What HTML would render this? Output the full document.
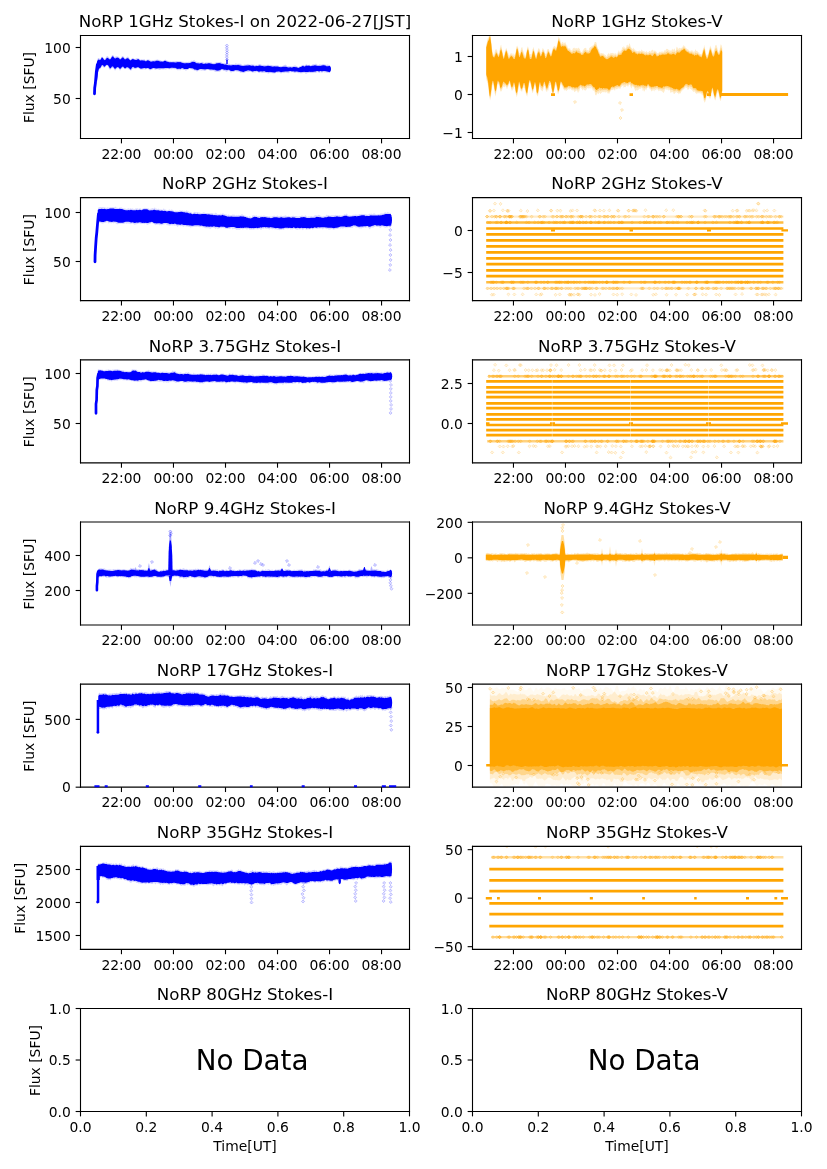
<!DOCTYPE html>
<html><head><meta charset="utf-8"><title>NoRP</title>
<style>html,body{margin:0;padding:0;background:#fff;width:827px;height:1169px;overflow:hidden}
text{font-family:"DejaVu Sans","Liberation Sans",sans-serif}
svg{will-change:transform}
.u0{stroke:#000000;stroke-width:0.8}.u1{fill:#0000ff;fill-opacity:0.1;stroke:#0000ff;stroke-opacity:0.3;stroke-width:0.5;stroke-linejoin:miter}.u2{fill:#ffa500;fill-opacity:0.12;stroke:#ffa500;stroke-opacity:0.36;stroke-width:0.5;stroke-linejoin:miter}.u3{fill:#ffa500;fill-opacity:0.1;stroke:#ffa500;stroke-opacity:0.3;stroke-width:0.5;stroke-linejoin:miter}.u4{fill:#ffa500;fill-opacity:0.14;stroke:#ffa500;stroke-opacity:0.42;stroke-width:0.5;stroke-linejoin:miter}.u5{fill:#0000ff;fill-opacity:0.14;stroke:#0000ff;stroke-opacity:0.42;stroke-width:0.5;stroke-linejoin:miter}.u6{fill:#0000ff;fill-opacity:0.12;stroke:#0000ff;stroke-opacity:0.36;stroke-width:0.5;stroke-linejoin:miter}</style></head>
<body>
<svg width="827" height="1169" viewBox="0 0 595.44 841.68" style="display:block">
<defs>
<style type="text/css">*{stroke-linejoin: round; stroke-linecap: butt}</style>
</defs>
<g id="figure_1">
<g id="patch_1">
<path d="M 0 841.68 595.44 841.68 595.44 0 0 0 z" style="fill: #ffffff"/>
</g>
<g id="axes_1">
<g id="patch_2">
<path d="M 57.96 99.72 294.84 99.72 294.84 25.56 57.96 25.56 z" style="fill: #ffffff"/>
</g>
<g id="matplotlib.axis_1">
<g id="xtick_1">
<g id="line2d_1">
<defs>
<path id="m1504cfccaf" d="M 0 0 0 3.5" style="stroke: #000000; stroke-width: 0.8"/>
</defs>
<g>
<use href="#m1504cfccaf" x="87.45" y="99.72" class="u0"/>
</g>
</g>
<g id="text_1">
<text style="font-size: 10px; font-family: 'DejaVu Sans', 'Liberation Sans', sans-serif; text-anchor: middle" x="87.45" y="114.32">22:00</text>
</g>
</g>
<g id="xtick_2">
<g id="line2d_2">
<g>
<use href="#m1504cfccaf" x="124.9" y="99.72" class="u0"/>
</g>
</g>
<g id="text_2">
<text style="font-size: 10px; font-family: 'DejaVu Sans', 'Liberation Sans', sans-serif; text-anchor: middle" x="124.9" y="114.32">00:00</text>
</g>
</g>
<g id="xtick_3">
<g id="line2d_3">
<g>
<use href="#m1504cfccaf" x="162.36" y="99.72" class="u0"/>
</g>
</g>
<g id="text_3">
<text style="font-size: 10px; font-family: 'DejaVu Sans', 'Liberation Sans', sans-serif; text-anchor: middle" x="162.36" y="114.32">02:00</text>
</g>
</g>
<g id="xtick_4">
<g id="line2d_4">
<g>
<use href="#m1504cfccaf" x="199.81" y="99.72" class="u0"/>
</g>
</g>
<g id="text_4">
<text style="font-size: 10px; font-family: 'DejaVu Sans', 'Liberation Sans', sans-serif; text-anchor: middle" x="199.81" y="114.32">04:00</text>
</g>
</g>
<g id="xtick_5">
<g id="line2d_5">
<g>
<use href="#m1504cfccaf" x="237.26" y="99.72" class="u0"/>
</g>
</g>
<g id="text_5">
<text style="font-size: 10px; font-family: 'DejaVu Sans', 'Liberation Sans', sans-serif; text-anchor: middle" x="237.26" y="114.32">06:00</text>
</g>
</g>
<g id="xtick_6">
<g id="line2d_6">
<g>
<use href="#m1504cfccaf" x="274.71" y="99.72" class="u0"/>
</g>
</g>
<g id="text_6">
<text style="font-size: 10px; font-family: 'DejaVu Sans', 'Liberation Sans', sans-serif; text-anchor: middle" x="274.71" y="114.32">08:00</text>
</g>
</g>
</g>
<g id="matplotlib.axis_2">
<g id="ytick_1">
<g id="line2d_7">
<defs>
<path id="m5d545ce8f8" d="M 0 0 -3.5 0" style="stroke: #000000; stroke-width: 0.8"/>
</defs>
<g>
<use href="#m5d545ce8f8" x="57.96" y="70.92" class="u0"/>
</g>
</g>
<g id="text_7">
<text style="font-size: 10px; font-family: 'DejaVu Sans', 'Liberation Sans', sans-serif; text-anchor: end" x="50.96" y="74.72">50</text>
</g>
</g>
<g id="ytick_2">
<g id="line2d_8">
<g>
<use href="#m5d545ce8f8" x="57.96" y="34.2" class="u0"/>
</g>
</g>
<g id="text_8">
<text style="font-size: 10px; font-family: 'DejaVu Sans', 'Liberation Sans', sans-serif; text-anchor: end" x="50.96" y="38">100</text>
</g>
</g>
<g id="text_9">
<text style="font-size: 10px; font-family: 'DejaVu Sans', 'Liberation Sans', sans-serif; text-anchor: middle" x="24.35" y="63" transform="rotate(-90 24.353 63.000)">Flux [SFU]</text>
</g>
</g>
<g id="patch_3">
<path d="M69.8 43.4l.8-1.6 .7-.1 .7 1 .7-.9 .7-1.1 .8 .5 .7 1.3 .7-.3 .7-.7 .7-1.1 .8 .3 .7 .7 .7 .7 .7-.9 .7-1.2 .8-.6 .7 1.5 .7 .2 .7-.6 .7 .1 .8 .1 .7 .4 .7 .8 .7-.1 .7-1.3 .8-.2 .7 .9 .7 .7 .7-.1 .7-.7 .8-.5 .7 1.2 .7 1 .7 0 .7-.8 .8-.5 .7 .8 .7 .2 .7-.3 .7-.4 .8 .1 .7 .2 .7 .9 .7-.2 .7-.2 .8 .4 .7-.5 .7 .6 .7 .4 .7-.6 .8-.1 .7 .1 .7 .3 .7 .5 .7-.2 .8-.1 .7 .1 .7-.4 .7 .1 .7-.4 .8 .1 .7 .5 .7-.4 .7 .7 .7 0 .8 .2 .7-.6 .7-.2 .7 0 .7 .6 .8 0 .7 .5 .7-.3 .7 .3 .7 .1 .8-.2 .7 0 .7 .1 .7-.3 .7 .1 .8 0 .7 .1 .7-.1 .7 .1 .7 .3 .8 .1 .7 .2 .7 .2 .7-.5 .7 .3 .8-.1 .7-.3 .7 .5 .7-1 .7-.1 .8 .2 .7-.8 .7 .8 .7 .3 .7 .3 .8 .2 .7 0 .7 .4 .7-.3 .7-.4 .8 .3 .7 .6 .7-.2 .7-.3 .7 .2 .8-.1 .7 0 .7 .1 .7-.1 .7 .2 .8 .5 .7-.4 .7 .2 .7-.6 .7 0 .8 .1 .7-.2 .7 0 .7-.2 .7 .8 .8 0 .7 .5 .7-.6 .7 .5 .7 .1 .8 .4 .7-.6 .7 .6 .7 .1 .7-.2 .8 0 .7 .1 .7-.2 .7-.7 .7 1 .8-.5 .7 .3 .7-.3 .7 .5 .7 .4 .8 .2 .7-.5 .7 .1 .7 0 .7-.3 .8-.3 .7 .5 .7 0 .7 .2 .7-.4 .8 .4 .7-.2 .7 .6 .7-.3 .7 .1 .8-.1 .7-.4 .7-.3 .7 .5 .7 .3 .8-.1 .7 .1 .7-.1 .7 .2 .7-.2 .8 0 .7-.1 .7 .3 .7-.2 .7 .3 .8 .2 .7-.1 .7 0 .7-.1 .7 .2 .8-.2 .7 .7 .7-.1 .7-.1 .7 0 .8-.2 .7-.3 .7-.3 .7 0 .7 .9 .8 .3 .7-.5 .7 .5 .7-.3 .7 .4 .8-.4 .7-.2 .7-.3 .7 .3 .7 .3 .8 .5 .7-.2 .7-.4 .7-.1 .7-.5 .8-.3 .7 .2 .7 .2 .7-.8 .7 .2 .8 .4 .7-.5 .7 .4 .7 .3 .7-.5 .8-.4 .7 .1 .7-.1 .7-.5 .7 .8 .8 .3 .7-.2 .7-.3 .7 .3 .7-.2 .8-.4 .7 .3 .7 .1 .7 .2 .7 0 .8-.2 .7 .6 .7-.1 0 5.4-.7 .1-.7 0-.8-.1-.7-.3-.7 .2-.7-.2-.7-.1-.8 .6-.7-.7-.7 .4-.7 .4-.7-.7-.8 .2-.7 .2-.7 .3-.7-.4-.7 .5-.8-.3-.7 .3-.7-.4-.7 0-.7 .3-.8 .2-.7 .4-.7-.6-.7-.2-.7 .1-.8 .2-.7 .1-.7-.1-.7-.2-.7 .2-.8-.7-.7 .4-.7 .2-.7 0-.7-.7-.8 .2-.7-.1-.7-.2-.7 .8-.7 .2-.8-.4-.7-.1-.7-.1-.7 .5-.7-.3-.8 .1-.7 .4-.7-.4-.7-.5-.7 .5-.8-.3-.7 .1-.7 .7-.7-.2-.7 .1-.8-.3-.7 .2-.7-.5-.7 .7-.7 0-.8-.4-.7-.1-.7-.1-.7 0-.7-.1-.8 .2-.7-.4-.7 .1-.7 .5-.7-.6-.8-.5-.7 .3-.7 .5-.7-.5-.7 .5-.8-.3-.7-.5-.7 0-.7 0-.7 .5-.8-.5-.7 .3-.7 .3-.7 .1-.7 .4-.8-.6-.7 .5-.7-.6-.7-.2-.7-.4-.8 0-.7-.1-.7-.1-.7 .6-.7 .1-.8 0-.7 .5-.7-1-.7-.5-.7 .1-.8 .6-.7 0-.7-.6-.7 .2-.7-.5-.8-.5-.7 .5-.7 .9-.7-.1-.7 .2-.8-.1-.7 0-.7 .1-.7-.6-.7-.3-.8 .1-.7 0-.7 0-.7-.5-.7 0-.8 0-.7 .2-.7 .5-.7-.2-.7-.4-.8 .3-.7-.1-.7-.3-.7 .3-.7 .3-.8 .7-.7-.9-.7 .1-.7-.3-.7-.2-.8-.6-.7 .2-.7-.5-.7 .2-.7 .5-.8 .2-.7 .5-.7-.5-.7 0-.7-.2-.8-.3-.7 .4-.7 .4-.7-.7-.7 .7-.8-.5-.7-.3-.7-.3-.7 .4-.7-.6-.8 .7-.7-.5-.7 .3-.7 0-.7-.3-.8 .1-.7 .4-.7-.2-.7 0-.7 .1-.8-.1-.7 0-.7 .5-.7-.2-.7-.3-.8 0-.7 .2-.7 .3-.7-.9-.7 .1-.8 .6-.7 .1-.7 .5-.7-.7-.7-.4-.8-.1-.7 .3-.7 .4-.7-.6-.7 .3-.8 0-.7 .2-.7-.3-.7-.5-.7-.5-.8 .3-.7 .5-.7 .1-.7-.4-.7-.3-.8 .7-.7 1.4-.7-.9-.7-.1-.7-.8-.8-.3-.7 .4-.7 .4-.7-.6-.7-.7-.8 .8-.7 .4-.7 1.1-.7-1.4-.7-.5-.8 .4-.7 .7-.7 .8-.7-1.4-.7-.5-.8-.3-.7 .9-.7 .7-.7-.7-.7-2-.8-.2-.7 .2-.7 1-.7 .1-.7-.5-.8-.7-.7 1.5-.7 1-.7-.1-.7 3-.8 7.2z" clip-path="url(#pdfc930a6b6)" style="fill: #0000ff; opacity: 0.2"/>
</g>
<g id="line2d_9">
<defs>
<path id="mce796437ce" d="M -0 1.1 1.1 0 0 -1.1 -1.1 -0 z" style="stroke: #0000ff; stroke-opacity: 0.3; stroke-width: 0.5; stroke-linejoin: miter"/>
</defs>
<g clip-path="url(#pdfc930a6b6)">
<use href="#mce796437ce" x="163.43" y="42.84" class="u1"/>
<use href="#mce796437ce" x="163.32" y="41.16" class="u1"/>
<use href="#mce796437ce" x="163.33" y="39.48" class="u1"/>
<use href="#mce796437ce" x="163.45" y="37.8" class="u1"/>
<use href="#mce796437ce" x="163.45" y="36.12" class="u1"/>
<use href="#mce796437ce" x="163.32" y="34.44" class="u1"/>
<use href="#mce796437ce" x="163.35" y="32.76" class="u1"/>
</g>
</g>
<g id="patch_4">
<path d="M 57.96 99.72 57.96 25.56" style="fill: none; stroke: #000000; stroke-width: 0.8; stroke-linejoin: miter; stroke-linecap: square"/>
</g>
<g id="patch_5">
<path d="M 294.84 99.72 294.84 25.56" style="fill: none; stroke: #000000; stroke-width: 0.8; stroke-linejoin: miter; stroke-linecap: square"/>
</g>
<g id="patch_6">
<path d="M 57.96 99.72 294.84 99.72" style="fill: none; stroke: #000000; stroke-width: 0.8; stroke-linejoin: miter; stroke-linecap: square"/>
</g>
<g id="patch_7">
<path d="M 57.96 25.56 294.84 25.56" style="fill: none; stroke: #000000; stroke-width: 0.8; stroke-linejoin: miter; stroke-linecap: square"/>
</g>
<g id="patch_8">
<path d="M69.8 44.4l.8-1.4 .7-.1 .7 .5 .7-1 .7-1.1 .8 .6 .7 1.2 .7 .3 .7-.9 .7-1 .8 .2 .7 .7 .7 .5 .7-.8 .7-1.2 .8-.4 .7 1.1 .7 .5 .7-.1 .7-.6 .8 .2 .7 .4 .7 .8 .7-.4 .7-.8 .8-.4 .7 1 .7 .6 .7-.3 .7-.5 .8-.1 .7 .6 .7 .9 .7 0 .7-.8 .8-.1 .7 .4 .7 .2 .7 .1 .7-.2 .8-.5 .7 .4 .7 .7 .7 0 .7-.2 .8 .2 .7-.1 .7 .3 .7 .4 .7-.6 .8-.2 .7 .4 .7 .3 .7 .3 .7-.2 .8-.1 .7 0 .7 .1 .7-.4 .7 0 .8-.1 .7 .3 .7 .3 .7 0 .7 0 .8 .2 .7-.5 .7-.2 .7 .2 .7 .4 .8 .1 .7 .3 .7 0 .7 .1 .7 0 .8-.1 .7 0 .7 .2 .7 0 .7-.2 .8-.1 .7 .1 .7-.1 .7 .2 .7 .2 .8 .2 .7 .2 .7 0 .7 0 .7-.1 .8 .2 .7-.3 .7 .1 .7-.4 .7-.4 .8-.1 .7 .1 .7 0 .7 .7 .7 .3 .8-.1 .7 .3 .7 0 .7-.4 .7 .2 .8 .3 .7 .1 .7-.3 .7 .1 .7 .1 .8-.3 .7 0 .7 0 .7 .3 .7 0 .8 .3 .7-.2 .7 .2 .7-.5 .7-.2 .8 .1 .7-.2 .7 .2 .7 .1 .7 .3 .8-.1 .7 .5 .7 0 .7 0 .7 .2 .8 .4 .7-.1 .7 0 .7 .3 .7-.3 .8-.1 .7 0 .7 .1 .7-.1 .7 .1 .8-.3 .7 .3 .7 0 .7 .4 .7 .1 .8 .2 .7-.3 .7 0 .7-.2 .7 0 .8 .1 .7-.2 .7 0 .7 .3 .7 0 .8-.1 .7 .3 .7 .4 .7-.5 .7 .1 .8 .1 .7-.4 .7-.1 .7 .3 .7 .1 .8 0 .7 .4 .7-.2 .7 0 .7-.2 .8-.1 .7 .2 .7 0 .7 .1 .7 .2 .8 .1 .7-.3 .7 .2 .7-.1 .7 0 .8 .1 .7 .4 .7 0 .7 .1 .7-.1 .8-.2 .7-.1 .7 .1 .7-.1 .7 .2 .8 .4 .7 0 .7-.1 .7 0 .7 .2 .8-.4 .7 0 .7-.1 .7 .3 .7 0 .8 .5 .7-.3 .7-.4 .7-.1 .7-.5 .8-.3 .7 .4 .7 0 .7-.6 .7 .2 .8 0 .7-.2 .7 .3 .7 .2 .7-.3 .8-.1 .7-.1 .7-.3 .7 .2 .7 .3 .8 .1 .7-.1 .7 .2 .7-.3 .7-.2 .8-.1 .7 0 .7 .2 .7 .2 .7 .5 .8-.3 .7 .2 .7-.1 0 3.9-.7 0-.7 0-.8-.1-.7-.2-.7-.1-.7-.1-.7 .1-.8 .2-.7-.2-.7 0-.7 .4-.7-.5-.8 0-.7 .2-.7 .4-.7-.2-.7 .3-.8-.2-.7 .2-.7-.1-.7 0-.7 .1-.8 .1-.7-.1-.7 0-.7-.1-.7 .2-.8 0-.7 .2-.7-.2-.7 0-.7-.3-.8-.2-.7 0-.7 .2-.7-.1-.7-.2-.8 .2-.7-.3-.7-.1-.7 .2-.7 .2-.8-.1-.7 0-.7 .1-.7 .2-.7-.1-.8 .3-.7 .1-.7-.4-.7-.2-.7 .1-.8 .1-.7 0-.7 .8-.7-.3-.7 .1-.8-.4-.7 .2-.7-.3-.7 .4-.7-.3-.8 .1-.7-.1-.7-.3-.7-.4-.7 .3-.8 .1-.7-.2-.7 .2-.7 .2-.7-.2-.8-.5-.7 .2-.7 0-.7-.1-.7 .3-.8 0-.7-.4-.7-.1-.7-.1-.7-.2-.8 .4-.7 .1-.7 .2-.7 .3-.7 .2-.8-.4-.7 .1-.7-.4-.7-.2-.7-.3-.8 0-.7-.2-.7 .2-.7 .4-.7 .1-.8 0-.7 .1-.7-.4-.7-.5-.7 0-.8 .2-.7-.2-.7-.1-.7 .1-.7-.5-.8-.2-.7 .4-.7 .6-.7 0-.7 .3-.8-.1-.7-.1-.7-.4-.7-.1-.7 0-.8-.1-.7 0-.7 0-.7-.3-.7-.2-.8 .1-.7 .2-.7 .1-.7-.1-.7 0-.8-.3-.7 .1-.7 0-.7 .3-.7 .4-.8 .2-.7-.5-.7 .1-.7-.3-.7-.5-.8-.2-.7 0-.7-.3-.7 .1-.7 .6-.8 0-.7 0-.7 0-.7 .1-.7-.5-.8-.2-.7 .5-.7 .1-.7-.2-.7 .2-.8-.1-.7-.3-.7-.4-.7 .1-.7-.2-.8 .1-.7-.1-.7 .5-.7-.1-.7-.2-.8 0-.7 .1-.7-.1-.7 .3-.7 0-.8 0-.7-.1-.7 0-.7 0-.7 .1-.8 .1-.7 0-.7-.1-.7-.3-.7 0-.8 .4-.7 .3-.7 .2-.7-.5-.7-.3-.8-.1-.7 .4-.7-.4-.7 .1-.7 .1-.8 .3-.7 .1-.7-.3-.7-.4-.7-.5-.8 .3-.7 .1-.7 .3-.7-.4-.7-.5-.8 .5-.7 1.4-.7-.2-.7-.8-.7-.4-.8-.3-.7 .6-.7 .4-.7-.6-.7-.8-.8 .4-.7 .8-.7 .6-.7-.8-.7-.6-.8 .1-.7 .8-.7 .5-.7-.8-.7-1.1-.8 0-.7 1.2-.7 .3-.7-1.1-.7-1.3-.8-.3-.7 .4-.7 .8-.7 .2-.7-1-.8-.2-.7 1.4-.7 1-.7 .1-.7 2.8-.8 6.7z" clip-path="url(#pdfc930a6b6)" style="fill: #0000ff"/>
</g>
<g id="line2d_10">
<path d="M 68.04 67.54 68.18 63.36 68.69 59.76 69.34 51.84 70.06 46.8 70.78 45.36" clip-path="url(#pdfc930a6b6)" style="fill: none; stroke: #0000ff; stroke-width: 2.016; stroke-linecap: round"/>
</g>
<g id="patch_9">
<path d="M 162.94 42.84 163.94 42.84 163.94 46.08 162.94 46.08 z" clip-path="url(#pdfc930a6b6)" style="fill: #0000ff"/>
</g>
<g id="patch_10">
<path d="M 238.32 49.68 238.17 50.83 237.74 51.68 237.17 51.98 236.59 51.68 236.17 50.83 236.02 49.68 236.17 48.53 236.59 47.68 237.17 47.38 237.74 47.68 238.17 48.53 z" clip-path="url(#pdfc930a6b6)" style="fill: #0000ff"/>
</g>
<g id="text_10">
<text style="font-size: 12px; font-family: 'DejaVu Sans', 'Liberation Sans', sans-serif; text-anchor: middle" x="176.4" y="19.56">NoRP 1GHz Stokes-I on 2022-06-27[JST]</text>
</g>
</g>
<g id="axes_2">
<g id="patch_11">
<path d="M 340.2 99.72 577.08 99.72 577.08 25.56 340.2 25.56 z" style="fill: #ffffff"/>
</g>
<g id="matplotlib.axis_3">
<g id="xtick_7">
<g id="line2d_11">
<g>
<use href="#m1504cfccaf" x="369.69" y="99.72" class="u0"/>
</g>
</g>
<g id="text_11">
<text style="font-size: 10px; font-family: 'DejaVu Sans', 'Liberation Sans', sans-serif; text-anchor: middle" x="369.69" y="114.32">22:00</text>
</g>
</g>
<g id="xtick_8">
<g id="line2d_12">
<g>
<use href="#m1504cfccaf" x="407.14" y="99.72" class="u0"/>
</g>
</g>
<g id="text_12">
<text style="font-size: 10px; font-family: 'DejaVu Sans', 'Liberation Sans', sans-serif; text-anchor: middle" x="407.14" y="114.32">00:00</text>
</g>
</g>
<g id="xtick_9">
<g id="line2d_13">
<g>
<use href="#m1504cfccaf" x="444.6" y="99.72" class="u0"/>
</g>
</g>
<g id="text_13">
<text style="font-size: 10px; font-family: 'DejaVu Sans', 'Liberation Sans', sans-serif; text-anchor: middle" x="444.6" y="114.32">02:00</text>
</g>
</g>
<g id="xtick_10">
<g id="line2d_14">
<g>
<use href="#m1504cfccaf" x="482.05" y="99.72" class="u0"/>
</g>
</g>
<g id="text_14">
<text style="font-size: 10px; font-family: 'DejaVu Sans', 'Liberation Sans', sans-serif; text-anchor: middle" x="482.05" y="114.32">04:00</text>
</g>
</g>
<g id="xtick_11">
<g id="line2d_15">
<g>
<use href="#m1504cfccaf" x="519.5" y="99.72" class="u0"/>
</g>
</g>
<g id="text_15">
<text style="font-size: 10px; font-family: 'DejaVu Sans', 'Liberation Sans', sans-serif; text-anchor: middle" x="519.5" y="114.32">06:00</text>
</g>
</g>
<g id="xtick_12">
<g id="line2d_16">
<g>
<use href="#m1504cfccaf" x="556.95" y="99.72" class="u0"/>
</g>
</g>
<g id="text_16">
<text style="font-size: 10px; font-family: 'DejaVu Sans', 'Liberation Sans', sans-serif; text-anchor: middle" x="556.95" y="114.32">08:00</text>
</g>
</g>
</g>
<g id="matplotlib.axis_4">
<g id="ytick_3">
<g id="line2d_17">
<g>
<use href="#m5d545ce8f8" x="340.2" y="95.4" class="u0"/>
</g>
</g>
<g id="text_17">
<text style="font-size: 10px; font-family: 'DejaVu Sans', 'Liberation Sans', sans-serif; text-anchor: end" x="333.2" y="99.2">−1</text>
</g>
</g>
<g id="ytick_4">
<g id="line2d_18">
<g>
<use href="#m5d545ce8f8" x="340.2" y="68.04" class="u0"/>
</g>
</g>
<g id="text_18">
<text style="font-size: 10px; font-family: 'DejaVu Sans', 'Liberation Sans', sans-serif; text-anchor: end" x="333.2" y="71.84">0</text>
</g>
</g>
<g id="ytick_5">
<g id="line2d_19">
<g>
<use href="#m5d545ce8f8" x="340.2" y="40.68" class="u0"/>
</g>
</g>
<g id="text_19">
<text style="font-size: 10px; font-family: 'DejaVu Sans', 'Liberation Sans', sans-serif; text-anchor: end" x="333.2" y="44.48">1</text>
</g>
</g>
</g>
<g id="patch_12">
<path d="M350.1 31.7l.3-.5 .4-1.4 .3-2 .4-.6 .4-.8 .3-2.3 .4-1.1 .3 .2 .4 3.4 .4 3.2 .3 2.9 .4 3.3 .3 1.7 .4 1.1 .4 .6 .3 .3 .4-2.6 .3-1.1 .4-.5 .4 .3 .3-.5 .4 1.1 .3 1.6 .4 .9 .4-.3 .3-1.5 .4-1.3 .3-1.8 .4-1.5 .4-.2 .3 2.2 .4 1.6 .3 1.5 .4 1.8 .4 1.2 .3-1.2 .4-1.7 .3-.8 .4-1.4 .4-1.1 .3 1 .4 1.1 .3 .4 .4 1 .4 1.6 .3 .7 .4-.7 .3-1 .4 .2 .4-.6 .3 .6 .4-.5 .3 1.1 .4 .3 .4-1.5 .3 .9 .4 .8 .3-1.6 .4-.6 .4-3.6 .3-.6 .4-.7 .3 1 .4 .6 .4 2.6 .3 1.2 .4 .2 .3 .2 .4-2.4 .4-1.5 .3-.4 .4-.3 .3 1.2 .4 1.6 .4 .9 .3 1 .4 .9 .3 .6 .4-.3 .4-2.4 .3-.8 .4-2.1 .3-1 .4 .1 .4 2 .3 .7 .4 3 .3-.5 .4 .3 .4 .2 .3-.6 .4-2.5 .3-.9 .4-.5 .4-1.2 .3 2.3 .4 1.3 .3 .7 .4 2.1 .4-.1 .3-1.1 .4-1 .3-1.3 .4-1.7 .4 .2 .3-.1 .4 .8 .3 .7 .4 1.9 .4-1.2 .3 .7 .4-2 .3-1.2 .4 .3 .4 .7 .3 .4 .4 1.5 .3 1.3 .4-.5 .4 .5 .3-1.2 .4-1.9 .3-.3 .4-.2 .4 0 .3 .9 .4 1.5 .3 0 .4 1.3 .4-.7 .3-1 .4-.9 .3-1.7 .4-.8 .4-.3 .3-.4 .4-.2 .3 .4 .4 .6 .4 .3 .3-1.1 .4-1.6 .3-1.4 .4-2.1 .4-2.1 .3 1.4 .4 .5 .3 .5 .4 1.9 .4 1.6 .3-1 .4-.3 .3-.4 .4 .4 .4 1 .3-1.1 .4 .7 .3-1.1 .4 1.1 .4 .9 .3 .8 .4-.3 .3 1.9 .4 .3 .4 .2 .3-.4 .4 .6 .3-.1 .4 1.2 .4 .1 .3-.1 .4 .2 .3-1.3 .4-.3 .4-.4 .3 .5 .4-.8 .3 1.2 .4-.7 .4 .2 .3 0 .4-.2 .3 .7 .4-1 .4 .1 .3 .8 .4-.5 .3 1.4 .4 .9 .4 .6 .3-.3 .4 .3 .3-1.1 .4-.5 .4-.7 .3-.3 .4-.4 .3 .1 .4-.3 .4 .2 .3 1.9 .4-.7 .3 .2 .4 .4 .4 0 .3-2.1 .4 .2 .3-.6 .4-.1 .4-.5 .3 .2 .4-.2 .3-.6 .4-.1 .4-.3 .3-.6 .4-1.4 .3 0 .4-.1 .4 .2 .3 .9 .4 2.1 .3 .8 .4 1 .4 .2 .3 .9 .4 1.6 .3 .9 .4-.8 .4 .4 .3-.2 .4 .2 .3 .1 .4 .1 .4 0 .3 .5 .4 .2 .3 .4 .4-.3 .4 1.2 .3-.1 .4-.9 .3-.6 .4-.2 .4-.9 .3 .5 .4 1.1 .3-.8 .4-.8 .4 .4 .3-.2 .4-.2 .3 .5 .4-.1 .4 .2 .3-.6 .4 1.3 .3-.5 .4-.5 .4 .4 .3 1 .4-.6 .3-1 .4-.8 .4-1 .3 .3 .4 1.2 .3-.3 .4-1 .4-.1 .3-.7 .4-1.5 .3-.3 .4 .6 .4-1.2 .3 .4 .4 .7 .3-.1 .4 .7 .4-1 .3-1.3 .4-.5 .3 .5 .4 .5 .4-.6 .3-1 .4-.4 .3 1.2 .4 1.4 .4 .8 .3-.3 .4 1.1 .3 0 .4-1.1 .4 .8 .3 .4 .4 .3 .3 .2 .4 .6 .4 .2 .3-.3 .4 .7 .3-.4 .4-.1 .4 .3 .3-.3 .4-.2 .3 .3 .4 .2 .4-.6 .3-.8 .4 .9 .3 .2 .4 .3 .4-.2 .3 .9 .4-1.1 .3 1.2 .4-.4 .4-.2 .3-.4 .4 1 .3 .1 .4-.2 .4-.2 .3-.7 .4 .1 .3 .3 .4 .2 .4-1.1 .3 .4 .4-.7 .3 0 .4 .1 .4 1.4 .3-.8 .4-.2 .3 0 .4 .6 .4 0 .3 .6 .4 .5 .3 .3 .4-.2 .4-.3 .3-.8 .4 .3 .3-.3 .4 .5 .4-.7 .3 .3 .4 .2 .3-.5 .4 .2 .4 .3 .3-.5 .4-1.1 .3 .7 .4-.4 .4-1.1 .3 .4 .4-.1 .3-.2 .4 .7 .4 .1 .3 0 .4 .6 .3-.3 .4 .4 .4-.1 .3-.4 .4-1.1 .3 .4 .4 .9 .4-.8 .3-.4 .4-.1 .3 1.3 .4 .5 .4-2.1 .3-1.1 .4 .3 .3 .6 .4 1 .4-.7 .3 0 .4-.5 .3 .3 .4 .3 .4-.4 .3-.2 .4-.1 .3-.7 .4-.2 .4-1 .3 .7 .4 .5 .3-.2 .4 1.4 .4 .1 .3 .1 .4 .4 .3 .1 .4 0 .4 1.1 .3 .3 .4-.3 .3-.1 .4 .6 .4-.6 .3 0 .4-.2 .3 .7 .4 .5 .4-.3 .3-.3 .4 .7 .3-1.3 .4-.9 .4 1.5 .3 0 .4-.2 .3 .6 .4 .3 .4 .4 .3-.3 .4 1.4 .3-.1 .4-.1 .4-.2 .3 .8 .4-1.6 .3-1.4 .4-1.5 .4-.5 .3-2.1 .4 1.8 .3 1.4 .4 1.2 .4 2.5 .3 .6 .4-.5 .3 .4 .4-1.7 .4-.4 .3-1.7 .4-1.6 .3-1.5 .4 .8 .4 .7 .3 1.1 .4 1.5 .3 1.2 .4-.1 .4-.9 .3-1.2 .4-1.3 .3-1.4 .4-.8 .4-.1 .3 .7 .4 1.2 .3 1.6 .4 1.2 .4 .6 .3-.9 .4-.8 .3-2.3 .4-1.7 .4 .3 .3 .6 .4 1.3 0 33.8-.4 1.2-.3 2-.4 1.6-.4-.3-.3-1.1-.4-1.2-.3-2.3-.4-1.1-.4-.2-.3 .4-.4 1.5-.3 1.8-.4 1.6-.4 .5-.3-.6-.4-.8-.3-2.1-.4-1.7-.4-1.5-.3 .1-.4 1.5-.3 1.4-.4 1.6-.4 1.1-.3-.5-.4-.2-.3-1.2-.4 .5-.4-2.3-.3 1.9-.4-.5-.3 1.3-.4 2.1-.4 1-.3 .6-.4-1-.3-.5-.4-2.5-.4-2.2-.3 1-.4-.7-.3-.7-.4-.1-.4 0-.3-.2-.4 .1-.3 .1-.4-.3-.4 .2-.3 .1-.4 .6-.3-.8-.4 .1-.4-.6-.3-.6-.4-.3-.3 .1-.4 .7-.4-1.2-.3-.2-.4-.9-.3 .6-.4-1-.4 .6-.3-1.6-.4 1.2-.3 .5-.4-.2-.4 .5-.3-1.2-.4-.5-.3 0-.4-.1-.4 0-.3 .7-.4 .2-.3 .3-.4 .5-.4-.1-.3 .7-.4 .3-.3 .5-.4 1.1-.4 .2-.3-.5-.4 .8-.3 .4-.4-1.1-.4 0-.3-.1-.4-.4-.3-.2-.4 .4-.4 0-.3 1.2-.4-.5-.3 .2-.4-1.1-.4-.4-.3 .5-.4-.1-.3 0-.4 .7-.4-1.4-.3-1-.4 0-.3 .5-.4-.7-.4-.1-.3 .2-.4-.3-.3 .2-.4-.6-.4 .6-.3 .6-.4 1.1-.3 .4-.4 0-.4-.5-.3-.3-.4-.6-.3 .5-.4-.9-.4 .6-.3-.6-.4 .7-.3 .1-.4-.7-.4-.5-.3 0-.4-.6-.3 1-.4-.3-.4 .3-.3 1.2-.4-1.9-.3 .2-.4 1.3-.4-.9-.3 .8-.4-.2-.3 .6-.4-1.7-.4 .2-.3-.2-.4-.9-.3-.5-.4 .1-.4 .2-.3-.1-.4 .8-.3 1.2-.4-.9-.4 .2-.3 1.1-.4 .5-.3-1.8-.4 1.7-.4-.7-.3-1.8-.4-.3-.3 .7-.4-.1-.4 .4-.3-.2-.4 0-.3 .6-.4 .3-.4 0-.3 .7-.4-1.1-.3 1-.4 0-.4-.1-.3-.9-.4-.8-.3-1.1-.4 .4-.4-.6-.3-.4-.4 1.6-.3 0-.4-.8-.4-.9-.3-.9-.4 .3-.3 .1-.4 1.2-.4-.2-.3-.3-.4-.3-.3-.2-.4 1.1-.4 .3-.3-.2-.4 0-.3 .6-.4-1.9-.4 .4-.3 .1-.4 .7-.3-.5-.4 1.4-.4 .4-.3-.1-.4-.1-.3 0-.4-.1-.4 .9-.3-.9-.4 .8-.3-.2-.4-.6-.4 1.5-.3-.6-.4 1.1-.3-1.4-.4 .3-.4 .4-.3-.2-.4 .2-.3-.1-.4 .5-.4 1-.3 .3-.4 1-.3-.4-.4 .2-.4-.1-.3-.8-.4 .1-.3-.8-.4 .9-.4-.3-.3 .2-.4-.7-.3 .5-.4 .1-.4-.3-.3 .2-.4 .4-.3 .1-.4 .7-.4-.1-.3-1.1-.4 .7-.3 .3-.4 .5-.4-.9-.3 .3-.4 .8-.3 .7-.4-.3-.4-.3-.3-1.7-.4-1.6-.3 .3-.4 .2-.4-.4-.3-1.3-.4 .2-.3-1.3-.4 .7-.4 .6-.3-.2-.4-.7-.3 .7-.4 .1-.4-.4-.3 .1-.4 .7-.3 .5-.4 .9-.4-.9-.3 .3-.4-.1-.3-.7-.4 .1-.4 1.1-.3-1-.4-.8-.3 .4-.4-.8-.4-.1-.3 1.6-.4 1.2-.3-.2-.4 1.3-.4-.6-.3-1-.4-.2-.3-.1-.4 .9-.4-.6-.3 1-.4-.4-.3-.6-.4-.8-.4 .7-.3-.5-.4 .1-.3-.4-.4-.3-.4-.5-.3 .6-.4 .3-.3-.4-.4-.1-.4 .9-.3-.4-.4 .7-.3 .4-.4-.8-.4-.1-.3 .3-.4-.1-.3-.9-.4 .4-.4-1.6-.3-1.1-.4-.2-.3-.8-.4 .2-.4 1.5-.3 1.8-.4 1.6-.3 1-.4 .8-.4-.4-.3-3-.4-.8-.3-1-.4-1.5-.4 1.4-.3 1.6-.4 1.4-.3 2.2-.4 1.4-.4-.5-.3-1.7-.4-1.3-.3-2.1-.4-2.2-.4-.1-.3 .5-.4 .4-.3 1.5-.4 2-.4-1-.3 1.4-.4 .5-.3-1.1-.4-.2-.4-2.9-.3-.7-.4 .8-.3 .4-.4 2.1-.4 .8-.3 .3-.4-.9-.3 .1-.4-.6-.4-1.4-.3-1.1-.4 1.1-.3 2.2-.4 3.2-.4 1-.3-.8-.4-.5-.3-2.8-.4-2.2-.4-1.4-.3-.6-.4 2.3-.3 .7-.4 2.1-.4 .9-.3-.6-.4-1.7-.3-2-.4-1.8-.4-.9-.3-.6-.4 .6-.3 1.9-.4 2.2-.4 2.8-.3 2.6-.4-.8-.3-.6-.4-1.4-.4-1.5-.3-1.8-.4-.2-.3-.1-.4-.7-.4 2.1-.3 1.1-.4 .2-.3-.5-.4 .1-.4-2.2-.3-1.2-.4-1.2-.3 2.4-.4 1.6-.4 2.6-.3 1.1-.4 1.4-.3-1.1-.4-1.8-.4-1.8-.3-2.8-.4-.3-.3 1.3-.4 .7-.4 .4-.3 .6-.4-.1-.3-1-.4-1.5-.4-1.4-.3-1-.4-.4-.3 1.5-.4 .8-.4 .8-.3 1-.4-.1-.3-1-.4-.7-.4-.3-.3 .5-.4 .6-.3-.9-.4 .5-.4 .7-.3 1.3-.4 .9-.3 .4-.4-.1-.4-.2-.3-2.3-.4-1.9-.3-.5-.4-.2-.4-.6-.3 2-.4 2.3-.3 2.1-.4 3-.4-1.1-.3-1.1-.4-2.8-.3-2-.4-1.6-.4 0-.3 1.3-.4 3.2-.3 2.9-.4 2.3-.4 1.8-.3-1.3-.4-2.5-.3-2.9-.4-3.5-.4-2.1-.3-.7-.4-1.2-.3-1.3z" clip-path="url(#p4c60e85356)" style="fill: #ffa500; opacity: 0.22"/>
</g>
<g id="patch_13">
<path d="M350.1 33.1l.3-.8 .4-1.4 .3-1.6 .4-.9 .4-.5 .3-1.7 .4-1.2 .3 0 .4 2.9 .4 3 .3 3.1 .4 3.5 .3 1.7 .4 .9 .4 .3 .3 .3 .4-1.6 .3-.9 .4-.9 .4 0 .3-.4 .4 1 .3 1.2 .4 .9 .4 0 .3-1.2 .4-1.3 .3-1.9 .4-1.2 .4-.3 .3 1.7 .4 1.5 .3 1.6 .4 1.7 .4 1.2 .3-1.1 .4-1.5 .3-1.3 .4-1.3 .4-1.1 .3 .9 .4 1.2 .3 1.1 .4 1.1 .4 1.4 .3 .1 .4-.6 .3-.7 .4-.2 .4-.4 .3 .3 .4 0 .3 .6 .4 .6 .4-.5 .3 .4 .4 .4 .3-1.3 .4-1.3 .4-2.9 .3-1 .4-.7 .3 .9 .4 1 .4 2.5 .3 1.2 .4 .3 .3-.4 .4-1.9 .4-1.4 .3-.1 .4 0 .3 1.1 .4 1.4 .4 1.2 .3 .6 .4 .6 .3 .2 .4-.1 .4-2.1 .3-1.4 .4-2 .3-.8 .4 0 .4 1.9 .3 1.4 .4 2.7 .3 0 .4 .2 .4 0 .3-.7 .4-2.3 .3-1 .4-.9 .4-.8 .3 1.7 .4 1.5 .3 1 .4 1.7 .4 .2 .3-1.1 .4-1.4 .3-1.3 .4-1.1 .4 0 .3 0 .4 .9 .3 .9 .4 1.3 .4-.7 .3-.1 .4-1.6 .3-1 .4 0 .4 .7 .3 .3 .4 1.6 .3 1.5 .4 0 .4-.1 .3-.8 .4-1.7 .3-.6 .4-.6 .4 0 .3 .7 .4 1.4 .3 .2 .4 1.1 .4-.4 .3-.8 .4-1.4 .3-1.4 .4-1.1 .4-.3 .3-.3 .4 .3 .3 .3 .4 .6 .4 0 .3-1.3 .4-1.4 .3-1.4 .4-2.2 .4-1.5 .3 1 .4 .6 .3 .7 .4 2 .4 1.1 .3-.8 .4-.3 .3 0 .4 .2 .4 .5 .3-.6 .4 .4 .3-.6 .4 .7 .4 .8 .3 .8 .4 .1 .3 1.3 .4 .3 .4 .1 .3 0 .4 .5 .3-.1 .4 .9 .4 .3 .3 .1 .4 0 .3-.5 .4-.4 .4-.3 .3 .5 .4-.4 .3 .3 .4-.5 .4-.1 .3-.2 .4 .1 .3 .7 .4-.5 .4 .2 .3 .5 .4-.3 .3 .5 .4 .8 .4 .7 .3-.2 .4 .1 .3-.4 .4-.3 .4-.8 .3-.5 .4-.1 .3-.2 .4-.2 .4 .2 .3 1.3 .4-.4 .3 .2 .4 .1 .4 .1 .3-1.1 .4 .1 .3-.5 .4-.5 .4-.7 .3-.2 .4-.3 .3-.6 .4-.2 .4-.3 .3-.5 .4-1 .3 .1 .4 .2 .4 .4 .3 1 .4 1.1 .3 .8 .4 1.2 .4 .6 .3 .5 .4 1.4 .3 .8 .4-.4 .4 0 .3 0 .4 0 .3 0 .4 .1 .4 .4 .3 .4 .4 .2 .3 .4 .4 0 .4 .6 .3 0 .4-.3 .3-.4 .4-.1 .4-.7 .3 0 .4 .5 .3-.4 .4-.8 .4 .2 .3-.1 .4 .1 .3 .3 .4 .2 .4 .1 .3-.4 .4 .5 .3-.5 .4-.1 .4 .4 .3 .5 .4-.6 .3-.5 .4-.7 .4-.9 .3 .3 .4 .7 .3-.4 .4-.4 .4 0 .3-.8 .4-1.1 .3-.2 .4-.1 .4-.9 .3 .1 .4 .3 .3 0 .4 .5 .4-.5 .3-.9 .4-.4 .3 .1 .4 0 .4-.3 .3-.3 .4-.3 .3 .8 .4 1 .4 .5 .3 .2 .4 1 .3 0 .4-.7 .4 .4 .3 .2 .4 0 .3 .2 .4 .8 .4 .1 .3-.2 .4 .7 .3-.2 .4-.4 .4 .2 .3 .1 .4-.5 .3 .3 .4 .2 .4-.4 .3-.4 .4 .6 .3-.1 .4 .3 .4 0 .3 .8 .4-.7 .3 .8 .4-.2 .4-.1 .3-.5 .4 .7 .3 .1 .4-.1 .4-.1 .3-.5 .4 0 .3 0 .4 .3 .4-.3 .3 .4 .4-.2 .3 0 .4-.4 .4 .5 .3-.8 .4 0 .3-.2 .4 .7 .4 .3 .3 .7 .4 .2 .3 .2 .4-.3 .4-.1 .3-.6 .4-.1 .3-.1 .4 .5 .4-.6 .3 .1 .4 0 .3-.2 .4 0 .4 .3 .3-.2 .4-.6 .3 .5 .4-.4 .4-.5 .3 .1 .4-.2 .3-.4 .4 .4 .4 .2 .3 0 .4 .6 .3-.2 .4 .3 .4 0 .3-.3 .4-.6 .3 .1 .4 .3 .4-.3 .3-.1 .4 .1 .3 .9 .4-.1 .4-1.2 .3-.8 .4-.1 .3 .2 .4 .7 .4-.5 .3 .1 .4-.3 .3-.1 .4 0 .4-.4 .3-.3 .4-.2 .3-.2 .4-.4 .4-.6 .3 .2 .4 .4 .3 0 .4 1.2 .4 0 .3 .4 .4 .4 .3 .1 .4-.3 .4 1.1 .3 .4 .4-.4 .3 0 .4 .5 .4-.4 .3 0 .4 0 .3 .7 .4 .2 .4-.2 .3 .2 .4 .5 .3-.8 .4-.6 .4 .9 .3-.2 .4-.4 .3 .5 .4 .3 .4 .4 .3-.4 .4 1.4 .3-.2 .4 0 .4-.1 .3 .7 .4-1.5 .3-1.3 .4-1.4 .4-.9 .3-1.5 .4 1.6 .3 1.6 .4 1.5 .4 1.7 .3 1 .4-.4 .3 .1 .4-1.5 .4-.9 .3-1.6 .4-1.6 .3-1.1 .4 .6 .4 1 .3 1 .4 1.4 .3 1.1 .4 .1 .4-.5 .3-.8 .4-1.3 .3-1.5 .4-.7 .4-.1 .3 .4 .4 1 .3 1.3 .4 .9 .4 .4 .3-.4 .4-.5 .3-1.7 .4-1.7 .4 .1 .3 .5 .4 1 0 30.5-.4 1.5-.3 2-.4 1.4-.4-.1-.3-1-.4-1.6-.3-1.9-.4-1.2-.4-.3-.3 .5-.4 1.2-.3 1.5-.4 1.7-.4 1-.3-.8-.4-.7-.3-1.8-.4-2.1-.4-1.6-.3 .4-.4 1.3-.3 1.6-.4 1.7-.4 .9-.3-.4-.4-.3-.3-1.3-.4-.2-.4-1.5-.3 1.2-.4 .2-.3 1.4-.4 1.9-.4 1-.3 .2-.4-.6-.3-1.2-.4-2.1-.4-1.7-.3 .5-.4-.5-.3-.2-.4-.3-.4 .2-.3-.2-.4 0-.3 .1-.4-.3-.4 .1-.3-.1-.4 .2-.3-.8-.4-.1-.4-.3-.3-.3-.4-.2-.3 .1-.4 .1-.4-.8-.3-.5-.4-.8-.3 .1-.4-.4-.4 .3-.3-.8-.4 .8-.3 .3-.4-.2-.4 0-.3-.7-.4-.2-.3-.1-.4 .1-.4 .2-.3 .6-.4 .1-.3 .6-.4 .5-.4-.1-.3 .7-.4 .2-.3 .2-.4 .8-.4 .4-.3-.2-.4 .7-.3 .1-.4-1-.4 .1-.3-.2-.4-.3-.3-.2-.4 .5-.4-.1-.3 .6-.4-.5-.3 .4-.4-.9-.4-.3-.3 .3-.4-.1-.3-.4-.4 .6-.4-1-.3-.5-.4 .1-.3 .2-.4-.7-.4 .1-.3 0-.4-.3-.3 .5-.4-.5-.4 .3-.3 .5-.4 .4-.3-.1-.4 .5-.4 0-.3-.2-.4-.1-.3 .1-.4-.5-.4 .4-.3-.4-.4 .2-.3 .2-.4-.5-.4-.6-.3 0-.4-.2-.3 .4-.4-.2-.4 .5-.3 .5-.4-1.2-.3 .3-.4 .9-.4-.5-.3 .2-.4 0-.3 .6-.4-1.2-.4 0-.3-.2-.4-.6-.3-.6-.4-.1-.4 .2-.3 .2-.4 .7-.3 .8-.4-.6-.4-.2-.3 .6-.4 .3-.3-1.2-.4 1-.4-.3-.3-1.1-.4 0-.3 .4-.4-.1-.4 .4-.3 0-.4-.2-.3 .1-.4 .4-.4-.2-.3 .5-.4-.9-.3 .7-.4-.2-.4 .2-.3-.6-.4-.5-.3-.6-.4 .1-.4-.4-.3-.5-.4 1-.3-.2-.4-.7-.4-.7-.3-.3-.4 .2-.3 .1-.4 .8-.4 0-.3-.1-.4-.3-.3-.1-.4 .5-.4-.1-.3-.1-.4 0-.3 .6-.4-1.1-.4 .4-.3 .2-.4 .4-.3-.3-.4 1.2-.4 .4-.3 .2-.4 0-.3 0-.4-.3-.4 .4-.3-.5-.4 .4-.3 .2-.4-.3-.4 .8-.3-.2-.4 .7-.3-.7-.4 .3-.4 0-.3-.2-.4 .3-.3 0-.4 .6-.4 1-.3 .3-.4 .5-.3-.1-.4-.2-.4-.4-.3-.2-.4-.1-.3-.3-.4 .3-.4-.2-.3 .2-.4-.4-.3 .2-.4 .1-.4 0-.3 .1-.4-.1-.3 .1-.4 .3-.4 .1-.3-.9-.4 .7-.3 .2-.4 .4-.4-.4-.3 .6-.4 .2-.3 .4-.4-.4-.4-.3-.3-1.3-.4-1-.3 .2-.4-.1-.4-.4-.3-.8-.4 .1-.3-1.2-.4 .4-.4 .2-.3-.1-.4-.1-.3 .5-.4-.3-.4 0-.3 .1-.4 .3-.3 .5-.4 .6-.4-.5-.3 .4-.4 0-.3-.6-.4 .1-.4 .5-.3-.6-.4-.5-.3 .3-.4-.5-.4-.2-.3 1-.4 .8-.3 .1-.4 .6-.4 .3-.3-.7-.4-.2-.3 .3-.4 .4-.4-.6-.3 .6-.4-.2-.3-.4-.4-.3-.4 .5-.3-.6-.4 .1-.3-.3-.4-.2-.4-.5-.3 .5-.4 .1-.3-.3-.4 0-.4 .7-.3-.2-.4 .3-.3 .6-.4-.4-.4-.2-.3 .3-.4-.2-.3-1-.4 .1-.4-1.2-.3-1.1-.4-.3-.3-.5-.4-.1-.4 1.4-.3 2.2-.4 1.6-.3 1-.4 .4-.4-.5-.3-2.5-.4-1.4-.3-1.1-.4-1-.4 .7-.3 1.9-.4 1.8-.3 2-.4 1.4-.4-.2-.3-1.6-.4-1.6-.3-2.2-.4-2-.4-.3-.3 .1-.4 0-.3 1.6-.4 1.7-.4 .2-.3 1.4-.4 .2-.3-.9-.4-.8-.4-2.1-.3-1.2-.4 .6-.3 .5-.4 1.7-.4 .9-.3 .4-.4-.6-.3-.2-.4-.8-.4-1.4-.3-.6-.4 1.3-.3 2.5-.4 2.9-.4 1-.3-.4-.4-.5-.3-3-.4-2.5-.4-1.3-.3-.2-.4 2-.3 1-.4 1.9-.4 .7-.3-.5-.4-1.8-.3-1.7-.4-1.9-.4-.9-.3-.5-.4 .7-.3 1.7-.4 2.4-.4 2.6-.3 2.3-.4-.5-.3-.4-.4-1.7-.4-2.2-.3-1.8-.4-.2-.3 0-.4 .2-.4 2-.3 .9-.4 .5-.3-.5-.4-.4-.4-2-.3-1.3-.4-1.1-.3 1.6-.4 1.9-.4 2.6-.3 1.5-.4 1.1-.3-.6-.4-1.8-.4-2.3-.3-2.3-.4-.7-.3 .6-.4 .9-.4 1-.3 .6-.4 .1-.3-.8-.4-1.6-.4-1.5-.3-.8-.4-.3-.3 1.4-.4 .9-.4 .6-.3 .7-.4-.1-.3-.7-.4-.6-.4-.3-.3-.1-.4 .4-.3-.8-.4 .3-.4 1-.3 1.4-.4 1-.3 .3-.4 .2-.4-.4-.3-2.3-.4-1.7-.3-.3-.4-.5-.4-.3-.3 2-.4 2.3-.3 2-.4 2.3-.4-.9-.3-1.1-.4-2.6-.3-2-.4-1.5-.4-.1-.3 1.1-.4 2.8-.3 3-.4 2.5-.4 2.1-.3-1-.4-2.4-.3-3.3-.4-3.4-.4-2.4-.3-1-.4-1.1-.3-1.3z" clip-path="url(#p4c60e85356)" style="fill: #ffa500; opacity: 0.3"/>
</g>
<g id="line2d_20">
<defs>
<path id="m5033db8bdf" d="M -0 1.1 1.1 0 0 -1.1 -1.1 -0 z" style="stroke: #ffa500; stroke-opacity: 0.36; stroke-width: 0.5; stroke-linejoin: miter"/>
</defs>
<g clip-path="url(#p4c60e85356)">
<use href="#m5033db8bdf" x="414" y="73.44" class="u2"/>
<use href="#m5033db8bdf" x="446.4" y="74.16" class="u2"/>
<use href="#m5033db8bdf" x="447.84" y="79.2" class="u2"/>
<use href="#m5033db8bdf" x="446.76" y="84.96" class="u2"/>
</g>
</g>
<g id="patch_14">
<path d="M 340.2 99.72 340.2 25.56" style="fill: none; stroke: #000000; stroke-width: 0.8; stroke-linejoin: miter; stroke-linecap: square"/>
</g>
<g id="patch_15">
<path d="M 577.08 99.72 577.08 25.56" style="fill: none; stroke: #000000; stroke-width: 0.8; stroke-linejoin: miter; stroke-linecap: square"/>
</g>
<g id="patch_16">
<path d="M 340.2 99.72 577.08 99.72" style="fill: none; stroke: #000000; stroke-width: 0.8; stroke-linejoin: miter; stroke-linecap: square"/>
</g>
<g id="patch_17">
<path d="M 340.2 25.56 577.08 25.56" style="fill: none; stroke: #000000; stroke-width: 0.8; stroke-linejoin: miter; stroke-linecap: square"/>
</g>
<g id="patch_18">
<path d="M350.1 34.2l.3-.9 .4-1.5 .3-1.2 .4-1.2 .4-.3 .3-1.1 .4-1.3 .3-.2 .4 2.5 .4 2.8 .3 3.4 .4 3.4 .3 1.8 .4 .7 .4 .2 .3 .2 .4-.8 .3-.6 .4-1.3 .4-.2 .3-.4 .4 .9 .3 .8 .4 1 .4 .2 .3-1 .4-1.3 .3-1.8 .4-1 .4-.4 .3 1.2 .4 1.4 .3 1.8 .4 1.5 .4 1.2 .3-.9 .4-1.4 .3-1.6 .4-1.4 .4-1 .3 .8 .4 1.2 .3 1.8 .4 1.2 .4 1.1 .3-.2 .4-.6 .3-.5 .4-.6 .4-.2 .3 .1 .4 .4 .3 .2 .4 1 .4 .2 .3 .1 .4 0 .3-1.2 .4-1.7 .4-2.4 .3-1.4 .4-.7 .3 .8 .4 1.4 .4 2.5 .3 1.1 .4 .4 .3-.8 .4-1.5 .4-1.4 .3 .1 .4 .2 .3 1.1 .4 1.2 .4 1.4 .3 .3 .4 .5 .3-.1 .4 0 .4-1.8 .3-2 .4-1.9 .3-.7 .4 0 .4 1.7 .3 2 .4 2.6 .3 .4 .4 0 .4-.1 .3-.9 .4-2 .3-1 .4-1.4 .4-.5 .3 1.3 .4 1.7 .3 1.2 .4 1.4 .4 .3 .3-1 .4-1.7 .3-1.3 .4-.7 .4-.1 .3 0 .4 1 .3 1.2 .4 .8 .4-.4 .3-.7 .4-1.3 .3-.9 .4-.2 .4 .8 .3 .2 .4 1.7 .3 1.6 .4 .4 .4-.5 .3-.5 .4-1.6 .3-.8 .4-.9 .4 0 .3 .6 .4 1.3 .3 .4 .4 .8 .4-.2 .3-.6 .4-1.7 .3-1.3 .4-1.2 .4-.3 .3-.3 .4 .7 .3 .2 .4 .5 .4-.2 .3-1.4 .4-1.2 .3-1.4 .4-2.4 .4-1 .3 .8 .4 .6 .3 .9 .4 2 .4 .7 .3-.5 .4-.3 .3 .2 .4 0 .4 .1 .3-.2 .4 .2 .3-.2 .4 .4 .4 .8 .3 .7 .4 .5 .3 .7 .4 .4 .4 .1 .3 .2 .4 .4 .3 0 .4 .7 .4 .4 .3 .2 .4-.1 .3 .1 .4-.4 .4-.2 .3 .4 .4-.1 .3-.4 .4-.3 .4-.4 .3-.4 .4 .5 .3 .7 .4-.2 .4 .3 .3 .4 .4-.2 .3-.2 .4 .6 .4 .8 .3-.1 .4-.1 .3 .1 .4-.1 .4-.8 .3-.6 .4 0 .3-.3 .4-.2 .4 .2 .3 .8 .4-.2 .3 .2 .4 0 .4 .1 .3-.3 .4 0 .3-.3 .4-.9 .4-.9 .3-.6 .4-.4 .3-.5 .4-.2 .4-.3 .3-.5 .4-.7 .3 .3 .4 .4 .4 .5 .3 1 .4 .4 .3 .8 .4 1.3 .4 1 .3 .2 .4 1.3 .3 .6 .4-.1 .4-.3 .3 .2 .4-.2 .3-.1 .4 .1 .4 .7 .3 .3 .4 .2 .3 .4 .4 .3 .4 .1 .3 .2 .4 .1 .3-.2 .4-.1 .4-.6 .3-.3 .4 0 .3-.1 .4-.7 .4 0 .3-.1 .4 .3 .3 .3 .4 .3 .4 .1 .3-.2 .4-.2 .3-.4 .4 .1 .4 .4 .3 .1 .4-.5 .3-.3 .4-.6 .4-.8 .3 .3 .4 .3 .3-.4 .4 .1 .4 .1 .3-.9 .4-.8 .3-.2 .4-.6 .4-.6 .3-.1 .4 0 .3 0 .4 .3 .4 0 .3-.7 .4-.3 .3-.2 .4-.5 .4 .1 .3 .3 .4-.2 .3 .4 .4 .6 .4 .2 .3 .7 .4 .9 .3 .1 .4-.5 .4 .1 .3 0 .4-.1 .3 .1 .4 1 .4 0 .3-.1 .4 .7 .3-.1 .4-.7 .4 .2 .3 .4 .4-.7 .3 .4 .4 .1 .4-.3 .3 0 .4 .4 .3-.4 .4 .2 .4 .2 .3 .7 .4-.4 .3 .6 .4-.1 .4 0 .3-.5 .4 .4 .3 0 .4 .1 .4-.1 .3-.3 .4 0 .3-.2 .4 .3 .4 .3 .3 .4 .4 .3 .3-.1 .4-.7 .4-.4 .3-.6 .4 0 .3-.2 .4 .7 .4 .5 .3 .9 .4-.2 .3 .2 .4-.3 .4-.1 .3-.4 .4-.4 .3 .1 .4 .4 .4-.5 .3 0 .4-.2 .3 .1 .4-.3 .4 .4 .3 .1 .4-.2 .3 .2 .4-.4 .4 .1 .3-.2 .4-.2 .3-.6 .4 .2 .4 .2 .3 0 .4 .7 .3-.2 .4 .2 .4 0 .3-.1 .4-.2 .3-.1 .4-.3 .4 .2 .3 .1 .4 .3 .3 .5 .4-.5 .4-.5 .3-.5 .4-.5 .3-.1 .4 .4 .4-.3 .3 .3 .4-.2 .3-.5 .4-.3 .4-.3 .3-.5 .4-.2 .3 .2 .4-.6 .4-.2 .3-.2 .4 .3 .3 .2 .4 1 .4 0 .3 .5 .4 .4 .3 .1 .4-.4 .4 1.1 .3 .3 .4-.3 .3 0 .4 .4 .4-.1 .3-.1 .4 .2 .3 .6 .4 .1 .4-.2 .3 .5 .4 .5 .3-.6 .4-.2 .4 .4 .3-.3 .4-.7 .3 .5 .4 .3 .4 .3 .3-.3 .4 1.2 .3-.1 .4 .1 .4-.1 .3 .7 .4-1.5 .3-1.2 .4-1.3 .4-1.3 .3-1 .4 1.5 .3 1.7 .4 1.7 .4 1 .3 1.4 .4-.3 .3-.1 .4-1.4 .4-1.2 .3-1.6 .4-1.6 .3-.9 .4 .7 .4 1 .3 1 .4 1.3 .3 1 .4 .3 .4-.1 .3-.5 .4-1.3 .3-1.5 .4-.6 .4-.3 .3 .2 .4 .8 .3 1 .4 .8 .4 .2 .3 .1 .4-.4 .3-1.1 .4-1.7 .4-.1 .3 .4 .4 .7 0 27.9-.4 1.8-.3 1.9-.4 1.3-.4 .1-.3-1.1-.4-1.9-.3-1.5-.4-1.2-.4-.4-.3 .4-.4 1-.3 1.4-.4 1.7-.4 1.4-.3-.9-.4-.6-.3-1.6-.4-2.4-.4-1.6-.3 .6-.4 .9-.3 2-.4 1.7-.4 .7-.3-.4-.4-.2-.3-1.5-.4-.7-.4-.8-.3 .5-.4 .8-.3 1.6-.4 1.6-.4 1-.3 0-.4-.4-.3-1.7-.4-1.8-.4-1.3-.3 .1-.4-.3-.3 .1-.4-.3-.4 .3-.3-.2-.4 0-.3 0-.4-.2-.4 0-.3-.3-.4-.2-.3-.8-.4-.3-.4 0-.3 0-.4-.2-.3 .2-.4-.4-.4-.5-.3-.8-.4-.8-.3-.2-.4 .1-.4 0-.3 0-.4 .4-.3 0-.4-.1-.4-.4-.3-.2-.4 0-.3-.3-.4 .2-.4 .5-.3 .6-.4-.1-.3 .9-.4 .5-.4-.1-.3 .6-.4 .2-.3 0-.4 .5-.4 .6-.3 0-.4 .7-.3-.2-.4-.9-.4 .2-.3-.3-.4-.3-.3 0-.4 .5-.4-.3-.3 .3-.4-.6-.3 .6-.4-.8-.4-.2-.3 .1-.4-.1-.3-.8-.4 .6-.4-.7-.3-.1-.4 .1-.3 0-.4-.6-.4 .2-.3-.2-.4-.1-.3 .5-.4-.2-.4 0-.3 .3-.4-.1-.3-.4-.4 .8-.4 .4-.3-.1-.4 .4-.3-.3-.4-.2-.4 .2-.3-.3-.4 0-.3 .1-.4-.3-.4-.7-.3 0-.4 .1-.3 0-.4-.1-.4 .6-.3 0-.4-.6-.3 .3-.4 .6-.4-.2-.3-.4-.4 .3-.3 .5-.4-.7-.4 0-.3-.3-.4-.5-.3-.7-.4-.1-.4 0-.3 .6-.4 .6-.3 .4-.4-.3-.4-.6-.3 .3-.4 0-.3-.6-.4 .5-.4 0-.3-.7-.4 .4-.3 .1-.4-.1-.4 .4-.3 .2-.4-.4-.3-.3-.4 .6-.4-.4-.3 .3-.4-.8-.3 .5-.4-.4-.4 .4-.3-.3-.4-.3-.3-.2-.4 0-.4-.3-.3-.6-.4 .5-.3-.4-.4-.7-.4-.4-.3 .2-.4 .2-.3-.1-.4 .6-.4 .2-.3-.1-.4-.1-.3 0-.4-.1-.4-.3-.3-.1-.4-.1-.3 .6-.4-.5-.4 .4-.3 .3-.4 .3-.3-.2-.4 1-.4 .4-.3 .5-.4 .1-.3 0-.4-.4-.4-.2-.3-.1-.4 0-.3 .7-.4-.2-.4 .3-.3 .1-.4 .4-.3-.1-.4 .3-.4-.4-.3-.1-.4 .4-.3 .1-.4 .7-.4 1-.3 .1-.4 .1-.3 .2-.4-.5-.4-.6-.3 .2-.4-.3-.3 .1-.4 0-.4-.2-.3 .2-.4-.1-.3-.2-.4 .2-.4 .2-.3 .2-.4-.6-.3 0-.4 .1-.4 .1-.3-.7-.4 .7-.3 .1-.4 .3-.4 .1-.3 .9-.4-.2-.3 0-.4-.5-.4-.3-.3-.9-.4-.5-.3 .2-.4-.4-.4-.4-.3-.4-.4-.2-.3-1-.4 .2-.4-.1-.3 0-.4 .3-.3 .3-.4-.5-.4 .2-.3 .1-.4 0-.3 .5-.4 .4-.4-.1-.3 .4-.4 .1-.3-.6-.4 .1-.4 .1-.3-.3-.4-.2-.3 .1-.4-.2-.4-.3-.3 .6-.4 .4-.3 .3-.4 .1-.4 1-.3-.4-.4-.2-.3 .5-.4 .1-.4-.6-.3 .4-.4-.1-.3-.3-.4 .1-.4 .3-.3-.6-.4 .1-.3-.2-.4-.1-.4-.6-.3 .3-.4 .1-.3-.3-.4 .1-.4 .6-.3-.1-.4 0-.3 .8-.4-.2-.4-.2-.3 .3-.4-.4-.3-1-.4-.1-.4-.8-.3-1.1-.4-.4-.3-.4-.4-.3-.4 1.5-.3 2.3-.4 1.7-.3 1-.4 .2-.4-.7-.3-2.1-.4-1.9-.3-1.2-.4-.6-.4 .1-.3 2.1-.4 2.3-.3 1.8-.4 1.3-.4 .2-.3-1.7-.4-1.7-.3-2.2-.4-2-.4-.4-.3-.2-.4-.3-.3 1.6-.4 1.4-.4 1.3-.3 1.3-.4 0-.3-.9-.4-1.2-.4-1.4-.3-1.6-.4 .4-.3 .6-.4 1.4-.4 .9-.3 .7-.4-.6-.3-.3-.4-1.1-.4-1.4-.3 0-.4 1.3-.3 2.8-.4 2.6-.4 1-.3 0-.4-.6-.3-3.1-.4-2.7-.4-1.2-.3 0-.4 1.8-.3 1.3-.4 1.7-.4 .6-.3-.5-.4-1.8-.3-1.5-.4-1.9-.4-1-.3-.4-.4 .7-.3 1.7-.4 2.4-.4 2.6-.3 2-.4-.3-.3-.3-.4-1.8-.4-2.8-.3-1.7-.4-.3-.3 0-.4 .9-.4 2-.3 .7-.4 .7-.3-.4-.4-.7-.4-2-.3-1.3-.4-1.1-.3 1-.4 2.1-.4 2.6-.3 1.9-.4 .8-.3-.2-.4-1.7-.4-2.7-.3-2-.4-1-.3 0-.4 1.2-.4 1.5-.3 .5-.4 .2-.3-.7-.4-1.7-.4-1.5-.3-.7-.4-.1-.3 1.3-.4 1-.4 .4-.3 .5-.4-.1-.3-.4-.4-.7-.4-.1-.3-.7-.4 .2-.3-.8-.4 .3-.4 1.1-.3 1.5-.4 1.1-.3 .3-.4 .4-.4-.5-.3-2.3-.4-1.6-.3 0-.4-.9-.4 0-.3 2.1-.4 2.2-.3 1.9-.4 1.6-.4-.7-.3-1.1-.4-2.3-.3-2.1-.4-1.3-.4-.3-.3 1-.4 2.5-.3 3.1-.4 2.7-.4 2.2-.3-.7-.4-2.4-.3-3.6-.4-3.3-.4-2.5-.3-1.4-.4-.9-.3-1.3z" clip-path="url(#p4c60e85356)" style="fill: #ffa500"/>
</g>
<g id="patch_19">
<path d="M 518.62 67.03 567.43 67.03 567.43 69.19 518.62 69.19 z" clip-path="url(#p4c60e85356)" style="fill: #ffa500"/>
</g>
<g id="patch_20">
<path d="M 396.72 67.18 399.6 67.18 399.6 69.05 396.72 69.05 z" clip-path="url(#p4c60e85356)" style="fill: #ffa500"/>
</g>
<g id="patch_21">
<path d="M 453.24 67.18 455.76 67.18 455.76 69.05 453.24 69.05 z" clip-path="url(#p4c60e85356)" style="fill: #ffa500"/>
</g>
<g id="patch_22">
<path d="M 509.04 67.18 511.92 67.18 511.92 69.05 509.04 69.05 z" clip-path="url(#p4c60e85356)" style="fill: #ffa500"/>
</g>
<g id="text_20">
<text style="font-size: 12px; font-family: 'DejaVu Sans', 'Liberation Sans', sans-serif; text-anchor: middle" x="458.64" y="19.56">NoRP 1GHz Stokes-V</text>
</g>
</g>
<g id="axes_3">
<g id="patch_23">
<path d="M 57.96 216.48 294.84 216.48 294.84 142.32 57.96 142.32 z" style="fill: #ffffff"/>
</g>
<g id="matplotlib.axis_5">
<g id="xtick_13">
<g id="line2d_21">
<g>
<use href="#m1504cfccaf" x="87.45" y="216.48" class="u0"/>
</g>
</g>
<g id="text_21">
<text style="font-size: 10px; font-family: 'DejaVu Sans', 'Liberation Sans', sans-serif; text-anchor: middle" x="87.45" y="231.08">22:00</text>
</g>
</g>
<g id="xtick_14">
<g id="line2d_22">
<g>
<use href="#m1504cfccaf" x="124.9" y="216.48" class="u0"/>
</g>
</g>
<g id="text_22">
<text style="font-size: 10px; font-family: 'DejaVu Sans', 'Liberation Sans', sans-serif; text-anchor: middle" x="124.9" y="231.08">00:00</text>
</g>
</g>
<g id="xtick_15">
<g id="line2d_23">
<g>
<use href="#m1504cfccaf" x="162.36" y="216.48" class="u0"/>
</g>
</g>
<g id="text_23">
<text style="font-size: 10px; font-family: 'DejaVu Sans', 'Liberation Sans', sans-serif; text-anchor: middle" x="162.36" y="231.08">02:00</text>
</g>
</g>
<g id="xtick_16">
<g id="line2d_24">
<g>
<use href="#m1504cfccaf" x="199.81" y="216.48" class="u0"/>
</g>
</g>
<g id="text_24">
<text style="font-size: 10px; font-family: 'DejaVu Sans', 'Liberation Sans', sans-serif; text-anchor: middle" x="199.81" y="231.08">04:00</text>
</g>
</g>
<g id="xtick_17">
<g id="line2d_25">
<g>
<use href="#m1504cfccaf" x="237.26" y="216.48" class="u0"/>
</g>
</g>
<g id="text_25">
<text style="font-size: 10px; font-family: 'DejaVu Sans', 'Liberation Sans', sans-serif; text-anchor: middle" x="237.26" y="231.08">06:00</text>
</g>
</g>
<g id="xtick_18">
<g id="line2d_26">
<g>
<use href="#m1504cfccaf" x="274.71" y="216.48" class="u0"/>
</g>
</g>
<g id="text_26">
<text style="font-size: 10px; font-family: 'DejaVu Sans', 'Liberation Sans', sans-serif; text-anchor: middle" x="274.71" y="231.08">08:00</text>
</g>
</g>
</g>
<g id="matplotlib.axis_6">
<g id="ytick_6">
<g id="line2d_27">
<g>
<use href="#m5d545ce8f8" x="57.96" y="188.28" class="u0"/>
</g>
</g>
<g id="text_27">
<text style="font-size: 10px; font-family: 'DejaVu Sans', 'Liberation Sans', sans-serif; text-anchor: end" x="50.96" y="192.08">50</text>
</g>
</g>
<g id="ytick_7">
<g id="line2d_28">
<g>
<use href="#m5d545ce8f8" x="57.96" y="153" class="u0"/>
</g>
</g>
<g id="text_28">
<text style="font-size: 10px; font-family: 'DejaVu Sans', 'Liberation Sans', sans-serif; text-anchor: end" x="50.96" y="156.8">100</text>
</g>
</g>
<g id="text_29">
<text style="font-size: 10px; font-family: 'DejaVu Sans', 'Liberation Sans', sans-serif; text-anchor: middle" x="24.35" y="179.76" transform="rotate(-90 24.353 179.762)">Flux [SFU]</text>
</g>
</g>
<g id="patch_24">
<path d="M70.4 150.5l.7-1.3 .8 .1 .7-.3 .7 .2 .7-.1 .7 .1 .8 .1 .7 .3 .7-.1 .7-.3 .7 .4 .8-.2 .7-.3 .7 .2 .7-.2 .7 .2 .8 0 .7-.6 .7 1 .7-.1 .7 .1 .8-.3 .7 0 .7 0 .7 .5 .7 .3 .8-.1 .7 .2 .7 .2 .7-.4 .7-.2 .8 .5 .7-.6 .7 .6 .7-.4 .7 .6 .8-.2 .7-.4 .7 .1 .7-.2 .7 .5 .8-.4 .7 .2 .7 .4 .7-.5 .7-.2 .8-.3 .7 .1 .7 .1 .7 .4 .7 0 .8 .6 .7-.6 .7 0 .7-.5 .7 .6 .8-1 .7 1.2 .7-.3 .7 .4 .7-.4 .8 .8 .7-.3 .7 .1 .7 .2 .7-1.1 .8 1.2 .7-.2 .7 .4 .7 0 .7-.2 .8-.3 .7 .5 .7-.6 .7 .7 .7 .3 .8 .2 .7-.4 .7 .5 .7-.3 .7 .2 .8-.6 .7 .5 .7-.1 .7-.2 .7 .4 .8-.2 .7 .4 .7-.9 .7 1.1 .7-.2 .8 .7 .7-.3 .7 .6 .7 .4 .7-.7 .8-.4 .7 .5 .7-.1 .7-.2 .7 .4 .8 0 .7 .4 .7-.1 .7-.1 .7-.4 .8 .3 .7 .2 .7 .1 .7 0 .7 0 .8 .1 .7 0 .7-.1 .7 .1 .7 .4 .8-.1 .7-.8 .7 .8 .7 .5 .7-.2 .8 0 .7-.3 .7 .3 .7-.5 .7 .3 .8 .3 .7 .2 .7 0 .7 .5 .7-.7 .8 1 .7-.4 .7 0 .7-.3 .7 .2 .8 0 .7 .6 .7-.6 .7 .4 .7-.5 .8 .3 .7-.3 .7-.4 .7 .2 .7 .5 .8 .5 .7-.1 .7 .6 .7-.2 .7 .6 .8-.9 .7 1.1 .7-.3 .7-1.4 .7 .4 .8 0 .7 .1 .7-.3 .7 .8 .7-.5 .8 .2 .7-.2 .7 0 .7 .2 .7-.3 .8 .1 .7 .3 .7-.1 .7 .2 .7 .2 .8-.2 .7 .3 .7-.2 .7-.3 .7-.1 .8 0 .7 .3 .7-.3 .7-.2 .7 .6 .8-.2 .7-.2 .7 0 .7 .3 .7-.3 .8 0 .7-.5 .7 .8 .7-.1 .7-.3 .8 .5 .7 .1 .7-.3 .7-.2 .7 0 .8 .3 .7-.1 .7 .1 .7 .1 .7 .1 .8-.4 .7 0 .7-.4 .7 .2 .7 .3 .8-.2 .7-.5 .7 1.1 .7 0 .7-.3 .8 .2 .7-.2 .7-.1 .7 .4 .7-.3 .8-.7 .7 0 .7 .1 .7 0 .7-.5 .8 .3 .7 .7 .7 .2 .7 .1 .7-.3 .8 0 .7-.3 .7-.8 .7 .7 .7-.4 .8 .5 .7-.1 .7-.3 .7 0 .7 .1 .8-.1 .7-.2 .7 .2 .7-.1 .7 .3 .8-.3 .7 .5 .7-.1 .7-.2 .7-.3 .8-.6 .7 .5 .7-1.1 .7 1.3 .7 .3 .8-.2 .7 .2 .7 0 .7-.4 .7 0 .8-.1 .7-.1 .7 .2 .7 0 .7-.2 .8-.5 .7 .2 .7-.3 .7 .1 .7 .1 .8-.1 .7 .5 .7-.1 .7 .3 .7-.5 .8-.4 .7 .3 .7-.4 .7 .6 .7-.8 .8 .2 .7 .7 .7 0 .7-.1 .7-.3 .8 .2 .7-.6 .7 .1 .7 0 .7 0 .8-.9 .7 .2 .7 .3 .7-.9 .7 .8 .8 0 .7 .2 0 10.1-.7 .4-.8-.6-.7 .5-.7-.1-.7 .2-.7-.1-.8-.2-.7-.5-.7 .2-.7 .6-.7 .1-.8-.8-.7 .2-.7 .1-.7-.6-.7 .3-.8 .4-.7 .4-.7-.3-.7 .4-.7 .9-.8-.7-.7-.6-.7 0-.7 .5-.7-.6-.8 .3-.7 .1-.7 .6-.7-.3-.7 .2-.8-.1-.7-.6-.7 0-.7 0-.7-.4-.8-.4-.7 1.1-.7-.1-.7 .1-.7 .1-.8 0-.7 .2-.7-.2-.7 .4-.7-.6-.8 .4-.7 .3-.7-.5-.7 .5-.7-.4-.8 .1-.7 .5-.7-.1-.7 .1-.7 .1-.8 .5-.7-.5-.7-.1-.7 .1-.7 .2-.8 .3-.7-.8-.7 .3-.7-.3-.7-.3-.8 .2-.7 .7-.7-.7-.7-.1-.7 .2-.8-.1-.7 .2-.7 .1-.7-.2-.7-.3-.8 .4-.7 .5-.7-.5-.7 .1-.7 .4-.8 0-.7-.2-.7 .5-.7-.3-.7-.4-.8 .2-.7 .6-.7-.7-.7 0-.7 .3-.8-.2-.7 .3-.7 .1-.7-.4-.7-.2-.8-.3-.7 .6-.7-.3-.7 .5-.7-.8-.8 .3-.7 .1-.7-.2-.7-.1-.7 .1-.8 .8-.7-.5-.7 .5-.7-.2-.7 .4-.8-.3-.7-.1-.7-.2-.7-.1-.7 .2-.8-.5-.7 .2-.7 0-.7-.7-.7 .9-.8-.2-.7-.3-.7 0-.7 .2-.7-.8-.8 .7-.7-.4-.7 .8-.7 .3-.7-.6-.8 .1-.7 .2-.7-.2-.7 0-.7 0-.8 .4-.7-.1-.7 .1-.7-.2-.7 .4-.8-.9-.7 .4-.7 .1-.7-.4-.7-.2-.8 .2-.7 .5-.7-.4-.7 0-.7 .5-.8 0-.7-.1-.7 .3-.7-.5-.7-.3-.8-.3-.7 .7-.7-1-.7 .3-.7 .4-.8-.4-.7 .3-.7-.1-.7 0-.7-.4-.8 .1-.7-.4-.7 .3-.7-.2-.7 .2-.8 .2-.7 .6-.7-1.1-.7 1.1-.7-.8-.8-.4-.7 .1-.7 0-.7 .7-.7 0-.8-.3-.7-.1-.7 .1-.7 0-.7-.3-.8-.4-.7 .1-.7-.6-.7 .3-.7 .1-.8-.1-.7-.4-.7 .2-.7-.1-.7 .1-.8 0-.7 .4-.7-.3-.7 .5-.7-.4-.8-.1-.7-.3-.7 0-.7-.1-.7-.2-.8 .4-.7-.1-.7-.6-.7 .5-.7-.4-.8-.1-.7 .9-.7-.5-.7-.7-.7 .3-.8-.4-.7 .2-.7-.1-.7-.1-.7 .5-.8-.2-.7-.3-.7 0-.7-.8-.7 .2-.8 .1-.7 .2-.7 .5-.7-.5-.7 .5-.8-.6-.7 .1-.7-.1-.7 .5-.7-.5-.8-.4-.7-.4-.7-.3-.7 .3-.7 .4-.8 .1-.7 .4-.7 0-.7-.8-.7 .4-.8-.1-.7-.1-.7 .1-.7 .2-.7-.6-.8 0-.7 .3-.7 .3-.7-.1-.7 .4-.8-.3-.7-.6-.7 .1-.7 .4-.7-.3-.8 0-.7-.4-.7 .5-.7-.5-.7 .3-.8 .3-.7-.1-.7-.1-.7 .2-.7-.2-.8 .2-.7 .2-.7-.1-.7-.4-.7-.6-.8 .5-.7-.6-.7 .4-.7 .1-.7-.4-.8 .7-.7-1.1-.7 0-.7 .3-.7 0-.8 .5-.7 .2-.7-.1-.7-.5-.7 .2-.8 0-.7 .1z" clip-path="url(#p3b2bc74e3e)" style="fill: #0000ff; opacity: 0.15"/>
</g>
<g id="line2d_29">
<g clip-path="url(#p3b2bc74e3e)">
<use href="#mce796437ce" x="280.84" y="162" class="u1"/>
<use href="#mce796437ce" x="281.04" y="165.6" class="u1"/>
<use href="#mce796437ce" x="280.84" y="169.2" class="u1"/>
<use href="#mce796437ce" x="281.14" y="172.8" class="u1"/>
<use href="#mce796437ce" x="280.83" y="176.4" class="u1"/>
<use href="#mce796437ce" x="281.22" y="180" class="u1"/>
<use href="#mce796437ce" x="281.1" y="183.6" class="u1"/>
<use href="#mce796437ce" x="281.23" y="187.2" class="u1"/>
<use href="#mce796437ce" x="280.98" y="190.8" class="u1"/>
<use href="#mce796437ce" x="280.7" y="194.4" class="u1"/>
</g>
</g>
<g id="patch_25">
<path d="M 57.96 216.48 57.96 142.32" style="fill: none; stroke: #000000; stroke-width: 0.8; stroke-linejoin: miter; stroke-linecap: square"/>
</g>
<g id="patch_26">
<path d="M 294.84 216.48 294.84 142.32" style="fill: none; stroke: #000000; stroke-width: 0.8; stroke-linejoin: miter; stroke-linecap: square"/>
</g>
<g id="patch_27">
<path d="M 57.96 216.48 294.84 216.48" style="fill: none; stroke: #000000; stroke-width: 0.8; stroke-linejoin: miter; stroke-linecap: square"/>
</g>
<g id="patch_28">
<path d="M 57.96 142.32 294.84 142.32" style="fill: none; stroke: #000000; stroke-width: 0.8; stroke-linejoin: miter; stroke-linecap: square"/>
</g>
<g id="patch_29">
<path d="M70.4 151.4l.7-1 .8 .1 .7 0 .7-.2 .7 .2 .7-.1 .8-.1 .7 .3 .7 0 .7-.1 .7-.1 .8-.2 .7 0 .7-.1 .7 0 .7 0 .8 .4 .7-.1 .7 .1 .7-.1 .7 .1 .8-.2 .7 .1 .7 0 .7 .3 .7 .3 .8 .2 .7 .1 .7 0 .7 0 .7-.1 .8 .1 .7-.2 .7 .1 .7 .1 .7 .1 .8-.1 .7 0 .7-.2 .7 .2 .7-.1 .8-.2 .7 .2 .7 .2 .7-.5 .7-.3 .8 0 .7 .1 .7 0 .7 .2 .7 .4 .8 .3 .7-.3 .7 0 .7 0 .7-.2 .8-.1 .7 .3 .7 .1 .7-.1 .7 .1 .8 .4 .7-.1 .7-.1 .7 .2 .7 .2 .8-.2 .7 .1 .7 .3 .7-.1 .7-.1 .8-.1 .7 .2 .7 0 .7 .2 .7 .2 .8 .3 .7 .1 .7 0 .7-.1 .7-.2 .8 .1 .7-.2 .7 0 .7 .2 .7 .2 .8-.1 .7 .4 .7-.2 .7 .2 .7 .4 .8 .1 .7-.1 .7 .5 .7 .1 .7-.3 .8 0 .7 .1 .7 0 .7-.1 .7 .3 .8 0 .7 0 .7-.1 .7 0 .7-.1 .8 .1 .7-.1 .7 .3 .7 .1 .7-.1 .8 .2 .7 .1 .7 0 .7 0 .7 .3 .8-.1 .7 .1 .7 0 .7 .3 .7-.3 .8 0 .7 .2 .7-.1 .7-.4 .7 .6 .8 0 .7 .3 .7 .2 .7 .3 .7-.2 .8 .2 .7-.1 .7 0 .7 .1 .7 0 .8 .1 .7 0 .7-.1 .7 0 .7 0 .8-.2 .7-.1 .7 .1 .7 .1 .7 0 .8 .3 .7 .1 .7 .4 .7 .1 .7 .4 .8 0 .7 .1 .7-.3 .7-.4 .7-.4 .8-.1 .7 .2 .7-.1 .7 .6 .7 0 .8 .1 .7-.6 .7 .2 .7-.3 .7 .2 .8-.1 .7 .2 .7 .1 .7 .1 .7 0 .8 .1 .7 .3 .7-.1 .7-.3 .7-.2 .8 0 .7 0 .7 0 .7 .1 .7 .2 .8-.1 .7-.2 .7-.1 .7 .3 .7 .1 .8-.1 .7-.1 .7 0 .7-.2 .7 .1 .8 0 .7 .2 .7 0 .7-.2 .7 .1 .8 0 .7 .3 .7 0 .7 .1 .7 0 .8-.1 .7-.5 .7 0 .7 0 .7-.1 .8 .1 .7 .2 .7 .3 .7 0 .7 0 .8 0 .7-.1 .7-.1 .7 0 .7 0 .8 0 .7-.3 .7-.3 .7 .1 .7 0 .8 .2 .7 .1 .7 .2 .7 .1 .7 0 .8-.3 .7 0 .7-.1 .7-.4 .7-.1 .8 .2 .7 0 .7 .2 .7 0 .7-.1 .8-.2 .7 0 .7-.3 .7 .1 .7 .2 .8 0 .7 .2 .7-.1 .7-.2 .7-.3 .8-.2 .7 0 .7 0 .7 .4 .7 .1 .8 .1 .7-.1 .7 0 .7-.2 .7 0 .8-.2 .7 0 .7 .3 .7-.2 .7-.1 .8-.1 .7-.3 .7-.2 .7 0 .7 .1 .8 .2 .7 .5 .7-.3 .7 .1 .7 0 .8-.2 .7-.3 .7 .1 .7 0 .7 0 .8 0 .7 0 .7 .1 .7-.1 .7-.1 .8 .1 .7-.1 .7-.1 .7-.2 .7-.1 .8-.4 .7-.1 .7 0 .7-.1 .7 0 .8 .1 .7 0 0 8.2-.7 .2-.8 0-.7 .2-.7 .2-.7-.2-.7 0-.8-.1-.7-.3-.7-.1-.7 .3-.7 0-.8-.2-.7 0-.7 .2-.7-.4-.7-.1-.8 .3-.7 .3-.7 .2-.7 .3-.7 .1-.8 0-.7-.4-.7 0-.7 .1-.7 0-.8 0-.7 .1-.7 0-.7 .1-.7 .1-.8 0-.7-.2-.7-.1-.7-.5-.7-.1-.8-.1-.7 .3-.7 .2-.7 .3-.7 .2-.8 0-.7 .1-.7 .1-.7 .1-.7-.4-.8 0-.7-.1-.7 0-.7 .1-.7 .2-.8 .3-.7 .2-.7 .2-.7 0-.7 .2-.8 .1-.7-.1-.7-.2-.7 0-.7 0-.8 0-.7-.1-.7-.1-.7 0-.7-.2-.8 0-.7 0-.7 .1-.7 0-.7 .1-.8-.2-.7 .1-.7 .3-.7-.1-.7-.3-.8 .4-.7 .3-.7-.3-.7 .1-.7 .4-.8-.1-.7-.2-.7 .3-.7-.3-.7-.1-.8 .1-.7 .2-.7-.5-.7 .2-.7 .3-.8-.2-.7-.2-.7 .1-.7 .2-.7-.2-.8-.4-.7 .4-.7 .1-.7-.1-.7-.2-.8 .2-.7-.1-.7-.1-.7 0-.7 .1-.8 .3-.7 0-.7 .2-.7 0-.7 0-.8-.1-.7-.2-.7-.1-.7 .2-.7-.1-.8-.2-.7-.2-.7 0-.7-.3-.7 .3-.8 0-.7 0-.7-.3-.7 .3-.7-.4-.8 .2-.7-.1-.7 .4-.7-.2-.7 .3-.8-.1-.7 .4-.7-.3-.7 .1-.7 0-.8 .2-.7-.1-.7 .2-.7-.2-.7 .1-.8-.4-.7 0-.7-.1-.7 .1-.7-.1-.8 .3-.7-.1-.7 .1-.7-.1-.7 .2-.8 0-.7-.1-.7 0-.7-.1-.7-.3-.8-.3-.7 0-.7 0-.7 .1-.7 .1-.8 .1-.7 .2-.7 0-.7 0-.7-.4-.8-.2-.7 0-.7 0-.7-.2-.7 .5-.8 0-.7-.2-.7-.1-.7 .2-.7-.4-.8-.2-.7 .3-.7 0-.7-.1-.7 .1-.8 .1-.7-.3-.7 .3-.7-.3-.7-.1-.8 0-.7-.2-.7-.3-.7 .2-.7-.2-.8-.3-.7 0-.7 .1-.7-.1-.7 .1-.8 .2-.7 .1-.7 0-.7-.1-.7 0-.8-.3-.7 .1-.7-.1-.7-.1-.7 0-.8 0-.7-.2-.7-.3-.7 .3-.7 0-.8-.1-.7-.1-.7 .1-.7-.4-.7-.3-.8 .3-.7 0-.7-.2-.7 .1-.7 .2-.8-.5-.7-.1-.7-.2-.7-.1-.7 0-.8 .1-.7 .3-.7 .2-.7 0-.7-.3-.8-.1-.7 0-.7 .2-.7-.2-.7 0-.8-.2-.7-.5-.7-.3-.7 .3-.7 0-.8 .4-.7 .1-.7 .1-.7-.3-.7 .2-.8-.2-.7 .2-.7-.2-.7-.1-.7-.2-.8 .2-.7 .1-.7-.1-.7 .2-.7 .2-.8-.3-.7-.2-.7 .1-.7 0-.7-.4-.8-.1-.7-.1-.7 .1-.7-.1-.7 .2-.8 .4-.7 .1-.7 0-.7 0-.7 .1-.8-.1-.7-.1-.7-.4-.7-.1-.7-.1-.8-.2-.7 .2-.7 .2-.7-.1-.7-.1-.8-.2-.7-.2-.7-.2-.7 .3-.7 .2-.8 .3-.7 0-.7 0-.7-.2-.7-.2-.8 .1-.7-.1z" clip-path="url(#p3b2bc74e3e)" style="fill: #0000ff"/>
</g>
<g id="line2d_30">
<path d="M 68.4 188.5 68.47 183.6 68.83 177.7 69.26 171.36 69.7 167.26 70.27 160.56 70.85 154.08" clip-path="url(#p3b2bc74e3e)" style="fill: none; stroke: #0000ff; stroke-width: 2.016; stroke-linecap: round"/>
</g>
<g id="patch_30">
<path d="M 282.24 158.4 282.09 160.38 281.66 161.83 281.09 162.36 280.51 161.83 280.09 160.38 279.94 158.4 280.09 156.42 280.51 154.97 281.09 154.44 281.66 154.97 282.09 156.42 z" clip-path="url(#p3b2bc74e3e)" style="fill: #0000ff"/>
</g>
<g id="text_30">
<text style="font-size: 12px; font-family: 'DejaVu Sans', 'Liberation Sans', sans-serif; text-anchor: middle" x="176.4" y="136.32">NoRP 2GHz Stokes-I</text>
</g>
</g>
<g id="axes_4">
<g id="patch_31">
<path d="M 340.2 216.48 577.08 216.48 577.08 142.32 340.2 142.32 z" style="fill: #ffffff"/>
</g>
<g id="matplotlib.axis_7">
<g id="xtick_19">
<g id="line2d_31">
<g>
<use href="#m1504cfccaf" x="369.69" y="216.48" class="u0"/>
</g>
</g>
<g id="text_31">
<text style="font-size: 10px; font-family: 'DejaVu Sans', 'Liberation Sans', sans-serif; text-anchor: middle" x="369.69" y="231.08">22:00</text>
</g>
</g>
<g id="xtick_20">
<g id="line2d_32">
<g>
<use href="#m1504cfccaf" x="407.14" y="216.48" class="u0"/>
</g>
</g>
<g id="text_32">
<text style="font-size: 10px; font-family: 'DejaVu Sans', 'Liberation Sans', sans-serif; text-anchor: middle" x="407.14" y="231.08">00:00</text>
</g>
</g>
<g id="xtick_21">
<g id="line2d_33">
<g>
<use href="#m1504cfccaf" x="444.6" y="216.48" class="u0"/>
</g>
</g>
<g id="text_33">
<text style="font-size: 10px; font-family: 'DejaVu Sans', 'Liberation Sans', sans-serif; text-anchor: middle" x="444.6" y="231.08">02:00</text>
</g>
</g>
<g id="xtick_22">
<g id="line2d_34">
<g>
<use href="#m1504cfccaf" x="482.05" y="216.48" class="u0"/>
</g>
</g>
<g id="text_34">
<text style="font-size: 10px; font-family: 'DejaVu Sans', 'Liberation Sans', sans-serif; text-anchor: middle" x="482.05" y="231.08">04:00</text>
</g>
</g>
<g id="xtick_23">
<g id="line2d_35">
<g>
<use href="#m1504cfccaf" x="519.5" y="216.48" class="u0"/>
</g>
</g>
<g id="text_35">
<text style="font-size: 10px; font-family: 'DejaVu Sans', 'Liberation Sans', sans-serif; text-anchor: middle" x="519.5" y="231.08">06:00</text>
</g>
</g>
<g id="xtick_24">
<g id="line2d_36">
<g>
<use href="#m1504cfccaf" x="556.95" y="216.48" class="u0"/>
</g>
</g>
<g id="text_36">
<text style="font-size: 10px; font-family: 'DejaVu Sans', 'Liberation Sans', sans-serif; text-anchor: middle" x="556.95" y="231.08">08:00</text>
</g>
</g>
</g>
<g id="matplotlib.axis_8">
<g id="ytick_8">
<g id="line2d_37">
<g>
<use href="#m5d545ce8f8" x="340.2" y="196.2" class="u0"/>
</g>
</g>
<g id="text_37">
<text style="font-size: 10px; font-family: 'DejaVu Sans', 'Liberation Sans', sans-serif; text-anchor: end" x="333.2" y="200">−5</text>
</g>
</g>
<g id="ytick_9">
<g id="line2d_38">
<g>
<use href="#m5d545ce8f8" x="340.2" y="165.96" class="u0"/>
</g>
</g>
<g id="text_38">
<text style="font-size: 10px; font-family: 'DejaVu Sans', 'Liberation Sans', sans-serif; text-anchor: end" x="333.2" y="169.76">0</text>
</g>
</g>
</g>
<g id="line2d_39">
<defs>
<path id="mcfa5bfee2b" d="M -0 1.1 1.1 0 0 -1.1 -1.1 -0 z" style="stroke: #ffa500; stroke-opacity: 0.3; stroke-width: 0.5; stroke-linejoin: miter"/>
</defs>
<g clip-path="url(#pdf2b5f52ae)">
<use href="#mcfa5bfee2b" x="356.39" y="146.62" class="u3"/>
<use href="#mcfa5bfee2b" x="360.39" y="146.78" class="u3"/>
<use href="#mcfa5bfee2b" x="545.7" y="146.57" class="u3"/>
<use href="#mcfa5bfee2b" x="546.23" y="146.72" class="u3"/>
</g>
</g>
<g id="line2d_40">
<g clip-path="url(#pdf2b5f52ae)">
<use href="#mcfa5bfee2b" x="352.6" y="151.79" class="u3"/>
<use href="#mcfa5bfee2b" x="353.05" y="151.83" class="u3"/>
<use href="#mcfa5bfee2b" x="355.58" y="151.58" class="u3"/>
<use href="#mcfa5bfee2b" x="362.07" y="151.42" class="u3"/>
<use href="#mcfa5bfee2b" x="365.1" y="151.69" class="u3"/>
<use href="#mcfa5bfee2b" x="365.45" y="151.89" class="u3"/>
<use href="#mcfa5bfee2b" x="366.27" y="151.73" class="u3"/>
<use href="#mcfa5bfee2b" x="374.98" y="151.67" class="u3"/>
<use href="#mcfa5bfee2b" x="379.75" y="151.98" class="u3"/>
<use href="#mcfa5bfee2b" x="387.24" y="151.48" class="u3"/>
<use href="#mcfa5bfee2b" x="396.81" y="151.76" class="u3"/>
<use href="#mcfa5bfee2b" x="396.83" y="151.55" class="u3"/>
<use href="#mcfa5bfee2b" x="401.32" y="151.64" class="u3"/>
<use href="#mcfa5bfee2b" x="403.5" y="151.64" class="u3"/>
<use href="#mcfa5bfee2b" x="410.75" y="151.85" class="u3"/>
<use href="#mcfa5bfee2b" x="412.22" y="151.5" class="u3"/>
<use href="#mcfa5bfee2b" x="415.52" y="151.55" class="u3"/>
<use href="#mcfa5bfee2b" x="428.01" y="151.4" class="u3"/>
<use href="#mcfa5bfee2b" x="428.6" y="151.7" class="u3"/>
<use href="#mcfa5bfee2b" x="431.97" y="151.57" class="u3"/>
<use href="#mcfa5bfee2b" x="434.78" y="151.69" class="u3"/>
<use href="#mcfa5bfee2b" x="438.76" y="151.48" class="u3"/>
<use href="#mcfa5bfee2b" x="444.77" y="151.58" class="u3"/>
<use href="#mcfa5bfee2b" x="445.3" y="151.78" class="u3"/>
<use href="#mcfa5bfee2b" x="452.53" y="151.61" class="u3"/>
<use href="#mcfa5bfee2b" x="452.74" y="151.72" class="u3"/>
<use href="#mcfa5bfee2b" x="455.73" y="151.71" class="u3"/>
<use href="#mcfa5bfee2b" x="455.87" y="151.58" class="u3"/>
<use href="#mcfa5bfee2b" x="456.71" y="151.41" class="u3"/>
<use href="#mcfa5bfee2b" x="457.02" y="151.77" class="u3"/>
<use href="#mcfa5bfee2b" x="457.74" y="151.66" class="u3"/>
<use href="#mcfa5bfee2b" x="458.19" y="151.77" class="u3"/>
<use href="#mcfa5bfee2b" x="464.75" y="151.34" class="u3"/>
<use href="#mcfa5bfee2b" x="479.66" y="151.39" class="u3"/>
<use href="#mcfa5bfee2b" x="484.79" y="151.32" class="u3"/>
<use href="#mcfa5bfee2b" x="507.35" y="151.51" class="u3"/>
<use href="#mcfa5bfee2b" x="507.92" y="151.78" class="u3"/>
<use href="#mcfa5bfee2b" x="527.57" y="151.71" class="u3"/>
<use href="#mcfa5bfee2b" x="530.4" y="151.63" class="u3"/>
<use href="#mcfa5bfee2b" x="531.02" y="151.65" class="u3"/>
<use href="#mcfa5bfee2b" x="537.57" y="151.74" class="u3"/>
<use href="#mcfa5bfee2b" x="538.91" y="151.59" class="u3"/>
<use href="#mcfa5bfee2b" x="539.79" y="151.69" class="u3"/>
<use href="#mcfa5bfee2b" x="541.73" y="151.65" class="u3"/>
<use href="#mcfa5bfee2b" x="542.69" y="151.32" class="u3"/>
<use href="#mcfa5bfee2b" x="544.62" y="151.58" class="u3"/>
<use href="#mcfa5bfee2b" x="550.17" y="151.83" class="u3"/>
<use href="#mcfa5bfee2b" x="552.35" y="151.57" class="u3"/>
<use href="#mcfa5bfee2b" x="557.5" y="151.61" class="u3"/>
</g>
</g>
<g id="patch_32">
<path d="M 350.06 155.09 564.05 155.09 564.05 156.82 350.06 156.82 z" clip-path="url(#pdf2b5f52ae)" style="fill: #ffa500; opacity: 0.22"/>
</g>
<g id="line2d_41">
<g clip-path="url(#pdf2b5f52ae)">
<use href="#m5033db8bdf" x="350.59" y="155.95" class="u2"/>
<use href="#m5033db8bdf" x="350.69" y="155.95" class="u2"/>
<use href="#m5033db8bdf" x="354.21" y="155.95" class="u2"/>
<use href="#m5033db8bdf" x="356.16" y="155.95" class="u2"/>
<use href="#m5033db8bdf" x="357.24" y="155.95" class="u2"/>
<use href="#m5033db8bdf" x="357.51" y="155.95" class="u2"/>
<use href="#m5033db8bdf" x="359.72" y="155.95" class="u2"/>
<use href="#m5033db8bdf" x="360.08" y="155.95" class="u2"/>
<use href="#m5033db8bdf" x="360.19" y="155.95" class="u2"/>
<use href="#m5033db8bdf" x="363.01" y="155.95" class="u2"/>
<use href="#m5033db8bdf" x="363.68" y="155.95" class="u2"/>
<use href="#m5033db8bdf" x="364.73" y="155.95" class="u2"/>
<use href="#m5033db8bdf" x="366.4" y="155.95" class="u2"/>
<use href="#m5033db8bdf" x="366.83" y="155.95" class="u2"/>
<use href="#m5033db8bdf" x="366.98" y="155.95" class="u2"/>
<use href="#m5033db8bdf" x="367.2" y="155.95" class="u2"/>
<use href="#m5033db8bdf" x="367.41" y="155.95" class="u2"/>
<use href="#m5033db8bdf" x="368.18" y="155.95" class="u2"/>
<use href="#m5033db8bdf" x="368.48" y="155.95" class="u2"/>
<use href="#m5033db8bdf" x="368.57" y="155.95" class="u2"/>
<use href="#m5033db8bdf" x="374.19" y="155.95" class="u2"/>
<use href="#m5033db8bdf" x="374.88" y="155.95" class="u2"/>
<use href="#m5033db8bdf" x="374.94" y="155.95" class="u2"/>
<use href="#m5033db8bdf" x="375.6" y="155.95" class="u2"/>
<use href="#m5033db8bdf" x="376.27" y="155.95" class="u2"/>
<use href="#m5033db8bdf" x="376.31" y="155.95" class="u2"/>
<use href="#m5033db8bdf" x="376.95" y="155.95" class="u2"/>
<use href="#m5033db8bdf" x="377.38" y="155.95" class="u2"/>
<use href="#m5033db8bdf" x="378.08" y="155.95" class="u2"/>
<use href="#m5033db8bdf" x="379.07" y="155.95" class="u2"/>
<use href="#m5033db8bdf" x="382.79" y="155.95" class="u2"/>
<use href="#m5033db8bdf" x="388.37" y="155.95" class="u2"/>
<use href="#m5033db8bdf" x="388.87" y="155.95" class="u2"/>
<use href="#m5033db8bdf" x="391.09" y="155.95" class="u2"/>
<use href="#m5033db8bdf" x="392.37" y="155.95" class="u2"/>
<use href="#m5033db8bdf" x="397.65" y="155.95" class="u2"/>
<use href="#m5033db8bdf" x="398.55" y="155.95" class="u2"/>
<use href="#m5033db8bdf" x="400.94" y="155.95" class="u2"/>
<use href="#m5033db8bdf" x="401.07" y="155.95" class="u2"/>
<use href="#m5033db8bdf" x="403.32" y="155.95" class="u2"/>
<use href="#m5033db8bdf" x="404.21" y="155.95" class="u2"/>
<use href="#m5033db8bdf" x="404.7" y="155.95" class="u2"/>
<use href="#m5033db8bdf" x="405.39" y="155.95" class="u2"/>
<use href="#m5033db8bdf" x="407.56" y="155.95" class="u2"/>
<use href="#m5033db8bdf" x="407.68" y="155.95" class="u2"/>
<use href="#m5033db8bdf" x="409.1" y="155.95" class="u2"/>
<use href="#m5033db8bdf" x="410.7" y="155.95" class="u2"/>
<use href="#m5033db8bdf" x="411.32" y="155.95" class="u2"/>
<use href="#m5033db8bdf" x="411.68" y="155.95" class="u2"/>
<use href="#m5033db8bdf" x="412.68" y="155.95" class="u2"/>
<use href="#m5033db8bdf" x="416.47" y="155.95" class="u2"/>
<use href="#m5033db8bdf" x="417.72" y="155.95" class="u2"/>
<use href="#m5033db8bdf" x="418.26" y="155.95" class="u2"/>
<use href="#m5033db8bdf" x="418.28" y="155.95" class="u2"/>
<use href="#m5033db8bdf" x="419.18" y="155.95" class="u2"/>
<use href="#m5033db8bdf" x="419.32" y="155.95" class="u2"/>
<use href="#m5033db8bdf" x="421.98" y="155.95" class="u2"/>
<use href="#m5033db8bdf" x="424.59" y="155.95" class="u2"/>
<use href="#m5033db8bdf" x="424.83" y="155.95" class="u2"/>
<use href="#m5033db8bdf" x="425.94" y="155.95" class="u2"/>
<use href="#m5033db8bdf" x="428.42" y="155.95" class="u2"/>
<use href="#m5033db8bdf" x="431.2" y="155.95" class="u2"/>
<use href="#m5033db8bdf" x="432.15" y="155.95" class="u2"/>
<use href="#m5033db8bdf" x="434.88" y="155.95" class="u2"/>
<use href="#m5033db8bdf" x="435.16" y="155.95" class="u2"/>
<use href="#m5033db8bdf" x="436.17" y="155.95" class="u2"/>
<use href="#m5033db8bdf" x="437.57" y="155.95" class="u2"/>
<use href="#m5033db8bdf" x="437.73" y="155.95" class="u2"/>
<use href="#m5033db8bdf" x="440.39" y="155.95" class="u2"/>
<use href="#m5033db8bdf" x="440.52" y="155.95" class="u2"/>
<use href="#m5033db8bdf" x="442.02" y="155.95" class="u2"/>
<use href="#m5033db8bdf" x="442.29" y="155.95" class="u2"/>
<use href="#m5033db8bdf" x="445.58" y="155.95" class="u2"/>
<use href="#m5033db8bdf" x="449.69" y="155.95" class="u2"/>
<use href="#m5033db8bdf" x="450.55" y="155.95" class="u2"/>
<use href="#m5033db8bdf" x="452.79" y="155.95" class="u2"/>
<use href="#m5033db8bdf" x="463.95" y="155.95" class="u2"/>
<use href="#m5033db8bdf" x="466.43" y="155.95" class="u2"/>
<use href="#m5033db8bdf" x="467.28" y="155.95" class="u2"/>
<use href="#m5033db8bdf" x="469.91" y="155.95" class="u2"/>
<use href="#m5033db8bdf" x="470.32" y="155.95" class="u2"/>
<use href="#m5033db8bdf" x="470.57" y="155.95" class="u2"/>
<use href="#m5033db8bdf" x="472.15" y="155.95" class="u2"/>
<use href="#m5033db8bdf" x="473.35" y="155.95" class="u2"/>
<use href="#m5033db8bdf" x="474.94" y="155.95" class="u2"/>
<use href="#m5033db8bdf" x="477.84" y="155.95" class="u2"/>
<use href="#m5033db8bdf" x="478.05" y="155.95" class="u2"/>
<use href="#m5033db8bdf" x="487.27" y="155.95" class="u2"/>
<use href="#m5033db8bdf" x="488.41" y="155.95" class="u2"/>
<use href="#m5033db8bdf" x="488.53" y="155.95" class="u2"/>
<use href="#m5033db8bdf" x="489" y="155.95" class="u2"/>
<use href="#m5033db8bdf" x="490.35" y="155.95" class="u2"/>
<use href="#m5033db8bdf" x="490.35" y="155.95" class="u2"/>
<use href="#m5033db8bdf" x="496.45" y="155.95" class="u2"/>
<use href="#m5033db8bdf" x="498.04" y="155.95" class="u2"/>
<use href="#m5033db8bdf" x="498.09" y="155.95" class="u2"/>
<use href="#m5033db8bdf" x="507.27" y="155.95" class="u2"/>
<use href="#m5033db8bdf" x="508.33" y="155.95" class="u2"/>
<use href="#m5033db8bdf" x="514.2" y="155.95" class="u2"/>
<use href="#m5033db8bdf" x="514.51" y="155.95" class="u2"/>
<use href="#m5033db8bdf" x="515.51" y="155.95" class="u2"/>
<use href="#m5033db8bdf" x="517.21" y="155.95" class="u2"/>
<use href="#m5033db8bdf" x="517.83" y="155.95" class="u2"/>
<use href="#m5033db8bdf" x="518.18" y="155.95" class="u2"/>
<use href="#m5033db8bdf" x="519.15" y="155.95" class="u2"/>
<use href="#m5033db8bdf" x="520.25" y="155.95" class="u2"/>
<use href="#m5033db8bdf" x="521.81" y="155.95" class="u2"/>
<use href="#m5033db8bdf" x="523" y="155.95" class="u2"/>
<use href="#m5033db8bdf" x="524.48" y="155.95" class="u2"/>
<use href="#m5033db8bdf" x="525.35" y="155.95" class="u2"/>
<use href="#m5033db8bdf" x="526.01" y="155.95" class="u2"/>
<use href="#m5033db8bdf" x="526.52" y="155.95" class="u2"/>
<use href="#m5033db8bdf" x="528.13" y="155.95" class="u2"/>
<use href="#m5033db8bdf" x="530.4" y="155.95" class="u2"/>
<use href="#m5033db8bdf" x="530.99" y="155.95" class="u2"/>
<use href="#m5033db8bdf" x="532.3" y="155.95" class="u2"/>
<use href="#m5033db8bdf" x="532.45" y="155.95" class="u2"/>
<use href="#m5033db8bdf" x="536.11" y="155.95" class="u2"/>
<use href="#m5033db8bdf" x="536.67" y="155.95" class="u2"/>
<use href="#m5033db8bdf" x="537.87" y="155.95" class="u2"/>
<use href="#m5033db8bdf" x="539.65" y="155.95" class="u2"/>
<use href="#m5033db8bdf" x="541.02" y="155.95" class="u2"/>
<use href="#m5033db8bdf" x="542.03" y="155.95" class="u2"/>
<use href="#m5033db8bdf" x="544.84" y="155.95" class="u2"/>
<use href="#m5033db8bdf" x="546.28" y="155.95" class="u2"/>
<use href="#m5033db8bdf" x="548.44" y="155.95" class="u2"/>
<use href="#m5033db8bdf" x="548.66" y="155.95" class="u2"/>
<use href="#m5033db8bdf" x="549.6" y="155.95" class="u2"/>
<use href="#m5033db8bdf" x="551.84" y="155.95" class="u2"/>
<use href="#m5033db8bdf" x="553.77" y="155.95" class="u2"/>
<use href="#m5033db8bdf" x="555.11" y="155.95" class="u2"/>
<use href="#m5033db8bdf" x="558.38" y="155.95" class="u2"/>
<use href="#m5033db8bdf" x="561.08" y="155.95" class="u2"/>
<use href="#m5033db8bdf" x="561.33" y="155.95" class="u2"/>
<use href="#m5033db8bdf" x="562.51" y="155.95" class="u2"/>
</g>
</g>
<g id="patch_33">
<path d="M 350.06 159.34 564.05 159.34 564.05 161.06 350.06 161.06 z" clip-path="url(#pdf2b5f52ae)" style="fill: #ffa500; opacity: 0.75"/>
</g>
<g id="line2d_42">
<defs>
<path id="m1590b065b2" d="M -0 1.1 1.1 0 0 -1.1 -1.1 -0 z" style="stroke: #ffa500; stroke-opacity: 0.42; stroke-width: 0.5; stroke-linejoin: miter"/>
</defs>
<g clip-path="url(#pdf2b5f52ae)">
<use href="#m1590b065b2" x="351.33" y="160.2" class="u4"/>
<use href="#m1590b065b2" x="352.79" y="160.2" class="u4"/>
<use href="#m1590b065b2" x="357.21" y="160.2" class="u4"/>
<use href="#m1590b065b2" x="358.27" y="160.2" class="u4"/>
<use href="#m1590b065b2" x="360.71" y="160.2" class="u4"/>
<use href="#m1590b065b2" x="360.83" y="160.2" class="u4"/>
<use href="#m1590b065b2" x="364.22" y="160.2" class="u4"/>
<use href="#m1590b065b2" x="364.41" y="160.2" class="u4"/>
<use href="#m1590b065b2" x="364.67" y="160.2" class="u4"/>
<use href="#m1590b065b2" x="364.71" y="160.2" class="u4"/>
<use href="#m1590b065b2" x="364.93" y="160.2" class="u4"/>
<use href="#m1590b065b2" x="367.13" y="160.2" class="u4"/>
<use href="#m1590b065b2" x="367.28" y="160.2" class="u4"/>
<use href="#m1590b065b2" x="372.03" y="160.2" class="u4"/>
<use href="#m1590b065b2" x="379.09" y="160.2" class="u4"/>
<use href="#m1590b065b2" x="380.96" y="160.2" class="u4"/>
<use href="#m1590b065b2" x="384.97" y="160.2" class="u4"/>
<use href="#m1590b065b2" x="387.49" y="160.2" class="u4"/>
<use href="#m1590b065b2" x="389.43" y="160.2" class="u4"/>
<use href="#m1590b065b2" x="390.31" y="160.2" class="u4"/>
<use href="#m1590b065b2" x="390.39" y="160.2" class="u4"/>
<use href="#m1590b065b2" x="391.62" y="160.2" class="u4"/>
<use href="#m1590b065b2" x="395.37" y="160.2" class="u4"/>
<use href="#m1590b065b2" x="398.73" y="160.2" class="u4"/>
<use href="#m1590b065b2" x="399.95" y="160.2" class="u4"/>
<use href="#m1590b065b2" x="401.04" y="160.2" class="u4"/>
<use href="#m1590b065b2" x="403.36" y="160.2" class="u4"/>
<use href="#m1590b065b2" x="405.27" y="160.2" class="u4"/>
<use href="#m1590b065b2" x="406.32" y="160.2" class="u4"/>
<use href="#m1590b065b2" x="406.68" y="160.2" class="u4"/>
<use href="#m1590b065b2" x="410.29" y="160.2" class="u4"/>
<use href="#m1590b065b2" x="410.85" y="160.2" class="u4"/>
<use href="#m1590b065b2" x="411.71" y="160.2" class="u4"/>
<use href="#m1590b065b2" x="412.08" y="160.2" class="u4"/>
<use href="#m1590b065b2" x="412.57" y="160.2" class="u4"/>
<use href="#m1590b065b2" x="412.98" y="160.2" class="u4"/>
<use href="#m1590b065b2" x="415.48" y="160.2" class="u4"/>
<use href="#m1590b065b2" x="415.64" y="160.2" class="u4"/>
<use href="#m1590b065b2" x="417.25" y="160.2" class="u4"/>
<use href="#m1590b065b2" x="417.26" y="160.2" class="u4"/>
<use href="#m1590b065b2" x="417.51" y="160.2" class="u4"/>
<use href="#m1590b065b2" x="419.63" y="160.2" class="u4"/>
<use href="#m1590b065b2" x="420.31" y="160.2" class="u4"/>
<use href="#m1590b065b2" x="421.99" y="160.2" class="u4"/>
<use href="#m1590b065b2" x="422.12" y="160.2" class="u4"/>
<use href="#m1590b065b2" x="425.03" y="160.2" class="u4"/>
<use href="#m1590b065b2" x="425.51" y="160.2" class="u4"/>
<use href="#m1590b065b2" x="425.63" y="160.2" class="u4"/>
<use href="#m1590b065b2" x="428.82" y="160.2" class="u4"/>
<use href="#m1590b065b2" x="430.69" y="160.2" class="u4"/>
<use href="#m1590b065b2" x="431.11" y="160.2" class="u4"/>
<use href="#m1590b065b2" x="431.66" y="160.2" class="u4"/>
<use href="#m1590b065b2" x="434.94" y="160.2" class="u4"/>
<use href="#m1590b065b2" x="435.31" y="160.2" class="u4"/>
<use href="#m1590b065b2" x="437.99" y="160.2" class="u4"/>
<use href="#m1590b065b2" x="439.55" y="160.2" class="u4"/>
<use href="#m1590b065b2" x="442.15" y="160.2" class="u4"/>
<use href="#m1590b065b2" x="445.56" y="160.2" class="u4"/>
<use href="#m1590b065b2" x="445.77" y="160.2" class="u4"/>
<use href="#m1590b065b2" x="447.38" y="160.2" class="u4"/>
<use href="#m1590b065b2" x="447.66" y="160.2" class="u4"/>
<use href="#m1590b065b2" x="448.21" y="160.2" class="u4"/>
<use href="#m1590b065b2" x="455.08" y="160.2" class="u4"/>
<use href="#m1590b065b2" x="460.9" y="160.2" class="u4"/>
<use href="#m1590b065b2" x="463.68" y="160.2" class="u4"/>
<use href="#m1590b065b2" x="464.11" y="160.2" class="u4"/>
<use href="#m1590b065b2" x="465.42" y="160.2" class="u4"/>
<use href="#m1590b065b2" x="465.62" y="160.2" class="u4"/>
<use href="#m1590b065b2" x="467.28" y="160.2" class="u4"/>
<use href="#m1590b065b2" x="468.19" y="160.2" class="u4"/>
<use href="#m1590b065b2" x="470.98" y="160.2" class="u4"/>
<use href="#m1590b065b2" x="471.79" y="160.2" class="u4"/>
<use href="#m1590b065b2" x="474.21" y="160.2" class="u4"/>
<use href="#m1590b065b2" x="475.73" y="160.2" class="u4"/>
<use href="#m1590b065b2" x="480.32" y="160.2" class="u4"/>
<use href="#m1590b065b2" x="480.4" y="160.2" class="u4"/>
<use href="#m1590b065b2" x="481.94" y="160.2" class="u4"/>
<use href="#m1590b065b2" x="484.07" y="160.2" class="u4"/>
<use href="#m1590b065b2" x="485.12" y="160.2" class="u4"/>
<use href="#m1590b065b2" x="487.06" y="160.2" class="u4"/>
<use href="#m1590b065b2" x="488.3" y="160.2" class="u4"/>
<use href="#m1590b065b2" x="494.73" y="160.2" class="u4"/>
<use href="#m1590b065b2" x="496.78" y="160.2" class="u4"/>
<use href="#m1590b065b2" x="498.21" y="160.2" class="u4"/>
<use href="#m1590b065b2" x="498.21" y="160.2" class="u4"/>
<use href="#m1590b065b2" x="499.44" y="160.2" class="u4"/>
<use href="#m1590b065b2" x="502.6" y="160.2" class="u4"/>
<use href="#m1590b065b2" x="502.7" y="160.2" class="u4"/>
<use href="#m1590b065b2" x="502.72" y="160.2" class="u4"/>
<use href="#m1590b065b2" x="507.66" y="160.2" class="u4"/>
<use href="#m1590b065b2" x="513.29" y="160.2" class="u4"/>
<use href="#m1590b065b2" x="515.85" y="160.2" class="u4"/>
<use href="#m1590b065b2" x="525.49" y="160.2" class="u4"/>
<use href="#m1590b065b2" x="528.43" y="160.2" class="u4"/>
<use href="#m1590b065b2" x="529.61" y="160.2" class="u4"/>
<use href="#m1590b065b2" x="530.27" y="160.2" class="u4"/>
<use href="#m1590b065b2" x="530.58" y="160.2" class="u4"/>
<use href="#m1590b065b2" x="531.03" y="160.2" class="u4"/>
<use href="#m1590b065b2" x="531.21" y="160.2" class="u4"/>
<use href="#m1590b065b2" x="532.01" y="160.2" class="u4"/>
<use href="#m1590b065b2" x="533.65" y="160.2" class="u4"/>
<use href="#m1590b065b2" x="534.09" y="160.2" class="u4"/>
<use href="#m1590b065b2" x="537.67" y="160.2" class="u4"/>
<use href="#m1590b065b2" x="539.19" y="160.2" class="u4"/>
<use href="#m1590b065b2" x="539.43" y="160.2" class="u4"/>
<use href="#m1590b065b2" x="539.6" y="160.2" class="u4"/>
<use href="#m1590b065b2" x="547.99" y="160.2" class="u4"/>
<use href="#m1590b065b2" x="548.9" y="160.2" class="u4"/>
<use href="#m1590b065b2" x="549.07" y="160.2" class="u4"/>
<use href="#m1590b065b2" x="549.22" y="160.2" class="u4"/>
<use href="#m1590b065b2" x="552.52" y="160.2" class="u4"/>
<use href="#m1590b065b2" x="552.79" y="160.2" class="u4"/>
<use href="#m1590b065b2" x="552.93" y="160.2" class="u4"/>
<use href="#m1590b065b2" x="553.93" y="160.2" class="u4"/>
<use href="#m1590b065b2" x="557.25" y="160.2" class="u4"/>
<use href="#m1590b065b2" x="557.48" y="160.2" class="u4"/>
<use href="#m1590b065b2" x="558.83" y="160.2" class="u4"/>
<use href="#m1590b065b2" x="559.85" y="160.2" class="u4"/>
</g>
</g>
<g id="patch_34">
<path d="M 350.06 202.39 564.05 202.39 564.05 204.12 350.06 204.12 z" clip-path="url(#pdf2b5f52ae)" style="fill: #ffa500; opacity: 0.75"/>
</g>
<g id="line2d_43">
<g clip-path="url(#pdf2b5f52ae)">
<use href="#m1590b065b2" x="353.37" y="203.26" class="u4"/>
<use href="#m1590b065b2" x="354.23" y="203.26" class="u4"/>
<use href="#m1590b065b2" x="355.01" y="203.26" class="u4"/>
<use href="#m1590b065b2" x="355.56" y="203.26" class="u4"/>
<use href="#m1590b065b2" x="357.36" y="203.26" class="u4"/>
<use href="#m1590b065b2" x="360.88" y="203.26" class="u4"/>
<use href="#m1590b065b2" x="361.94" y="203.26" class="u4"/>
<use href="#m1590b065b2" x="362.25" y="203.26" class="u4"/>
<use href="#m1590b065b2" x="368.12" y="203.26" class="u4"/>
<use href="#m1590b065b2" x="368.39" y="203.26" class="u4"/>
<use href="#m1590b065b2" x="369.34" y="203.26" class="u4"/>
<use href="#m1590b065b2" x="369.81" y="203.26" class="u4"/>
<use href="#m1590b065b2" x="374.87" y="203.26" class="u4"/>
<use href="#m1590b065b2" x="375.95" y="203.26" class="u4"/>
<use href="#m1590b065b2" x="377.01" y="203.26" class="u4"/>
<use href="#m1590b065b2" x="380.04" y="203.26" class="u4"/>
<use href="#m1590b065b2" x="385.62" y="203.26" class="u4"/>
<use href="#m1590b065b2" x="385.95" y="203.26" class="u4"/>
<use href="#m1590b065b2" x="386.52" y="203.26" class="u4"/>
<use href="#m1590b065b2" x="389.56" y="203.26" class="u4"/>
<use href="#m1590b065b2" x="391.69" y="203.26" class="u4"/>
<use href="#m1590b065b2" x="394.27" y="203.26" class="u4"/>
<use href="#m1590b065b2" x="394.44" y="203.26" class="u4"/>
<use href="#m1590b065b2" x="399.95" y="203.26" class="u4"/>
<use href="#m1590b065b2" x="400.75" y="203.26" class="u4"/>
<use href="#m1590b065b2" x="401.71" y="203.26" class="u4"/>
<use href="#m1590b065b2" x="402.71" y="203.26" class="u4"/>
<use href="#m1590b065b2" x="403.19" y="203.26" class="u4"/>
<use href="#m1590b065b2" x="404.41" y="203.26" class="u4"/>
<use href="#m1590b065b2" x="406.63" y="203.26" class="u4"/>
<use href="#m1590b065b2" x="407.67" y="203.26" class="u4"/>
<use href="#m1590b065b2" x="408.59" y="203.26" class="u4"/>
<use href="#m1590b065b2" x="409.15" y="203.26" class="u4"/>
<use href="#m1590b065b2" x="409.32" y="203.26" class="u4"/>
<use href="#m1590b065b2" x="411.11" y="203.26" class="u4"/>
<use href="#m1590b065b2" x="412.85" y="203.26" class="u4"/>
<use href="#m1590b065b2" x="413.6" y="203.26" class="u4"/>
<use href="#m1590b065b2" x="415.32" y="203.26" class="u4"/>
<use href="#m1590b065b2" x="417.37" y="203.26" class="u4"/>
<use href="#m1590b065b2" x="421.31" y="203.26" class="u4"/>
<use href="#m1590b065b2" x="423.79" y="203.26" class="u4"/>
<use href="#m1590b065b2" x="424.94" y="203.26" class="u4"/>
<use href="#m1590b065b2" x="426.13" y="203.26" class="u4"/>
<use href="#m1590b065b2" x="427.11" y="203.26" class="u4"/>
<use href="#m1590b065b2" x="427.55" y="203.26" class="u4"/>
<use href="#m1590b065b2" x="428.48" y="203.26" class="u4"/>
<use href="#m1590b065b2" x="429.77" y="203.26" class="u4"/>
<use href="#m1590b065b2" x="431.66" y="203.26" class="u4"/>
<use href="#m1590b065b2" x="433.9" y="203.26" class="u4"/>
<use href="#m1590b065b2" x="436.72" y="203.26" class="u4"/>
<use href="#m1590b065b2" x="436.74" y="203.26" class="u4"/>
<use href="#m1590b065b2" x="436.78" y="203.26" class="u4"/>
<use href="#m1590b065b2" x="437.23" y="203.26" class="u4"/>
<use href="#m1590b065b2" x="441.49" y="203.26" class="u4"/>
<use href="#m1590b065b2" x="441.92" y="203.26" class="u4"/>
<use href="#m1590b065b2" x="442.99" y="203.26" class="u4"/>
<use href="#m1590b065b2" x="443.8" y="203.26" class="u4"/>
<use href="#m1590b065b2" x="444.66" y="203.26" class="u4"/>
<use href="#m1590b065b2" x="449.32" y="203.26" class="u4"/>
<use href="#m1590b065b2" x="453.16" y="203.26" class="u4"/>
<use href="#m1590b065b2" x="453.62" y="203.26" class="u4"/>
<use href="#m1590b065b2" x="461.58" y="203.26" class="u4"/>
<use href="#m1590b065b2" x="463.74" y="203.26" class="u4"/>
<use href="#m1590b065b2" x="464.63" y="203.26" class="u4"/>
<use href="#m1590b065b2" x="471.38" y="203.26" class="u4"/>
<use href="#m1590b065b2" x="471.49" y="203.26" class="u4"/>
<use href="#m1590b065b2" x="472.1" y="203.26" class="u4"/>
<use href="#m1590b065b2" x="474.8" y="203.26" class="u4"/>
<use href="#m1590b065b2" x="478.95" y="203.26" class="u4"/>
<use href="#m1590b065b2" x="481.6" y="203.26" class="u4"/>
<use href="#m1590b065b2" x="484.54" y="203.26" class="u4"/>
<use href="#m1590b065b2" x="484.76" y="203.26" class="u4"/>
<use href="#m1590b065b2" x="485.53" y="203.26" class="u4"/>
<use href="#m1590b065b2" x="485.86" y="203.26" class="u4"/>
<use href="#m1590b065b2" x="491.04" y="203.26" class="u4"/>
<use href="#m1590b065b2" x="492.98" y="203.26" class="u4"/>
<use href="#m1590b065b2" x="494.46" y="203.26" class="u4"/>
<use href="#m1590b065b2" x="496.41" y="203.26" class="u4"/>
<use href="#m1590b065b2" x="497.11" y="203.26" class="u4"/>
<use href="#m1590b065b2" x="501.45" y="203.26" class="u4"/>
<use href="#m1590b065b2" x="501.68" y="203.26" class="u4"/>
<use href="#m1590b065b2" x="501.83" y="203.26" class="u4"/>
<use href="#m1590b065b2" x="507.73" y="203.26" class="u4"/>
<use href="#m1590b065b2" x="508.69" y="203.26" class="u4"/>
<use href="#m1590b065b2" x="508.92" y="203.26" class="u4"/>
<use href="#m1590b065b2" x="509.24" y="203.26" class="u4"/>
<use href="#m1590b065b2" x="509.61" y="203.26" class="u4"/>
<use href="#m1590b065b2" x="514.97" y="203.26" class="u4"/>
<use href="#m1590b065b2" x="515.93" y="203.26" class="u4"/>
<use href="#m1590b065b2" x="516.49" y="203.26" class="u4"/>
<use href="#m1590b065b2" x="517.21" y="203.26" class="u4"/>
<use href="#m1590b065b2" x="518.28" y="203.26" class="u4"/>
<use href="#m1590b065b2" x="520.69" y="203.26" class="u4"/>
<use href="#m1590b065b2" x="523.09" y="203.26" class="u4"/>
<use href="#m1590b065b2" x="524.88" y="203.26" class="u4"/>
<use href="#m1590b065b2" x="526.77" y="203.26" class="u4"/>
<use href="#m1590b065b2" x="529.34" y="203.26" class="u4"/>
<use href="#m1590b065b2" x="530.43" y="203.26" class="u4"/>
<use href="#m1590b065b2" x="531.54" y="203.26" class="u4"/>
<use href="#m1590b065b2" x="531.63" y="203.26" class="u4"/>
<use href="#m1590b065b2" x="533.42" y="203.26" class="u4"/>
<use href="#m1590b065b2" x="533.46" y="203.26" class="u4"/>
<use href="#m1590b065b2" x="533.97" y="203.26" class="u4"/>
<use href="#m1590b065b2" x="534.54" y="203.26" class="u4"/>
<use href="#m1590b065b2" x="536.56" y="203.26" class="u4"/>
<use href="#m1590b065b2" x="536.86" y="203.26" class="u4"/>
<use href="#m1590b065b2" x="537.98" y="203.26" class="u4"/>
<use href="#m1590b065b2" x="538.33" y="203.26" class="u4"/>
<use href="#m1590b065b2" x="538.38" y="203.26" class="u4"/>
<use href="#m1590b065b2" x="539.81" y="203.26" class="u4"/>
<use href="#m1590b065b2" x="542.78" y="203.26" class="u4"/>
<use href="#m1590b065b2" x="545.73" y="203.26" class="u4"/>
<use href="#m1590b065b2" x="547.56" y="203.26" class="u4"/>
<use href="#m1590b065b2" x="552.29" y="203.26" class="u4"/>
<use href="#m1590b065b2" x="553.02" y="203.26" class="u4"/>
<use href="#m1590b065b2" x="556.46" y="203.26" class="u4"/>
<use href="#m1590b065b2" x="559.99" y="203.26" class="u4"/>
<use href="#m1590b065b2" x="561.28" y="203.26" class="u4"/>
</g>
</g>
<g id="patch_35">
<path d="M 350.06 206.78 564.05 206.78 564.05 208.51 350.06 208.51 z" clip-path="url(#pdf2b5f52ae)" style="fill: #ffa500; opacity: 0.22"/>
</g>
<g id="line2d_44">
<g clip-path="url(#pdf2b5f52ae)">
<use href="#m5033db8bdf" x="350.99" y="207.65" class="u2"/>
<use href="#m5033db8bdf" x="353.58" y="207.65" class="u2"/>
<use href="#m5033db8bdf" x="355.86" y="207.65" class="u2"/>
<use href="#m5033db8bdf" x="357.93" y="207.65" class="u2"/>
<use href="#m5033db8bdf" x="360.35" y="207.65" class="u2"/>
<use href="#m5033db8bdf" x="362.78" y="207.65" class="u2"/>
<use href="#m5033db8bdf" x="364.53" y="207.65" class="u2"/>
<use href="#m5033db8bdf" x="364.61" y="207.65" class="u2"/>
<use href="#m5033db8bdf" x="365.22" y="207.65" class="u2"/>
<use href="#m5033db8bdf" x="365.49" y="207.65" class="u2"/>
<use href="#m5033db8bdf" x="366.24" y="207.65" class="u2"/>
<use href="#m5033db8bdf" x="369.29" y="207.65" class="u2"/>
<use href="#m5033db8bdf" x="369.81" y="207.65" class="u2"/>
<use href="#m5033db8bdf" x="370.3" y="207.65" class="u2"/>
<use href="#m5033db8bdf" x="377.29" y="207.65" class="u2"/>
<use href="#m5033db8bdf" x="378.98" y="207.65" class="u2"/>
<use href="#m5033db8bdf" x="379.93" y="207.65" class="u2"/>
<use href="#m5033db8bdf" x="380.29" y="207.65" class="u2"/>
<use href="#m5033db8bdf" x="382.6" y="207.65" class="u2"/>
<use href="#m5033db8bdf" x="385.17" y="207.65" class="u2"/>
<use href="#m5033db8bdf" x="387.48" y="207.65" class="u2"/>
<use href="#m5033db8bdf" x="387.98" y="207.65" class="u2"/>
<use href="#m5033db8bdf" x="391.65" y="207.65" class="u2"/>
<use href="#m5033db8bdf" x="391.87" y="207.65" class="u2"/>
<use href="#m5033db8bdf" x="392.63" y="207.65" class="u2"/>
<use href="#m5033db8bdf" x="394.39" y="207.65" class="u2"/>
<use href="#m5033db8bdf" x="396.71" y="207.65" class="u2"/>
<use href="#m5033db8bdf" x="397.49" y="207.65" class="u2"/>
<use href="#m5033db8bdf" x="397.87" y="207.65" class="u2"/>
<use href="#m5033db8bdf" x="399.67" y="207.65" class="u2"/>
<use href="#m5033db8bdf" x="400.37" y="207.65" class="u2"/>
<use href="#m5033db8bdf" x="400.47" y="207.65" class="u2"/>
<use href="#m5033db8bdf" x="401.36" y="207.65" class="u2"/>
<use href="#m5033db8bdf" x="402.22" y="207.65" class="u2"/>
<use href="#m5033db8bdf" x="404.21" y="207.65" class="u2"/>
<use href="#m5033db8bdf" x="404.42" y="207.65" class="u2"/>
<use href="#m5033db8bdf" x="407.34" y="207.65" class="u2"/>
<use href="#m5033db8bdf" x="409.16" y="207.65" class="u2"/>
<use href="#m5033db8bdf" x="410.84" y="207.65" class="u2"/>
<use href="#m5033db8bdf" x="414.12" y="207.65" class="u2"/>
<use href="#m5033db8bdf" x="415.71" y="207.65" class="u2"/>
<use href="#m5033db8bdf" x="416.61" y="207.65" class="u2"/>
<use href="#m5033db8bdf" x="418.82" y="207.65" class="u2"/>
<use href="#m5033db8bdf" x="419.38" y="207.65" class="u2"/>
<use href="#m5033db8bdf" x="420.33" y="207.65" class="u2"/>
<use href="#m5033db8bdf" x="420.93" y="207.65" class="u2"/>
<use href="#m5033db8bdf" x="421.08" y="207.65" class="u2"/>
<use href="#m5033db8bdf" x="421.94" y="207.65" class="u2"/>
<use href="#m5033db8bdf" x="421.99" y="207.65" class="u2"/>
<use href="#m5033db8bdf" x="422.65" y="207.65" class="u2"/>
<use href="#m5033db8bdf" x="424.28" y="207.65" class="u2"/>
<use href="#m5033db8bdf" x="424.85" y="207.65" class="u2"/>
<use href="#m5033db8bdf" x="426.41" y="207.65" class="u2"/>
<use href="#m5033db8bdf" x="429.16" y="207.65" class="u2"/>
<use href="#m5033db8bdf" x="429.76" y="207.65" class="u2"/>
<use href="#m5033db8bdf" x="433.64" y="207.65" class="u2"/>
<use href="#m5033db8bdf" x="434.54" y="207.65" class="u2"/>
<use href="#m5033db8bdf" x="436.24" y="207.65" class="u2"/>
<use href="#m5033db8bdf" x="438.4" y="207.65" class="u2"/>
<use href="#m5033db8bdf" x="439.43" y="207.65" class="u2"/>
<use href="#m5033db8bdf" x="441.08" y="207.65" class="u2"/>
<use href="#m5033db8bdf" x="441.61" y="207.65" class="u2"/>
<use href="#m5033db8bdf" x="442.74" y="207.65" class="u2"/>
<use href="#m5033db8bdf" x="444.27" y="207.65" class="u2"/>
<use href="#m5033db8bdf" x="444.37" y="207.65" class="u2"/>
<use href="#m5033db8bdf" x="444.51" y="207.65" class="u2"/>
<use href="#m5033db8bdf" x="446.09" y="207.65" class="u2"/>
<use href="#m5033db8bdf" x="447.99" y="207.65" class="u2"/>
<use href="#m5033db8bdf" x="461.77" y="207.65" class="u2"/>
<use href="#m5033db8bdf" x="462.59" y="207.65" class="u2"/>
<use href="#m5033db8bdf" x="463.09" y="207.65" class="u2"/>
<use href="#m5033db8bdf" x="467.52" y="207.65" class="u2"/>
<use href="#m5033db8bdf" x="471.11" y="207.65" class="u2"/>
<use href="#m5033db8bdf" x="473.38" y="207.65" class="u2"/>
<use href="#m5033db8bdf" x="476.81" y="207.65" class="u2"/>
<use href="#m5033db8bdf" x="479.21" y="207.65" class="u2"/>
<use href="#m5033db8bdf" x="479.75" y="207.65" class="u2"/>
<use href="#m5033db8bdf" x="480.68" y="207.65" class="u2"/>
<use href="#m5033db8bdf" x="481.84" y="207.65" class="u2"/>
<use href="#m5033db8bdf" x="483.26" y="207.65" class="u2"/>
<use href="#m5033db8bdf" x="484.01" y="207.65" class="u2"/>
<use href="#m5033db8bdf" x="486.34" y="207.65" class="u2"/>
<use href="#m5033db8bdf" x="487.95" y="207.65" class="u2"/>
<use href="#m5033db8bdf" x="488.22" y="207.65" class="u2"/>
<use href="#m5033db8bdf" x="488.7" y="207.65" class="u2"/>
<use href="#m5033db8bdf" x="488.7" y="207.65" class="u2"/>
<use href="#m5033db8bdf" x="489.04" y="207.65" class="u2"/>
<use href="#m5033db8bdf" x="489.7" y="207.65" class="u2"/>
<use href="#m5033db8bdf" x="495.67" y="207.65" class="u2"/>
<use href="#m5033db8bdf" x="501.08" y="207.65" class="u2"/>
<use href="#m5033db8bdf" x="501.2" y="207.65" class="u2"/>
<use href="#m5033db8bdf" x="505.08" y="207.65" class="u2"/>
<use href="#m5033db8bdf" x="505.52" y="207.65" class="u2"/>
<use href="#m5033db8bdf" x="506" y="207.65" class="u2"/>
<use href="#m5033db8bdf" x="508.37" y="207.65" class="u2"/>
<use href="#m5033db8bdf" x="509.76" y="207.65" class="u2"/>
<use href="#m5033db8bdf" x="510.27" y="207.65" class="u2"/>
<use href="#m5033db8bdf" x="513.44" y="207.65" class="u2"/>
<use href="#m5033db8bdf" x="514.29" y="207.65" class="u2"/>
<use href="#m5033db8bdf" x="515.77" y="207.65" class="u2"/>
<use href="#m5033db8bdf" x="515.82" y="207.65" class="u2"/>
<use href="#m5033db8bdf" x="519.27" y="207.65" class="u2"/>
<use href="#m5033db8bdf" x="523.46" y="207.65" class="u2"/>
<use href="#m5033db8bdf" x="523.89" y="207.65" class="u2"/>
<use href="#m5033db8bdf" x="524.93" y="207.65" class="u2"/>
<use href="#m5033db8bdf" x="525.57" y="207.65" class="u2"/>
<use href="#m5033db8bdf" x="526.47" y="207.65" class="u2"/>
<use href="#m5033db8bdf" x="527.27" y="207.65" class="u2"/>
<use href="#m5033db8bdf" x="528.02" y="207.65" class="u2"/>
<use href="#m5033db8bdf" x="529.17" y="207.65" class="u2"/>
<use href="#m5033db8bdf" x="531.75" y="207.65" class="u2"/>
<use href="#m5033db8bdf" x="533.81" y="207.65" class="u2"/>
<use href="#m5033db8bdf" x="534.63" y="207.65" class="u2"/>
<use href="#m5033db8bdf" x="535.17" y="207.65" class="u2"/>
<use href="#m5033db8bdf" x="540.59" y="207.65" class="u2"/>
<use href="#m5033db8bdf" x="541.02" y="207.65" class="u2"/>
<use href="#m5033db8bdf" x="544.31" y="207.65" class="u2"/>
<use href="#m5033db8bdf" x="544.4" y="207.65" class="u2"/>
<use href="#m5033db8bdf" x="545.4" y="207.65" class="u2"/>
<use href="#m5033db8bdf" x="545.86" y="207.65" class="u2"/>
<use href="#m5033db8bdf" x="546.23" y="207.65" class="u2"/>
<use href="#m5033db8bdf" x="548.73" y="207.65" class="u2"/>
<use href="#m5033db8bdf" x="549.56" y="207.65" class="u2"/>
<use href="#m5033db8bdf" x="549.77" y="207.65" class="u2"/>
<use href="#m5033db8bdf" x="551.36" y="207.65" class="u2"/>
<use href="#m5033db8bdf" x="551.89" y="207.65" class="u2"/>
<use href="#m5033db8bdf" x="554.69" y="207.65" class="u2"/>
<use href="#m5033db8bdf" x="556.93" y="207.65" class="u2"/>
<use href="#m5033db8bdf" x="557.82" y="207.65" class="u2"/>
<use href="#m5033db8bdf" x="558.46" y="207.65" class="u2"/>
<use href="#m5033db8bdf" x="558.62" y="207.65" class="u2"/>
<use href="#m5033db8bdf" x="560.05" y="207.65" class="u2"/>
<use href="#m5033db8bdf" x="560.6" y="207.65" class="u2"/>
<use href="#m5033db8bdf" x="560.7" y="207.65" class="u2"/>
<use href="#m5033db8bdf" x="562.21" y="207.65" class="u2"/>
</g>
</g>
<g id="line2d_45">
<g clip-path="url(#pdf2b5f52ae)">
<use href="#mcfa5bfee2b" x="354.14" y="212.18" class="u3"/>
<use href="#mcfa5bfee2b" x="355.51" y="212.1" class="u3"/>
<use href="#mcfa5bfee2b" x="366.08" y="211.93" class="u3"/>
<use href="#mcfa5bfee2b" x="370.33" y="212.01" class="u3"/>
<use href="#mcfa5bfee2b" x="376.27" y="211.96" class="u3"/>
<use href="#mcfa5bfee2b" x="386.11" y="212.04" class="u3"/>
<use href="#mcfa5bfee2b" x="388.99" y="212.18" class="u3"/>
<use href="#mcfa5bfee2b" x="389.94" y="211.81" class="u3"/>
<use href="#mcfa5bfee2b" x="400.02" y="212.22" class="u3"/>
<use href="#mcfa5bfee2b" x="402.99" y="211.98" class="u3"/>
<use href="#mcfa5bfee2b" x="410" y="212.25" class="u3"/>
<use href="#mcfa5bfee2b" x="410.01" y="212.09" class="u3"/>
<use href="#mcfa5bfee2b" x="411.11" y="212.21" class="u3"/>
<use href="#mcfa5bfee2b" x="411.5" y="212.12" class="u3"/>
<use href="#mcfa5bfee2b" x="413.3" y="212.19" class="u3"/>
<use href="#mcfa5bfee2b" x="415.99" y="212.04" class="u3"/>
<use href="#mcfa5bfee2b" x="416.15" y="211.91" class="u3"/>
<use href="#mcfa5bfee2b" x="417.35" y="212.13" class="u3"/>
<use href="#mcfa5bfee2b" x="425.53" y="212.14" class="u3"/>
<use href="#mcfa5bfee2b" x="428.38" y="212.34" class="u3"/>
<use href="#mcfa5bfee2b" x="431.69" y="211.75" class="u3"/>
<use href="#mcfa5bfee2b" x="441.7" y="212.01" class="u3"/>
<use href="#mcfa5bfee2b" x="444.38" y="212.19" class="u3"/>
<use href="#mcfa5bfee2b" x="447.95" y="211.85" class="u3"/>
<use href="#mcfa5bfee2b" x="454.56" y="212" class="u3"/>
<use href="#mcfa5bfee2b" x="457.95" y="212.34" class="u3"/>
<use href="#mcfa5bfee2b" x="470.32" y="212.24" class="u3"/>
<use href="#mcfa5bfee2b" x="472.19" y="211.91" class="u3"/>
<use href="#mcfa5bfee2b" x="479.95" y="212.24" class="u3"/>
<use href="#mcfa5bfee2b" x="486.75" y="212.21" class="u3"/>
<use href="#mcfa5bfee2b" x="494.8" y="212.15" class="u3"/>
<use href="#mcfa5bfee2b" x="499.78" y="212.09" class="u3"/>
<use href="#mcfa5bfee2b" x="500.09" y="212.07" class="u3"/>
<use href="#mcfa5bfee2b" x="500.72" y="211.91" class="u3"/>
<use href="#mcfa5bfee2b" x="505.87" y="211.96" class="u3"/>
<use href="#mcfa5bfee2b" x="508.37" y="212.14" class="u3"/>
<use href="#mcfa5bfee2b" x="515.69" y="212.06" class="u3"/>
<use href="#mcfa5bfee2b" x="517.97" y="212.3" class="u3"/>
<use href="#mcfa5bfee2b" x="529.61" y="211.99" class="u3"/>
<use href="#mcfa5bfee2b" x="534.29" y="211.69" class="u3"/>
<use href="#mcfa5bfee2b" x="544.77" y="211.99" class="u3"/>
<use href="#mcfa5bfee2b" x="545.54" y="212.08" class="u3"/>
<use href="#mcfa5bfee2b" x="548.29" y="212.09" class="u3"/>
<use href="#mcfa5bfee2b" x="548.99" y="212.05" class="u3"/>
<use href="#mcfa5bfee2b" x="550.44" y="211.92" class="u3"/>
<use href="#mcfa5bfee2b" x="551.74" y="212.25" class="u3"/>
<use href="#mcfa5bfee2b" x="553.58" y="211.94" class="u3"/>
<use href="#mcfa5bfee2b" x="558.46" y="212.14" class="u3"/>
</g>
</g>
<g id="patch_36">
<path d="M 340.2 216.48 340.2 142.32" style="fill: none; stroke: #000000; stroke-width: 0.8; stroke-linejoin: miter; stroke-linecap: square"/>
</g>
<g id="patch_37">
<path d="M 577.08 216.48 577.08 142.32" style="fill: none; stroke: #000000; stroke-width: 0.8; stroke-linejoin: miter; stroke-linecap: square"/>
</g>
<g id="patch_38">
<path d="M 340.2 216.48 577.08 216.48" style="fill: none; stroke: #000000; stroke-width: 0.8; stroke-linejoin: miter; stroke-linecap: square"/>
</g>
<g id="patch_39">
<path d="M 340.2 142.32 577.08 142.32" style="fill: none; stroke: #000000; stroke-width: 0.8; stroke-linejoin: miter; stroke-linecap: square"/>
</g>
<g id="patch_40">
<path d="M 350.06 163.55 564.05 163.55 564.05 165.49 350.06 165.49 z" clip-path="url(#pdf2b5f52ae)" style="fill: #ffa500"/>
</g>
<g id="patch_41">
<path d="M 350.06 167.8 564.05 167.8 564.05 169.74 350.06 169.74 z" clip-path="url(#pdf2b5f52ae)" style="fill: #ffa500"/>
</g>
<g id="patch_42">
<path d="M 350.06 172.04 564.05 172.04 564.05 173.99 350.06 173.99 z" clip-path="url(#pdf2b5f52ae)" style="fill: #ffa500"/>
</g>
<g id="patch_43">
<path d="M 350.06 176.44 564.05 176.44 564.05 178.38 350.06 178.38 z" clip-path="url(#pdf2b5f52ae)" style="fill: #ffa500"/>
</g>
<g id="patch_44">
<path d="M 350.06 180.68 564.05 180.68 564.05 182.63 350.06 182.63 z" clip-path="url(#pdf2b5f52ae)" style="fill: #ffa500"/>
</g>
<g id="patch_45">
<path d="M 350.06 185 564.05 185 564.05 186.95 350.06 186.95 z" clip-path="url(#pdf2b5f52ae)" style="fill: #ffa500"/>
</g>
<g id="patch_46">
<path d="M 350.06 189.25 564.05 189.25 564.05 191.2 350.06 191.2 z" clip-path="url(#pdf2b5f52ae)" style="fill: #ffa500"/>
</g>
<g id="patch_47">
<path d="M 350.06 193.64 564.05 193.64 564.05 195.59 350.06 195.59 z" clip-path="url(#pdf2b5f52ae)" style="fill: #ffa500"/>
</g>
<g id="patch_48">
<path d="M 350.06 197.89 564.05 197.89 564.05 199.84 350.06 199.84 z" clip-path="url(#pdf2b5f52ae)" style="fill: #ffa500"/>
</g>
<g id="patch_49">
<path d="M 396.72 165.02 399.6 165.02 399.6 166.75 396.72 166.75 z" clip-path="url(#pdf2b5f52ae)" style="fill: #ffa500"/>
</g>
<g id="patch_50">
<path d="M 453.24 165.02 455.76 165.02 455.76 166.75 453.24 166.75 z" clip-path="url(#pdf2b5f52ae)" style="fill: #ffa500"/>
</g>
<g id="patch_51">
<path d="M 509.04 165.02 511.92 165.02 511.92 166.75 509.04 166.75 z" clip-path="url(#pdf2b5f52ae)" style="fill: #ffa500"/>
</g>
<g id="patch_52">
<path d="M 562.61 165.02 567.36 165.02 567.36 166.75 562.61 166.75 z" clip-path="url(#pdf2b5f52ae)" style="fill: #ffa500"/>
</g>
<g id="text_39">
<text style="font-size: 12px; font-family: 'DejaVu Sans', 'Liberation Sans', sans-serif; text-anchor: middle" x="458.64" y="136.32">NoRP 2GHz Stokes-V</text>
</g>
</g>
<g id="axes_5">
<g id="patch_53">
<path d="M 57.96 333.24 294.84 333.24 294.84 259.08 57.96 259.08 z" style="fill: #ffffff"/>
</g>
<g id="matplotlib.axis_9">
<g id="xtick_25">
<g id="line2d_46">
<g>
<use href="#m1504cfccaf" x="87.45" y="333.24" class="u0"/>
</g>
</g>
<g id="text_40">
<text style="font-size: 10px; font-family: 'DejaVu Sans', 'Liberation Sans', sans-serif; text-anchor: middle" x="87.45" y="347.84">22:00</text>
</g>
</g>
<g id="xtick_26">
<g id="line2d_47">
<g>
<use href="#m1504cfccaf" x="124.9" y="333.24" class="u0"/>
</g>
</g>
<g id="text_41">
<text style="font-size: 10px; font-family: 'DejaVu Sans', 'Liberation Sans', sans-serif; text-anchor: middle" x="124.9" y="347.84">00:00</text>
</g>
</g>
<g id="xtick_27">
<g id="line2d_48">
<g>
<use href="#m1504cfccaf" x="162.36" y="333.24" class="u0"/>
</g>
</g>
<g id="text_42">
<text style="font-size: 10px; font-family: 'DejaVu Sans', 'Liberation Sans', sans-serif; text-anchor: middle" x="162.36" y="347.84">02:00</text>
</g>
</g>
<g id="xtick_28">
<g id="line2d_49">
<g>
<use href="#m1504cfccaf" x="199.81" y="333.24" class="u0"/>
</g>
</g>
<g id="text_43">
<text style="font-size: 10px; font-family: 'DejaVu Sans', 'Liberation Sans', sans-serif; text-anchor: middle" x="199.81" y="347.84">04:00</text>
</g>
</g>
<g id="xtick_29">
<g id="line2d_50">
<g>
<use href="#m1504cfccaf" x="237.26" y="333.24" class="u0"/>
</g>
</g>
<g id="text_44">
<text style="font-size: 10px; font-family: 'DejaVu Sans', 'Liberation Sans', sans-serif; text-anchor: middle" x="237.26" y="347.84">06:00</text>
</g>
</g>
<g id="xtick_30">
<g id="line2d_51">
<g>
<use href="#m1504cfccaf" x="274.71" y="333.24" class="u0"/>
</g>
</g>
<g id="text_45">
<text style="font-size: 10px; font-family: 'DejaVu Sans', 'Liberation Sans', sans-serif; text-anchor: middle" x="274.71" y="347.84">08:00</text>
</g>
</g>
</g>
<g id="matplotlib.axis_10">
<g id="ytick_10">
<g id="line2d_52">
<g>
<use href="#m5d545ce8f8" x="57.96" y="304.92" class="u0"/>
</g>
</g>
<g id="text_46">
<text style="font-size: 10px; font-family: 'DejaVu Sans', 'Liberation Sans', sans-serif; text-anchor: end" x="50.96" y="308.72">50</text>
</g>
</g>
<g id="ytick_11">
<g id="line2d_53">
<g>
<use href="#m5d545ce8f8" x="57.96" y="268.92" class="u0"/>
</g>
</g>
<g id="text_47">
<text style="font-size: 10px; font-family: 'DejaVu Sans', 'Liberation Sans', sans-serif; text-anchor: end" x="50.96" y="272.72">100</text>
</g>
</g>
<g id="text_48">
<text style="font-size: 10px; font-family: 'DejaVu Sans', 'Liberation Sans', sans-serif; text-anchor: middle" x="24.35" y="296.52" transform="rotate(-90 24.353 296.525)">Flux [SFU]</text>
</g>
</g>
<g id="patch_54">
<path d="M70.4 266.1l.7-.5 .8 .4 .7 0 .7 .2 .7 .1 .7 .2 .8 0 .7-.3 .7 .1 .7-.1 .7-.3 .8 .5 .7-.1 .7 .1 .7-.4 .7 .2 .8-.3 .7 0 .7-.1 .7-.2 .7 .7 .8-.1 .7 .4 .7-.2 .7 .3 .7-.1 .8 .6 .7-.2 .7 .2 .7 0 .7 .1 .8-.1 .7-.1 .7-1 .7-.3 .7 .3 .8 0 .7 .1 .7 0 .7 .8 .7 0 .8 .3 .7-.1 .7 .4 .7-.5 .7 .3 .8 0 .7-.5 .7 0 .7-.2 .7-.4 .8 .6 .7 .4 .7-.2 .7 .3 .7-.3 .8 .4 .7-.4 .7 .5 .7 .2 .7 0 .8 0 .7-.4 .7 .4 .7-.3 .7 .2 .8 0 .7-.1 .7-.2 .7 .5 .7 0 .8 0 .7-.1 .7-.1 .7-1.1 .7 .8 .8-.5 .7 .6 .7 .7 .7 .2 .7 0 .8-.1 .7-.2 .7 .6 .7-.1 .7 0 .8 0 .7-.5 .7 .1 .7 .1 .7-.6 .8 1.3 .7-.1 .7 .2 .7 .2 .7-1.1 .8 1 .7-.2 .7 .2 .7-.1 .7 0 .8-.1 .7-.4 .7 .4 .7-.2 .7 .3 .8 0 .7 .2 .7-.4 .7 .2 .7-.1 .8 .3 .7-.6 .7 .3 .7 .3 .7-.4 .8 .1 .7-.1 .7 .1 .7 .4 .7-.1 .8 .1 .7-.4 .7 0 .7-.1 .7 .1 .8 .4 .7-.1 .7 0 .7 .3 .7-.5 .8-.6 .7 .9 .7-.2 .7-.4 .7 .5 .8 .1 .7-.3 .7 .4 .7 .3 .7 .1 .8-.4 .7 .2 .7-.4 .7-.2 .7 .7 .8-.1 .7 0 .7 .2 .7 .1 .7-.7 .8 .4 .7 .3 .7-.2 .7-.3 .7 .5 .8 .5 .7-.2 .7-.3 .7 .2 .7-.3 .8-.1 .7 .2 .7-.3 .7-.2 .7 0 .8 .3 .7 .2 .7 0 .7-.1 .7 .2 .8 .3 .7-.3 .7 .3 .7-.2 .7-.2 .8 .2 .7-.2 .7 0 .7 .2 .7 .2 .8-.2 .7-.1 .7-.1 .7 .3 .7 .1 .8-.1 .7-.2 .7 .1 .7-.2 .7-.1 .8 .2 .7-.8 .7 .8 .7 .1 .7-.2 .8-.1 .7 .3 .7-.1 .7 .1 .7 .1 .8-.1 .7 .3 .7-.4 .7 .6 .7-.3 .8 .2 .7 .1 .7 .2 .7 0 .7-.2 .8 .2 .7-.1 .7 .2 .7-.4 .7 .1 .8 0 .7-.1 .7 .1 .7-.6 .7 .6 .8-.1 .7 .1 .7-.1 .7-.1 .7-.1 .8-.2 .7 .3 .7-.7 .7 .2 .7-.1 .8-.4 .7 0 .7 .3 .7 0 .7-.1 .8-.2 .7 .2 .7-.6 .7 .5 .7-.1 .8-.1 .7 .1 .7-.1 .7-.1 .7-.1 .8-.5 .7 .4 .7-.3 .7 .7 .7 .2 .8-.4 .7-.3 .7 .4 .7-.3 .7 .2 .8 0 .7-.1 .7 .1 .7-.1 .7-.4 .8-.3 .7-.1 .7 .1 .7-.1 .7 .1 .8-.1 .7-.5 .7 .3 .7-.2 .7 .1 .8-.3 .7-.3 .7 .4 .7-.3 .7 .4 .8 .1 .7-.6 .7 0 .7 .4 .7 .2 .8 .1 .7-.1 .7-.4 .7 .7 .7-.4 .8-.5 .7 .3 .7-.3 .7-.3 .7 .5 .8-.2 .7-.1 0 7.2-.7-.5-.8 .6-.7 0-.7 .4-.7-.3-.7 .3-.8-.1-.7 .2-.7-.6-.7 .2-.7 .1-.8-.4-.7 .1-.7 .7-.7-.5-.7-.1-.8 .2-.7 0-.7 0-.7 .3-.7-.2-.8 .3-.7-.3-.7-.6-.7 0-.7 .7-.8 1-.7-.6-.7 .1-.7 .2-.7-.3-.8-.3-.7-.1-.7-.1-.7 .3-.7 .1-.8 .1-.7 .3-.7-.1-.7 .2-.7-.4-.8-.2-.7 .2-.7-.1-.7 .4-.7-.3-.8 .2-.7-.1-.7 0-.7 .2-.7 .2-.8-.4-.7-.4-.7 .3-.7 .5-.7-.2-.8 .1-.7 .6-.7-.6-.7-.1-.7 .3-.8-.4-.7 .3-.7 .1-.7 0-.7 .1-.8 0-.7 .2-.7 .1-.7-.4-.7 .2-.8-.4-.7 .5-.7-.1-.7-.3-.7 .1-.8-.3-.7-.3-.7 .2-.7 .3-.7 .2-.8-.2-.7 0-.7-.1-.7 .4-.7-.2-.8 .1-.7 .6-.7-.6-.7-.5-.7 .2-.8 .6-.7-.7-.7-.2-.7 .3-.7 .2-.8-.2-.7 .6-.7-.4-.7 0-.7 .1-.8 .3-.7-.3-.7 .2-.7 .2-.7-.7-.8 .7-.7 .5-.7-.7-.7 0-.7 .2-.8-.1-.7 0-.7 .7-.7-.5-.7 0-.8 .2-.7-.8-.7 .4-.7-.4-.7-.1-.8 1.1-.7-.6-.7-.2-.7 .4-.7-.4-.8-.1-.7 0-.7-.2-.7 .7-.7-.3-.8-.2-.7-.1-.7 .4-.7-.2-.7 .1-.8-.2-.7 .5-.7-.9-.7 0-.7 0-.8 0-.7 .4-.7 .5-.7-.6-.7 .3-.8-.2-.7-.3-.7 .1-.7-.1-.7 .3-.8-.7-.7 0-.7-.2-.7 .8-.7-.2-.8-.3-.7-.2-.7-.1-.7 0-.7 .7-.8-.5-.7 .2-.7 .1-.7 .8-.7-1.2-.8 0-.7 .6-.7-.2-.7-.2-.7 .1-.8-.2-.7 0-.7 .2-.7-.2-.7-.1-.8-.3-.7 .4-.7-.1-.7 0-.7 .2-.8 .2-.7-.5-.7-.1-.7 .1-.7 .3-.8 .6-.7 0-.7-.3-.7 .1-.7 .3-.8-.5-.7 .1-.7-.2-.7 .2-.7-.5-.8 .6-.7-.6-.7 .3-.7-.4-.7 0-.8 .5-.7-.3-.7 .5-.7-.6-.7 .2-.8 .1-.7-.3-.7-.3-.7 0-.7 0-.8 .3-.7-.1-.7 .1-.7 .3-.7-.5-.8-.1-.7-.5-.7 .1-.7 .3-.7-.2-.8 .7-.7-.3-.7 .4-.7-.3-.7-.2-.8 .4-.7-.7-.7 .1-.7 0-.7 .1-.8-.1-.7 0-.7-.3-.7 .4-.7 .1-.8-.1-.7 0-.7 0-.7 .3-.7-.2-.8-.4-.7-.3-.7-.2-.7-.5-.7 .3-.8 .2-.7 0-.7 .5-.7 0-.7-.1-.8 .2-.7 .5-.7-.5-.7-.1-.7 .2-.8-.2-.7-.3-.7 .1-.7-.1-.7-.3-.8-.2-.7 .1-.7 .3-.7-.6-.7 .1-.8 0-.7 0-.7-.2-.7 0-.7 .2-.8-.2-.7 .6-.7 0-.7-.3-.7 .5-.8-.2-.7-.1-.7 .7-.7-.4-.7 .1-.8-.4-.7 .3-.7-.9-.7 .2-.7-.5-.8 .1-.7 .2-.7-.2-.7 .2-.7-.1-.8 .6-.7 0z" clip-path="url(#pb6f1a7a88f)" style="fill: #0000ff; opacity: 0.15"/>
</g>
<g id="line2d_54">
<g clip-path="url(#pb6f1a7a88f)">
<use href="#mce796437ce" x="281.07" y="274.32" class="u1"/>
<use href="#mce796437ce" x="281.51" y="277.19" class="u1"/>
<use href="#mce796437ce" x="281.39" y="280.06" class="u1"/>
<use href="#mce796437ce" x="281.36" y="282.93" class="u1"/>
<use href="#mce796437ce" x="281.31" y="285.8" class="u1"/>
<use href="#mce796437ce" x="281.32" y="288.68" class="u1"/>
<use href="#mce796437ce" x="281.61" y="291.55" class="u1"/>
<use href="#mce796437ce" x="281.52" y="294.42" class="u1"/>
<use href="#mce796437ce" x="281.18" y="297.29" class="u1"/>
</g>
</g>
<g id="patch_55">
<path d="M 57.96 333.24 57.96 259.08" style="fill: none; stroke: #000000; stroke-width: 0.8; stroke-linejoin: miter; stroke-linecap: square"/>
</g>
<g id="patch_56">
<path d="M 294.84 333.24 294.84 259.08" style="fill: none; stroke: #000000; stroke-width: 0.8; stroke-linejoin: miter; stroke-linecap: square"/>
</g>
<g id="patch_57">
<path d="M 57.96 333.24 294.84 333.24" style="fill: none; stroke: #000000; stroke-width: 0.8; stroke-linejoin: miter; stroke-linecap: square"/>
</g>
<g id="patch_58">
<path d="M 57.96 259.08 294.84 259.08" style="fill: none; stroke: #000000; stroke-width: 0.8; stroke-linejoin: miter; stroke-linecap: square"/>
</g>
<g id="patch_59">
<path d="M70.4 267.4l.7-.8 .8 .1 .7-.1 .7 .4 .7 0 .7 .3 .8 0 .7-.1 .7-.1 .7 0 .7-.2 .8 .1 .7 0 .7 .1 .7 .2 .7-.3 .8-.1 .7 0 .7 0 .7-.1 .7 .2 .8-.1 .7 .3 .7 .2 .7 .2 .7 .1 .8 .3 .7-.2 .7 .1 .7 .2 .7 0 .8-.1 .7-.1 .7-.6 .7-.5 .7 0 .8 .1 .7-.1 .7 .7 .7 .3 .7 0 .8 .1 .7 .4 .7-.1 .7-.3 .7 .3 .8-.2 .7-.3 .7 0 .7 0 .7 0 .8 .1 .7 .3 .7 .1 .7 0 .7-.1 .8 0 .7-.1 .7 .3 .7 .1 .7 0 .8 .1 .7 .2 .7-.4 .7 .1 .7 .2 .8 0 .7 0 .7 0 .7 .2 .7 .1 .8 0 .7-.5 .7 0 .7-.1 .7-.1 .8-.1 .7 .6 .7 .2 .7 .2 .7 .1 .8 .2 .7-.2 .7 .1 .7 .2 .7 .1 .8-.5 .7 .2 .7 0 .7-.2 .7 .1 .8 .4 .7 0 .7 .2 .7 .1 .7-.1 .8 0 .7 .1 .7-.1 .7-.1 .7 .1 .8-.2 .7-.1 .7 .2 .7 0 .7 .1 .8 .1 .7 .2 .7-.2 .7 .1 .7-.1 .8 .1 .7-.1 .7 .2 .7-.3 .7 0 .8 0 .7 .1 .7-.2 .7 .3 .7 .1 .8-.1 .7-.3 .7 0 .7-.1 .7 .2 .8 .2 .7 .2 .7 .2 .7 .1 .7-.4 .8-.4 .7 .3 .7-.2 .7 0 .7 .2 .8 .2 .7 0 .7 0 .7 .4 .7 .1 .8-.2 .7-.1 .7 0 .7-.2 .7 .2 .8 .3 .7 .1 .7 0 .7 0 .7-.2 .8 0 .7 0 .7 .2 .7 .1 .7 0 .8 .2 .7-.2 .7 0 .7 0 .7 0 .8-.2 .7 .1 .7-.1 .7-.1 .7-.1 .8 .1 .7 .1 .7-.2 .7 .2 .7 .3 .8 .1 .7-.3 .7 .2 .7 0 .7-.2 .8 .1 .7 .3 .7 .1 .7-.2 .7 0 .8-.2 .7 0 .7 0 .7 .1 .7 0 .8 .1 .7 .1 .7-.3 .7-.2 .7 0 .8 0 .7-.1 .7 .2 .7 0 .7 .2 .8 .1 .7-.2 .7 0 .7 0 .7 .2 .8-.1 .7 .2 .7 0 .7 .1 .7-.2 .8 .3 .7 .1 .7 .1 .7 .2 .7-.1 .8 0 .7 0 .7 0 .7-.3 .7 .2 .8-.2 .7-.2 .7 .1 .7 .2 .7-.2 .8 0 .7 .1 .7-.2 .7 0 .7 .2 .8 .1 .7-.3 .7-.3 .7-.2 .7-.2 .8-.1 .7 .3 .7-.1 .7 0 .7 .1 .8-.3 .7-.1 .7 .1 .7-.2 .7-.1 .8 .1 .7 0 .7-.2 .7 .1 .7-.2 .8 0 .7-.2 .7 .2 .7 .3 .7 .2 .8-.2 .7-.1 .7 .2 .7-.4 .7 0 .8 .3 .7-.1 .7-.3 .7 .1 .7-.4 .8-.4 .7 0 .7 .1 .7-.1 .7 0 .8 .1 .7-.2 .7 0 .7-.3 .7-.1 .8 .1 .7 0 .7-.2 .7 .5 .7-.1 .8-.1 .7 0 .7 0 .7-.2 .7 .1 .8 .1 .7 .2 .7 0 .7 .1 .7-.3 .8-.2 .7 0 .7-.4 .7 0 .7 .2 .8-.1 .7-.2 0 5.2-.7 .1-.8 .3-.7 .3-.7 .1-.7 .1-.7 .1-.8-.2-.7-.1-.7-.4-.7 .2-.7 .1-.8 0-.7 0-.7 .3-.7-.1-.7-.1-.8 .1-.7 .2-.7 0-.7 .2-.7-.2-.8-.1-.7-.3-.7-.2-.7 .1-.7 .4-.8 .2-.7 .2-.7 .1-.7 .1-.7-.1-.8-.2-.7-.1-.7 0-.7 .1-.7 .1-.8 .3-.7 .1-.7 0-.7-.4-.7-.2-.8 .2-.7-.1-.7 .1-.7 .1-.7 .1-.8-.1-.7 .2-.7 0-.7 0-.7 0-.8 0-.7-.3-.7 .3-.7 .1-.7 .2-.8 0-.7 .1-.7 0-.7-.2-.7-.1-.8 0-.7 .2-.7 0-.7 .2-.7 .2-.8 0-.7-.1-.7 .1-.7-.1-.7-.2-.8 0-.7 .2-.7-.2-.7-.3-.7-.1-.8 .1-.7-.1-.7 .1-.7 .1-.7 .4-.8-.2-.7-.2-.7 .2-.7 .3-.7-.1-.8 0-.7 .2-.7-.2-.7-.4-.7 .1-.8 .1-.7-.2-.7-.1-.7 .2-.7 0-.8-.2-.7 .2-.7 .3-.7 0-.7 .1-.8 0-.7-.1-.7-.1-.7 .1-.7-.2-.8 .3-.7 0-.7-.1-.7 .1-.7 0-.8-.1-.7 .2-.7 .3-.7-.1-.7 0-.8-.2-.7-.2-.7-.3-.7 0-.7 .1-.8 .1-.7 .1-.7 .1-.7 0-.7 0-.8 0-.7-.1-.7-.1-.7 .2-.7 0-.8-.2-.7 .1-.7 .3-.7-.3-.7 0-.8 0-.7-.1-.7-.3-.7 0-.7 .2-.8-.1-.7 .2-.7 .1-.7-.1-.7-.1-.8 .1-.7-.1-.7-.1-.7-.1-.7-.1-.8-.2-.7 0-.7-.1-.7 .1-.7 .1-.8 0-.7-.2-.7-.1-.7 0-.7 .4-.8-.1-.7 .1-.7 .2-.7 .1-.7-.6-.8 0-.7 .1-.7-.2-.7 .1-.7 .2-.8-.1-.7 0-.7 0-.7-.2-.7-.3-.8 .2-.7 0-.7 .2-.7 0-.7 .3-.8-.2-.7-.2-.7 0-.7 .1-.7 .1-.8 .1-.7 .3-.7 0-.7 .1-.7 0-.8-.2-.7-.2-.7 .1-.7-.3-.7 0-.8 0-.7 .1-.7-.1-.7 0-.7-.1-.8-.1-.7 0-.7 .2-.7 .1-.7 0-.8-.2-.7-.2-.7 0-.7 0-.7 .1-.8 .1-.7 .1-.7-.1-.7-.3-.7-.1-.8-.2-.7-.2-.7 .1-.7 .2-.7-.1-.8 .1-.7 .2-.7 .1-.7-.2-.7 .1-.8 .1-.7-.3-.7-.4-.7 .1-.7-.1-.8-.2-.7 .3-.7 .2-.7 .2-.7 0-.8 .2-.7 0-.7 0-.7 .1-.7-.4-.8-.1-.7-.3-.7-.2-.7-.4-.7 .2-.8 .1-.7 .1-.7 .1-.7 .1-.7-.1-.8 .2-.7 .3-.7-.2-.7 .1-.7 .1-.8-.1-.7-.3-.7 0-.7-.1-.7-.2-.8-.3-.7 .2-.7 0-.7-.2-.7-.1-.8 .1-.7-.3-.7-.1-.7 0-.7-.1-.8 .2-.7 .2-.7 0-.7 .2-.7 0-.8 .2-.7 0-.7 .3-.7-.2-.7 .1-.8-.3-.7 0-.7-.4-.7 0-.7-.3-.8 0-.7 0-.7-.1-.7 .1-.7 .2-.8 .3-.7-.1z" clip-path="url(#pb6f1a7a88f)" style="fill: #0000ff"/>
</g>
<g id="line2d_55">
<path d="M 69.12 297.58 69.12 290.88 69.55 288 69.7 280.8 70.13 277.92 70.27 272.16 70.85 269.28" clip-path="url(#pb6f1a7a88f)" style="fill: none; stroke: #0000ff; stroke-width: 1.944; stroke-linecap: round"/>
</g>
<g id="patch_60">
<path d="M 282.38 270.94 282.23 272.38 281.81 273.43 281.23 273.82 280.66 273.43 280.23 272.38 280.08 270.94 280.23 269.5 280.66 268.44 281.23 268.06 281.81 268.44 282.23 269.5 z" clip-path="url(#pb6f1a7a88f)" style="fill: #0000ff"/>
</g>
<g id="text_49">
<text style="font-size: 12px; font-family: 'DejaVu Sans', 'Liberation Sans', sans-serif; text-anchor: middle" x="176.4" y="253.08">NoRP 3.75GHz Stokes-I</text>
</g>
</g>
<g id="axes_6">
<g id="patch_61">
<path d="M 340.2 333.24 577.08 333.24 577.08 259.08 340.2 259.08 z" style="fill: #ffffff"/>
</g>
<g id="matplotlib.axis_11">
<g id="xtick_31">
<g id="line2d_56">
<g>
<use href="#m1504cfccaf" x="369.69" y="333.24" class="u0"/>
</g>
</g>
<g id="text_50">
<text style="font-size: 10px; font-family: 'DejaVu Sans', 'Liberation Sans', sans-serif; text-anchor: middle" x="369.69" y="347.84">22:00</text>
</g>
</g>
<g id="xtick_32">
<g id="line2d_57">
<g>
<use href="#m1504cfccaf" x="407.14" y="333.24" class="u0"/>
</g>
</g>
<g id="text_51">
<text style="font-size: 10px; font-family: 'DejaVu Sans', 'Liberation Sans', sans-serif; text-anchor: middle" x="407.14" y="347.84">00:00</text>
</g>
</g>
<g id="xtick_33">
<g id="line2d_58">
<g>
<use href="#m1504cfccaf" x="444.6" y="333.24" class="u0"/>
</g>
</g>
<g id="text_52">
<text style="font-size: 10px; font-family: 'DejaVu Sans', 'Liberation Sans', sans-serif; text-anchor: middle" x="444.6" y="347.84">02:00</text>
</g>
</g>
<g id="xtick_34">
<g id="line2d_59">
<g>
<use href="#m1504cfccaf" x="482.05" y="333.24" class="u0"/>
</g>
</g>
<g id="text_53">
<text style="font-size: 10px; font-family: 'DejaVu Sans', 'Liberation Sans', sans-serif; text-anchor: middle" x="482.05" y="347.84">04:00</text>
</g>
</g>
<g id="xtick_35">
<g id="line2d_60">
<g>
<use href="#m1504cfccaf" x="519.5" y="333.24" class="u0"/>
</g>
</g>
<g id="text_54">
<text style="font-size: 10px; font-family: 'DejaVu Sans', 'Liberation Sans', sans-serif; text-anchor: middle" x="519.5" y="347.84">06:00</text>
</g>
</g>
<g id="xtick_36">
<g id="line2d_61">
<g>
<use href="#m1504cfccaf" x="556.95" y="333.24" class="u0"/>
</g>
</g>
<g id="text_55">
<text style="font-size: 10px; font-family: 'DejaVu Sans', 'Liberation Sans', sans-serif; text-anchor: middle" x="556.95" y="347.84">08:00</text>
</g>
</g>
</g>
<g id="matplotlib.axis_12">
<g id="ytick_12">
<g id="line2d_62">
<g>
<use href="#m5d545ce8f8" x="340.2" y="304.92" class="u0"/>
</g>
</g>
<g id="text_56">
<text style="font-size: 10px; font-family: 'DejaVu Sans', 'Liberation Sans', sans-serif; text-anchor: end" x="333.2" y="308.72">0.0</text>
</g>
</g>
<g id="ytick_13">
<g id="line2d_63">
<g>
<use href="#m5d545ce8f8" x="340.2" y="276.12" class="u0"/>
</g>
</g>
<g id="text_57">
<text style="font-size: 10px; font-family: 'DejaVu Sans', 'Liberation Sans', sans-serif; text-anchor: end" x="333.2" y="279.92">2.5</text>
</g>
</g>
</g>
<g id="line2d_64">
<g clip-path="url(#p0045b7914a)">
<use href="#mcfa5bfee2b" x="356.49" y="262.66" class="u3"/>
<use href="#mcfa5bfee2b" x="364.54" y="263.09" class="u3"/>
<use href="#mcfa5bfee2b" x="374.29" y="262.84" class="u3"/>
<use href="#mcfa5bfee2b" x="375" y="262.92" class="u3"/>
<use href="#mcfa5bfee2b" x="396.7" y="262.89" class="u3"/>
<use href="#mcfa5bfee2b" x="400.67" y="262.94" class="u3"/>
<use href="#mcfa5bfee2b" x="409.38" y="262.84" class="u3"/>
<use href="#mcfa5bfee2b" x="417.16" y="262.83" class="u3"/>
<use href="#mcfa5bfee2b" x="428.16" y="262.86" class="u3"/>
<use href="#mcfa5bfee2b" x="438.83" y="263.03" class="u3"/>
<use href="#mcfa5bfee2b" x="442.11" y="263.05" class="u3"/>
<use href="#mcfa5bfee2b" x="448.48" y="263.07" class="u3"/>
<use href="#mcfa5bfee2b" x="465.87" y="262.94" class="u3"/>
<use href="#mcfa5bfee2b" x="483.49" y="262.85" class="u3"/>
<use href="#mcfa5bfee2b" x="493.5" y="262.64" class="u3"/>
<use href="#mcfa5bfee2b" x="495.85" y="262.98" class="u3"/>
<use href="#mcfa5bfee2b" x="519.32" y="263" class="u3"/>
<use href="#mcfa5bfee2b" x="539.82" y="262.82" class="u3"/>
<use href="#mcfa5bfee2b" x="541.72" y="263" class="u3"/>
<use href="#mcfa5bfee2b" x="549.01" y="263.07" class="u3"/>
</g>
</g>
<g id="line2d_65">
<g clip-path="url(#p0045b7914a)">
<use href="#mcfa5bfee2b" x="355.64" y="266.5" class="u3"/>
<use href="#mcfa5bfee2b" x="359.07" y="266.83" class="u3"/>
<use href="#mcfa5bfee2b" x="366.89" y="266.54" class="u3"/>
<use href="#mcfa5bfee2b" x="370.25" y="266.39" class="u3"/>
<use href="#mcfa5bfee2b" x="370.78" y="266.4" class="u3"/>
<use href="#mcfa5bfee2b" x="378.42" y="266.42" class="u3"/>
<use href="#mcfa5bfee2b" x="380.62" y="266.57" class="u3"/>
<use href="#mcfa5bfee2b" x="383.35" y="266.55" class="u3"/>
<use href="#mcfa5bfee2b" x="386.03" y="266.69" class="u3"/>
<use href="#mcfa5bfee2b" x="387.05" y="266.58" class="u3"/>
<use href="#mcfa5bfee2b" x="389.94" y="266.57" class="u3"/>
<use href="#mcfa5bfee2b" x="391.1" y="266.6" class="u3"/>
<use href="#mcfa5bfee2b" x="393.87" y="266.54" class="u3"/>
<use href="#mcfa5bfee2b" x="395.94" y="266.6" class="u3"/>
<use href="#mcfa5bfee2b" x="396.3" y="266.67" class="u3"/>
<use href="#mcfa5bfee2b" x="396.35" y="266.67" class="u3"/>
<use href="#mcfa5bfee2b" x="396.4" y="266.48" class="u3"/>
<use href="#mcfa5bfee2b" x="399.34" y="266.3" class="u3"/>
<use href="#mcfa5bfee2b" x="404.09" y="266.44" class="u3"/>
<use href="#mcfa5bfee2b" x="418.11" y="266.59" class="u3"/>
<use href="#mcfa5bfee2b" x="421.07" y="266.19" class="u3"/>
<use href="#mcfa5bfee2b" x="424.91" y="266.48" class="u3"/>
<use href="#mcfa5bfee2b" x="425.8" y="266.62" class="u3"/>
<use href="#mcfa5bfee2b" x="427.97" y="266.47" class="u3"/>
<use href="#mcfa5bfee2b" x="431.82" y="266.39" class="u3"/>
<use href="#mcfa5bfee2b" x="432.76" y="266.81" class="u3"/>
<use href="#mcfa5bfee2b" x="433.02" y="266.75" class="u3"/>
<use href="#mcfa5bfee2b" x="435.43" y="266.52" class="u3"/>
<use href="#mcfa5bfee2b" x="439.31" y="266.74" class="u3"/>
<use href="#mcfa5bfee2b" x="443.17" y="266.74" class="u3"/>
<use href="#mcfa5bfee2b" x="447.52" y="266.39" class="u3"/>
<use href="#mcfa5bfee2b" x="454.11" y="266.94" class="u3"/>
<use href="#mcfa5bfee2b" x="455" y="266.42" class="u3"/>
<use href="#mcfa5bfee2b" x="462.38" y="266.51" class="u3"/>
<use href="#mcfa5bfee2b" x="465.41" y="266.39" class="u3"/>
<use href="#mcfa5bfee2b" x="470.1" y="266.56" class="u3"/>
<use href="#mcfa5bfee2b" x="475.22" y="266.36" class="u3"/>
<use href="#mcfa5bfee2b" x="476.79" y="266.55" class="u3"/>
<use href="#mcfa5bfee2b" x="479.33" y="266.71" class="u3"/>
<use href="#mcfa5bfee2b" x="480.08" y="266.58" class="u3"/>
<use href="#mcfa5bfee2b" x="480.13" y="266.51" class="u3"/>
<use href="#mcfa5bfee2b" x="480.68" y="266.77" class="u3"/>
<use href="#mcfa5bfee2b" x="480.8" y="266.42" class="u3"/>
<use href="#mcfa5bfee2b" x="482.28" y="266.69" class="u3"/>
<use href="#mcfa5bfee2b" x="486.81" y="266.51" class="u3"/>
<use href="#mcfa5bfee2b" x="487.42" y="266.58" class="u3"/>
<use href="#mcfa5bfee2b" x="487.74" y="266.56" class="u3"/>
<use href="#mcfa5bfee2b" x="488.87" y="266.57" class="u3"/>
<use href="#mcfa5bfee2b" x="490.42" y="266.54" class="u3"/>
<use href="#mcfa5bfee2b" x="497.77" y="266.44" class="u3"/>
<use href="#mcfa5bfee2b" x="502.23" y="266.47" class="u3"/>
<use href="#mcfa5bfee2b" x="502.64" y="266.61" class="u3"/>
<use href="#mcfa5bfee2b" x="507.88" y="266.54" class="u3"/>
<use href="#mcfa5bfee2b" x="512.06" y="266.38" class="u3"/>
<use href="#mcfa5bfee2b" x="519.72" y="266.45" class="u3"/>
<use href="#mcfa5bfee2b" x="521.54" y="266.45" class="u3"/>
<use href="#mcfa5bfee2b" x="522.56" y="266.54" class="u3"/>
<use href="#mcfa5bfee2b" x="523.22" y="266.58" class="u3"/>
<use href="#mcfa5bfee2b" x="530.08" y="266.56" class="u3"/>
<use href="#mcfa5bfee2b" x="531.05" y="266.46" class="u3"/>
<use href="#mcfa5bfee2b" x="541.83" y="266.55" class="u3"/>
<use href="#mcfa5bfee2b" x="542.62" y="266.35" class="u3"/>
<use href="#mcfa5bfee2b" x="544.05" y="266.13" class="u3"/>
<use href="#mcfa5bfee2b" x="549.64" y="266.54" class="u3"/>
<use href="#mcfa5bfee2b" x="549.82" y="266.31" class="u3"/>
<use href="#mcfa5bfee2b" x="550.36" y="266.41" class="u3"/>
<use href="#mcfa5bfee2b" x="550.96" y="266.38" class="u3"/>
<use href="#mcfa5bfee2b" x="552.73" y="266.64" class="u3"/>
<use href="#mcfa5bfee2b" x="555.5" y="266.38" class="u3"/>
<use href="#mcfa5bfee2b" x="556.01" y="266.59" class="u3"/>
<use href="#mcfa5bfee2b" x="558.29" y="266.48" class="u3"/>
</g>
</g>
<g id="patch_62">
<path d="M 351.5 270.07 564.05 270.07 564.05 271.8 351.5 271.8 z" clip-path="url(#p0045b7914a)" style="fill: #ffa500; opacity: 0.55"/>
</g>
<g id="line2d_66">
<g clip-path="url(#p0045b7914a)">
<use href="#m1590b065b2" x="352.15" y="270.94" class="u4"/>
<use href="#m1590b065b2" x="354.7" y="270.94" class="u4"/>
<use href="#m1590b065b2" x="355.49" y="270.94" class="u4"/>
<use href="#m1590b065b2" x="357.52" y="270.94" class="u4"/>
<use href="#m1590b065b2" x="358.19" y="270.94" class="u4"/>
<use href="#m1590b065b2" x="359.71" y="270.94" class="u4"/>
<use href="#m1590b065b2" x="360.27" y="270.94" class="u4"/>
<use href="#m1590b065b2" x="360.85" y="270.94" class="u4"/>
<use href="#m1590b065b2" x="370.6" y="270.94" class="u4"/>
<use href="#m1590b065b2" x="373.18" y="270.94" class="u4"/>
<use href="#m1590b065b2" x="378.05" y="270.94" class="u4"/>
<use href="#m1590b065b2" x="379.25" y="270.94" class="u4"/>
<use href="#m1590b065b2" x="380.08" y="270.94" class="u4"/>
<use href="#m1590b065b2" x="380.5" y="270.94" class="u4"/>
<use href="#m1590b065b2" x="382.8" y="270.94" class="u4"/>
<use href="#m1590b065b2" x="387.38" y="270.94" class="u4"/>
<use href="#m1590b065b2" x="389.9" y="270.94" class="u4"/>
<use href="#m1590b065b2" x="390.07" y="270.94" class="u4"/>
<use href="#m1590b065b2" x="393.07" y="270.94" class="u4"/>
<use href="#m1590b065b2" x="395.57" y="270.94" class="u4"/>
<use href="#m1590b065b2" x="395.74" y="270.94" class="u4"/>
<use href="#m1590b065b2" x="396.11" y="270.94" class="u4"/>
<use href="#m1590b065b2" x="397.88" y="270.94" class="u4"/>
<use href="#m1590b065b2" x="399.38" y="270.94" class="u4"/>
<use href="#m1590b065b2" x="401.33" y="270.94" class="u4"/>
<use href="#m1590b065b2" x="401.99" y="270.94" class="u4"/>
<use href="#m1590b065b2" x="402.26" y="270.94" class="u4"/>
<use href="#m1590b065b2" x="402.27" y="270.94" class="u4"/>
<use href="#m1590b065b2" x="402.3" y="270.94" class="u4"/>
<use href="#m1590b065b2" x="404.06" y="270.94" class="u4"/>
<use href="#m1590b065b2" x="404.06" y="270.94" class="u4"/>
<use href="#m1590b065b2" x="404.2" y="270.94" class="u4"/>
<use href="#m1590b065b2" x="409.32" y="270.94" class="u4"/>
<use href="#m1590b065b2" x="412.41" y="270.94" class="u4"/>
<use href="#m1590b065b2" x="412.62" y="270.94" class="u4"/>
<use href="#m1590b065b2" x="415.02" y="270.94" class="u4"/>
<use href="#m1590b065b2" x="416.38" y="270.94" class="u4"/>
<use href="#m1590b065b2" x="417.35" y="270.94" class="u4"/>
<use href="#m1590b065b2" x="417.99" y="270.94" class="u4"/>
<use href="#m1590b065b2" x="418.43" y="270.94" class="u4"/>
<use href="#m1590b065b2" x="422.2" y="270.94" class="u4"/>
<use href="#m1590b065b2" x="424.52" y="270.94" class="u4"/>
<use href="#m1590b065b2" x="427.21" y="270.94" class="u4"/>
<use href="#m1590b065b2" x="427.55" y="270.94" class="u4"/>
<use href="#m1590b065b2" x="429.2" y="270.94" class="u4"/>
<use href="#m1590b065b2" x="429.52" y="270.94" class="u4"/>
<use href="#m1590b065b2" x="431.46" y="270.94" class="u4"/>
<use href="#m1590b065b2" x="434.48" y="270.94" class="u4"/>
<use href="#m1590b065b2" x="435.36" y="270.94" class="u4"/>
<use href="#m1590b065b2" x="435.4" y="270.94" class="u4"/>
<use href="#m1590b065b2" x="438.24" y="270.94" class="u4"/>
<use href="#m1590b065b2" x="438.53" y="270.94" class="u4"/>
<use href="#m1590b065b2" x="438.57" y="270.94" class="u4"/>
<use href="#m1590b065b2" x="443.31" y="270.94" class="u4"/>
<use href="#m1590b065b2" x="444.65" y="270.94" class="u4"/>
<use href="#m1590b065b2" x="447.24" y="270.94" class="u4"/>
<use href="#m1590b065b2" x="448.03" y="270.94" class="u4"/>
<use href="#m1590b065b2" x="449.27" y="270.94" class="u4"/>
<use href="#m1590b065b2" x="451.75" y="270.94" class="u4"/>
<use href="#m1590b065b2" x="454.66" y="270.94" class="u4"/>
<use href="#m1590b065b2" x="456.73" y="270.94" class="u4"/>
<use href="#m1590b065b2" x="460.41" y="270.94" class="u4"/>
<use href="#m1590b065b2" x="461.35" y="270.94" class="u4"/>
<use href="#m1590b065b2" x="461.7" y="270.94" class="u4"/>
<use href="#m1590b065b2" x="469.41" y="270.94" class="u4"/>
<use href="#m1590b065b2" x="471.13" y="270.94" class="u4"/>
<use href="#m1590b065b2" x="471.25" y="270.94" class="u4"/>
<use href="#m1590b065b2" x="471.64" y="270.94" class="u4"/>
<use href="#m1590b065b2" x="471.87" y="270.94" class="u4"/>
<use href="#m1590b065b2" x="472.21" y="270.94" class="u4"/>
<use href="#m1590b065b2" x="472.65" y="270.94" class="u4"/>
<use href="#m1590b065b2" x="477.38" y="270.94" class="u4"/>
<use href="#m1590b065b2" x="477.74" y="270.94" class="u4"/>
<use href="#m1590b065b2" x="478.53" y="270.94" class="u4"/>
<use href="#m1590b065b2" x="478.73" y="270.94" class="u4"/>
<use href="#m1590b065b2" x="480.56" y="270.94" class="u4"/>
<use href="#m1590b065b2" x="482.22" y="270.94" class="u4"/>
<use href="#m1590b065b2" x="482.35" y="270.94" class="u4"/>
<use href="#m1590b065b2" x="482.72" y="270.94" class="u4"/>
<use href="#m1590b065b2" x="486.65" y="270.94" class="u4"/>
<use href="#m1590b065b2" x="487.59" y="270.94" class="u4"/>
<use href="#m1590b065b2" x="489.53" y="270.94" class="u4"/>
<use href="#m1590b065b2" x="489.62" y="270.94" class="u4"/>
<use href="#m1590b065b2" x="490.58" y="270.94" class="u4"/>
<use href="#m1590b065b2" x="491.9" y="270.94" class="u4"/>
<use href="#m1590b065b2" x="495.08" y="270.94" class="u4"/>
<use href="#m1590b065b2" x="496.72" y="270.94" class="u4"/>
<use href="#m1590b065b2" x="497.68" y="270.94" class="u4"/>
<use href="#m1590b065b2" x="499.11" y="270.94" class="u4"/>
<use href="#m1590b065b2" x="499.35" y="270.94" class="u4"/>
<use href="#m1590b065b2" x="499.5" y="270.94" class="u4"/>
<use href="#m1590b065b2" x="500" y="270.94" class="u4"/>
<use href="#m1590b065b2" x="502.09" y="270.94" class="u4"/>
<use href="#m1590b065b2" x="504.03" y="270.94" class="u4"/>
<use href="#m1590b065b2" x="505.34" y="270.94" class="u4"/>
<use href="#m1590b065b2" x="505.81" y="270.94" class="u4"/>
<use href="#m1590b065b2" x="511.68" y="270.94" class="u4"/>
<use href="#m1590b065b2" x="513.24" y="270.94" class="u4"/>
<use href="#m1590b065b2" x="514.67" y="270.94" class="u4"/>
<use href="#m1590b065b2" x="514.84" y="270.94" class="u4"/>
<use href="#m1590b065b2" x="515.51" y="270.94" class="u4"/>
<use href="#m1590b065b2" x="522.47" y="270.94" class="u4"/>
<use href="#m1590b065b2" x="524.43" y="270.94" class="u4"/>
<use href="#m1590b065b2" x="524.5" y="270.94" class="u4"/>
<use href="#m1590b065b2" x="525.29" y="270.94" class="u4"/>
<use href="#m1590b065b2" x="526.38" y="270.94" class="u4"/>
<use href="#m1590b065b2" x="526.5" y="270.94" class="u4"/>
<use href="#m1590b065b2" x="527.68" y="270.94" class="u4"/>
<use href="#m1590b065b2" x="529.46" y="270.94" class="u4"/>
<use href="#m1590b065b2" x="533.17" y="270.94" class="u4"/>
<use href="#m1590b065b2" x="534.83" y="270.94" class="u4"/>
<use href="#m1590b065b2" x="542.16" y="270.94" class="u4"/>
<use href="#m1590b065b2" x="545.64" y="270.94" class="u4"/>
<use href="#m1590b065b2" x="545.68" y="270.94" class="u4"/>
<use href="#m1590b065b2" x="546.17" y="270.94" class="u4"/>
<use href="#m1590b065b2" x="549.47" y="270.94" class="u4"/>
<use href="#m1590b065b2" x="550.43" y="270.94" class="u4"/>
<use href="#m1590b065b2" x="550.89" y="270.94" class="u4"/>
<use href="#m1590b065b2" x="553.54" y="270.94" class="u4"/>
<use href="#m1590b065b2" x="553.69" y="270.94" class="u4"/>
<use href="#m1590b065b2" x="553.82" y="270.94" class="u4"/>
<use href="#m1590b065b2" x="553.89" y="270.94" class="u4"/>
<use href="#m1590b065b2" x="557.93" y="270.94" class="u4"/>
<use href="#m1590b065b2" x="558.23" y="270.94" class="u4"/>
<use href="#m1590b065b2" x="560.69" y="270.94" class="u4"/>
<use href="#m1590b065b2" x="560.84" y="270.94" class="u4"/>
<use href="#m1590b065b2" x="561.66" y="270.94" class="u4"/>
<use href="#m1590b065b2" x="562.99" y="270.94" class="u4"/>
</g>
</g>
<g id="patch_63">
<path d="M 350.78 316.87 564.05 316.87 564.05 318.6 350.78 318.6 z" clip-path="url(#p0045b7914a)" style="fill: #ffa500; opacity: 0.5"/>
</g>
<g id="line2d_67">
<g clip-path="url(#p0045b7914a)">
<use href="#m1590b065b2" x="352.86" y="317.74" class="u4"/>
<use href="#m1590b065b2" x="353.18" y="317.74" class="u4"/>
<use href="#m1590b065b2" x="357.95" y="317.74" class="u4"/>
<use href="#m1590b065b2" x="358.27" y="317.74" class="u4"/>
<use href="#m1590b065b2" x="359.75" y="317.74" class="u4"/>
<use href="#m1590b065b2" x="365.87" y="317.74" class="u4"/>
<use href="#m1590b065b2" x="366.71" y="317.74" class="u4"/>
<use href="#m1590b065b2" x="367.32" y="317.74" class="u4"/>
<use href="#m1590b065b2" x="367.84" y="317.74" class="u4"/>
<use href="#m1590b065b2" x="368.5" y="317.74" class="u4"/>
<use href="#m1590b065b2" x="369.26" y="317.74" class="u4"/>
<use href="#m1590b065b2" x="370.86" y="317.74" class="u4"/>
<use href="#m1590b065b2" x="373.26" y="317.74" class="u4"/>
<use href="#m1590b065b2" x="374.88" y="317.74" class="u4"/>
<use href="#m1590b065b2" x="381.38" y="317.74" class="u4"/>
<use href="#m1590b065b2" x="386.84" y="317.74" class="u4"/>
<use href="#m1590b065b2" x="388.77" y="317.74" class="u4"/>
<use href="#m1590b065b2" x="389.57" y="317.74" class="u4"/>
<use href="#m1590b065b2" x="392.51" y="317.74" class="u4"/>
<use href="#m1590b065b2" x="393.22" y="317.74" class="u4"/>
<use href="#m1590b065b2" x="393.77" y="317.74" class="u4"/>
<use href="#m1590b065b2" x="395.13" y="317.74" class="u4"/>
<use href="#m1590b065b2" x="396.68" y="317.74" class="u4"/>
<use href="#m1590b065b2" x="397.54" y="317.74" class="u4"/>
<use href="#m1590b065b2" x="397.6" y="317.74" class="u4"/>
<use href="#m1590b065b2" x="397.9" y="317.74" class="u4"/>
<use href="#m1590b065b2" x="407.52" y="317.74" class="u4"/>
<use href="#m1590b065b2" x="407.53" y="317.74" class="u4"/>
<use href="#m1590b065b2" x="407.98" y="317.74" class="u4"/>
<use href="#m1590b065b2" x="409.85" y="317.74" class="u4"/>
<use href="#m1590b065b2" x="410.18" y="317.74" class="u4"/>
<use href="#m1590b065b2" x="411.89" y="317.74" class="u4"/>
<use href="#m1590b065b2" x="412.69" y="317.74" class="u4"/>
<use href="#m1590b065b2" x="421.3" y="317.74" class="u4"/>
<use href="#m1590b065b2" x="421.78" y="317.74" class="u4"/>
<use href="#m1590b065b2" x="425.18" y="317.74" class="u4"/>
<use href="#m1590b065b2" x="426.37" y="317.74" class="u4"/>
<use href="#m1590b065b2" x="428.15" y="317.74" class="u4"/>
<use href="#m1590b065b2" x="428.66" y="317.74" class="u4"/>
<use href="#m1590b065b2" x="430.95" y="317.74" class="u4"/>
<use href="#m1590b065b2" x="432.77" y="317.74" class="u4"/>
<use href="#m1590b065b2" x="433.42" y="317.74" class="u4"/>
<use href="#m1590b065b2" x="437.19" y="317.74" class="u4"/>
<use href="#m1590b065b2" x="437.68" y="317.74" class="u4"/>
<use href="#m1590b065b2" x="443.74" y="317.74" class="u4"/>
<use href="#m1590b065b2" x="444.23" y="317.74" class="u4"/>
<use href="#m1590b065b2" x="445.25" y="317.74" class="u4"/>
<use href="#m1590b065b2" x="448.87" y="317.74" class="u4"/>
<use href="#m1590b065b2" x="449.04" y="317.74" class="u4"/>
<use href="#m1590b065b2" x="450.27" y="317.74" class="u4"/>
<use href="#m1590b065b2" x="451.3" y="317.74" class="u4"/>
<use href="#m1590b065b2" x="454.51" y="317.74" class="u4"/>
<use href="#m1590b065b2" x="457.96" y="317.74" class="u4"/>
<use href="#m1590b065b2" x="458.02" y="317.74" class="u4"/>
<use href="#m1590b065b2" x="458.63" y="317.74" class="u4"/>
<use href="#m1590b065b2" x="458.93" y="317.74" class="u4"/>
<use href="#m1590b065b2" x="461.18" y="317.74" class="u4"/>
<use href="#m1590b065b2" x="461.68" y="317.74" class="u4"/>
<use href="#m1590b065b2" x="462.33" y="317.74" class="u4"/>
<use href="#m1590b065b2" x="462.54" y="317.74" class="u4"/>
<use href="#m1590b065b2" x="463.54" y="317.74" class="u4"/>
<use href="#m1590b065b2" x="466.48" y="317.74" class="u4"/>
<use href="#m1590b065b2" x="469.64" y="317.74" class="u4"/>
<use href="#m1590b065b2" x="469.81" y="317.74" class="u4"/>
<use href="#m1590b065b2" x="469.9" y="317.74" class="u4"/>
<use href="#m1590b065b2" x="469.97" y="317.74" class="u4"/>
<use href="#m1590b065b2" x="470.68" y="317.74" class="u4"/>
<use href="#m1590b065b2" x="470.87" y="317.74" class="u4"/>
<use href="#m1590b065b2" x="471.34" y="317.74" class="u4"/>
<use href="#m1590b065b2" x="477.02" y="317.74" class="u4"/>
<use href="#m1590b065b2" x="480.31" y="317.74" class="u4"/>
<use href="#m1590b065b2" x="480.99" y="317.74" class="u4"/>
<use href="#m1590b065b2" x="481.57" y="317.74" class="u4"/>
<use href="#m1590b065b2" x="482.69" y="317.74" class="u4"/>
<use href="#m1590b065b2" x="484.16" y="317.74" class="u4"/>
<use href="#m1590b065b2" x="486.37" y="317.74" class="u4"/>
<use href="#m1590b065b2" x="489.3" y="317.74" class="u4"/>
<use href="#m1590b065b2" x="490.1" y="317.74" class="u4"/>
<use href="#m1590b065b2" x="492.22" y="317.74" class="u4"/>
<use href="#m1590b065b2" x="493.3" y="317.74" class="u4"/>
<use href="#m1590b065b2" x="493.49" y="317.74" class="u4"/>
<use href="#m1590b065b2" x="493.65" y="317.74" class="u4"/>
<use href="#m1590b065b2" x="495.39" y="317.74" class="u4"/>
<use href="#m1590b065b2" x="496.19" y="317.74" class="u4"/>
<use href="#m1590b065b2" x="496.26" y="317.74" class="u4"/>
<use href="#m1590b065b2" x="496.31" y="317.74" class="u4"/>
<use href="#m1590b065b2" x="498.21" y="317.74" class="u4"/>
<use href="#m1590b065b2" x="498.35" y="317.74" class="u4"/>
<use href="#m1590b065b2" x="502" y="317.74" class="u4"/>
<use href="#m1590b065b2" x="502.44" y="317.74" class="u4"/>
<use href="#m1590b065b2" x="503.19" y="317.74" class="u4"/>
<use href="#m1590b065b2" x="504.11" y="317.74" class="u4"/>
<use href="#m1590b065b2" x="504.38" y="317.74" class="u4"/>
<use href="#m1590b065b2" x="505.84" y="317.74" class="u4"/>
<use href="#m1590b065b2" x="506.76" y="317.74" class="u4"/>
<use href="#m1590b065b2" x="506.9" y="317.74" class="u4"/>
<use href="#m1590b065b2" x="507.57" y="317.74" class="u4"/>
<use href="#m1590b065b2" x="509.69" y="317.74" class="u4"/>
<use href="#m1590b065b2" x="511.15" y="317.74" class="u4"/>
<use href="#m1590b065b2" x="514.67" y="317.74" class="u4"/>
<use href="#m1590b065b2" x="517.41" y="317.74" class="u4"/>
<use href="#m1590b065b2" x="520.32" y="317.74" class="u4"/>
<use href="#m1590b065b2" x="520.97" y="317.74" class="u4"/>
<use href="#m1590b065b2" x="523.94" y="317.74" class="u4"/>
<use href="#m1590b065b2" x="524.83" y="317.74" class="u4"/>
<use href="#m1590b065b2" x="528.44" y="317.74" class="u4"/>
<use href="#m1590b065b2" x="532.24" y="317.74" class="u4"/>
<use href="#m1590b065b2" x="532.25" y="317.74" class="u4"/>
<use href="#m1590b065b2" x="532.61" y="317.74" class="u4"/>
<use href="#m1590b065b2" x="535.02" y="317.74" class="u4"/>
<use href="#m1590b065b2" x="541.62" y="317.74" class="u4"/>
<use href="#m1590b065b2" x="542.86" y="317.74" class="u4"/>
<use href="#m1590b065b2" x="545.01" y="317.74" class="u4"/>
<use href="#m1590b065b2" x="545.22" y="317.74" class="u4"/>
<use href="#m1590b065b2" x="545.27" y="317.74" class="u4"/>
<use href="#m1590b065b2" x="546.46" y="317.74" class="u4"/>
<use href="#m1590b065b2" x="547.38" y="317.74" class="u4"/>
<use href="#m1590b065b2" x="547.55" y="317.74" class="u4"/>
<use href="#m1590b065b2" x="547.69" y="317.74" class="u4"/>
<use href="#m1590b065b2" x="549.43" y="317.74" class="u4"/>
<use href="#m1590b065b2" x="549.67" y="317.74" class="u4"/>
<use href="#m1590b065b2" x="557.49" y="317.74" class="u4"/>
<use href="#m1590b065b2" x="557.62" y="317.74" class="u4"/>
<use href="#m1590b065b2" x="557.84" y="317.74" class="u4"/>
<use href="#m1590b065b2" x="558.15" y="317.74" class="u4"/>
<use href="#m1590b065b2" x="558.76" y="317.74" class="u4"/>
<use href="#m1590b065b2" x="558.95" y="317.74" class="u4"/>
<use href="#m1590b065b2" x="561.6" y="317.74" class="u4"/>
</g>
</g>
<g id="line2d_68">
<g clip-path="url(#p0045b7914a)">
<use href="#mcfa5bfee2b" x="359.8" y="321.44" class="u3"/>
<use href="#mcfa5bfee2b" x="362.51" y="321.54" class="u3"/>
<use href="#mcfa5bfee2b" x="365.58" y="321.31" class="u3"/>
<use href="#mcfa5bfee2b" x="368.96" y="321.44" class="u3"/>
<use href="#mcfa5bfee2b" x="369.69" y="321.03" class="u3"/>
<use href="#mcfa5bfee2b" x="381.22" y="321.28" class="u3"/>
<use href="#mcfa5bfee2b" x="383.98" y="321.1" class="u3"/>
<use href="#mcfa5bfee2b" x="385.68" y="321.36" class="u3"/>
<use href="#mcfa5bfee2b" x="394.49" y="321.33" class="u3"/>
<use href="#mcfa5bfee2b" x="395.9" y="321.22" class="u3"/>
<use href="#mcfa5bfee2b" x="407.19" y="321.47" class="u3"/>
<use href="#mcfa5bfee2b" x="407.94" y="321.38" class="u3"/>
<use href="#mcfa5bfee2b" x="409.26" y="321.26" class="u3"/>
<use href="#mcfa5bfee2b" x="411.88" y="321.26" class="u3"/>
<use href="#mcfa5bfee2b" x="413.7" y="321.12" class="u3"/>
<use href="#mcfa5bfee2b" x="416.45" y="321.31" class="u3"/>
<use href="#mcfa5bfee2b" x="420.88" y="321.63" class="u3"/>
<use href="#mcfa5bfee2b" x="422.63" y="321.23" class="u3"/>
<use href="#mcfa5bfee2b" x="425.74" y="321.39" class="u3"/>
<use href="#mcfa5bfee2b" x="429.72" y="321.25" class="u3"/>
<use href="#mcfa5bfee2b" x="430.39" y="321.45" class="u3"/>
<use href="#mcfa5bfee2b" x="432.23" y="321.39" class="u3"/>
<use href="#mcfa5bfee2b" x="436.08" y="321.3" class="u3"/>
<use href="#mcfa5bfee2b" x="440.83" y="321.08" class="u3"/>
<use href="#mcfa5bfee2b" x="443.47" y="321.26" class="u3"/>
<use href="#mcfa5bfee2b" x="446.99" y="321.5" class="u3"/>
<use href="#mcfa5bfee2b" x="455.04" y="321.3" class="u3"/>
<use href="#mcfa5bfee2b" x="461.02" y="321.42" class="u3"/>
<use href="#mcfa5bfee2b" x="462.35" y="321.26" class="u3"/>
<use href="#mcfa5bfee2b" x="464.68" y="321.07" class="u3"/>
<use href="#mcfa5bfee2b" x="467.08" y="321.39" class="u3"/>
<use href="#mcfa5bfee2b" x="467.75" y="321.38" class="u3"/>
<use href="#mcfa5bfee2b" x="468.07" y="321.25" class="u3"/>
<use href="#mcfa5bfee2b" x="468.17" y="321.28" class="u3"/>
<use href="#mcfa5bfee2b" x="470.33" y="321.37" class="u3"/>
<use href="#mcfa5bfee2b" x="470.39" y="321.25" class="u3"/>
<use href="#mcfa5bfee2b" x="475.66" y="321.38" class="u3"/>
<use href="#mcfa5bfee2b" x="481.37" y="321.3" class="u3"/>
<use href="#mcfa5bfee2b" x="484.65" y="321" class="u3"/>
<use href="#mcfa5bfee2b" x="485.26" y="321.31" class="u3"/>
<use href="#mcfa5bfee2b" x="487.09" y="321.25" class="u3"/>
<use href="#mcfa5bfee2b" x="488.43" y="321.21" class="u3"/>
<use href="#mcfa5bfee2b" x="491.63" y="321.39" class="u3"/>
<use href="#mcfa5bfee2b" x="493.57" y="321.26" class="u3"/>
<use href="#mcfa5bfee2b" x="494.94" y="321.41" class="u3"/>
<use href="#mcfa5bfee2b" x="495.65" y="321.49" class="u3"/>
<use href="#mcfa5bfee2b" x="498.25" y="321.35" class="u3"/>
<use href="#mcfa5bfee2b" x="500.91" y="321.11" class="u3"/>
<use href="#mcfa5bfee2b" x="502.16" y="321.23" class="u3"/>
<use href="#mcfa5bfee2b" x="506.45" y="321.46" class="u3"/>
<use href="#mcfa5bfee2b" x="509.85" y="321.3" class="u3"/>
<use href="#mcfa5bfee2b" x="514.39" y="321.22" class="u3"/>
<use href="#mcfa5bfee2b" x="521.33" y="321.32" class="u3"/>
<use href="#mcfa5bfee2b" x="529.26" y="321.4" class="u3"/>
<use href="#mcfa5bfee2b" x="530.67" y="321.37" class="u3"/>
<use href="#mcfa5bfee2b" x="531.56" y="321.42" class="u3"/>
<use href="#mcfa5bfee2b" x="534.48" y="321.22" class="u3"/>
<use href="#mcfa5bfee2b" x="535.06" y="321.29" class="u3"/>
<use href="#mcfa5bfee2b" x="536.34" y="321.3" class="u3"/>
<use href="#mcfa5bfee2b" x="540.62" y="321.33" class="u3"/>
<use href="#mcfa5bfee2b" x="542.37" y="321.03" class="u3"/>
<use href="#mcfa5bfee2b" x="543.65" y="321.3" class="u3"/>
<use href="#mcfa5bfee2b" x="547.31" y="321.14" class="u3"/>
<use href="#mcfa5bfee2b" x="547.94" y="321.53" class="u3"/>
<use href="#mcfa5bfee2b" x="548.01" y="321.55" class="u3"/>
<use href="#mcfa5bfee2b" x="548.08" y="321.57" class="u3"/>
<use href="#mcfa5bfee2b" x="549.09" y="321.45" class="u3"/>
<use href="#mcfa5bfee2b" x="549.14" y="321.26" class="u3"/>
<use href="#mcfa5bfee2b" x="553.27" y="321.47" class="u3"/>
<use href="#mcfa5bfee2b" x="553.97" y="321.3" class="u3"/>
<use href="#mcfa5bfee2b" x="557.14" y="321.42" class="u3"/>
<use href="#mcfa5bfee2b" x="559.84" y="321.2" class="u3"/>
</g>
</g>
<g id="line2d_69">
<g clip-path="url(#p0045b7914a)">
<use href="#mcfa5bfee2b" x="354.33" y="325.74" class="u3"/>
<use href="#mcfa5bfee2b" x="362.04" y="325.74" class="u3"/>
<use href="#mcfa5bfee2b" x="373.5" y="325.81" class="u3"/>
<use href="#mcfa5bfee2b" x="404.71" y="325.73" class="u3"/>
<use href="#mcfa5bfee2b" x="429.56" y="325.8" class="u3"/>
<use href="#mcfa5bfee2b" x="438.26" y="325.54" class="u3"/>
<use href="#mcfa5bfee2b" x="440.32" y="325.84" class="u3"/>
<use href="#mcfa5bfee2b" x="443.03" y="325.97" class="u3"/>
<use href="#mcfa5bfee2b" x="448.51" y="325.75" class="u3"/>
<use href="#mcfa5bfee2b" x="465.3" y="325.52" class="u3"/>
<use href="#mcfa5bfee2b" x="479.87" y="325.92" class="u3"/>
<use href="#mcfa5bfee2b" x="498.57" y="325.68" class="u3"/>
<use href="#mcfa5bfee2b" x="500.84" y="325.3" class="u3"/>
<use href="#mcfa5bfee2b" x="506.44" y="325.69" class="u3"/>
<use href="#mcfa5bfee2b" x="526.26" y="325.81" class="u3"/>
<use href="#mcfa5bfee2b" x="531.64" y="325.78" class="u3"/>
<use href="#mcfa5bfee2b" x="545.3" y="325.9" class="u3"/>
</g>
</g>
<g id="line2d_70">
<g clip-path="url(#p0045b7914a)">
<use href="#mcfa5bfee2b" x="446.93" y="329.42" class="u3"/>
<use href="#mcfa5bfee2b" x="482.8" y="329.49" class="u3"/>
<use href="#mcfa5bfee2b" x="497.51" y="329.25" class="u3"/>
<use href="#mcfa5bfee2b" x="516.13" y="329.31" class="u3"/>
</g>
</g>
<g id="patch_64">
<path d="M 340.2 333.24 340.2 259.08" style="fill: none; stroke: #000000; stroke-width: 0.8; stroke-linejoin: miter; stroke-linecap: square"/>
</g>
<g id="patch_65">
<path d="M 577.08 333.24 577.08 259.08" style="fill: none; stroke: #000000; stroke-width: 0.8; stroke-linejoin: miter; stroke-linecap: square"/>
</g>
<g id="patch_66">
<path d="M 340.2 333.24 577.08 333.24" style="fill: none; stroke: #000000; stroke-width: 0.8; stroke-linejoin: miter; stroke-linecap: square"/>
</g>
<g id="patch_67">
<path d="M 340.2 259.08 577.08 259.08" style="fill: none; stroke: #000000; stroke-width: 0.8; stroke-linejoin: miter; stroke-linecap: square"/>
</g>
<g id="patch_68">
<path d="M 350.06 273.56 564.05 273.56 564.05 275.51 350.06 275.51 z" clip-path="url(#p0045b7914a)" style="fill: #ffa500"/>
</g>
<g id="patch_69">
<path d="M 350.06 277.96 564.05 277.96 564.05 279.9 350.06 279.9 z" clip-path="url(#p0045b7914a)" style="fill: #ffa500"/>
</g>
<g id="patch_70">
<path d="M 350.06 281.34 564.05 281.34 564.05 283.28 350.06 283.28 z" clip-path="url(#p0045b7914a)" style="fill: #ffa500"/>
</g>
<g id="patch_71">
<path d="M 350.06 285.01 564.05 285.01 564.05 286.96 350.06 286.96 z" clip-path="url(#p0045b7914a)" style="fill: #ffa500"/>
</g>
<g id="patch_72">
<path d="M 350.06 289.4 564.05 289.4 564.05 291.35 350.06 291.35 z" clip-path="url(#p0045b7914a)" style="fill: #ffa500"/>
</g>
<g id="patch_73">
<path d="M 350.06 292.93 564.05 292.93 564.05 294.88 350.06 294.88 z" clip-path="url(#p0045b7914a)" style="fill: #ffa500"/>
</g>
<g id="patch_74">
<path d="M 350.06 297.32 564.05 297.32 564.05 299.27 350.06 299.27 z" clip-path="url(#p0045b7914a)" style="fill: #ffa500"/>
</g>
<g id="patch_75">
<path d="M 350.06 300.92 564.05 300.92 564.05 302.87 350.06 302.87 z" clip-path="url(#p0045b7914a)" style="fill: #ffa500"/>
</g>
<g id="patch_76">
<path d="M 350.06 305.03 564.05 305.03 564.05 306.97 350.06 306.97 z" clip-path="url(#p0045b7914a)" style="fill: #ffa500"/>
</g>
<g id="patch_77">
<path d="M 350.06 308.7 564.05 308.7 564.05 310.64 350.06 310.64 z" clip-path="url(#p0045b7914a)" style="fill: #ffa500"/>
</g>
<g id="patch_78">
<path d="M 350.06 312.37 564.05 312.37 564.05 314.32 350.06 314.32 z" clip-path="url(#p0045b7914a)" style="fill: #ffa500"/>
</g>
<g id="patch_79">
<path d="M 349.92 303.98 352.44 303.98 352.44 305.86 349.92 305.86 z" clip-path="url(#p0045b7914a)" style="fill: #ffa500"/>
</g>
<g id="patch_80">
<path d="M 396 303.98 399.6 303.98 399.6 305.86 396 305.86 z" clip-path="url(#p0045b7914a)" style="fill: #ffa500"/>
</g>
<g id="patch_81">
<path d="M 452.88 303.98 455.76 303.98 455.76 305.86 452.88 305.86 z" clip-path="url(#p0045b7914a)" style="fill: #ffa500"/>
</g>
<g id="patch_82">
<path d="M 508.32 303.98 511.92 303.98 511.92 305.86 508.32 305.86 z" clip-path="url(#p0045b7914a)" style="fill: #ffa500"/>
</g>
<g id="patch_83">
<path d="M 562.32 303.98 567.36 303.98 567.36 305.86 562.32 305.86 z" clip-path="url(#p0045b7914a)" style="fill: #ffa500"/>
</g>
<g id="text_58">
<text style="font-size: 12px; font-family: 'DejaVu Sans', 'Liberation Sans', sans-serif; text-anchor: middle" x="458.64" y="253.08">NoRP 3.75GHz Stokes-V</text>
</g>
<g id="patch_84">
<path d="M 397.3 272.16 397.87 272.16 397.87 315.36 397.3 315.36 z" clip-path="url(#p0045b7914a)" style="fill: #ffffff; opacity: 0.45"/>
</g>
<g id="patch_85">
<path d="M 453.6 272.16 454.18 272.16 454.18 315.36 453.6 315.36 z" clip-path="url(#p0045b7914a)" style="fill: #ffffff; opacity: 0.45"/>
</g>
<g id="patch_86">
<path d="M 509.9 272.16 510.48 272.16 510.48 315.36 509.9 315.36 z" clip-path="url(#p0045b7914a)" style="fill: #ffffff; opacity: 0.45"/>
</g>
</g>
<g id="axes_7">
<g id="patch_87">
<path d="M 57.96 450.01 294.84 450.01 294.84 375.85 57.96 375.85 z" style="fill: #ffffff"/>
</g>
<g id="matplotlib.axis_13">
<g id="xtick_37">
<g id="line2d_71">
<g>
<use href="#m1504cfccaf" x="87.45" y="450.01" class="u0"/>
</g>
</g>
<g id="text_59">
<text style="font-size: 10px; font-family: 'DejaVu Sans', 'Liberation Sans', sans-serif; text-anchor: middle" x="87.45" y="464.61">22:00</text>
</g>
</g>
<g id="xtick_38">
<g id="line2d_72">
<g>
<use href="#m1504cfccaf" x="124.9" y="450.01" class="u0"/>
</g>
</g>
<g id="text_60">
<text style="font-size: 10px; font-family: 'DejaVu Sans', 'Liberation Sans', sans-serif; text-anchor: middle" x="124.9" y="464.61">00:00</text>
</g>
</g>
<g id="xtick_39">
<g id="line2d_73">
<g>
<use href="#m1504cfccaf" x="162.36" y="450.01" class="u0"/>
</g>
</g>
<g id="text_61">
<text style="font-size: 10px; font-family: 'DejaVu Sans', 'Liberation Sans', sans-serif; text-anchor: middle" x="162.36" y="464.61">02:00</text>
</g>
</g>
<g id="xtick_40">
<g id="line2d_74">
<g>
<use href="#m1504cfccaf" x="199.81" y="450.01" class="u0"/>
</g>
</g>
<g id="text_62">
<text style="font-size: 10px; font-family: 'DejaVu Sans', 'Liberation Sans', sans-serif; text-anchor: middle" x="199.81" y="464.61">04:00</text>
</g>
</g>
<g id="xtick_41">
<g id="line2d_75">
<g>
<use href="#m1504cfccaf" x="237.26" y="450.01" class="u0"/>
</g>
</g>
<g id="text_63">
<text style="font-size: 10px; font-family: 'DejaVu Sans', 'Liberation Sans', sans-serif; text-anchor: middle" x="237.26" y="464.61">06:00</text>
</g>
</g>
<g id="xtick_42">
<g id="line2d_76">
<g>
<use href="#m1504cfccaf" x="274.71" y="450.01" class="u0"/>
</g>
</g>
<g id="text_64">
<text style="font-size: 10px; font-family: 'DejaVu Sans', 'Liberation Sans', sans-serif; text-anchor: middle" x="274.71" y="464.61">08:00</text>
</g>
</g>
</g>
<g id="matplotlib.axis_14">
<g id="ytick_14">
<g id="line2d_77">
<g>
<use href="#m5d545ce8f8" x="57.96" y="425.16" class="u0"/>
</g>
</g>
<g id="text_65">
<text style="font-size: 10px; font-family: 'DejaVu Sans', 'Liberation Sans', sans-serif; text-anchor: end" x="50.96" y="428.96">200</text>
</g>
</g>
<g id="ytick_15">
<g id="line2d_78">
<g>
<use href="#m5d545ce8f8" x="57.96" y="399.96" class="u0"/>
</g>
</g>
<g id="text_66">
<text style="font-size: 10px; font-family: 'DejaVu Sans', 'Liberation Sans', sans-serif; text-anchor: end" x="50.96" y="403.76">400</text>
</g>
</g>
<g id="text_67">
<text style="font-size: 10px; font-family: 'DejaVu Sans', 'Liberation Sans', sans-serif; text-anchor: middle" x="24.35" y="413.29" transform="rotate(-90 24.353 413.287)">Flux [SFU]</text>
</g>
</g>
<g id="patch_88">
<path d="M70.4 409.8l.7-.3 .8-.3 .7 0 .7-.1 .7 .4 .7-.1 .8-.1 .7 .7 .7 0 .7 .2 .7-.2 .8 .1 .7 0 .7 .2 .7-.3 .7-.3 .8 .4 .7-.2 .7 .1 .7-.5 .7 .1 .8 0 .7 .4 .7 0 .7-.2 .7-.1 .8 .1 .7 .4 .7 0 .7 .1 .7-.1 .8-.6 .7-.8 .7 .5 .7 0 .7-.1 .8 .5 .7 .2 .7 0 .7-.2 .7 0 .8-.1 .7 .2 .7-.1 .7 0 .7-.1 .8 .6 .7-.2 .7 .2 .7 0 .7-.2 .8 .4 .7-1 .7 .3 .7-.1 .7 0 .8-.2 .7 .3 .7 .2 .7 .9 .7 .3 .8-.1 .7-.4 .7-.2 .7 .2 .7-.7 .8 .6 .7-.6 .7-.1 .7 0 .7 .1 .8-.1 .7 0 .7-.3 .7 .2 .7 .2 .8 .2 .7 .1 .7-.7 .7 .3 .7 .1 .8-.4 .7 0 .7 .3 .7-.5 .7-.1 .8 .4 .7 .2 .7-.3 .7 .5 .7 .3 .8-.4 .7 .1 .7-.2 .7 .2 .7-.4 .8 .3 .7-.6 .7 .7 .7-.7 .7 .3 .8 .1 .7-.1 .7 .2 .7-.1 .7 .1 .8 .5 .7-.4 .7 .1 .7 .1 .7 .1 .8-.3 .7 0 .7 .4 .7-.2 .7 0 .8 .2 .7-.5 .7 .5 .7-.5 .7 1 .8-.6 .7 .4 .7-.7 .7 0 .7 .2 .8 .6 .7-.7 .7 .2 .7 .2 .7-.2 .8-.2 .7-.4 .7 .6 .7 0 .7 0 .8 .1 .7 .3 .7-.1 .7-.1 .7-.1 .8-.5 .7 .5 .7 0 .7 0 .7-.2 .8-.4 .7 .6 .7-.5 .7 .3 .7-.1 .8-.2 .7 0 .7-.4 .7 .3 .7 0 .8 .2 .7 .1 .7 .5 .7 .3 .7-.2 .8 .4 .7-.2 .7-.5 .7-.2 .7 .3 .8 0 .7-.6 .7 .7 .7-.7 .7 .1 .8 .3 .7 .2 .7-.2 .7 0 .7 .3 .8-.1 .7-.5 .7 .5 .7-.4 .7 0 .8 0 .7-.3 .7 .7 .7-.1 .7 .2 .8-.5 .7-.1 .7 .2 .7-.2 .7 0 .8 .3 .7 .2 .7 .1 .7 .1 .7-.3 .8 0 .7 .2 .7-.2 .7 0 .7-.1 .8-.2 .7 0 .7-.1 .7 .4 .7 .5 .8-.5 .7 .4 .7-.1 .7-.1 .7 0 .8 .1 .7-.1 .7 .1 .7-.2 .7-.5 .8 .3 .7-.5 .7 .4 .7 .2 .7-.1 .8-.1 .7-.3 .7 .9 .7 0 .7-.3 .8 0 .7 0 .7-.5 .7 .2 .7 .4 .8 .1 .7-.3 .7 .1 .7-.5 .7 .2 .8-.4 .7 .2 .7 .3 .7-.3 .7 .6 .8 .1 .7-.3 .7 .2 .7 .1 .7-.3 .8 .1 .7 0 .7 0 .7 .1 .7-.3 .8-.1 .7 .3 .7 .1 .7 .1 .7 .3 .8-.3 .7 .1 .7 0 .7-.3 .7-.6 .8-.3 .7 .6 .7-.3 .7 .1 .7-.6 .8 .5 .7 .1 .7 0 .7 .3 .7 .1 .8 .2 .7 0 .7-.3 .7 0 .7-.5 .8 .2 .7 .1 .7-.3 .7 .5 .7 .1 .8 .3 .7-.1 .7 .3 .7-.1 .7 .2 .8 0 .7 0 .7-.1 .7-.7 .7 .4 .8-.3 .7-.3 0 6.4-.7-.3-.8 .4-.7-.9-.7 .2-.7-.2-.7 .5-.8 .3-.7-.3-.7 .5-.7-.5-.7 0-.8 0-.7-.2-.7-.2-.7-.2-.7 .5-.8-.1-.7-.3-.7 .3-.7-.3-.7-.5-.8 .3-.7 .1-.7 .5-.7-.7-.7 .2-.8 0-.7 .2-.7-.3-.7 0-.7 .5-.8 .2-.7 .6-.7-.7-.7 .8-.7-.7-.8-.6-.7 .3-.7-.2-.7 .3-.7-.1-.8 0-.7 0-.7-.2-.7 .5-.7 0-.8-.3-.7 .1-.7 .1-.7-.2-.7 .1-.8-.1-.7 .1-.7-.4-.7 0-.7 .1-.8 .1-.7 .4-.7 .1-.7 0-.7 0-.8-.1-.7-.2-.7-.3-.7 .1-.7 0-.8 0-.7 .3-.7 .1-.7 0-.7-.2-.8 .1-.7 0-.7-.4-.7-.1-.7 .4-.8-.3-.7 0-.7 .5-.7-.3-.7 .4-.8-.1-.7 0-.7 .3-.7 .3-.7-.3-.8-.4-.7 .1-.7-.3-.7 .8-.7-.8-.8 .3-.7 .2-.7-.3-.7 .1-.7 .3-.8-.4-.7 .2-.7-.3-.7-.2-.7 .3-.8-.2-.7-.3-.7 .5-.7-.2-.7 .1-.8 .4-.7 0-.7-.5-.7-.2-.7 .5-.8 .2-.7 .3-.7-.4-.7 0-.7-.2-.8-.1-.7 .4-.7-.3-.7 .1-.7 .2-.8 .1-.7-.5-.7 .2-.7 .4-.7-.5-.8-.3-.7 .6-.7-.7-.7 .1-.7 .4-.8-.4-.7 .3-.7-.1-.7 .2-.7 .1-.8-.1-.7 .3-.7 .5-.7-.5-.7 0-.8 0-.7 0-.7-.9-.7-.2-.7-.1-.8 0-.7 .3-.7 .5-.7-.6-.7 .2-.8 .5-.7-.1-.7-.4-.7 .1-.7 .1-.8 .1-.7 0-.7-.3-.7 .5-.7-.3-.8 .5-.7-.2-.7-.1-.7 0-.7 .1-.8 .4-.7-.7-.7 .4-.7 0-.7 .1-.8-.3-.7 .1-.7-.3-.7 .1-.7-.3-.8 .4-.7-.4-.7 .3-.7 0-.7-.6-.8 .6-.7 .1-.7 .2-.7 .2-.7 .1-.8 .2-.7-.4-.7 0-.7-.1-.7-.1-.8-.1-.7-.3-.7 .6-.7 .2-.7 0-.8-.1-.7-.5-.7 .2-.7-.4-.7 .1-.8 .4-.7-.1-.7 .5-.7 .2-.7-.6-.8 .8-.7-.9-.7 0-.7 0-.7 .5-.8-.9-.7-.5-.7 .2-.7-.1-.7-.1-.8 .2-.7 .6-.7-.2-.7-.3-.7-.1-.8-.2-.7 .5-.7-.4-.7 .1-.7 .1-.8 .3-.7 .2-.7 0-.7 .5-.7-.5-.8-.1-.7 .2-.7-.2-.7-.1-.7-.2-.8 .3-.7 0-.7 .2-.7-.1-.7 .1-.8 .3-.7-.4-.7-.3-.7 .2-.7 0-.8 .1-.7-.1-.7 .1-.7-.1-.7 .1-.8-.2-.7-.2-.7 .3-.7-.3-.7 .3-.8-.5-.7 .3-.7-.1-.7 .6-.7 .3-.8 .1-.7-.5-.7 .2-.7-.3-.7-.2-.8 .1-.7-.2-.7 0-.7 .1-.7-.3-.8 .1-.7 .3-.7-.2-.7-.3-.7 .2-.8 .1-.7 0-.7 0-.7 0-.7 .3-.8 .1-.7-.3-.7 .2-.7-.1-.7-.5-.8 .4-.7-.3-.7 .3-.7-.2-.7 .1-.8 .4-.7 .3z" clip-path="url(#pe800006190)" style="fill: #0000ff; opacity: 0.2"/>
</g>
<g id="patch_89">
<path d="M 121.54 394.56 121.97 385.92 122.62 383.4 123.26 385.92 123.84 394.56 z" clip-path="url(#pe800006190)" style="fill: #0000ff; opacity: 0.35"/>
</g>
<g id="line2d_79">
<defs>
<path id="md1cb809d72" d="M -0 1.1 1.1 0 0 -1.1 -1.1 -0 z" style="stroke: #0000ff; stroke-opacity: 0.42; stroke-width: 0.5; stroke-linejoin: miter"/>
</defs>
<g clip-path="url(#pe800006190)">
<use href="#md1cb809d72" x="122.62" y="382.68" class="u5"/>
<use href="#md1cb809d72" x="122.98" y="384.12" class="u5"/>
<use href="#md1cb809d72" x="122.54" y="385.56" class="u5"/>
</g>
</g>
<g id="patch_90">
<path d="M 121.68 416.16 122.69 422.64 123.7 416.16 z" clip-path="url(#pe800006190)" style="fill: #0000ff; opacity: 0.3"/>
</g>
<g id="line2d_80">
<defs>
<path id="mf27a13b852" d="M -0 1.1 1.1 0 0 -1.1 -1.1 -0 z" style="stroke: #0000ff; stroke-opacity: 0.36; stroke-width: 0.5; stroke-linejoin: miter"/>
</defs>
<g clip-path="url(#pe800006190)">
<use href="#mf27a13b852" x="109.44" y="404.64" class="u6"/>
<use href="#mf27a13b852" x="100.8" y="407.52" class="u6"/>
<use href="#mf27a13b852" x="183.6" y="405.36" class="u6"/>
<use href="#mf27a13b852" x="185.76" y="403.92" class="u6"/>
<use href="#mf27a13b852" x="187.92" y="406.08" class="u6"/>
<use href="#mf27a13b852" x="206.64" y="403.92" class="u6"/>
<use href="#mf27a13b852" x="270" y="406.8" class="u6"/>
<use href="#mf27a13b852" x="208.08" y="406.8" class="u6"/>
<use href="#mf27a13b852" x="189.36" y="406.8" class="u6"/>
<use href="#mf27a13b852" x="165.6" y="408.96" class="u6"/>
<use href="#mf27a13b852" x="228.96" y="408.24" class="u6"/>
</g>
</g>
<g id="line2d_81">
<g clip-path="url(#pe800006190)">
<use href="#mce796437ce" x="281.35" y="415.44" class="u1"/>
<use href="#mce796437ce" x="281.12" y="417.56" class="u1"/>
<use href="#mce796437ce" x="281.01" y="419.69" class="u1"/>
<use href="#mce796437ce" x="281.41" y="421.81" class="u1"/>
<use href="#mce796437ce" x="281.89" y="423.94" class="u1"/>
</g>
</g>
<g id="patch_91">
<path d="M 57.96 450.01 57.96 375.85" style="fill: none; stroke: #000000; stroke-width: 0.8; stroke-linejoin: miter; stroke-linecap: square"/>
</g>
<g id="patch_92">
<path d="M 294.84 450.01 294.84 375.85" style="fill: none; stroke: #000000; stroke-width: 0.8; stroke-linejoin: miter; stroke-linecap: square"/>
</g>
<g id="patch_93">
<path d="M 57.96 450.01 294.84 450.01" style="fill: none; stroke: #000000; stroke-width: 0.8; stroke-linejoin: miter; stroke-linecap: square"/>
</g>
<g id="patch_94">
<path d="M 57.96 375.85 294.84 375.85" style="fill: none; stroke: #000000; stroke-width: 0.8; stroke-linejoin: miter; stroke-linecap: square"/>
</g>
<g id="patch_95">
<path d="M70.4 410.6l.7-.5 .8-.1 .7 .2 .7-.1 .7 0 .7 .1 .8 .3 .7 .1 .7 .2 .7 0 .7 .2 .8 0 .7 .1 .7 0 .7 0 .7-.1 .8-.2 .7-.2 .7 0 .7-.2 .7 0 .8 .2 .7 0 .7 .1 .7-.1 .7 0 .8 0 .7 .2 .7 0 .7 .2 .7-.2 .8-.2 .7-.3 .7-.2 .7 .2 .7 0 .8 .3 .7 0 .7 .2 .7-.3 .7 .2 .8-.4 .7 .2 .7-.1 .7 .1 .7 0 .8 .4 .7-.1 .7 .2 .7 .1 .7-.1 .8 .1 .7-.2 .7-.3 .7-.2 .7-.1 .8-.3 .7 .8 .7 .2 .7 .5 .7 .2 .8 0 .7-.5 .7 .2 .7-.2 .7-.2 .8 .2 .7-.3 .7-.4 .7 .1 .7 0 .8-.2 .7 .2 .7 .1 .7-.1 .7 0 .8 .2 .7 .1 .7-.2 .7-.1 .7-.1 .8-.2 .7 0 .7 .1 .7 0 .7 .1 .8 .1 .7-.1 .7 0 .7 .1 .7 .3 .8-.2 .7 .1 .7 .1 .7 .1 .7-.5 .8 0 .7 .2 .7-.1 .7-.2 .7-.1 .8 .2 .7-.3 .7 .3 .7 .1 .7 .2 .8 .2 .7 0 .7-.1 .7-.1 .7 .2 .8-.2 .7 .1 .7 0 .7 0 .7-.2 .8 .3 .7 0 .7 .1 .7 0 .7 .3 .8-.6 .7 .4 .7-.2 .7-.2 .7-.1 .8 .6 .7-.2 .7-.1 .7 .1 .7 .1 .8-.5 .7-.1 .7 .2 .7 .3 .7-.2 .8 .4 .7-.1 .7 0 .7-.2 .7 .1 .8-.4 .7 .2 .7 .2 .7-.2 .7-.1 .8 .3 .7-.2 .7-.1 .7 0 .7-.1 .8-.2 .7 0 .7-.1 .7 .1 .7 0 .8 .1 .7 .1 .7 .5 .7 .2 .7-.2 .8 .4 .7-.1 .7-.3 .7-.3 .7 .2 .8 0 .7 .1 .7-.1 .7 0 .7 0 .8-.1 .7 .1 .7 0 .7 .1 .7 0 .8-.2 .7-.2 .7 .2 .7-.2 .7-.1 .8 .3 .7 0 .7 0 .7 .1 .7 .1 .8-.1 .7-.1 .7-.2 .7 0 .7 .2 .8-.2 .7 .2 .7 .3 .7-.1 .7-.1 .8 .1 .7-.1 .7 0 .7 0 .7-.2 .8 .1 .7 0 .7-.1 .7 .3 .7 .4 .8-.3 .7 .1 .7-.2 .7 .1 .7 0 .8-.1 .7-.1 .7 .1 .7-.1 .7-.2 .8 0 .7-.2 .7 .2 .7 .1 .7-.1 .8 0 .7 .5 .7 0 .7-.1 .7 0 .8 .1 .7-.3 .7-.3 .7 .2 .7 .2 .8 .1 .7-.2 .7 0 .7-.3 .7 0 .8-.1 .7 .1 .7 .2 .7 .1 .7 .2 .8 0 .7-.1 .7 0 .7 .1 .7-.2 .8 0 .7 .1 .7 0 .7-.1 .7-.1 .8 0 .7 .2 .7 .1 .7 .1 .7 .2 .8 0 .7-.2 .7 0 .7-.3 .7-.1 .8-.3 .7 0 .7-.2 .7 0 .7 .1 .8 .1 .7 0 .7 .1 .7 .1 .7 .1 .8 0 .7 .1 .7-.1 .7 0 .7-.2 .8 0 .7-.1 .7 .2 .7 .3 .7 0 .8 0 .7 0 .7 .4 .7 0 .7 .1 .8 .1 .7 0 .7-.4 .7-.2 .7-.1 .8-.2 .7 0 0 4.4-.7-.3-.8 0-.7-.2-.7 .1-.7 0-.7 .1-.8 0-.7 .1-.7 .1-.7 0-.7 0-.8-.2-.7 0-.7-.1-.7-.2-.7 .3-.8-.1-.7 0-.7 0-.7-.1-.7-.4-.8 .3-.7-.2-.7 0-.7 .1-.7 .1-.8-.3-.7 .3-.7 0-.7 0-.7 .2-.8 .4-.7-.1-.7 0-.7 0-.7-.3-.8-.2-.7 0-.7 .2-.7 .1-.7-.1-.8 .1-.7-.1-.7-.4-.7 .3-.7 .2-.8-.2-.7 .1-.7 .1-.7 0-.7-.1-.8-.1-.7 .1-.7-.1-.7-.1-.7 0-.8 .2-.7 .3-.7 .2-.7-.1-.7 .1-.8-.2-.7-.2-.7-.2-.7 0-.7-.1-.8-.1-.7 .3-.7 .2-.7 .2-.7-.1-.8 .1-.7-.3-.7-.1-.7-.2-.7 0-.8 0-.7 .1-.7 0-.7 0-.7 .4-.8 .1-.7 0-.7 .2-.7 0-.7 0-.8-.4-.7 .2-.7-.2-.7 .1-.7-.2-.8 .3-.7-.2-.7 0-.7 0-.7 .1-.8 0-.7 0-.7-.2-.7 0-.7-.2-.8-.2-.7 .1-.7 .3-.7 0-.7-.1-.8 .4-.7-.2-.7-.1-.7-.3-.7 .4-.8 0-.7 .3-.7 0-.7-.1-.7-.1-.8 0-.7 0-.7-.1-.7 .1-.7-.1-.8 0-.7-.1-.7 .1-.7 .3-.7-.3-.8-.1-.7 .1-.7-.3-.7 0-.7 .2-.8 .1-.7 0-.7 .1-.7 .1-.7 .1-.8 0-.7 .1-.7 .3-.7-.1-.7-.1-.8-.1-.7-.3-.7-.5-.7-.1-.7-.1-.8-.2-.7 .1-.7 .3-.7 0-.7 0-.8 .2-.7 0-.7-.1-.7 0-.7-.1-.8 .1-.7 .1-.7-.1-.7 .3-.7 0-.8 .1-.7 0-.7 .1-.7-.2-.7 0-.8 0-.7 0-.7 .1-.7 .1-.7 .1-.8-.2-.7 .1-.7-.1-.7-.3-.7-.1-.8 .1-.7-.2-.7-.2-.7 .1-.7 0-.8 .2-.7 .4-.7 .3-.7 .2-.7 .1-.8-.3-.7-.3-.7 0-.7-.2-.7-.1-.8 0-.7 .1-.7 .2-.7 .2-.7 .2-.8-.2-.7-.2-.7 0-.7-.4-.7 0-.8 .3-.7 .3-.7-.1-.7 .2-.7 0-.8 .1-.7-.3-.7-.2-.7 .1-.7-.1-.8-.3-.7-.2-.7 0-.7 0-.7-.2-.8 .2-.7 .2-.7 .1-.7-.2-.7-.1-.8-.2-.7 0-.7 0-.7 0-.7 .4-.8 .3-.7-.1-.7 .2-.7 .1-.7-.1-.8 0-.7 .1-.7-.3-.7-.2-.7 0-.8 0-.7 .2-.7 .2-.7 .1-.7 .2-.8-.2-.7-.2-.7-.1-.7 .1-.7 .1-.8 0-.7 0-.7 .1-.7-.1-.7-.2-.8-.1-.7-.1-.7-.1-.7-.1-.7 0-.8-.1-.7 .3-.7 0-.7 .5-.7 .2-.8 .2-.7-.3-.7 0-.7-.3-.7 0-.8-.2-.7 0-.7-.1-.7 .1-.7-.1-.8 .1-.7 0-.7 0-.7-.3-.7 .2-.8 0-.7 .1-.7 0-.7 .1-.7 .1-.8-.1-.7-.2-.7 0-.7 .2-.7-.5-.8 .1-.7 0-.7 .3-.7 0-.7-.1-.8 .4-.7 .2z" clip-path="url(#pe800006190)" style="fill: #0000ff"/>
</g>
<g id="line2d_82">
<path d="M 69.77 424.94 69.77 421.92 70.06 419.04 70.2 413.28 70.7 411.48" clip-path="url(#pe800006190)" style="fill: none; stroke: #0000ff; stroke-width: 1.872; stroke-linecap: round"/>
</g>
<g id="patch_96">
<path d="M 121.1 411.84 121.39 397.44 121.82 391.68 122.26 389.16 123.05 389.16 123.62 393.12 124.06 400.32 124.27 411.84 z" clip-path="url(#pe800006190)" style="fill: #0000ff"/>
</g>
<g id="patch_97">
<path d="M 121.39 414.72 122.11 418.32 123.26 418.32 123.98 414.72 z" clip-path="url(#pe800006190)" style="fill: #0000ff"/>
</g>
<g id="patch_98">
<path d="M 96.52 411.12 97.04 409.39 97.56 408.24 98.08 409.39 98.6 411.12 z" clip-path="url(#pe800006190)" style="fill: #0000ff; opacity: 0.3"/>
</g>
<g id="patch_99">
<path d="M 106.17 411.12 106.69 407.66 107.21 405.36 107.73 407.66 108.24 411.12 z" clip-path="url(#pe800006190)" style="fill: #0000ff; opacity: 0.3"/>
</g>
<g id="patch_100">
<path d="M 106.06 411.12 106.63 409.82 106.99 408.96 107.42 408.96 107.78 409.82 108.36 411.12 z" clip-path="url(#pe800006190)" style="fill: #0000ff"/>
</g>
<g id="patch_101">
<path d="M 149.8 411.12 150.32 408.53 150.84 406.8 151.36 408.53 151.88 411.12 z" clip-path="url(#pe800006190)" style="fill: #0000ff; opacity: 0.3"/>
</g>
<g id="patch_102">
<path d="M 149.69 411.12 150.26 409.82 150.62 408.96 151.06 408.96 151.42 409.82 151.99 411.12 z" clip-path="url(#pe800006190)" style="fill: #0000ff"/>
</g>
<g id="patch_103">
<path d="M 201.89 411.12 202.46 410.04 202.82 409.32 203.26 409.32 203.62 410.04 204.19 411.12 z" clip-path="url(#pe800006190)" style="fill: #0000ff"/>
</g>
<g id="patch_104">
<path d="M 236.13 411.12 236.65 408.74 237.17 407.16 237.69 408.74 238.2 411.12 z" clip-path="url(#pe800006190)" style="fill: #0000ff; opacity: 0.3"/>
</g>
<g id="patch_105">
<path d="M 236.02 411.12 236.59 409.82 236.95 408.96 237.38 408.96 237.74 409.82 238.32 411.12 z" clip-path="url(#pe800006190)" style="fill: #0000ff"/>
</g>
<g id="patch_106">
<path d="M 261.22 411.12 261.79 409.39 262.15 408.24 262.58 408.24 262.94 409.39 263.52 411.12 z" clip-path="url(#pe800006190)" style="fill: #0000ff"/>
</g>
<g id="patch_107">
<path d="M 266.44 411.12 266.96 408.96 267.48 407.52 268 408.96 268.52 411.12 z" clip-path="url(#pe800006190)" style="fill: #0000ff; opacity: 0.3"/>
</g>
<g id="patch_108">
<path d="M 282.31 412.92 282.17 414.29 281.77 415.29 281.23 415.66 280.69 415.29 280.3 414.29 280.15 412.92 280.3 411.55 280.69 410.55 281.23 410.18 281.77 410.55 282.17 411.55 z" clip-path="url(#pe800006190)" style="fill: #0000ff"/>
</g>
<g id="text_68">
<text style="font-size: 12px; font-family: 'DejaVu Sans', 'Liberation Sans', sans-serif; text-anchor: middle" x="176.4" y="369.85">NoRP 9.4GHz Stokes-I</text>
</g>
</g>
<g id="axes_8">
<g id="patch_109">
<path d="M 340.2 450.01 577.08 450.01 577.08 375.85 340.2 375.85 z" style="fill: #ffffff"/>
</g>
<g id="matplotlib.axis_15">
<g id="xtick_43">
<g id="line2d_83">
<g>
<use href="#m1504cfccaf" x="369.69" y="450.01" class="u0"/>
</g>
</g>
<g id="text_69">
<text style="font-size: 10px; font-family: 'DejaVu Sans', 'Liberation Sans', sans-serif; text-anchor: middle" x="369.69" y="464.61">22:00</text>
</g>
</g>
<g id="xtick_44">
<g id="line2d_84">
<g>
<use href="#m1504cfccaf" x="407.14" y="450.01" class="u0"/>
</g>
</g>
<g id="text_70">
<text style="font-size: 10px; font-family: 'DejaVu Sans', 'Liberation Sans', sans-serif; text-anchor: middle" x="407.14" y="464.61">00:00</text>
</g>
</g>
<g id="xtick_45">
<g id="line2d_85">
<g>
<use href="#m1504cfccaf" x="444.6" y="450.01" class="u0"/>
</g>
</g>
<g id="text_71">
<text style="font-size: 10px; font-family: 'DejaVu Sans', 'Liberation Sans', sans-serif; text-anchor: middle" x="444.6" y="464.61">02:00</text>
</g>
</g>
<g id="xtick_46">
<g id="line2d_86">
<g>
<use href="#m1504cfccaf" x="482.05" y="450.01" class="u0"/>
</g>
</g>
<g id="text_72">
<text style="font-size: 10px; font-family: 'DejaVu Sans', 'Liberation Sans', sans-serif; text-anchor: middle" x="482.05" y="464.61">04:00</text>
</g>
</g>
<g id="xtick_47">
<g id="line2d_87">
<g>
<use href="#m1504cfccaf" x="519.5" y="450.01" class="u0"/>
</g>
</g>
<g id="text_73">
<text style="font-size: 10px; font-family: 'DejaVu Sans', 'Liberation Sans', sans-serif; text-anchor: middle" x="519.5" y="464.61">06:00</text>
</g>
</g>
<g id="xtick_48">
<g id="line2d_88">
<g>
<use href="#m1504cfccaf" x="556.95" y="450.01" class="u0"/>
</g>
</g>
<g id="text_74">
<text style="font-size: 10px; font-family: 'DejaVu Sans', 'Liberation Sans', sans-serif; text-anchor: middle" x="556.95" y="464.61">08:00</text>
</g>
</g>
</g>
<g id="matplotlib.axis_16">
<g id="ytick_16">
<g id="line2d_89">
<g>
<use href="#m5d545ce8f8" x="340.2" y="427.2" class="u0"/>
</g>
</g>
<g id="text_75">
<text style="font-size: 10px; font-family: 'DejaVu Sans', 'Liberation Sans', sans-serif; text-anchor: end" x="333.2" y="431">−200</text>
</g>
</g>
<g id="ytick_17">
<g id="line2d_90">
<g>
<use href="#m5d545ce8f8" x="340.2" y="401.64" class="u0"/>
</g>
</g>
<g id="text_76">
<text style="font-size: 10px; font-family: 'DejaVu Sans', 'Liberation Sans', sans-serif; text-anchor: end" x="333.2" y="405.44">0</text>
</g>
</g>
<g id="ytick_18">
<g id="line2d_91">
<g>
<use href="#m5d545ce8f8" x="340.2" y="376.08" class="u0"/>
</g>
</g>
<g id="text_77">
<text style="font-size: 10px; font-family: 'DejaVu Sans', 'Liberation Sans', sans-serif; text-anchor: end" x="333.2" y="379.88">200</text>
</g>
</g>
</g>
<g id="patch_110">
<path d="M349.8 398.4l.7-.1 .7-.3 .7 .3 .8 .2 .7 .2 .7-.6 .7 .4 .7 .2 .8 0 .7-.4 .7 .4 .7 .1 .7 .1 .8-.5 .7 0 .7 0 .7 0 .7 .2 .8 0 .7 .2 .7 0 .7-.3 .7 0 .8-.4 .7 .4 .7-.1 .7 .1 .7 0 .8 .1 .7-.6 .7 .6 .7-.3 .7 .2 .8 .1 .7-.2 .7 0 .7 0 .7 .2 .8-.4 .7 .3 .7-.3 .7 .6 .7-.4 .8 .4 .7 0 .7-.5 .7 .2 .7 .1 .8-.2 .7 .5 .7-.5 .7 .3 .7-.3 .8 .1 .7-.3 .7 .4 .7 .2 .7-.1 .8-.2 .7 .1 .7-.1 .7-.2 .7 .2 .8 0 .7 .3 .7-.1 .7-.2 .7 0 .8-.1 .7-.5 .7 .2 .7 .4 .7 .2 .8 0 .7 0 .7 0 .7 0 .7-.4 .8-.3 .7 .9 .7-.2 .7-.1 .7 .2 .8 0 .7 0 .7-.2 .7 .2 .7 0 .8-.8 .7 .7 .7-.1 .7-.7 .7 .6 .8 .2 .7-.1 .7-.1 .7 0 .7-.2 .8 .2 .7-.1 .7-.5 .7 .1 .7 .4 .8 0 .7 .3 .7-.2 .7 0 .7 0 .8-.2 .7 .3 .7-.1 .7-.1 .7 .3 .8 .2 .7-.2 .7 .1 .7-.3 .7 .3 .8-.1 .7 .2 .7-.3 .7 .1 .7 .2 .8-.4 .7 .3 .7-.3 .7 .2 .7 .2 .8-.4 .7 .3 .7-.4 .7-.4 .7 .6 .8-.5 .7 .1 .7 .5 .7-.4 .7 .5 .8-.7 .7 .3 .7 .2 .7 .2 .7-.1 .8 0 .7-.3 .7 .3 .7 0 .7-.1 .8 .3 .7-1 .7 .3 .7 .5 .7 0 .8-.2 .7 .2 .7-.5 .7 .5 .7 .1 .8-.6 .7-.1 .7 .6 .7-.4 .7 .2 .8 .1 .7 0 .7 0 .7-.2 .7 .3 .8-.3 .7 .2 .7-.2 .7 .1 .7-.3 .8 .2 .7 .1 .7 .1 .7-.3 .7 .4 .8-.7 .7 .5 .7-.9 .7 .9 .7 0 .8-.4 .7 .6 .7 0 .7-.6 .7 .3 .8-.3 .7 .2 .7 .1 .7 0 .7-.1 .8 .3 .7 .1 .7 0 .7-.4 .7 .5 .8-.1 .7-.3 .7 .4 .7-.5 .7-.1 .8 .4 .7 0 .7-.3 .7-.4 .7 .4 .8 0 .7 .1 .7-.2 .7-.3 .7 .7 .8-.4 .7 .3 .7 .3 .7 .1 .7-.4 .8 .3 .7-.6 .7-.1 .7 .5 .7-.3 .8 .4 .7-.2 .7 .3 .7-.3 .7 .2 .8 .1 .7-.1 .7-.3 .7 .3 .7-.2 .8-.5 .7 .4 .7 0 .7 0 .7-.3 .8 .1 .7 .4 .7 0 .7-.1 .7 .3 .8 .1 .7-.1 .7-.1 .7-.1 .7 .1 .8-.1 .7-.4 .7 .3 .7 .1 .7-.2 .8 .1 .7 0 .7 .1 .7-.6 .7 .2 .8 .2 .7-.3 .7 .2 .7 .2 .7-.3 .8 .2 .7 .1 .7-.6 .7-.2 .7 .8 .8 .3 .7-.2 .7 0 .7 .1 .7-.6 .8 .7 .7-.2 .7 .1 .7 .2 .7-.2 .8 .3 .7-.4 .7 .1 .7-.2 .7 .4 .8-.4 .7 .2 .7-.2 .7 .5 .7-.6 .8 .5 .7-.3 .7 0 .7-.1 .7 .5 .8-.2 .7-.1 .7-.1 .7-.1 0 5.5-.7-.1-.7 .1-.7 .3-.8-.4-.7 0-.7 .3-.7-.4-.7 .4-.8 0-.7-.3-.7 .8-.7-.5-.7 0-.8-.5-.7 .1-.7-.1-.7-.1-.7 .2-.8-.1-.7 .2-.7-.2-.7 .3-.7-.1-.8 .6-.7-.6-.7 0-.7 0-.7-.2-.8 .1-.7 .2-.7-.2-.7 .1-.7 .1-.8 .1-.7 0-.7 .1-.7 0-.7 .4-.8-.5-.7 .3-.7-.5-.7 .1-.7 .3-.8-.3-.7-.3-.7 .6-.7 .1-.7-.4-.8 .5-.7-.3-.7-.1-.7 .2-.7 .5-.8-.7-.7 .1-.7-.4-.7-.1-.7 0-.8 .4-.7-.4-.7 .7-.7-.2-.7 0-.8-.4-.7 .5-.7-.2-.7-.3-.7 .7-.8-.2-.7 0-.7-.1-.7-.1-.7 0-.8 0-.7 .4-.7 .6-.7-.9-.7-.1-.8 .2-.7-.7-.7 .6-.7 0-.7-.3-.8 .1-.7 0-.7-.1-.7 .3-.7 .1-.8 0-.7-.6-.7 0-.7 .1-.7 .1-.8 .1-.7 .2-.7-.1-.7 .1-.7-.3-.8 0-.7-.1-.7 .4-.7-.4-.7 .3-.8 .2-.7-.6-.7 0-.7 .3-.7 .1-.8-.3-.7 .2-.7 .1-.7-.4-.7 .2-.8 .2-.7 0-.7-.5-.7 0-.7 .9-.8-.7-.7-.3-.7 .2-.7 .3-.7 .1-.8 0-.7-.2-.7 .1-.7-.3-.7 .2-.8 .1-.7 0-.7-.1-.7 .3-.7 .1-.8-.3-.7-.1-.7-.2-.7 .1-.7 .2-.8 .2-.7 .2-.7-.5-.7-.2-.7 0-.8 .3-.7-.2-.7 0-.7-.1-.7 .8-.8-.1-.7 .1-.7-.5-.7 0-.7 .5-.8-.1-.7-.3-.7 0-.7 .3-.7 0-.8-.3-.7 .3-.7-.4-.7-.1-.7 .1-.8-.2-.7 .5-.7 .1-.7-.4-.7 0-.8 .4-.7-.4-.7 .3-.7-.3-.7 .3-.8-.1-.7-.4-.7 .3-.7 0-.7-.1-.8-.1-.7-.1-.7 .6-.7-.3-.7-.1-.8 .2-.7 .2-.7 .3-.7-.9-.7 0-.8 .4-.7-.5-.7 .2-.7 .3-.7-.2-.8 .1-.7 0-.7 .2-.7-.2-.7 0-.8 .3-.7 .3-.7-.2-.7-.4-.7 .3-.8-.4-.7 .2-.7-.2-.7-.3-.7 .1-.8-.2-.7 0-.7 .2-.7 .1-.7 .3-.8 .8-.7-.8-.7-.1-.7 .3-.7-.4-.8 .1-.7 0-.7 1.1-.7-1.3-.7 .1-.8 0-.7-.2-.7 .5-.7 0-.7-.5-.8 .2-.7 .4-.7-.3-.7 .1-.7-.3-.8 0-.7-.1-.7 .5-.7-.1-.7 .3-.8-.4-.7-.4-.7 .2-.7 .8-.7-.4-.8-.1-.7 0-.7 0-.7-.3-.7 .1-.8 .2-.7-.5-.7 .1-.7 .5-.7 0-.8-.4-.7 .1-.7 .1-.7 .3-.7 .2-.8-.7-.7 .1-.7-.4-.7 .4-.7-.3-.8 .1-.7 0-.7 .2-.7-.1-.7 1.1-.8-1-.7 .1-.7-.1-.7 .1-.7 .5-.8-.7-.7 .2-.7 .2-.7-.2-.7 .6-.8-.3-.7-.3-.7 .7-.7-.7-.7 .1-.8-.4-.7 1-.7-.7-.7-.1-.7-.3-.8 .1-.7 .4-.7-.2-.7 .1-.7 0-.8-.1-.7 .1-.7-.3-.7 .3z" clip-path="url(#p80e1c239cc)" style="fill: #ffa500; opacity: 0.3"/>
</g>
<g id="patch_111">
<path d="M 403.42 390.96 402.7 401.33 403.42 411.84 404.28 417.6 405.72 417.6 406.58 411.84 407.3 401.33 406.58 390.96 405.72 385.2 404.28 385.2 z" clip-path="url(#p80e1c239cc)" style="fill: #ffa500; opacity: 0.35"/>
</g>
<g id="line2d_92">
<g clip-path="url(#p80e1c239cc)">
<use href="#m5033db8bdf" x="405.4" y="378" class="u2"/>
<use href="#m5033db8bdf" x="404.79" y="380.16" class="u2"/>
<use href="#m5033db8bdf" x="405.03" y="382.32" class="u2"/>
<use href="#m5033db8bdf" x="405" y="421.92" class="u2"/>
<use href="#m5033db8bdf" x="404.7" y="424.8" class="u2"/>
<use href="#m5033db8bdf" x="404.43" y="426.96" class="u2"/>
<use href="#m5033db8bdf" x="404.7" y="430.56" class="u2"/>
<use href="#m5033db8bdf" x="404.51" y="435.6" class="u2"/>
<use href="#m5033db8bdf" x="404.83" y="440.93" class="u2"/>
</g>
</g>
<g id="line2d_93">
<g clip-path="url(#p80e1c239cc)">
<use href="#m5033db8bdf" x="380.16" y="392.4" class="u2"/>
<use href="#m5033db8bdf" x="379.44" y="412.56" class="u2"/>
<use href="#m5033db8bdf" x="392.4" y="415.44" class="u2"/>
<use href="#m5033db8bdf" x="415.44" y="405.36" class="u2"/>
<use href="#m5033db8bdf" x="471.6" y="414" class="u2"/>
<use href="#m5033db8bdf" x="498.24" y="395.28" class="u2"/>
<use href="#m5033db8bdf" x="515.52" y="393.84" class="u2"/>
<use href="#m5033db8bdf" x="496.8" y="398.16" class="u2"/>
<use href="#m5033db8bdf" x="518.4" y="390.24" class="u2"/>
<use href="#m5033db8bdf" x="432" y="388.8" class="u2"/>
<use href="#m5033db8bdf" x="460.8" y="389.52" class="u2"/>
</g>
</g>
<g id="patch_112">
<path d="M 340.2 450.01 340.2 375.85" style="fill: none; stroke: #000000; stroke-width: 0.8; stroke-linejoin: miter; stroke-linecap: square"/>
</g>
<g id="patch_113">
<path d="M 577.08 450.01 577.08 375.85" style="fill: none; stroke: #000000; stroke-width: 0.8; stroke-linejoin: miter; stroke-linecap: square"/>
</g>
<g id="patch_114">
<path d="M 340.2 450.01 577.08 450.01" style="fill: none; stroke: #000000; stroke-width: 0.8; stroke-linejoin: miter; stroke-linecap: square"/>
</g>
<g id="patch_115">
<path d="M 340.2 375.85 577.08 375.85" style="fill: none; stroke: #000000; stroke-width: 0.8; stroke-linejoin: miter; stroke-linecap: square"/>
</g>
<g id="patch_116">
<path d="M349.8 399.5l.7-.2 .7-.1 .7 .1 .8 0 .7 0 .7 .1 .7 .3 .7-.2 .8 0 .7 0 .7 .1 .7-.2 .7 .1 .8 0 .7-.2 .7-.1 .7 .2 .7 0 .8-.1 .7 .2 .7 0 .7-.1 .7-.3 .8 .2 .7 0 .7 0 .7-.1 .7 .1 .8 0 .7 0 .7 0 .7 0 .7 .2 .8-.1 .7-.1 .7-.1 .7 0 .7 0 .8 .1 .7 .1 .7 0 .7 .1 .7-.1 .8 0 .7 0 .7 .1 .7-.2 .7 .1 .8 .1 .7 0 .7-.2 .7 .1 .7-.1 .8-.1 .7 0 .7 .1 .7 .1 .7 0 .8 0 .7-.2 .7 0 .7 0 .7 0 .8 .1 .7 .1 .7-.1 .7-.2 .7-.1 .8 .1 .7-.1 .7 0 .7 .3 .7 .1 .8 0 .7-.1 .7 .1 .7 .1 .7-.2 .8 .1 .7 .1 .7 .1 .7-.2 .7 .1 .8 0 .7 0 .7 0 .7 0 .7-.1 .8-.1 .7 .1 .7-.2 .7 .1 .7-.1 .8 .1 .7-.1 .7 0 .7 0 .7 .1 .8 0 .7-.1 .7 0 .7 0 .7 0 .8-.1 .7 .2 .7-.1 .7 .1 .7 .1 .8 .1 .7 0 .7 .1 .7-.1 .7 0 .8 0 .7 0 .7 0 .7 .1 .7-.1 .8 0 .7 0 .7-.1 .7 0 .7 .1 .8 0 .7-.1 .7 .1 .7 0 .7 .1 .8-.2 .7 .1 .7-.1 .7-.1 .7 0 .8 0 .7 0 .7 .1 .7 0 .7 0 .8 .1 .7 0 .7-.2 .7 .1 .7-.1 .8 .1 .7-.1 .7 .2 .7 0 .7 0 .8 0 .7 .1 .7-.1 .7 0 .7 0 .8-.1 .7 0 .7 .1 .7-.1 .7 .1 .8 0 .7-.1 .7-.1 .7 .1 .7 0 .8-.2 .7 .1 .7-.1 .7 .1 .7 0 .8 .1 .7 0 .7 0 .7-.1 .7-.1 .8 0 .7 0 .7 .1 .7-.1 .7 .1 .8-.1 .7 0 .7 0 .7 0 .7 .1 .8-.1 .7 .1 .7 0 .7 0 .7-.1 .8 .1 .7 0 .7-.1 .7 .1 .7 0 .8-.1 .7 .1 .7 0 .7 0 .7 .2 .8 .1 .7-.1 .7 0 .7 0 .7-.1 .8-.2 .7 0 .7-.1 .7-.1 .7 0 .8 0 .7 .1 .7 .1 .7 .1 .7 .1 .8 0 .7 0 .7 0 .7 .1 .7 0 .8-.1 .7-.1 .7 0 .7-.1 .7 .1 .8 0 .7 .2 .7 0 .7 .1 .7-.2 .8 .2 .7-.1 .7-.1 .7-.1 .7 .1 .8-.1 .7-.2 .7 0 .7 .1 .7-.1 .8 0 .7 .3 .7 0 .7 0 .7 .2 .8-.1 .7-.1 .7-.1 .7 0 .7 0 .8 0 .7 0 .7 0 .7 .1 .7-.1 .8-.1 .7 0 .7 0 .7 0 .7 0 .8 0 .7 0 .7 0 .7 0 .7 0 .8 0 .7 0 .7 0 .7 0 .7 .1 .8 .1 .7 0 .7 .1 .7 .1 .7-.1 .8-.1 .7 .2 .7 0 .7 0 .7 0 .8 0 .7 0 .7 0 .7 0 .7 .1 .8 0 .7-.1 .7 0 .7 0 .7-.1 .8 .1 .7-.1 .7 0 .7 .1 .7 0 .8-.2 .7-.1 .7 0 .7-.1 0 3.9-.7 0-.7 .1-.7 0-.8 0-.7 .1-.7-.1-.7 0-.7 0-.8 .1-.7-.3-.7 .2-.7 .1-.7-.2-.8-.1-.7 .1-.7 0-.7-.2-.7 .2-.8 0-.7 0-.7 0-.7 .1-.7 .1-.8 0-.7-.1-.7 0-.7 0-.7-.1-.8 .1-.7 0-.7 0-.7-.1-.7 .1-.8 .2-.7 .1-.7 .1-.7-.1-.7 0-.8-.1-.7-.1-.7-.1-.7 .1-.7-.1-.8-.1-.7 .1-.7 .1-.7 0-.7 0-.8 .2-.7-.1-.7-.1-.7 0-.7 0-.8-.1-.7 .1-.7-.2-.7 0-.7 0-.8 0-.7-.1-.7 .1-.7 0-.7 0-.8 0-.7 .1-.7 .1-.7-.1-.7 .1-.8 .1-.7 .1-.7 0-.7 0-.7 0-.8-.1-.7 0-.7-.1-.7 0-.7-.1-.8 0-.7-.2-.7 .1-.7 .1-.7 0-.8 0-.7 .2-.7-.2-.7 0-.7-.2-.8 0-.7 0-.7 0-.7 .1-.7 .1-.8 .1-.7 0-.7 0-.7 0-.7-.2-.8 .1-.7 0-.7 0-.7-.1-.7 .2-.8-.2-.7 0-.7 0-.7 .1-.7-.2-.8 .1-.7-.1-.7 .2-.7-.2-.7 0-.8 0-.7 .1-.7-.2-.7 .1-.7 0-.8 0-.7-.1-.7 .1-.7 .1-.7 0-.8-.1-.7 .1-.7 .1-.7-.2-.7 .1-.8 .2-.7 0-.7 0-.7 .1-.7-.1-.8-.2-.7 0-.7-.1-.7 .1-.7 .2-.8 0-.7 0-.7-.1-.7-.1-.7-.1-.8 0-.7-.1-.7 .2-.7 0-.7-.1-.8 .2-.7 .1-.7 0-.7 0-.7 .2-.8 0-.7-.1-.7 .1-.7 0-.7-.1-.8-.2-.7-.1-.7-.1-.7 .1-.7 0-.8 0-.7 .1-.7 .1-.7-.1-.7 .1-.8 0-.7 .1-.7-.1-.7 0-.7 .1-.8-.1-.7-.1-.7-.2-.7 .1-.7 0-.8 .1-.7 0-.7 .1-.7 0-.7 .1-.8 0-.7 0-.7-.1-.7-.1-.7 0-.8-.1-.7 0-.7 0-.7 .1-.7 0-.8 0-.7 .2-.7-.1-.7 .1-.7 .1-.8 .1-.7-.1-.7 0-.7 0-.7-.2-.8 0-.7 .1-.7-.3-.7 0-.7 0-.8-.1-.7 0-.7 .2-.7 .1-.7 .1-.8 .1-.7-.1-.7 0-.7-.1-.7 0-.8 0-.7 0-.7 .1-.7-.1-.7 0-.8-.1-.7-.1-.7 0-.7 .1-.7 0-.8 .1-.7 .2-.7-.2-.7-.1-.7 0-.8-.1-.7 .1-.7 0-.7 0-.7-.1-.8 0-.7 0-.7 .1-.7 .1-.7 .2-.8-.2-.7 .1-.7-.1-.7-.2-.7-.1-.8 .2-.7-.1-.7 .1-.7 .1-.7 0-.8 0-.7 0-.7 .1-.7-.1-.7-.1-.8 0-.7-.1-.7-.2-.7 0-.7 .1-.8 0-.7 .2-.7 0-.7 0-.7 .1-.8-.1-.7 0-.7 0-.7 .3-.7-.1-.8-.1-.7 0-.7 .1-.7-.2-.7 .1-.8 0-.7 .1-.7-.1-.7-.1-.7 0-.8 0-.7-.1-.7-.1-.7 .1-.7 0-.8 0-.7 0-.7 .2-.7-.1-.7 .1-.8 0-.7-.1-.7-.1-.7 .1z" clip-path="url(#p80e1c239cc)" style="fill: #ffa500"/>
</g>
<g id="patch_117">
<path d="M 563.76 400.18 567.36 400.18 567.36 402.48 563.76 402.48 z" clip-path="url(#p80e1c239cc)" style="fill: #ffa500"/>
</g>
<g id="patch_118">
<path d="M 403.85 392.4 403.27 396 402.98 401.33 403.27 406.8 403.92 410.4 404.57 412.92 405.43 412.92 406.08 410.4 406.73 406.8 407.02 401.33 406.73 396 406.15 392.4 405.43 389.52 404.57 389.52 z" clip-path="url(#p80e1c239cc)" style="fill: #ffa500"/>
</g>
<g id="patch_119">
<path d="M 432.27 401.33 432.86 397.27 433.44 394.56 434.02 397.27 434.61 401.33 z" clip-path="url(#p80e1c239cc)" style="fill: #ffa500; opacity: 0.2"/>
</g>
<g id="patch_120">
<path d="M 432.14 401.33 432.79 399.64 433.22 398.52 433.66 398.52 434.09 399.64 434.74 401.33 z" clip-path="url(#p80e1c239cc)" style="fill: #ffa500"/>
</g>
<g id="patch_121">
<path d="M 432.27 401.33 432.86 405.04 433.44 407.52 434.02 405.04 434.61 401.33 z" clip-path="url(#p80e1c239cc)" style="fill: #ffa500; opacity: 0.2"/>
</g>
<g id="patch_122">
<path d="M 432.14 401.33 432.79 402.88 433.22 403.92 433.66 403.92 434.09 402.88 434.74 401.33 z" clip-path="url(#p80e1c239cc)" style="fill: #ffa500"/>
</g>
<g id="patch_123">
<path d="M 438.03 401.33 438.62 396.4 439.2 393.12 439.78 396.4 440.37 401.33 z" clip-path="url(#p80e1c239cc)" style="fill: #ffa500; opacity: 0.2"/>
</g>
<g id="patch_124">
<path d="M 437.9 401.33 438.55 399.64 438.98 398.52 439.42 398.52 439.85 399.64 440.5 401.33 z" clip-path="url(#p80e1c239cc)" style="fill: #ffa500"/>
</g>
<g id="patch_125">
<path d="M 438.03 401.33 438.62 404.18 439.2 406.08 439.78 404.18 440.37 401.33 z" clip-path="url(#p80e1c239cc)" style="fill: #ffa500; opacity: 0.2"/>
</g>
<g id="patch_126">
<path d="M 437.9 401.33 438.55 402.88 438.98 403.92 439.42 403.92 439.85 402.88 440.5 401.33 z" clip-path="url(#p80e1c239cc)" style="fill: #ffa500"/>
</g>
<g id="patch_127">
<path d="M 442.35 401.33 442.94 397.7 443.52 395.28 444.1 397.7 444.69 401.33 z" clip-path="url(#p80e1c239cc)" style="fill: #ffa500; opacity: 0.2"/>
</g>
<g id="patch_128">
<path d="M 442.22 401.33 442.87 399.64 443.3 398.52 443.74 398.52 444.17 399.64 444.82 401.33 z" clip-path="url(#p80e1c239cc)" style="fill: #ffa500"/>
</g>
<g id="patch_129">
<path d="M 442.35 401.33 442.94 405.48 443.52 408.24 444.1 405.48 444.69 401.33 z" clip-path="url(#p80e1c239cc)" style="fill: #ffa500; opacity: 0.2"/>
</g>
<g id="patch_130">
<path d="M 442.22 401.33 442.87 402.88 443.3 403.92 443.74 403.92 444.17 402.88 444.82 401.33 z" clip-path="url(#p80e1c239cc)" style="fill: #ffa500"/>
</g>
<g id="patch_131">
<path d="M 461.07 401.33 461.66 397.27 462.24 394.56 462.82 397.27 463.41 401.33 z" clip-path="url(#p80e1c239cc)" style="fill: #ffa500; opacity: 0.2"/>
</g>
<g id="patch_132">
<path d="M 460.94 401.33 461.59 399.64 462.02 398.52 462.46 398.52 462.89 399.64 463.54 401.33 z" clip-path="url(#p80e1c239cc)" style="fill: #ffa500"/>
</g>
<g id="patch_133">
<path d="M 461.07 401.33 461.66 404.18 462.24 406.08 462.82 404.18 463.41 401.33 z" clip-path="url(#p80e1c239cc)" style="fill: #ffa500; opacity: 0.2"/>
</g>
<g id="patch_134">
<path d="M 460.94 401.33 461.59 402.88 462.02 403.92 462.46 403.92 462.89 402.88 463.54 401.33 z" clip-path="url(#p80e1c239cc)" style="fill: #ffa500"/>
</g>
<g id="patch_135">
<path d="M 470.07 401.33 470.66 398.56 471.24 396.72 471.82 398.56 472.41 401.33 z" clip-path="url(#p80e1c239cc)" style="fill: #ffa500; opacity: 0.2"/>
</g>
<g id="patch_136">
<path d="M 469.94 401.33 470.59 399.64 471.02 398.52 471.46 398.52 471.89 399.64 472.54 401.33 z" clip-path="url(#p80e1c239cc)" style="fill: #ffa500"/>
</g>
<g id="patch_137">
<path d="M 470.07 401.33 470.66 405.04 471.24 407.52 471.82 405.04 472.41 401.33 z" clip-path="url(#p80e1c239cc)" style="fill: #ffa500; opacity: 0.2"/>
</g>
<g id="patch_138">
<path d="M 469.94 401.33 470.59 402.88 471.02 403.92 471.46 403.92 471.89 402.88 472.54 401.33 z" clip-path="url(#p80e1c239cc)" style="fill: #ffa500"/>
</g>
<g id="patch_139">
<path d="M 518.17 401.33 518.75 397.7 519.34 395.28 519.92 397.7 520.5 401.33 z" clip-path="url(#p80e1c239cc)" style="fill: #ffa500; opacity: 0.2"/>
</g>
<g id="patch_140">
<path d="M 518.04 401.33 518.69 399.64 519.12 398.52 519.55 398.52 519.98 399.64 520.63 401.33 z" clip-path="url(#p80e1c239cc)" style="fill: #ffa500"/>
</g>
<g id="patch_141">
<path d="M 518.17 401.33 518.75 405.04 519.34 407.52 519.92 405.04 520.5 401.33 z" clip-path="url(#p80e1c239cc)" style="fill: #ffa500; opacity: 0.2"/>
</g>
<g id="patch_142">
<path d="M 518.04 401.33 518.69 402.88 519.12 403.92 519.55 403.92 519.98 402.88 520.63 401.33 z" clip-path="url(#p80e1c239cc)" style="fill: #ffa500"/>
</g>
<g id="patch_143">
<path d="M 543.37 401.33 543.95 398.56 544.54 396.72 545.12 398.56 545.7 401.33 z" clip-path="url(#p80e1c239cc)" style="fill: #ffa500; opacity: 0.2"/>
</g>
<g id="patch_144">
<path d="M 543.24 401.33 543.89 399.64 544.32 398.52 544.75 398.52 545.18 399.64 545.83 401.33 z" clip-path="url(#p80e1c239cc)" style="fill: #ffa500"/>
</g>
<g id="patch_145">
<path d="M 543.37 401.33 543.95 403.75 544.54 405.36 545.12 403.75 545.7 401.33 z" clip-path="url(#p80e1c239cc)" style="fill: #ffa500; opacity: 0.2"/>
</g>
<g id="patch_146">
<path d="M 543.24 401.33 543.89 402.88 544.32 403.92 544.75 403.92 545.18 402.88 545.83 401.33 z" clip-path="url(#p80e1c239cc)" style="fill: #ffa500"/>
</g>
<g id="text_78">
<text style="font-size: 12px; font-family: 'DejaVu Sans', 'Liberation Sans', sans-serif; text-anchor: middle" x="458.64" y="369.85">NoRP 9.4GHz Stokes-V</text>
</g>
</g>
<g id="axes_9">
<g id="patch_147">
<path d="M 57.96 566.77 294.84 566.77 294.84 492.61 57.96 492.61 z" style="fill: #ffffff"/>
</g>
<g id="matplotlib.axis_17">
<g id="xtick_49">
<g id="line2d_94">
<g>
<use href="#m1504cfccaf" x="87.45" y="566.77" class="u0"/>
</g>
</g>
<g id="text_79">
<text style="font-size: 10px; font-family: 'DejaVu Sans', 'Liberation Sans', sans-serif; text-anchor: middle" x="87.45" y="581.37">22:00</text>
</g>
</g>
<g id="xtick_50">
<g id="line2d_95">
<g>
<use href="#m1504cfccaf" x="124.9" y="566.77" class="u0"/>
</g>
</g>
<g id="text_80">
<text style="font-size: 10px; font-family: 'DejaVu Sans', 'Liberation Sans', sans-serif; text-anchor: middle" x="124.9" y="581.37">00:00</text>
</g>
</g>
<g id="xtick_51">
<g id="line2d_96">
<g>
<use href="#m1504cfccaf" x="162.36" y="566.77" class="u0"/>
</g>
</g>
<g id="text_81">
<text style="font-size: 10px; font-family: 'DejaVu Sans', 'Liberation Sans', sans-serif; text-anchor: middle" x="162.36" y="581.37">02:00</text>
</g>
</g>
<g id="xtick_52">
<g id="line2d_97">
<g>
<use href="#m1504cfccaf" x="199.81" y="566.77" class="u0"/>
</g>
</g>
<g id="text_82">
<text style="font-size: 10px; font-family: 'DejaVu Sans', 'Liberation Sans', sans-serif; text-anchor: middle" x="199.81" y="581.37">04:00</text>
</g>
</g>
<g id="xtick_53">
<g id="line2d_98">
<g>
<use href="#m1504cfccaf" x="237.26" y="566.77" class="u0"/>
</g>
</g>
<g id="text_83">
<text style="font-size: 10px; font-family: 'DejaVu Sans', 'Liberation Sans', sans-serif; text-anchor: middle" x="237.26" y="581.37">06:00</text>
</g>
</g>
<g id="xtick_54">
<g id="line2d_99">
<g>
<use href="#m1504cfccaf" x="274.71" y="566.77" class="u0"/>
</g>
</g>
<g id="text_84">
<text style="font-size: 10px; font-family: 'DejaVu Sans', 'Liberation Sans', sans-serif; text-anchor: middle" x="274.71" y="581.37">08:00</text>
</g>
</g>
</g>
<g id="matplotlib.axis_18">
<g id="ytick_19">
<g id="line2d_100">
<g>
<use href="#m5d545ce8f8" x="57.96" y="566.77" class="u0"/>
</g>
</g>
<g id="text_85">
<text style="font-size: 10px; font-family: 'DejaVu Sans', 'Liberation Sans', sans-serif; text-anchor: end" x="50.96" y="570.57">0</text>
</g>
</g>
<g id="ytick_20">
<g id="line2d_101">
<g>
<use href="#m5d545ce8f8" x="57.96" y="517.96" class="u0"/>
</g>
</g>
<g id="text_86">
<text style="font-size: 10px; font-family: 'DejaVu Sans', 'Liberation Sans', sans-serif; text-anchor: end" x="50.96" y="521.76">500</text>
</g>
</g>
<g id="text_87">
<text style="font-size: 10px; font-family: 'DejaVu Sans', 'Liberation Sans', sans-serif; text-anchor: middle" x="24.35" y="530.05" transform="rotate(-90 24.353 530.050)">Flux [SFU]</text>
</g>
</g>
<g id="patch_148">
<path d="M70.1 526.2l.7-26.4 .7-1.2 .7 .8 .7-.3 .8 .1 .7-.3 .7 .1 .7-.2 .7 .5 .8 .3 .7 0 .7-.3 .7 0 .7 .2 .8-.3 .7 .2 .7-.5 .7 .5 .7-.7 .8 .4 .7 .1 .7-.1 .7-1.1 .7 .6 .8 .3 .7-.1 .7-.1 .7 .1 .7-.2 .8 .6 .7-.2 .7 0 .7 0 .7 .4 .8-.8 .7-.1 .7 .3 .7-.6 .7 .2 .8 .3 .7 0 .7-.5 .7 0 .7-.1 .8 .2 .7 .5 .7-.4 .7 .1 .7 0 .8 .3 .7 0 .7 .4 .7-.6 .7 .3 .8-.6 .7-.4 .7 1 .7-.6 .7 .1 .8-.5 .7-.1 .7 .1 .7 .7 .7-.6 .8 .5 .7-.2 .7-.2 .7-.2 .7-.6 .8 .4 .7-.2 .7 .1 .7 0 .7 .6 .8 .1 .7 0 .7 .2 .7-.2 .7-.2 .8-.3 .7 .4 .7 .4 .7-.8 .7 1.2 .8-.4 .7 0 .7-.6 .7 .6 .7-.6 .8 .2 .7-.1 .7-.3 .7 0 .7 .8 .8-.6 .7 .6 .7-.9 .7 1 .7-.2 .8 .1 .7-.2 .7 .8 .7 0 .7-.4 .8-.1 .7 .7 .7-.1 .7 .4 .7 .4 .8 .1 .7 .7 .7-.5 .7-.4 .7-.3 .8 .2 .7-.1 .7 .3 .7 .2 .7-.6 .8 .2 .7 .1 .7-.3 .7-.8 .7 .7 .8-.6 .7 .6 .7-.4 .7 .8 .7 .1 .8-.1 .7 .2 .7 .2 .7 .3 .7-.1 .8 .1 .7 .3 .7-.3 .7 .1 .7-.1 .8-.2 .7 .2 .7-.1 .7-.4 .7 .3 .8 0 .7-.1 .7 .4 .7-.2 .7 .4 .8-.2 .7 0 .7 .2 .7-.2 .7 .3 .8 .3 .7 .2 .7-.9 .7 .1 .7 .1 .8-.2 .7 .6 .7 .6 .7 .4 .7-.4 .8-.4 .7 .5 .7-.1 .7 0 .7-.5 .8 .6 .7 .5 .7-.3 .7-1 .7 .4 .8 0 .7-.5 .7 .2 .7 0 .7 .1 .8-.5 .7 .9 .7-.1 .7-.1 .7-.3 .8-.5 .7 .6 .7 0 .7 .2 .7 .2 .8-.3 .7 .5 .7-.3 .7 0 .7-.2 .8-.1 .7-.2 .7 .2 .7 .2 .7 .1 .8 0 .7 .2 .7-.1 .7-.3 .7-.3 .8 .9 .7 .7 .7-.7 .7 .5 .7-.4 .8-.7 .7 .1 .7-.3 .7-.5 .7-.1 .8 .9 .7-.4 .7 .6 .7 .1 .7-.6 .8 0 .7 .3 .7 .4 .7-.7 .7-.3 .8-.4 .7 .2 .7 .6 .7-.1 .7 .2 .8 .8 .7 .2 .7 0 .7-.6 .7-.1 .8 .2 .7-.5 .7-.2 .7 .1 .7 .8 .8-.5 .7-.4 .7 .5 .7 .1 .7-.5 .8 .3 .7-.3 .7 .4 .7-.4 .7 1.3 .8-.2 .7-.4 .7 1.2 .7-.2 .7-.5 .8-.3 .7-.2 .7-.4 .7-.3 .7-.8 .8 1 .7-.9 .7 .7 .7-1.2 .7 .9 .8-1.1 .7 1.7 .7-1.2 .7 .9 .7-.4 .8-.6 .7 .2 .7-.2 .7 0 .7-.1 .8 .4 .7-.1 .7 .2 .7 .2 .7 .5 .8 0 .7 0 .7-.3 .7 0 .7-.3 .8 .3 .7 .4 .7-.1 .7-.6 .7 .7 .8-.4 .7 .2 .7-.7 .7 .4 .7-.2 0 10.3-.7-.3-.7-.4-.7 .8-.7-.3-.8 .4-.7 .3-.7-.1-.7-.2-.7 .4-.8-.8-.7-.4-.7 .2-.7 .4-.7-.7-.8-.2-.7 .9-.7-.1-.7-1-.7 .6-.8 0-.7 .4-.7-.8-.7 .1-.7 .2-.8 .9-.7 .2-.7 .5-.7-.5-.7-.5-.8-.2-.7 .2-.7-.4-.7 1.1-.7-.1-.8-.5-.7-.4-.7 .2-.7 0-.7 0-.8 .2-.7 .3-.7-.1-.7-.1-.7 .4-.8 .6-.7-1.2-.7 .4-.7 .8-.7-.8-.8 .1-.7-.1-.7 .1-.7-.3-.7-.2-.8 .5-.7 0-.7 0-.7 0-.7-.1-.8 0-.7 0-.7 0-.7-.4-.7-.1-.8 .5-.7-.7-.7 .5-.7-.4-.7 .4-.8 .3-.7 .1-.7-.5-.7 .3-.7-.6-.8 .1-.7-.5-.7 .3-.7-.2-.7 .2-.8-.2-.7 .4-.7 .4-.7 .1-.7-.6-.8 .6-.7 .1-.7 .5-.7-.8-.7 .6-.8-1-.7 0-.7 0-.7 .2-.7 .4-.8-.4-.7 0-.7 0-.7-.1-.7-.3-.8-.1-.7-.5-.7 1.1-.7-.8-.7 .4-.8 .1-.7 .6-.7-.5-.7 .3-.7-.5-.8 .3-.7-.5-.7 0-.7 .2-.7-.2-.8-.4-.7 .2-.7-.2-.7 0-.7-.6-.8 .4-.7-.2-.7 1-.7 0-.7-.1-.8 .4-.7-.5-.7 .1-.7-.3-.7-.4-.8 .4-.7-.7-.7-.1-.7-.3-.7 .2-.8-.4-.7 .6-.7-1-.7 .5-.7 .2-.8-.4-.7 .5-.7 .3-.7 0-.7 0-.8 0-.7-.2-.7 .1-.7 .6-.7-.3-.8 .1-.7 .1-.7-.1-.7-.4-.7 .1-.8-.9-.7 0-.7-.2-.7 .2-.7-.8-.8 .4-.7 .2-.7 .3-.7 .4-.7 .7-.8-.5-.7-.5-.7 .3-.7-.7-.7 .2-.8 .8-.7-.6-.7-.2-.7 .6-.7-.5-.8 .2-.7-.4-.7 .3-.7-.8-.7 .9-.8-.6-.7 .2-.7 .1-.7-.6-.7 .1-.8-.1-.7-.7-.7 .6-.7 .3-.7 .7-.8-.2-.7-.1-.7-.6-.7 .2-.7 0-.8-.2-.7 .1-.7 .1-.7 .3-.7-.1-.8 0-.7 .4-.7-.2-.7 .2-.7-.4-.8-.2-.7 .5-.7-.3-.7-.1-.7 .1-.8-.1-.7 0-.7-.4-.7 .2-.7 .2-.8-.9-.7-.2-.7 .4-.7 .5-.7 .4-.8 0-.7 .3-.7 .5-.7-.6-.7-.3-.8 .6-.7-.2-.7 .3-.7 .1-.7-.3-.8-.2-.7-.9-.7-.1-.7 .4-.7 0-.8-.3-.7 1.6-.7-.5-.7-.2-.7-1.1-.8 .3-.7-.1-.7 .5-.7 0-.7 .4-.8 .3-.7-.2-.7 .1-.7 .6-.7 0-.8-1-.7-.1-.7 .3-.7-.8-.7 0-.8 0-.7 .2-.7-.4-.7 1.1-.7 .1-.8 .1-.7 .7-.7-1.1-.7 .8-.7-.6-.8 .6-.7-.2-.7 0-.7-.3-.7-.5-.8-.1-.7-.4-.7 .9-.7 0-.7-.4-.8 .7-.7-.4-.7-.1-.7 .3-.7 1-.8-.9-.7 0-.7 .9-.7-.3-.7-.2-.8 1.1-.7-.7-.7 .8-.7-.4-.7 0-.8-.4-.7 .2-.7 .1-.7-.2-.7 18.6z" clip-path="url(#pf8c37d10ed)" style="fill: #0000ff; opacity: 0.2"/>
</g>
<g id="line2d_102">
<g clip-path="url(#pf8c37d10ed)">
<use href="#mce796437ce" x="281.32" y="509.71" class="u1"/>
<use href="#mce796437ce" x="281.28" y="512.87" class="u1"/>
<use href="#mce796437ce" x="281.5" y="516.02" class="u1"/>
<use href="#mce796437ce" x="281.7" y="519.18" class="u1"/>
<use href="#mce796437ce" x="281.37" y="522.34" class="u1"/>
<use href="#mce796437ce" x="281.77" y="525.5" class="u1"/>
</g>
</g>
<g id="patch_149">
<path d="M 57.96 566.77 57.96 492.61" style="fill: none; stroke: #000000; stroke-width: 0.8; stroke-linejoin: miter; stroke-linecap: square"/>
</g>
<g id="patch_150">
<path d="M 294.84 566.77 294.84 492.61" style="fill: none; stroke: #000000; stroke-width: 0.8; stroke-linejoin: miter; stroke-linecap: square"/>
</g>
<g id="patch_151">
<path d="M 57.96 566.77 294.84 566.77" style="fill: none; stroke: #000000; stroke-width: 0.8; stroke-linejoin: miter; stroke-linecap: square"/>
</g>
<g id="patch_152">
<path d="M 57.96 492.61 294.84 492.61" style="fill: none; stroke: #000000; stroke-width: 0.8; stroke-linejoin: miter; stroke-linecap: square"/>
</g>
<g id="patch_153">
<path d="M70.1 527.4l.7-26.3 .7-.8 .7 0 .7 0 .8 0 .7-.6 .7 .5 .7-.2 .7 .1 .8 .3 .7 .3 .7-.2 .7 .3 .7-.1 .8-.4 .7 .1 .7 0 .7-.1 .7-.1 .8 .1 .7 0 .7-.4 .7-.3 .7 .1 .8-.1 .7 .1 .7-.2 .7 .3 .7-.4 .8 .7 .7-.3 .7 .1 .7 .2 .7 .3 .8-1 .7 .2 .7 .4 .7-.5 .7-.1 .8 .3 .7-.3 .7-.2 .7 .1 .7-.4 .8 .5 .7 .1 .7-.1 .7 .2 .7 .3 .8-.2 .7 0 .7 .2 .7-.2 .7 .1 .8-.4 .7 0 .7 .3 .7-.2 .7-.1 .8-.1 .7 .1 .7-.3 .7 .4 .7-.2 .8 .1 .7-.2 .7-.2 .7-.1 .7-.2 .8 0 .7 0 .7-.2 .7-.1 .7 .8 .8-.1 .7 .1 .7 .3 .7-.1 .7-.5 .8 .1 .7 .2 .7 .2 .7 .1 .7 .4 .8 .1 .7-.4 .7 0 .7 0 .7-.5 .8 .3 .7-.2 .7 .1 .7-.1 .7 .3 .8-.2 .7 .3 .7-.5 .7 .3 .7 0 .8-.1 .7 .2 .7 .6 .7 0 .7 0 .8 0 .7 .2 .7-.1 .7 .7 .7 .2 .8 .3 .7 .3 .7-.3 .7-.3 .7-.2 .8-.2 .7 0 .7 .3 .7 .1 .7-.2 .8 .2 .7-.2 .7-.1 .7-.6 .7 .5 .8 0 .7 0 .7-.2 .7 .2 .7 .2 .8-.1 .7 .2 .7 .4 .7 .2 .7-.2 .8 .2 .7 .2 .7 .1 .7-.2 .7 0 .8-.2 .7 0 .7-.1 .7 .1 .7 0 .8 .3 .7-.1 .7-.2 .7 .3 .7 .3 .8-.2 .7 .2 .7 .1 .7-.1 .7 0 .8 .2 .7 0 .7 .2 .7-.3 .7-.2 .8 0 .7 .2 .7 .4 .7 .5 .7 .1 .8-.3 .7 0 .7-.2 .7 .2 .7 0 .8 .3 .7 .1 .7-.3 .7-.1 .7 .1 .8-.3 .7-.5 .7 .2 .7-.1 .7 0 .8 .3 .7 0 .7 0 .7 .3 .7-.2 .8-.2 .7-.1 .7 .2 .7 .1 .7-.2 .8 .3 .7 .4 .7-.3 .7-.4 .7 0 .8-.3 .7-.1 .7 .3 .7 .1 .7 .4 .8 .2 .7-.3 .7 .2 .7 .2 .7-.3 .8 .3 .7 .4 .7-.3 .7 .2 .7-.4 .8-.6 .7 0 .7 0 .7-.6 .7 .8 .8 .4 .7-.4 .7-.1 .7 .4 .7 0 .8-.5 .7 .3 .7 0 .7-.5 .7-.4 .8 .1 .7-.2 .7 .4 .7 .5 .7 .1 .8 .5 .7 .1 .7-.1 .7-.4 .7-.2 .8 0 .7-.2 .7-.3 .7 .5 .7 .4 .8-.3 .7-.1 .7 .2 .7-.2 .7-.4 .8 .2 .7 .3 .7-.1 .7 .5 .7 .4 .8 0 .7 .1 .7 .6 .7-.4 .7-.4 .8-.1 .7-.2 .7-.8 .7-.1 .7 .1 .8 0 .7-.2 .7 .3 .7-.4 .7 .1 .8 0 .7 .2 .7-.7 .7 .7 .7-.5 .8-.2 .7 0 .7 .4 .7-.4 .7-.2 .8 .1 .7-.1 .7 .3 .7 0 .7 .5 .8 .1 .7-.2 .7-.3 .7 .5 .7-.3 .8 .2 .7 .1 .7 .4 .7-.5 .7 .2 .8-.2 .7-.1 .7-.2 .7-.1 .7-.1 0 7.8-.7-.2-.7 .4-.7 .2-.7 .1-.8 .4-.7 0-.7-.1-.7 .3-.7-.1-.8-.4-.7-.4-.7 .1-.7 0-.7-.4-.8 0-.7 .1-.7-.1-.7-.2-.7 .3-.8 .1-.7 .1-.7-.4-.7-.2-.7 .6-.8 .4-.7 .2-.7 .2-.7-.1-.7-.4-.8-.2-.7 0-.7 0-.7 .7-.7-.1-.8 0-.7-.3-.7 0-.7 0-.7-.1-.8 .1-.7 .6-.7-.3-.7-.3-.7 .3-.8 0-.7-.2-.7 .5-.7 .4-.7-.5-.8-.1-.7-.1-.7-.2-.7-.2-.7 .2-.8 0-.7 .2-.7 0-.7 .4-.7-.2-.8 0-.7 .1-.7 0-.7-.5-.7 .1-.8 .1-.7-.3-.7 .2-.7-.3-.7 .5-.8-.3-.7 .1-.7-.5-.7 .4-.7-.4-.8 0-.7-.3-.7 .3-.7-.2-.7-.1-.8 .2-.7 .3-.7-.1-.7 .2-.7 0-.8 .1-.7 .3-.7 0-.7 0-.7-.2-.8-.4-.7-.1-.7 .2-.7 .1-.7 .2-.8-.1-.7 .2-.7-.3-.7-.3-.7 0-.8 0-.7-.6-.7 .1-.7 .2-.7 .2-.8 .4-.7 .1-.7 0-.7 .1-.7-.5-.8 0-.7-.1-.7 0-.7-.4-.7 .4-.8-.3-.7 0-.7-.1-.7-.1-.7-.3-.8-.1-.7 .2-.7 .4-.7 .1-.7 .2-.8 .3-.7-.3-.7-.2-.7 0-.7-.3-.8-.1-.7-.4-.7 .1-.7-.6-.7-.2-.8 .1-.7 .4-.7-.6-.7 .2-.7 .3-.8-.3-.7 .3-.7 .4-.7 .2-.7-.1-.8 0-.7-.4-.7 .2-.7 0-.7 .2-.8 .3-.7 .1-.7-.4-.7-.3-.7-.4-.8-.2-.7 0-.7-.5-.7 .2-.7-.3-.8 0-.7 .4-.7 .4-.7 .2-.7 .5-.8-.4-.7-.4-.7 .1-.7-.4-.7 .3-.8 0-.7 .2-.7-.3-.7 .5-.7-.3-.8 .2-.7-.5-.7 .1-.7-.5-.7-.1-.8 0-.7 .6-.7-.3-.7-.2-.7 .1-.8-.6-.7-.3-.7 .5-.7 .5-.7 0-.8 .4-.7-.2-.7-.4-.7-.1-.7 0-.8-.1-.7 .1-.7 .1-.7 0-.7 .3-.8-.1-.7 .3-.7-.1-.7 0-.7-.4-.8 .2-.7 0-.7 .1-.7-.1-.7-.1-.8-.1-.7-.1-.7 0-.7-.1-.7-.4-.8-.2-.7 0-.7 .2-.7 0-.7 .6-.8 .5-.7 .1-.7 0-.7 0-.7-.2-.8 .1-.7 0-.7 .1-.7-.2-.7-.1-.8 .1-.7-.6-.7-.1-.7 .5-.7-.1-.8-.2-.7 .6-.7-.5-.7-.1-.7-.3-.8 .2-.7-.2-.7 .6-.7-.2-.7 .4-.8 .4-.7-.1-.7-.4-.7 .6-.7-.2-.8-.5-.7-.1-.7 .4-.7-.7-.7 .2-.8-.5-.7 .2-.7 0-.7 .6-.7 .1-.8 .2-.7 .1-.7-.1-.7 .1-.7 .1-.8 .4-.7-.1-.7-.6-.7-.4-.7 .1-.8-.5-.7-.1-.7 1-.7 0-.7-.4-.8 .5-.7 0-.7-.2-.7 .2-.7 .3-.8 .1-.7-.1-.7 .3-.7 0-.7-.1-.8 .2-.7 .4-.7 .1-.7-.1-.7 .2-.8-.2-.7-.3-.7-.2-.7 .6-.7 18.6z" clip-path="url(#pf8c37d10ed)" style="fill: #0000ff"/>
</g>
<g id="patch_154">
<path d="M 69.62 503.96 71.42 503.96 71.42 527.65 69.62 527.65 z" clip-path="url(#pf8c37d10ed)" style="fill: #0000ff"/>
</g>
<g id="patch_155">
<path d="M 71.5 527.29 71.36 527.79 70.99 528.16 70.49 528.3 69.98 528.16 69.62 527.79 69.48 527.29 69.62 526.79 69.98 526.42 70.49 526.29 70.99 526.42 71.36 526.79 z" clip-path="url(#pf8c37d10ed)" style="fill: #0000ff"/>
</g>
<g id="patch_156">
<path d="M 282.38 505.97 282.23 507.95 281.81 509.39 281.23 509.92 280.66 509.39 280.23 507.95 280.08 505.97 280.23 504 280.66 502.56 281.23 502.03 281.81 502.56 282.23 504 z" clip-path="url(#pf8c37d10ed)" style="fill: #0000ff"/>
</g>
<g id="patch_157">
<path d="M 67.97 565.41 71.64 565.41 71.64 567.49 67.97 567.49 z" clip-path="url(#pf8c37d10ed)" style="fill: #0000ff"/>
</g>
<g id="patch_158">
<path d="M 75.38 565.41 77.54 565.41 77.54 567.49 75.38 567.49 z" clip-path="url(#pf8c37d10ed)" style="fill: #0000ff"/>
</g>
<g id="patch_159">
<path d="M 104.98 565.41 107.21 565.41 107.21 567.49 104.98 567.49 z" clip-path="url(#pf8c37d10ed)" style="fill: #0000ff"/>
</g>
<g id="patch_160">
<path d="M 142.7 565.41 144.94 565.41 144.94 567.49 142.7 567.49 z" clip-path="url(#pf8c37d10ed)" style="fill: #0000ff"/>
</g>
<g id="patch_161">
<path d="M 179.93 565.41 181.94 565.41 181.94 567.49 179.93 567.49 z" clip-path="url(#pf8c37d10ed)" style="fill: #0000ff"/>
</g>
<g id="patch_162">
<path d="M 217.22 565.41 219.38 565.41 219.38 567.49 217.22 567.49 z" clip-path="url(#pf8c37d10ed)" style="fill: #0000ff"/>
</g>
<g id="patch_163">
<path d="M 254.88 565.41 257.04 565.41 257.04 567.49 254.88 567.49 z" clip-path="url(#pf8c37d10ed)" style="fill: #0000ff"/>
</g>
<g id="patch_164">
<path d="M 274.9 565.41 277.85 565.41 277.85 567.49 274.9 567.49 z" clip-path="url(#pf8c37d10ed)" style="fill: #0000ff"/>
</g>
<g id="patch_165">
<path d="M 280.08 565.41 285.26 565.41 285.26 567.49 280.08 567.49 z" clip-path="url(#pf8c37d10ed)" style="fill: #0000ff"/>
</g>
<g id="text_88">
<text style="font-size: 12px; font-family: 'DejaVu Sans', 'Liberation Sans', sans-serif; text-anchor: middle" x="176.4" y="486.61">NoRP 17GHz Stokes-I</text>
</g>
</g>
<g id="axes_10">
<g id="patch_166">
<path d="M 340.2 566.77 577.08 566.77 577.08 492.61 340.2 492.61 z" style="fill: #ffffff"/>
</g>
<g id="matplotlib.axis_19">
<g id="xtick_55">
<g id="line2d_103">
<g>
<use href="#m1504cfccaf" x="369.69" y="566.77" class="u0"/>
</g>
</g>
<g id="text_89">
<text style="font-size: 10px; font-family: 'DejaVu Sans', 'Liberation Sans', sans-serif; text-anchor: middle" x="369.69" y="581.37">22:00</text>
</g>
</g>
<g id="xtick_56">
<g id="line2d_104">
<g>
<use href="#m1504cfccaf" x="407.14" y="566.77" class="u0"/>
</g>
</g>
<g id="text_90">
<text style="font-size: 10px; font-family: 'DejaVu Sans', 'Liberation Sans', sans-serif; text-anchor: middle" x="407.14" y="581.37">00:00</text>
</g>
</g>
<g id="xtick_57">
<g id="line2d_105">
<g>
<use href="#m1504cfccaf" x="444.6" y="566.77" class="u0"/>
</g>
</g>
<g id="text_91">
<text style="font-size: 10px; font-family: 'DejaVu Sans', 'Liberation Sans', sans-serif; text-anchor: middle" x="444.6" y="581.37">02:00</text>
</g>
</g>
<g id="xtick_58">
<g id="line2d_106">
<g>
<use href="#m1504cfccaf" x="482.05" y="566.77" class="u0"/>
</g>
</g>
<g id="text_92">
<text style="font-size: 10px; font-family: 'DejaVu Sans', 'Liberation Sans', sans-serif; text-anchor: middle" x="482.05" y="581.37">04:00</text>
</g>
</g>
<g id="xtick_59">
<g id="line2d_107">
<g>
<use href="#m1504cfccaf" x="519.5" y="566.77" class="u0"/>
</g>
</g>
<g id="text_93">
<text style="font-size: 10px; font-family: 'DejaVu Sans', 'Liberation Sans', sans-serif; text-anchor: middle" x="519.5" y="581.37">06:00</text>
</g>
</g>
<g id="xtick_60">
<g id="line2d_108">
<g>
<use href="#m1504cfccaf" x="556.95" y="566.77" class="u0"/>
</g>
</g>
<g id="text_94">
<text style="font-size: 10px; font-family: 'DejaVu Sans', 'Liberation Sans', sans-serif; text-anchor: middle" x="556.95" y="581.37">08:00</text>
</g>
</g>
</g>
<g id="matplotlib.axis_20">
<g id="ytick_21">
<g id="line2d_109">
<g>
<use href="#m5d545ce8f8" x="340.2" y="551.16" class="u0"/>
</g>
</g>
<g id="text_95">
<text style="font-size: 10px; font-family: 'DejaVu Sans', 'Liberation Sans', sans-serif; text-anchor: end" x="333.2" y="554.96">0</text>
</g>
</g>
<g id="ytick_22">
<g id="line2d_110">
<g>
<use href="#m5d545ce8f8" x="340.2" y="523.08" class="u0"/>
</g>
</g>
<g id="text_96">
<text style="font-size: 10px; font-family: 'DejaVu Sans', 'Liberation Sans', sans-serif; text-anchor: end" x="333.2" y="526.88">25</text>
</g>
</g>
<g id="ytick_23">
<g id="line2d_111">
<g>
<use href="#m5d545ce8f8" x="340.2" y="495" class="u0"/>
</g>
</g>
<g id="text_97">
<text style="font-size: 10px; font-family: 'DejaVu Sans', 'Liberation Sans', sans-serif; text-anchor: end" x="333.2" y="498.8">50</text>
</g>
</g>
</g>
<g id="patch_167">
<path d="M352.7 495.4l.7 .4 .8-.6 .7 .6 .7 .3 .7-1 .7 .2 .8-.8 .7 1.2 .7 .2 .7 .3 .7-.3 .8-1 .7 .6 .7-.2 .7 1 .7-1.3 .8 1.3 .7-.9 .7 1.6 .7-1.1 .7 1 .8-.8 .7 .7 .7-.4 .7 .9 .7 0 .8 .4 .7 .3 .7-.9 .7 .4 .7-1 .8-.5 .7-.5 .7-.2 .7 2 .7-.6 .8 .2 .7-1 .7-.8 .7 .3 .7-.8 .8 2.1 .7 .7 .7 .6 .7-1.9 .7-.9 .8 .1 .7 1.5 .7-.3 .7-.9 .7-.5 .8-.4 .7 1.8 .7-.3 .7 .1 .7-1.1 .8-.3 .7 .1 .7-.1 .7 .5 .7 .1 .8 .9 .7 .6 .7-.7 .7-1.1 .7 .2 .8 .5 .7 .3 .7-.5 .7 .7 .7-.1 .8-.1 .7-.9 .7 .4 .7-.5 .7 1.6 .8-.2 .7 .4 .7-.6 .7 0 .7 .2 .8-.6 .7-.4 .7-.6 .7-.4 .7 1.2 .8 .2 .7 .1 .7-.9 .7 .8 .7 1.5 .8-.3 .7-.1 .7-1.2 .7 .4 .7 0 .8-.9 .7 .7 .7-.2 .7 .2 .7 .5 .8 .4 .7 1.3 .7-1.9 .7-.7 .7-1 .8 1.3 .7 1 .7-.9 .7-.4 .7-.9 .8 1.8 .7 0 .7-.7 .7-.8 .7-.6 .8 .3 .7 .2 .7 .3 .7 .7 .7-1 .8 1.8 .7 .6 .7 1.4 .7-2.3 .7-2.1 .8-1 .7 .6 .7 2.8 .7 1.3 .7-.1 .8-.7 .7 0 .7 .3 .7 0 .7-.5 .8-.5 .7-1.5 .7-.2 .7 1 .7-.1 .8-1 .7-.2 .7-.9 .7 2.2 .7-.7 .8 2.2 .7 0 .7-.6 .7-1.1 .7 .2 .8 .7 .7 .6 .7-1.2 .7 .8 .7 .9 .8-.1 .7-.8 .7-.9 .7 .1 .7 1.1 .8 .1 .7 .9 .7-1.3 .7 .2 .7 0 .8 1.3 .7-.1 .7-1.7 .7-1.2 .7-.3 .8 .7 .7 .3 .7-.8 .7-.6 .7 .4 .8 1.5 .7-.4 .7-.6 .7-1.6 .7 .6 .8 2.4 .7 1.1 .7 .1 .7-2.6 .7-.8 .8-.9 .7 .3 .7 .6 .7 2.1 .7-1 .8 .5 .7-.1 .7-.2 .7 .1 .7-1.8 .8 1.5 .7 .5 .7 1 .7-.1 .7-1.4 .8 .2 .7 .5 .7 .4 .7-.3 .7-.5 .8 .7 .7-1 .7-.2 .7-.9 .7 1.3 .8 .6 .7 .6 .7 .5 .7-1.2 .7-.5 .8-1.4 .7 .6 .7 .4 .7 .5 .7-.8 .8-.1 .7-.2 .7 1.1 .7-.1 .7 1 .8-.2 .7-1 .7-.8 .7-1.1 .7 1.8 .8 1 .7 .9 .7-.4 .7-1.8 .7-1.4 .8-.6 .7 .8 .7 .4 .7 .4 .7 .4 .8 1.3 .7 1 .7 .3 .7-.7 .7-.9 .8-.1 .7-.4 .7 .7 .7 .2 .7 .5 .8-1.2 .7 1.8 .7 .7 .7 1 .7-1.3 .8 .1 .7-.4 .7-.7 .7-1.2 .7 .3 .8-1.4 .7 .8 .7-.1 .7 0 .7 1 .8-1.1 .7 1.6 .7-1.5 .7 .9 .7-1.1 .8 1.9 .7 .5 .7 1.5 .7-1 .7-.2 .8-1.1 .7-.6 .7-.1 .7 0 .7 .1 .8-1.2 .7-.3 .7 .4 .7 .6 .7 .4 .8-.5 .7-.3 .7-.8 .7-.4 .7 .5 .8 .4 0 71.8-.8-.6-.7-.4-.7-1-.7 1.6-.7-.2-.8 .2-.7-.9-.7-.4-.7-1-.7 .5-.8 .3-.7 1.6-.7-1-.7 .6-.7-1.2-.8-.2-.7-.8-.7 .5-.7 .6-.7 .1-.8-.4-.7-.1-.7 0-.7 .7-.7 .4-.8-.8-.7-1.1-.7-1.5-.7-.1-.7 .5-.8 .5-.7 1.6-.7 .3-.7 .8-.7 .1-.8 .1-.7 .1-.7-1-.7 .6-.7 .1-.8 0-.7-1.5-.7-.6-.7 .4-.7 1.1-.8 .4-.7-.6-.7 .7-.7 0-.7 .6-.8-1.1-.7-.5-.7-.1-.7 .5-.7 .5-.8-1-.7-.7-.7-.5-.7 .8-.7 .3-.8 .8-.7 .7-.7 .8-.7-.8-.7-.3-.8-.7-.7 0-.7 .8-.7 .2-.7 .2-.8-.2-.7-1-.7-.1-.7-1.9-.7 1.1-.8 .6-.7 .9-.7-.1-.7-.5-.7-.7-.8 .1-.7-.2-.7 .4-.7-1.5-.7 0-.8 .1-.7 1.1-.7 .2-.7 1.1-.7-.4-.8 0-.7-.6-.7 .4-.7-.2-.7-.9-.8-.1-.7 .6-.7 .9-.7 .3-.7-.1-.8 .3-.7-.7-.7-.7-.7-.9-.7 1.4-.8 1.4-.7 .3-.7-1.1-.7-.9-.7 0-.8 .9-.7 .6-.7-.5-.7-.4-.7-.3-.8 .2-.7-1.9-.7 .3-.7 .5-.7 2-.8-.5-.7 1.1-.7 .3-.7 .2-.7-1.9-.8-.5-.7-1-.7 .8-.7 .4-.7 .6-.8 .4-.7-1.7-.7-.9-.7-.1-.7 .9-.8 1.1-.7-.6-.7-.8-.7-.3-.7 .1-.8 .1-.7 .3-.7 1.7-.7 .1-.7-.8-.8-.9-.7 .7-.7 .7-.7 .1-.7-.7-.8-.1-.7-.5-.7 .4-.7-.7-.7-.4-.8-1.2-.7 .2-.7-.2-.7 2.5-.7 1.1-.8 .8-.7-1.5-.7 .3-.7 .6-.7-.9-.8-.3-.7-1.6-.7 1.2-.7 1.3-.7 .4-.8 .5-.7-1-.7-.7-.7 .2-.7-.1-.8 .6-.7-1.9-.7-.2-.7-.6-.7 2.4-.8-.1-.7 .8-.7-.7-.7-.7-.7-.4-.8 .1-.7 .6-.7-.2-.7-1.1-.7 .1-.8 1.5-.7 .2-.7-.1-.7-.6-.7-1-.8 0-.7-1-.7 1-.7 .6-.7-.6-.8 .2-.7 .6-.7 .5-.7 .9-.7-.8-.8 1.6-.7-1.4-.7 .1-.7 0-.7-.5-.8-.2-.7-1-.7 1.2-.7-.4-.7-.3-.8-.5-.7 1-.7 .4-.7-.6-.7-1.2-.8 .8-.7 .7-.7 .9-.7-.7-.7 .3-.8-.3-.7-.5-.7 .6-.7-.1-.7 .6-.8-1-.7-.5-.7 .4-.7-.9-.7 .4-.8-.4-.7 1.9-.7-.3-.7 1.1-.7-.6-.8 .4-.7-1.3-.7 1-.7-1.2-.7-.5-.8-2-.7 .7-.7 1.3-.7 1.9-.7 1.2-.8-.5-.7-.8-.7-.1-.7-1.4-.7-.4-.8-1.7-.7 2-.7-.2-.7-.7-.7-2.3-.8-.7-.7 1.5-.7 2.4-.7 .3-.7-.1-.8-1-.7 .9-.7 .2-.7-.2-.7 .6-.8 0-.7 .7-.7-.7-.7 .9-.7-1-.8 1.1-.7 .2-.7 .1-.7-1.4-.7-1.4-.8 .9-.7 .5-.7 1-.7-.2-.7 .8-.8 1-.7-.4-.7-1.2-.7-1.2-.7-1.2-.8-.4-.7 .3z" clip-path="url(#p73ddfb0e2d)" style="fill: #ffa500; opacity: 0.06"/>
</g>
<g id="patch_168">
<path d="M352.7 499.5l.7 1.1 .8 .3 .7-.2 .7 0 .7-.1 .7 .5 .8-.3 .7-1 .7-.4 .7-.5 .7 1 .8 .5 .7 0 .7-.5 .7-.8 .7-1.1 .8 .7 .7 1.3 .7 .9 .7-1 .7-.5 .8 .6 .7-.1 .7-.4 .7 .1 .7 .2 .8 .3 .7 0 .7-.1 .7-.1 .7-.7 .8 1.1 .7-.9 .7 .8 .7-.5 .7 1.1 .8 .2 .7 .5 .7-.8 .7-.2 .7-.6 .8 .3 .7-.3 .7 .6 .7-.1 .7 .1 .8-.8 .7 .2 .7 .4 .7 0 .7 .3 .8 0 .7 .4 .7 .5 .7-.5 .7 .6 .8-1 .7 .8 .7-.8 .7 .1 .7-1.4 .8 .8 .7-.2 .7 .6 .7-.3 .7 .4 .8 1.4 .7 .4 .7 .3 .7-.9 .7-.5 .8-1 .7-.1 .7-.3 .7 .5 .7 0 .8-.8 .7 .7 .7 .5 .7 .1 .7-.4 .8 .1 .7 .9 .7-.6 .7-1.3 .7 .2 .8 1.5 .7 0 .7-.5 .7-1.3 .7 .4 .8 .1 .7 .4 .7-.2 .7 1 .7-.1 .8 .3 .7-.6 .7 .1 .7 0 .7-.1 .8-.5 .7 .5 .7 0 .7 .9 .7-.5 .8-.5 .7-1.3 .7 .1 .7 .1 .7 1.4 .8 .1 .7-.3 .7-.9 .7-.1 .7 .2 .8 1.1 .7 0 .7-.3 .7-.7 .7-.2 .8 .1 .7-1.1 .7-.6 .7-.5 .7 1.4 .8 .8 .7 .7 .7 .4 .7-.5 .7 .5 .8-.4 .7 .2 .7 .1 .7-.9 .7-.2 .8-.9 .7 .9 .7 .5 .7-1 .7-.3 .8 0 .7 2.5 .7 .8 .7 .1 .7-1.9 .8-.5 .7-.7 .7 .7 .7 0 .7 .4 .8 0 .7-.3 .7-.1 .7 .7 .7 .4 .8 .2 .7-1.2 .7-.2 .7 .4 .7 .9 .8 .6 .7 0 .7-1.1 .7 .3 .7 .4 .8 1 .7-.3 .7-1.4 .7-.6 .7-1 .8 1.4 .7-.4 .7 .1 .7 .1 .7 1 .8-.1 .7 .2 .7-1 .7 .4 .7-1.1 .8 1 .7-.4 .7-.3 .7-.1 .7-.6 .8 .7 .7-.3 .7 1.2 .7-.5 .7-.2 .8-.3 .7 .9 .7-.7 .7-.2 .7-.3 .8 .4 .7-.5 .7 0 .7 .3 .7 .1 .8 .5 .7 0 .7-.1 .7-2.1 .7-.1 .8-.2 .7 2.1 .7 1.2 .7 0 .7 .1 .8-.2 .7 .5 .7-.6 .7-.2 .7-.3 .8-1.3 .7-.7 .7 .4 .7 .8 .7 0 .8 .6 .7-.4 .7 .8 .7-.7 .7 .6 .8-1.1 .7 .3 .7-.5 .7-.3 .7 0 .8 .4 .7 1.3 .7 .2 .7-.5 .7-.8 .8-1.4 .7-.1 .7 1 .7 2.1 .7 1 .8-.6 .7-.4 .7-.2 .7-1 .7-.8 .8 .4 .7 1.5 .7 .6 .7-.8 .7-.8 .8-.4 .7-.4 .7-.8 .7 .4 .7 .3 .8 .8 .7 .9 .7 .5 .7-.3 .7-.5 .8-1.1 .7 .9 .7-.2 .7 .7 .7-.3 .8 .7 .7-.2 .7-.8 .7 .4 .7 .2 .8 1.3 .7-1.5 .7 .2 .7-1.1 .7 .7 .8-.3 .7-.1 .7 .5 .7 .3 .7-.7 .8-.9 .7-.6 .7 .4 .7-.2 .7 .2 .8 .7 .7-.1 .7-.8 .7-.3 .7 .9 .8 .3 0 62.1-.8-1.1-.7-.3-.7 .1-.7 1.1-.7-.4-.8-.2-.7-.2-.7 .3-.7 .2-.7 .2-.8-.3-.7 .7-.7-.5-.7-.3-.7-.3-.8 .2-.7-.2-.7 .4-.7-.9-.7 .6-.8-.9-.7 .5-.7 0-.7 0-.7-.1-.8-1.3-.7-.4-.7 1-.7 1.6-.7 1.1-.8-1.6-.7-.3-.7-1-.7 .5-.7-.5-.8-.1-.7 .2-.7 .9-.7-.2-.7 .8-.8-1.1-.7 .5-.7-.5-.7 .1-.7 .4-.8-.2-.7-.4-.7 .4-.7 .1-.7 1-.8-.9-.7-.7-.7-.4-.7 .6-.7 .4-.8 .5-.7-.1-.7 .5-.7 .2-.7-.5-.8-.7-.7-1-.7 .5-.7 .5-.7 0-.8-.3-.7 .3-.7 .3-.7 .9-.7-.5-.8 .1-.7-1.3-.7 1.3-.7-.1-.7 .5-.8-.2-.7 .5-.7 .9-.7 .2-.7 .3-.8-1-.7-1.5-.7-1.3-.7-.7-.7 0-.8 .7-.7 .8-.7 .1-.7-.2-.7 .6-.8 .2-.7 .4-.7-1.2-.7-.1-.7 .4-.8 1.3-.7-.8-.7-.1-.7-1.5-.7 .3-.8-.7-.7 .7-.7 .7-.7 1.4-.7 .3-.8 .2-.7-1.2-.7-.4-.7 .1-.7 0-.8 1.2-.7-.4-.7-.8-.7-1.1-.7 .6-.8 .7-.7 .6-.7-.8-.7 1.1-.7-.9-.8-.3-.7-1.1-.7 .9-.7 .9-.7-.3-.8-.8-.7 0-.7 .1-.7 .3-.7 .4-.8-.4-.7-.3-.7-.7-.7 .9-.7 .2-.8 .7-.7-.3-.7 .2-.7-1.3-.7 0-.8-1-.7 .6-.7 .2-.7 .7-.7 .4-.8 .7-.7-.4-.7-.4-.7-.2-.7 1-.8 .2-.7-.1-.7 0-.7 .5-.7-.2-.8-.5-.7-.3-.7 .3-.7 1.1-.7 .1-.8 .1-.7-.9-.7-.8-.7-.6-.7 .4-.8-.1-.7-.2-.7-.5-.7 1.7-.7 1.1-.8-.3-.7-1.6-.7 .1-.7 0-.7 .7-.8-1-.7 .1-.7-.3-.7-.2-.7-.3-.8 .4-.7 .5-.7-.3-.7-.3-.7 .2-.8 .5-.7-.3-.7-.4-.7-.3-.7 .3-.8-.4-.7 1.2-.7-.4-.7 .5-.7-.2-.8-1.2-.7-.8-.7 0-.7 2.2-.7 .8-.8-1.1-.7-.3-.7-.4-.7 .4-.7-.8-.8-.4-.7-.4-.7 .4-.7 .6-.7 0-.8 1.4-.7-.2-.7 .5-.7-1.2-.7 .4-.8 1.1-.7-1-.7-.8-.7-1-.7 1.1-.8 .9-.7 .5-.7-.3-.7 .2-.7-.4-.8 .4-.7-.4-.7 .3-.7-.6-.7-.4-.8-.6-.7-.4-.7 .1-.7-.1-.7 1-.8 .5-.7 .8-.7-.5-.7-.6-.7-.6-.8 .4-.7-.4-.7 .5-.7-.4-.7 .5-.8-1.4-.7-1.2-.7 .1-.7 1.2-.7 .5-.8-.7-.7-.2-.7 .8-.7 .3-.7 .3-.8 .1-.7 1.7-.7-.5-.7 .3-.7-1.3-.8 .1-.7-.1-.7-.5-.7 .7-.7-.4-.8-.4-.7-.3-.7 .8-.7 1.2-.7-.1-.8-2-.7-.4-.7 .2-.7 1.4-.7-1-.8 .1-.7-.3-.7 1.8-.7-.9-.7-.1-.8-1.9-.7 1.1-.7 .1-.7 1.7-.7-.3-.8-.2-.7-.9-.7-.6-.7 .7-.7-.1-.8 .6-.7 .2z" clip-path="url(#p73ddfb0e2d)" style="fill: #ffa500; opacity: 0.14"/>
</g>
<g id="patch_169">
<path d="M352.7 503.7l.7 0 .8 .8 .7 .3 .7 .3 .7-.7 .7 .5 .8-.9 .7 .2 .7-.9 .7 .6 .7 .2 .8 0 .7-.5 .7-.4 .7-.2 .7-.1 .8-.2 .7 .9 .7 .9 .7 .2 .7-.4 .8-.5 .7 0 .7 0 .7 .2 .7 .3 .8 .1 .7-.6 .7 .5 .7-.2 .7 .3 .8-1 .7 0 .7 0 .7 .3 .7 .4 .8 0 .7-.4 .7-1.1 .7 .3 .7 .4 .8 1.5 .7-.4 .7-.1 .7-.4 .7-.1 .8 .3 .7-.6 .7 .4 .7 .4 .7 .2 .8 .5 .7-.7 .7 .3 .7-1.4 .7-.5 .8 .7 .7 1.3 .7 1.2 .7-1.5 .7-.5 .8-.3 .7 .7 .7 0 .7-.5 .7-.1 .8-.6 .7 .3 .7 .2 .7 .1 .7 0 .8-.3 .7 .3 .7 .5 .7 .3 .7 .1 .8-.9 .7-.2 .7 .1 .7 .3 .7-.1 .8-.7 .7 .9 .7 0 .7 .1 .7-.3 .8 .6 .7 .5 .7 .1 .7-.3 .7-.3 .8-.5 .7-.3 .7-.2 .7 .3 .7 .2 .8 .2 .7 .1 .7 .1 .7-.6 .7-.6 .8-.4 .7-.2 .7 .4 .7-.1 .7 .3 .8-.5 .7 .8 .7 .4 .7 .8 .7-.4 .8 0 .7-.2 .7 .3 .7 .2 .7-.6 .8-.4 .7-.6 .7 .4 .7 .2 .7 1 .8 .7 .7 .2 .7-.2 .7-.5 .7 .9 .8 .2 .7 1 .7-1 .7-.4 .7-.7 .8 0 .7-.1 .7-.8 .7 .3 .7-.1 .8 .8 .7-.5 .7-.8 .7-.1 .7 .6 .8 .2 .7-.6 .7-.6 .7 .4 .7-.3 .8 .8 .7 .5 .7 .5 .7-1.5 .7-.2 .8 1 .7 1.1 .7 .3 .7-1.2 .7-.2 .8-1.1 .7 1.2 .7 .1 .7-.2 .7-1.5 .8-.1 .7 .9 .7 .6 .7 .1 .7 .7 .8 .3 .7-1 .7-.8 .7-.7 .7 .4 .8 .2 .7 .4 .7-.1 .7-.1 .7-.3 .8 .7 .7-.1 .7 .5 .7-.4 .7 .4 .8-.2 .7 .1 .7-.5 .7 .1 .7-.7 .8 1.3 .7-.3 .7 .7 .7-1.2 .7 0 .8 .2 .7 0 .7 0 .7-.7 .7-.2 .8-.3 .7 1.3 .7-.2 .7 0 .7-.6 .8 1.1 .7-.2 .7-.7 .7-.6 .7 .9 .8 0 .7-.8 .7-.5 .7 .9 .7 .7 .8 .7 .7-.4 .7 0 .7 0 .7 0 .8 .1 .7-.6 .7-.2 .7 .1 .7 .2 .8 0 .7 0 .7 .4 .7 .3 .7-.6 .8 .1 .7 1 .7 0 .7-1 .7-1.3 .8 0 .7 .1 .7-.2 .7 .7 .7 .9 .8 1 .7 0 .7-.5 .7-.2 .7-.5 .8 0 .7-.9 .7 .8 .7 .5 .7 .3 .8-.6 .7-.4 .7 .2 .7 .5 .7 0 .8 .1 .7-.9 .7-.2 .7-.9 .7 1.3 .8 .7 .7 1 .7-.3 .7 .3 .7 .1 .8-1.1 .7-.9 .7-1.3 .7 .3 .7-.4 .8 .9 .7 .5 .7 .1 .7-.1 .7 0 .8 .3 .7 0 .7-1 .7-.1 .7 .3 .8 1.1 .7-.4 .7-.4 .7 0 .7 .2 .8 .3 .7-.4 .7 .3 .7-.3 .7 1.2 .8 0 .7-.2 .7-.6 .7-.1 .7 .3 .8-1.1 0 54.4-.8-.7-.7 .6-.7-.1-.7-.3-.7-.3-.8 .1-.7 0-.7-.6-.7 .4-.7 .4-.8 1.4-.7 .1-.7 .5-.7-.9-.7 .3-.8-.5-.7 .1-.7-1.6-.7 0-.7-.8-.8 .8-.7 .2-.7 1.6-.7-.7-.7 .6-.8-.5-.7 .8-.7-.1-.7-.6-.7 .2-.8-.7-.7 1-.7 0-.7 .8-.7-.2-.8-.2-.7-.7-.7-.7-.7 .3-.7 .1-.8 1-.7-1.1-.7 .1-.7-.6-.7 1.2-.8-.1-.7-.1-.7-.6-.7-.8-.7-.4-.8 .7-.7 .8-.7-.5-.7-.4-.7 .1-.8 .7-.7 .4-.7-.1-.7-.5-.7 .6-.8-1.1-.7 1-.7-1.4-.7 1-.7-.7-.8 .2-.7-.3-.7-.3-.7 0-.7-.1-.8 .3-.7 .5-.7-.4-.7-.6-.7 .1-.8 1.1-.7 1.1-.7-.6-.7 0-.7-.4-.8 .2-.7-.3-.7-.2-.7 .5-.7 .2-.8-.4-.7 0-.7-.3-.7 .1-.7-.7-.8 .4-.7 .6-.7 .7-.7 .3-.7 0-.8-.1-.7-1.4-.7-.5-.7-1-.7-.3-.8 .8-.7 1.3-.7 .4-.7-.7-.7-.7-.8 .9-.7 .6-.7 .2-.7-.7-.7 .6-.8 .2-.7-.3-.7-.8-.7-.1-.7 .4-.8-.6-.7-.5-.7-.1-.7 1.1-.7 .2-.8 .3-.7 .4-.7 .2-.7 .2-.7-.9-.8-.6-.7 .4-.7-.8-.7 .4-.7-.8-.8 .1-.7 .1-.7 .2-.7 1-.7 .5-.8 .2-.7-.3-.7-.3-.7-.5-.7-.4-.8 .2-.7-.1-.7-.3-.7 0-.7 .1-.8 1-.7-.2-.7 .6-.7-.4-.7 .3-.8-.7-.7-.1-.7 .7-.7 .3-.7 .5-.8-.9-.7-.8-.7-.3-.7 .2-.7 1.5-.8-.5-.7 .2-.7-.2-.7 .2-.7-.4-.8 .3-.7 0-.7-.5-.7-1.2-.7 0-.8 1-.7 .5-.7-.1-.7-.1-.7-.4-.8 .1-.7-.7-.7 .8-.7 .1-.7-.3-.8-.4-.7-.2-.7 .9-.7-.2-.7-.3-.8-.3-.7 .2-.7 .9-.7-1.1-.7-.1-.8-.6-.7 1.4-.7 .2-.7 .8-.7-.1-.8-.6-.7-.7-.7 .4-.7 .3-.7 .4-.8-1.2-.7 .6-.7-.3-.7 .6-.7 .3-.8-1.2-.7-.8-.7-.3-.7 .1-.7 .3-.8-.6-.7 .9-.7 .2-.7 .5-.7-.8-.8-.4-.7-.1-.7 1.4-.7 .4-.7-.1-.8-1.6-.7-.3-.7 .4-.7 .5-.7 .3-.8 .1-.7-.4-.7 .9-.7 .2-.7 1.1-.8-.7-.7-.3-.7 0-.7 .1-.7-.3-.8-.4-.7-.6-.7 .7-.7 .1-.7 1-.8-.7-.7-.2-.7-.6-.7 .2-.7 .4-.8 0-.7 .2-.7-.1-.7 0-.7 .7-.8-.3-.7 .4-.7-1-.7 .3-.7-.3-.8 .6-.7 .1-.7 .2-.7-.2-.7 .4-.8-.5-.7-.5-.7-.5-.7 .5-.7 .2-.8 .3-.7-.4-.7-.3-.7-.2-.7 .2-.8 .8-.7 .1-.7 .2-.7-.8-.7-.3-.8 0-.7-.2-.7-.3-.7-.6-.7 .1-.8 .5-.7 .8-.7-.3-.7-.6-.7-.8-.8 .1-.7 .1-.7 .6-.7 1-.7-.4-.8 .1-.7-.4z" clip-path="url(#p73ddfb0e2d)" style="fill: #ffa500; opacity: 0.32"/>
</g>
<g id="patch_170">
<path d="M352.7 507.5l.7 0 .8 0 .7-.1 .7-1 .7-.4 .7 1 .8 .2 .7 1.2 .7-.8 .7 .2 .7-.6 .8 0 .7 .2 .7-.8 .7-.4 .7-.3 .8 .4 .7 .2 .7-.4 .7 .1 .7 .1 .8 .6 .7-.4 .7-.7 .7 .7 .7 0 .8 .9 .7 0 .7 .5 .7-.1 .7-.5 .8-.3 .7 .3 .7 .2 .7-.3 .7-.1 .8-.1 .7 .4 .7-.1 .7 .3 .7-.1 .8 .2 .7-.4 .7-.3 .7-.6 .7-.1 .8 .4 .7 .7 .7 0 .7-.3 .7-.6 .8 .5 .7 .2 .7 0 .7-.2 .7-.5 .8 .2 .7-.2 .7 .4 .7-.5 .7 .4 .8 .6 .7-.1 .7-.3 .7-.3 .7 1.2 .8-.2 .7-.5 .7-.8 .7 .8 .7 .4 .8 .1 .7-.1 .7-.8 .7-.8 .7-.2 .8 .9 .7 .3 .7-.2 .7-.2 .7 .5 .8-.4 .7-.2 .7-.3 .7 .3 .7 0 .8 .9 .7 .2 .7-.5 .7-.4 .7 .3 .8 .6 .7 .2 .7-.5 .7 .2 .7-.7 .8 .3 .7-.7 .7 .7 .7-.8 .7-.2 .8-.2 .7 .4 .7 .7 .7 0 .7 .1 .8-.4 .7-.1 .7 .2 .7 .4 .7 .6 .8-.3 .7-.2 .7-.5 .7 .1 .7-.4 .8-.4 .7 .5 .7 .4 .7 .3 .7-.5 .8 .2 .7-.4 .7-.1 .7-.1 .7 .3 .8 .7 .7-.6 .7 .2 .7 0 .7 1 .8-.3 .7-.7 .7-.6 .7 .2 .7 .3 .8 .3 .7 .1 .7-.5 .7-.5 .7-.6 .8 0 .7 .3 .7 .5 .7 1.3 .7 .2 .8-.1 .7-.4 .7-.4 .7 .1 .7-.1 .8 .5 .7 0 .7-.4 .7-.7 .7-.2 .8-.1 .7 .7 .7 0 .7 .3 .7-.7 .8 .4 .7-.5 .7 0 .7-.8 .7 .1 .8 .9 .7 .7 .7-.2 .7-.3 .7-.3 .8-.1 .7-.4 .7-.6 .7 .2 .7-.6 .8 .4 .7 0 .7 .6 .7 0 .7 .7 .8 .2 .7 .3 .7-.1 .7 .4 .7 .2 .8-.5 .7-.6 .7-.5 .7 0 .7 .4 .8 .2 .7 .5 .7 0 .7 .6 .7 0 .8-.1 .7-.4 .7-1.2 .7 .6 .7-.2 .8 1.1 .7-1 .7 .7 .7-.2 .7 .5 .8-.5 .7 0 .7-.2 .7-.1 .7-.3 .8 .5 .7-.2 .7 .7 .7-.6 .7 .4 .8-.3 .7 1 .7-.6 .7 .5 .7-.4 .8 .5 .7-.9 .7 0 .7-.1 .7 0 .8-.6 .7-.4 .7 .7 .7 .5 .7 .5 .8-.4 .7 0 .7-.2 .7-.2 .7 .3 .8 0 .7 .2 .7-.8 .7 0 .7-.3 .8 .3 .7 .2 .7-.1 .7 .1 .7-.1 .8 .7 .7-.1 .7-.1 .7-.3 .7-.2 .8-.8 .7-.7 .7 .5 .7 .8 .7 .2 .8-.4 .7-.2 .7 .3 .7 .2 .7 .9 .8-.2 .7 .1 .7-1 .7 .1 .7-.4 .8 .2 .7 0 .7 .4 .7 .2 .7-.1 .8 .5 .7-.5 .7 .4 .7 .1 .7 .2 .8 .3 .7-.2 .7 .3 .7-1.1 .7 0 .8 0 .7 .4 .7 0 .7-.3 .7 .5 .8-.6 .7 .4 .7-.7 .7 .1 .7-.5 .8 .1 0 49.2-.8-.2-.7-.5-.7-.2-.7 .6-.7 .1-.8-.1-.7-.1-.7 .1-.7 .3-.7-.1-.8-.4-.7-.2-.7 .2-.7 .3-.7 0-.8 .1-.7 .1-.7 0-.7-.3-.7-.5-.8-.1-.7-.3-.7 .8-.7-.1-.7 .9-.8-.4-.7 .5-.7-.8-.7-.1-.7-.5-.8 .3-.7 .2-.7 .4-.7-.7-.7-.2-.8-.5-.7 .4-.7-.3-.7-.5-.7 .2-.8 .4-.7 .1-.7 .5-.7 .6-.7 .7-.8-.1-.7-.6-.7 .2-.7-.3-.7 .1-.8-.4-.7 1-.7-.1-.7 0-.7-1.3-.8-.2-.7-.3-.7 .5-.7 0-.7 .4-.8-.4-.7 .2-.7-.3-.7 .6-.7-.3-.8 .2-.7-.7-.7-.2-.7 0-.7 .4-.8 0-.7-.4-.7-.7-.7 .3-.7 .3-.8 .4-.7-.6-.7 0-.7 .6-.7 .4-.8 .5-.7-.5-.7 .6-.7-.8-.7 .8-.8-.3-.7 .8-.7-.6-.7 .3-.7 .2-.8 .4-.7-.3-.7-.9-.7-.5-.7-.1-.8 0-.7 .2-.7-.1-.7 .7-.7-.3-.8 .3-.7-.2-.7 .1-.7 .2-.7-.5-.8-.1-.7-.1-.7 .5-.7 .1-.7-.6-.8-.1-.7 .7-.7 .1-.7-1-.7-.4-.8 0-.7 .6-.7-.7-.7 .7-.7 .4-.8 .4-.7-1-.7-.1-.7 0-.7 .9-.8 .3-.7 .2-.7-.5-.7-.1-.7-.2-.8-.2-.7-.6-.7 .4-.7 .4-.7 .7-.8-.6-.7-.3-.7-.4-.7 .1-.7 .3-.8 0-.7 .1-.7-.2-.7-.1-.7-.1-.8 .6-.7 .2-.7 .4-.7 .2-.7-.2-.8-.3-.7-.6-.7 .4-.7-.1-.7-.2-.8-.7-.7-.7-.7 .5-.7 .9-.7 .3-.8-.3-.7-.7-.7 .1-.7-.2-.7 0-.8 .4-.7 .6-.7 .6-.7 0-.7-.2-.8-.5-.7 .3-.7 0-.7 .5-.7-.8-.8-.3-.7-.7-.7 .3-.7 0-.7 .2-.8 .6-.7-.1-.7-.1-.7-.1-.7 .5-.8 .8-.7-.4-.7-.1-.7-.9-.7 .5-.8 .9-.7 .1-.7-.6-.7-.6-.7 0-.8 .7-.7-.1-.7-.6-.7-.4-.7-.7-.8 1-.7-.1-.7 .2-.7-.3-.7 .1-.8 .6-.7-.5-.7-.3-.7 0-.7 1-.8-.2-.7-.2-.7-.7-.7 .2-.7-.2-.8 .4-.7 .2-.7 .7-.7 .3-.7-.1-.8 .2-.7-1-.7-.4-.7-1.2-.7 .3-.8 .7-.7 0-.7 .1-.7-.5-.7 .6-.8 .4-.7 .1-.7 .1-.7 .4-.7-.4-.8-.1-.7-.7-.7 .2-.7-.3-.7-.5-.8 .5-.7 .2-.7 .9-.7 .1-.7-.2-.8-.3-.7-.7-.7-.2-.7-.3-.7 .1-.8 .8-.7 .5-.7 .3-.7-.3-.7 0-.8-.4-.7-.3-.7-.6-.7 0-.7 .2-.8 0-.7-.2-.7 .1-.7 .4-.7 .4-.8 0-.7 0-.7 .6-.7 .2-.7 .3-.8-1.1-.7 0-.7-.5-.7 .4-.7-.3-.8 .4-.7 .1-.7 .6-.7-.6-.7 0-.8-.5-.7 .8-.7 .1-.7 .4-.7-.2-.8-.5-.7-.9-.7-.1-.7 .5-.7 .7-.8 0-.7-.4z" clip-path="url(#p73ddfb0e2d)" style="fill: #ffa500; opacity: 0.6"/>
</g>
<g id="line2d_112">
<g clip-path="url(#p73ddfb0e2d)">
<use href="#m5033db8bdf" x="498.45" y="565.15" class="u2"/>
<use href="#m5033db8bdf" x="366" y="495.3" class="u2"/>
<use href="#m5033db8bdf" x="528.13" y="496.3" class="u2"/>
<use href="#m5033db8bdf" x="412.67" y="495.25" class="u2"/>
<use href="#m5033db8bdf" x="531.72" y="562.67" class="u2"/>
<use href="#m5033db8bdf" x="384.26" y="557.68" class="u2"/>
<use href="#m5033db8bdf" x="357.45" y="562.67" class="u2"/>
<use href="#m5033db8bdf" x="533.32" y="496.92" class="u2"/>
<use href="#m5033db8bdf" x="539.77" y="557.74" class="u2"/>
<use href="#m5033db8bdf" x="456.49" y="500.14" class="u2"/>
<use href="#m5033db8bdf" x="544.79" y="494.76" class="u2"/>
<use href="#m5033db8bdf" x="371.6" y="559.7" class="u2"/>
<use href="#m5033db8bdf" x="384.35" y="503.81" class="u2"/>
<use href="#m5033db8bdf" x="556.94" y="501.49" class="u2"/>
<use href="#m5033db8bdf" x="550.33" y="500.91" class="u2"/>
<use href="#m5033db8bdf" x="498.86" y="560.35" class="u2"/>
<use href="#m5033db8bdf" x="423.21" y="561.14" class="u2"/>
<use href="#m5033db8bdf" x="502.9" y="561.5" class="u2"/>
<use href="#m5033db8bdf" x="352.87" y="495.91" class="u2"/>
<use href="#m5033db8bdf" x="427.33" y="495.11" class="u2"/>
<use href="#m5033db8bdf" x="531.95" y="499.96" class="u2"/>
<use href="#m5033db8bdf" x="400.86" y="557.73" class="u2"/>
<use href="#m5033db8bdf" x="379.86" y="503.4" class="u2"/>
<use href="#m5033db8bdf" x="456.08" y="503.78" class="u2"/>
<use href="#m5033db8bdf" x="494.45" y="564.79" class="u2"/>
<use href="#m5033db8bdf" x="418.15" y="500.36" class="u2"/>
<use href="#m5033db8bdf" x="524.75" y="495.86" class="u2"/>
<use href="#m5033db8bdf" x="543.5" y="502.23" class="u2"/>
<use href="#m5033db8bdf" x="398.37" y="498.62" class="u2"/>
<use href="#m5033db8bdf" x="433.72" y="501.7" class="u2"/>
<use href="#m5033db8bdf" x="528.4" y="498.65" class="u2"/>
<use href="#m5033db8bdf" x="458.46" y="502.15" class="u2"/>
<use href="#m5033db8bdf" x="509.81" y="556.74" class="u2"/>
<use href="#m5033db8bdf" x="418.65" y="559.42" class="u2"/>
<use href="#m5033db8bdf" x="524.76" y="501.05" class="u2"/>
<use href="#m5033db8bdf" x="528.33" y="497.87" class="u2"/>
<use href="#m5033db8bdf" x="515.76" y="559.06" class="u2"/>
<use href="#m5033db8bdf" x="537.61" y="496.65" class="u2"/>
<use href="#m5033db8bdf" x="435.05" y="499.41" class="u2"/>
<use href="#m5033db8bdf" x="461.36" y="560.06" class="u2"/>
<use href="#m5033db8bdf" x="522.45" y="499.1" class="u2"/>
<use href="#m5033db8bdf" x="504.76" y="497.75" class="u2"/>
<use href="#m5033db8bdf" x="465.62" y="498.97" class="u2"/>
<use href="#m5033db8bdf" x="360.23" y="559.22" class="u2"/>
<use href="#m5033db8bdf" x="398.49" y="557.85" class="u2"/>
<use href="#m5033db8bdf" x="448.21" y="560.82" class="u2"/>
<use href="#m5033db8bdf" x="511.08" y="501.37" class="u2"/>
<use href="#m5033db8bdf" x="542.99" y="561.42" class="u2"/>
<use href="#m5033db8bdf" x="560.21" y="556.03" class="u2"/>
<use href="#m5033db8bdf" x="433.68" y="503.44" class="u2"/>
<use href="#m5033db8bdf" x="555.92" y="497.94" class="u2"/>
<use href="#m5033db8bdf" x="433.07" y="556.48" class="u2"/>
<use href="#m5033db8bdf" x="391" y="499.47" class="u2"/>
<use href="#m5033db8bdf" x="548.05" y="503.14" class="u2"/>
<use href="#m5033db8bdf" x="375.03" y="495.02" class="u2"/>
<use href="#m5033db8bdf" x="452.98" y="502.54" class="u2"/>
<use href="#m5033db8bdf" x="515.79" y="556.52" class="u2"/>
<use href="#m5033db8bdf" x="484.55" y="499.66" class="u2"/>
<use href="#m5033db8bdf" x="531.67" y="498.41" class="u2"/>
<use href="#m5033db8bdf" x="464.38" y="561.52" class="u2"/>
<use href="#m5033db8bdf" x="446.4" y="501.2" class="u2"/>
<use href="#m5033db8bdf" x="423.84" y="565.2" class="u2"/>
<use href="#m5033db8bdf" x="483.89" y="564.77" class="u2"/>
<use href="#m5033db8bdf" x="471.49" y="561.98" class="u2"/>
<use href="#m5033db8bdf" x="459.74" y="558.35" class="u2"/>
<use href="#m5033db8bdf" x="495.71" y="503.14" class="u2"/>
<use href="#m5033db8bdf" x="459.21" y="561.28" class="u2"/>
<use href="#m5033db8bdf" x="498.66" y="503.08" class="u2"/>
<use href="#m5033db8bdf" x="457.91" y="561.34" class="u2"/>
<use href="#m5033db8bdf" x="515.83" y="564.33" class="u2"/>
<use href="#m5033db8bdf" x="395.57" y="501.15" class="u2"/>
<use href="#m5033db8bdf" x="428.51" y="497" class="u2"/>
<use href="#m5033db8bdf" x="417.03" y="564.85" class="u2"/>
<use href="#m5033db8bdf" x="537.54" y="499.67" class="u2"/>
<use href="#m5033db8bdf" x="474.93" y="556.16" class="u2"/>
<use href="#m5033db8bdf" x="550.69" y="556.77" class="u2"/>
<use href="#m5033db8bdf" x="470.03" y="498.88" class="u2"/>
<use href="#m5033db8bdf" x="549.58" y="500.73" class="u2"/>
<use href="#m5033db8bdf" x="508.21" y="565" class="u2"/>
<use href="#m5033db8bdf" x="540.76" y="496.04" class="u2"/>
<use href="#m5033db8bdf" x="415.57" y="560.29" class="u2"/>
<use href="#m5033db8bdf" x="562.09" y="496.29" class="u2"/>
<use href="#m5033db8bdf" x="415.92" y="563.83" class="u2"/>
<use href="#m5033db8bdf" x="510.24" y="497.76" class="u2"/>
<use href="#m5033db8bdf" x="483.15" y="556.2" class="u2"/>
<use href="#m5033db8bdf" x="427.48" y="556.55" class="u2"/>
<use href="#m5033db8bdf" x="374.64" y="496.37" class="u2"/>
<use href="#m5033db8bdf" x="362.3" y="557.1" class="u2"/>
<use href="#m5033db8bdf" x="355.05" y="498.63" class="u2"/>
<use href="#m5033db8bdf" x="468.68" y="495.66" class="u2"/>
</g>
</g>
<g id="patch_171">
<path d="M 340.2 566.77 340.2 492.61" style="fill: none; stroke: #000000; stroke-width: 0.8; stroke-linejoin: miter; stroke-linecap: square"/>
</g>
<g id="patch_172">
<path d="M 577.08 566.77 577.08 492.61" style="fill: none; stroke: #000000; stroke-width: 0.8; stroke-linejoin: miter; stroke-linecap: square"/>
</g>
<g id="patch_173">
<path d="M 340.2 566.77 577.08 566.77" style="fill: none; stroke: #000000; stroke-width: 0.8; stroke-linejoin: miter; stroke-linecap: square"/>
</g>
<g id="patch_174">
<path d="M 340.2 492.61 577.08 492.61" style="fill: none; stroke: #000000; stroke-width: 0.8; stroke-linejoin: miter; stroke-linecap: square"/>
</g>
<g id="patch_175">
<path d="M352.7 509.7l.7 .3 .8-.2 .7-.2 .7-.2 .7-.1 .7 .4 .8-.3 .7 .1 .7-.5 .7 .3 .7 .2 .8 .4 .7 .3 .7-.1 .7-.4 .7-.1 .8-.4 .7 .2 .7-.1 .7 .2 .7 .2 .8-.1 .7 .4 .7 0 .7 .3 .7-.1 .8 0 .7-.2 .7 .2 .7-.3 .7 .1 .8-.3 .7 .1 .7 0 .7-.1 .7 .1 .8 .1 .7 .2 .7-.1 .7-.3 .7-.3 .8-.2 .7 .1 .7 .7 .7 .1 .7 .2 .8-.3 .7 .4 .7-.1 .7-.1 .7-.3 .8-.2 .7-.3 .7-.1 .7 .4 .7 .2 .8 .1 .7-.2 .7-.2 .7 .1 .7 0 .8 .2 .7 .1 .7-.2 .7-.1 .7 .1 .8 .1 .7-.1 .7-.2 .7 .3 .7 .2 .8-.1 .7-.1 .7 .1 .7 .1 .7 .2 .8-.1 .7-.2 .7-.5 .7-.1 .7 .2 .8 .2 .7 .1 .7 .3 .7 0 .7 .2 .8-.4 .7-.2 .7-.1 .7 .1 .7 .2 .8-.1 .7-.1 .7 .2 .7 .1 .7-.1 .8-.4 .7-.2 .7 .4 .7 .1 .7-.3 .8 .1 .7-.1 .7 .5 .7-.1 .7 .2 .8-.1 .7 .1 .7-.2 .7 0 .7-.1 .8-.1 .7-.3 .7-.1 .7 .3 .7 .2 .8-.1 .7 0 .7-.1 .7 0 .7 0 .8-.1 .7 0 .7 0 .7 .2 .7 .1 .8 .1 .7 0 .7 0 .7 .2 .7-.2 .8 .1 .7-.7 .7 .1 .7-.1 .7 .4 .8-.3 .7 .3 .7 .1 .7 .6 .7-.7 .8-.1 .7-.3 .7 0 .7-.2 .7-.1 .8 .8 .7 0 .7 0 .7-.2 .7 .2 .8-.1 .7 .1 .7 .1 .7-.1 .7 0 .8-.3 .7 .2 .7 0 .7 .1 .7 .2 .8-.1 .7 .1 .7-.2 .7-.3 .7 0 .8 .3 .7 .2 .7-.2 .7 .1 .7-.1 .8-.2 .7-.1 .7 .1 .7 .3 .7-.2 .8-.2 .7 0 .7 0 .7 .2 .7 .1 .8 .1 .7 .3 .7-.1 .7 .2 .7-.1 .8 .4 .7-.3 .7-.2 .7-.2 .7-.1 .8-.1 .7-.1 .7 .1 .7-.1 .7 0 .8-.1 .7 .2 .7 0 .7 0 .7 .2 .8 0 .7 0 .7-.1 .7 .1 .7 .1 .8 .2 .7-.2 .7-.1 .7 .1 .7 .1 .8 .2 .7-.2 .7 0 .7-.6 .7 0 .8 0 .7 .1 .7-.4 .7 .3 .7 .1 .8 .3 .7-.1 .7 0 .7 0 .7 .1 .8-.1 .7-.5 .7 .1 .7 .1 .7 .4 .8 .1 .7-.3 .7-.4 .7 0 .7 .2 .8 .3 .7-.4 .7 .1 .7 0 .7 .2 .8 .3 .7 .4 .7-.1 .7-.3 .7-.4 .8 0 .7-.1 .7 0 .7-.2 .7 .3 .8 .2 .7 .1 .7-.4 .7 .2 .7 .5 .8-.1 .7-.2 .7-.1 .7 0 .7-.2 .8-.3 .7 .1 .7 0 .7 0 .7-.1 .8 .3 .7 .3 .7 0 .7 .2 .7-.2 .8 0 .7-.6 .7 .3 .7 0 .7-.1 .8-.2 .7 .3 .7 .4 .7 .1 .7-.1 .8-.4 .7-.1 .7-.4 .7 .1 .7 .1 .8 .3 .7 .3 .7 .2 .7 .4 .7-.3 .8-.1 0 41.7-.8 .1-.7-.4-.7 .1-.7 .4-.7 .4-.8 .1-.7-.4-.7-.4-.7-.1-.7 .1-.8 .3-.7 0-.7-.3-.7-.1-.7-.2-.8 .4-.7 0-.7 .1-.7-.2-.7 0-.8 .1-.7-.5-.7-.1-.7-.1-.7 .5-.8 .2-.7 .1-.7-.1-.7-.3-.7-.1-.8 .2-.7 .4-.7-.1-.7-.2-.7-.2-.8 0-.7-.1-.7-.2-.7 .1-.7 .3-.8 .1-.7-.1-.7-.1-.7 .2-.7 .5-.8 0-.7-.1-.7-.2-.7-.1-.7 0-.8 0-.7 0-.7 .1-.7-.1-.7 .2-.8-.2-.7 0-.7-.1-.7 .1-.7 .5-.8 0-.7 0-.7-.4-.7-.1-.7-.3-.8 0-.7 0-.7 .1-.7 0-.7 0-.8 0-.7 .3-.7-.1-.7 .2-.7 0-.8 0-.7-.1-.7-.2-.7 0-.7-.1-.8-.1-.7 0-.7 .3-.7 .1-.7 0-.8-.1-.7 .1-.7-.1-.7-.2-.7 .1-.8 .2-.7 .4-.7-.5-.7-.3-.7 0-.8 .3-.7 .1-.7-.4-.7 .1-.7 .2-.8 .1-.7-.1-.7-.3-.7 .6-.7 .1-.8 .4-.7-.6-.7 0-.7-.3-.7 .2-.8 .2-.7 .1-.7-.1-.7-.5-.7-.1-.8 0-.7 .2-.7 0-.7 .1-.7 0-.8 .3-.7 .1-.7-.1-.7-.2-.7-.3-.8-.3-.7 .1-.7 .1-.7 .3-.7-.1-.8-.1-.7 0-.7 .2-.7-.1-.7-.1-.8-.1-.7 .1-.7-.2-.7-.1-.7 .1-.8 .3-.7-.1-.7 .1-.7-.2-.7 .2-.8 .1-.7 .4-.7-.4-.7-.3-.7 0-.8 .1-.7 .2-.7-.3-.7 0-.7 .2-.8 .1-.7 .3-.7-.3-.7 .1-.7-.4-.8 0-.7 0-.7 .4-.7-.1-.7-.1-.8 .1-.7 .2-.7 .1-.7-.2-.7 0-.8-.1-.7 .1-.7-.1-.7 0-.7 .1-.8-.2-.7 0-.7-.4-.7-.1-.7 .1-.8 .2-.7 .6-.7-.3-.7-.1-.7-.6-.8 .2-.7-.1-.7 .5-.7-.1-.7 .1-.8-.3-.7 .2-.7 0-.7 .1-.7 .1-.8-.1-.7-.1-.7 .1-.7 0-.7-.1-.8-.2-.7 .6-.7 .1-.7 0-.7-.3-.8 .2-.7-.3-.7-.3-.7 .1-.7 .5-.8 .1-.7-.1-.7 0-.7 .2-.7-.2-.8-.1-.7 0-.7 .5-.7-.1-.7-.1-.8-.4-.7-.2-.7-.3-.7-.4-.7 .3-.8 .3-.7 .4-.7-.4-.7 .1-.7-.1-.8 .2-.7-.3-.7 .3-.7 0-.7 .4-.8 .1-.7-.1-.7-.1-.7-.4-.7-.2-.8-.3-.7 .4-.7 .3-.7-.1-.7-.1-.8 .2-.7-.2-.7 .1-.7-.1-.7 .4-.8-.2-.7 0-.7 .1-.7-.1-.7-.1-.8-.3-.7 0-.7 .3-.7 .3-.7 .2-.8-.1-.7-.3-.7 .1-.7-.5-.7 .3-.8-.4-.7 0-.7-.4-.7 .2-.7 .2-.8 .3-.7 0-.7-.3-.7-.5-.7 0-.8 .3-.7 .6-.7 .4-.7 .1-.7-.2-.8-.2-.7-.2-.7 .1-.7-.5-.7 0-.8 .2-.7 .5-.7 .1-.7-.2-.7-.1-.8 0-.7 0z" clip-path="url(#p73ddfb0e2d)" style="fill: #ffa500"/>
</g>
<g id="patch_176">
<path d="M 350.06 550.08 353.02 550.08 353.02 551.95 350.06 551.95 z" clip-path="url(#p73ddfb0e2d)" style="fill: #ffa500"/>
</g>
<g id="patch_177">
<path d="M 563.04 550.08 567.36 550.08 567.36 551.95 563.04 551.95 z" clip-path="url(#p73ddfb0e2d)" style="fill: #ffa500"/>
</g>
<g id="text_98">
<text style="font-size: 12px; font-family: 'DejaVu Sans', 'Liberation Sans', sans-serif; text-anchor: middle" x="458.64" y="486.61">NoRP 17GHz Stokes-V</text>
</g>
</g>
<g id="axes_11">
<g id="patch_178">
<path d="M 57.96 683.53 294.84 683.53 294.84 609.37 57.96 609.37 z" style="fill: #ffffff"/>
</g>
<g id="matplotlib.axis_21">
<g id="xtick_61">
<g id="line2d_113">
<g>
<use href="#m1504cfccaf" x="87.45" y="683.53" class="u0"/>
</g>
</g>
<g id="text_99">
<text style="font-size: 10px; font-family: 'DejaVu Sans', 'Liberation Sans', sans-serif; text-anchor: middle" x="87.45" y="698.13">22:00</text>
</g>
</g>
<g id="xtick_62">
<g id="line2d_114">
<g>
<use href="#m1504cfccaf" x="124.9" y="683.53" class="u0"/>
</g>
</g>
<g id="text_100">
<text style="font-size: 10px; font-family: 'DejaVu Sans', 'Liberation Sans', sans-serif; text-anchor: middle" x="124.9" y="698.13">00:00</text>
</g>
</g>
<g id="xtick_63">
<g id="line2d_115">
<g>
<use href="#m1504cfccaf" x="162.36" y="683.53" class="u0"/>
</g>
</g>
<g id="text_101">
<text style="font-size: 10px; font-family: 'DejaVu Sans', 'Liberation Sans', sans-serif; text-anchor: middle" x="162.36" y="698.13">02:00</text>
</g>
</g>
<g id="xtick_64">
<g id="line2d_116">
<g>
<use href="#m1504cfccaf" x="199.81" y="683.53" class="u0"/>
</g>
</g>
<g id="text_102">
<text style="font-size: 10px; font-family: 'DejaVu Sans', 'Liberation Sans', sans-serif; text-anchor: middle" x="199.81" y="698.13">04:00</text>
</g>
</g>
<g id="xtick_65">
<g id="line2d_117">
<g>
<use href="#m1504cfccaf" x="237.26" y="683.53" class="u0"/>
</g>
</g>
<g id="text_103">
<text style="font-size: 10px; font-family: 'DejaVu Sans', 'Liberation Sans', sans-serif; text-anchor: middle" x="237.26" y="698.13">06:00</text>
</g>
</g>
<g id="xtick_66">
<g id="line2d_118">
<g>
<use href="#m1504cfccaf" x="274.71" y="683.53" class="u0"/>
</g>
</g>
<g id="text_104">
<text style="font-size: 10px; font-family: 'DejaVu Sans', 'Liberation Sans', sans-serif; text-anchor: middle" x="274.71" y="698.13">08:00</text>
</g>
</g>
</g>
<g id="matplotlib.axis_22">
<g id="ytick_24">
<g id="line2d_119">
<g>
<use href="#m5d545ce8f8" x="57.96" y="673.56" class="u0"/>
</g>
</g>
<g id="text_105">
<text style="font-size: 10px; font-family: 'DejaVu Sans', 'Liberation Sans', sans-serif; text-anchor: end" x="50.96" y="677.36">1500</text>
</g>
</g>
<g id="ytick_25">
<g id="line2d_120">
<g>
<use href="#m5d545ce8f8" x="57.96" y="649.8" class="u0"/>
</g>
</g>
<g id="text_106">
<text style="font-size: 10px; font-family: 'DejaVu Sans', 'Liberation Sans', sans-serif; text-anchor: end" x="50.96" y="653.6">2000</text>
</g>
</g>
<g id="ytick_26">
<g id="line2d_121">
<g>
<use href="#m5d545ce8f8" x="57.96" y="626.04" class="u0"/>
</g>
</g>
<g id="text_107">
<text style="font-size: 10px; font-family: 'DejaVu Sans', 'Liberation Sans', sans-serif; text-anchor: end" x="50.96" y="629.84">2500</text>
</g>
</g>
<g id="text_108">
<text style="font-size: 10px; font-family: 'DejaVu Sans', 'Liberation Sans', sans-serif; text-anchor: middle" x="17.99" y="646.81" transform="rotate(-90 17.990 646.812)">Flux [SFU]</text>
</g>
</g>
<g id="patch_179">
<path d="M70.2 622.6l.7-1.1 .7 .2 .8-.4 .7 0 .7-.2 .7-.2 .7 .2 .8 .1 .7-.5 .7 1 .7-.1 .7-.1 .8 .3 .7-.3 .7 .6 .7-.5 .7 .6 .8-.7 .7 .2 .7 .4 .7 .2 .7-.9 .8 .7 .7-.6 .7 1.1 .7 .2 .7-.6 .8 .8 .7 .5 .7-.2 .7 0 .7-.2 .8 .4 .7-.6 .7-.2 .7-.6 .7 1.2 .8-.6 .7-.1 .7 .5 .7 .2 .7 .1 .8 .4 .7 0 .7-.4 .7 .6 .7 .2 .8 .4 .7-.1 .7 .4 .7 .4 .7 .1 .8-.3 .7 .5 .7-.5 .7-.7 .7 .6 .8-.1 .7-.3 .7-.2 .7 .9 .7 0 .8-.1 .7 .1 .7 .2 .7-.3 .7 .9 .8 0 .7 .4 .7-.3 .7 .3 .7 .1 .8-.1 .7 .4 .7-.3 .7 0 .7 .1 .8-1.1 .7 .4 .7-.2 .7 0 .7 .6 .8 .4 .7 .2 .7 0 .7-.2 .7-.4 .8 .5 .7-.1 .7 .4 .7 .3 .7 .3 .8-.6 .7 .7 .7-.7 .7 .3 .7-.3 .8 0 .7 .1 .7-.2 .7 0 .7-.3 .8 .6 .7 .2 .7 .1 .7 0 .7 0 .8-.5 .7-.2 .7 .2 .7-.2 .7-.5 .8 0 .7 .2 .7 .1 .7-.2 .7 .2 .8-.1 .7 .1 .7-.2 .7 .4 .7 .4 .8 0 .7-.6 .7 .9 .7-.4 .7-.2 .8 .4 .7-.3 .7-.3 .7-.4 .7 .3 .8-.4 .7-.4 .7 .3 .7 1 .7-.1 .8-.3 .7-.2 .7-.2 .7-.8 .7 .8 .8-.4 .7 .5 .7 .5 .7-.1 .7 .5 .8-.1 .7-.1 .7 .5 .7 .2 .7-.3 .8-.7 .7 .2 .7-.9 .7 .8 .7 .2 .8-.5 .7 .6 .7-.3 .7 .2 .7-.1 .8 0 .7 0 .7 .2 .7-.4 .7 .4 .8 0 .7-.3 .7 .6 .7-.2 .7-.3 .8 .5 .7 .1 .7-.1 .7-.4 .7 .4 .8 .2 .7-.1 .7-.1 .7 0 .7-.2 .8-.1 .7-.3 .7 .4 .7-.5 .7 .2 .8-.2 .7 .4 .7-.1 .7 .3 .7 .1 .8-.2 .7 .3 .7 .4 .7 0 .7-.4 .8 .2 .7-.5 .7-.2 .7 .2 .7-.1 .8-.5 .7 0 .7 .3 .7 .2 .7-.4 .8 .4 .7-.3 .7 0 .7-.5 .7 .5 .8-.2 .7 0 .7-.3 .7-.2 .7-.1 .8 .5 .7-.2 .7 .6 .7-.3 .7-.2 .8-.2 .7 0 .7-.2 .7-.2 .7-.1 .8-.2 .7-.3 .7-.1 .7 0 .7 .3 .8-.1 .7 .5 .7-.3 .7-.2 .7-.4 .8-.1 .7-.9 .7 .4 .7 .1 .7 0 .8-1 .7 .4 .7 0 .7 .5 .7-.2 .8-.1 .7 .1 .7 .4 .7-.6 .7-.4 .8 .1 .7-.7 .7 .2 .7 .1 .7 .1 .8-.4 .7-.2 .7 .3 .7 .3 .7-.1 .8-.1 .7-.5 .7-.1 .7 .1 .7-.1 .8 .1 .7-.3 .7 .1 .7-.9 .7 .4 .8 0 .7 .4 .7-.4 .7 .3 .7-.1 .8-.5 .7-.1 .7 .1 .7-.2 .7 0 .8 .1 .7 .2 .7-.2 .7 0 .7-.7 .8 .2 .7 .1 .7-.1 .7-.7 .7-.3 .8 0 .7-.4 0 11.7-.7 .2-.8 .4-.7-.6-.7 .1-.7 0-.7 .1-.8 .4-.7-.1-.7 .1-.7 0-.7-.2-.8 .3-.7-.1-.7 .2-.7-.1-.7 0-.8 .2-.7-.3-.7 0-.7 0-.7 .2-.8-.5-.7 .5-.7-.7-.7 .9-.7 .2-.8 .3-.7-.1-.7 .4-.7 .4-.7-.7-.8-.4-.7 .2-.7 .9-.7-.7-.7 0-.8 .3-.7 .4-.7-.2-.7-.2-.7 .2-.8-.1-.7 .1-.7 .7-.7 .1-.7-.2-.8 .1-.7-.1-.7-.7-.7 .2-.7 .6-.8-.2-.7 .1-.7 0-.7-.4-.7 .4-.8 .3-.7-.2-.7 1-.7-.2-.7 .1-.8-.3-.7-.4-.7 .6-.7-.4-.7-.2-.8 .1-.7 .5-.7 .4-.7-.4-.7 .3-.8-.1-.7 .2-.7-.4-.7-.1-.7 .5-.8 0-.7-.4-.7 0-.7 .1-.7 0-.8 .7-.7 0-.7 .3-.7 .5-.7-.2-.8-.3-.7-.1-.7 .1-.7 0-.7-.3-.8 .4-.7 .4-.7 .2-.7 .1-.7 .4-.8-.3-.7-.5-.7-.4-.7-.5-.7 .6-.8-.4-.7 .3-.7 1-.7 .3-.7-.9-.8-.2-.7-.4-.7 .1-.7 1-.7-.1-.8-.1-.7 .3-.7 .1-.7-.5-.7 .6-.8-.1-.7 .6-.7-.7-.7 .3-.7-.2-.8-1-.7 .9-.7-.6-.7 0-.7 .3-.8 .6-.7-.2-.7-.1-.7 .1-.7-.1-.8-.2-.7-.6-.7 .8-.7-.5-.7-.1-.8 .1-.7 .5-.7 .3-.7 .2-.7-.3-.8-.1-.7-.3-.7 .5-.7-.8-.7 .2-.8 .8-.7-1.3-.7 .4-.7-.2-.7 0-.8 .5-.7-.3-.7 0-.7-.4-.7 .2-.8 .1-.7-.4-.7 .1-.7 0-.7 0-.8-.2-.7 0-.7 0-.7 .5-.7 .4-.8-.4-.7 .5-.7 1-.7-.7-.7-.2-.8 .3-.7-.4-.7 .4-.7-.1-.7-.3-.8 .1-.7 .9-.7-.7-.7-.7-.7 .4-.8-.2-.7 .4-.7-.1-.7 .1-.7-.4-.8 .1-.7 .1-.7 0-.7-.1-.7 .3-.8 .1-.7-.4-.7 .6-.7 .1-.7-.2-.8 .8-.7 0-.7-.5-.7 .1-.7-.3-.8-.4-.7-.4-.7 .6-.7-.8-.7 .9-.8 .2-.7-.2-.7-.2-.7 .6-.7-.4-.8-.5-.7-.2-.7-.1-.7 .3-.7-.7-.8 0-.7-.1-.7 .7-.7-.4-.7-.1-.8 .9-.7-.5-.7-.1-.7-.4-.7 .3-.8-.2-.7 .4-.7 .1-.7-.7-.7 1-.8-.9-.7-.3-.7 0-.7-.3-.7 1.1-.8-.9-.7 0-.7 .5-.7 0-.7-.3-.8 0-.7 .3-.7-.7-.7 .5-.7 .4-.8-.5-.7-.2-.7 .3-.7 0-.7-.1-.8-.2-.7 .2-.7-.6-.7 .2-.7-.8-.8 0-.7 0-.7-.3-.7 .7-.7 .1-.8-.5-.7-.7-.7 .2-.7-.5-.7 0-.8-.3-.7-.2-.7-.6-.7 .7-.7-.4-.8 0-.7-.4-.7 .2-.7-.1-.7-.5-.8 .7-.7-.5-.7 .5-.7-.2-.7 1-.8-.5-.7 .4-.7-.3-.7-.1-.7-1.1-.8-.2-.7-.2-.7 .2-.7-.6-.7 .1-.8 .7-.7-.4-.7-.1z" clip-path="url(#p17516c19e8)" style="fill: #0000ff; opacity: 0.18"/>
</g>
<g id="line2d_122">
<g clip-path="url(#p17516c19e8)">
<use href="#mce796437ce" x="181.11" y="635.76" class="u1"/>
<use href="#mce796437ce" x="180.93" y="638.57" class="u1"/>
<use href="#mce796437ce" x="180.88" y="641.38" class="u1"/>
<use href="#mce796437ce" x="181.02" y="644.18" class="u1"/>
<use href="#mce796437ce" x="181.03" y="646.99" class="u1"/>
<use href="#mce796437ce" x="181.08" y="649.8" class="u1"/>
</g>
</g>
<g id="line2d_123">
<g clip-path="url(#p17516c19e8)">
<use href="#mce796437ce" x="218.78" y="635.76" class="u1"/>
<use href="#mce796437ce" x="218.24" y="638.42" class="u1"/>
<use href="#mce796437ce" x="218.81" y="641.09" class="u1"/>
<use href="#mce796437ce" x="217.74" y="643.75" class="u1"/>
<use href="#mce796437ce" x="218.58" y="646.42" class="u1"/>
<use href="#mce796437ce" x="218.2" y="649.08" class="u1"/>
</g>
</g>
<g id="line2d_124">
<g clip-path="url(#p17516c19e8)">
<use href="#mce796437ce" x="256.39" y="635.76" class="u1"/>
<use href="#mce796437ce" x="255.77" y="638.35" class="u1"/>
<use href="#mce796437ce" x="256.19" y="640.94" class="u1"/>
<use href="#mce796437ce" x="255.75" y="643.54" class="u1"/>
<use href="#mce796437ce" x="255.72" y="646.13" class="u1"/>
<use href="#mce796437ce" x="256.13" y="648.72" class="u1"/>
</g>
</g>
<g id="line2d_125">
<g clip-path="url(#p17516c19e8)">
<use href="#mce796437ce" x="276.59" y="635.76" class="u1"/>
<use href="#mce796437ce" x="276.26" y="638.35" class="u1"/>
<use href="#mce796437ce" x="276.93" y="640.94" class="u1"/>
<use href="#mce796437ce" x="276.34" y="643.54" class="u1"/>
<use href="#mce796437ce" x="276.74" y="646.13" class="u1"/>
<use href="#mce796437ce" x="276.19" y="648.72" class="u1"/>
</g>
</g>
<g id="line2d_126">
<g clip-path="url(#p17516c19e8)">
<use href="#mce796437ce" x="281.1" y="635.76" class="u1"/>
<use href="#mce796437ce" x="281.32" y="638.5" class="u1"/>
<use href="#mce796437ce" x="281.09" y="641.23" class="u1"/>
<use href="#mce796437ce" x="281.4" y="643.97" class="u1"/>
<use href="#mce796437ce" x="280.84" y="646.7" class="u1"/>
<use href="#mce796437ce" x="281.34" y="649.44" class="u1"/>
</g>
</g>
<g id="patch_180">
<path d="M 57.96 683.53 57.96 609.37" style="fill: none; stroke: #000000; stroke-width: 0.8; stroke-linejoin: miter; stroke-linecap: square"/>
</g>
<g id="patch_181">
<path d="M 294.84 683.53 294.84 609.37" style="fill: none; stroke: #000000; stroke-width: 0.8; stroke-linejoin: miter; stroke-linecap: square"/>
</g>
<g id="patch_182">
<path d="M 57.96 683.53 294.84 683.53" style="fill: none; stroke: #000000; stroke-width: 0.8; stroke-linejoin: miter; stroke-linecap: square"/>
</g>
<g id="patch_183">
<path d="M 57.96 609.37 294.84 609.37" style="fill: none; stroke: #000000; stroke-width: 0.8; stroke-linejoin: miter; stroke-linecap: square"/>
</g>
<g id="patch_184">
<path d="M70.2 623.6l.7-1.4 .7 .2 .8-.1 .7-.2 .7-.3 .7 0 .7 .1 .8 .1 .7 0 .7 .4 .7 .1 .7-.1 .8 .2 .7 .3 .7-.1 .7-.2 .7 .3 .8 0 .7-.2 .7 .1 .7 .3 .7-.4 .8 .2 .7 .2 .7 .4 .7 .1 .7 .3 .8 .1 .7 .3 .7-.3 .7 .1 .7 0 .8 .1 .7-.3 .7 .1 .7-.3 .7 .3 .8-.4 .7 .2 .7 .2 .7 .4 .7-.1 .8 .3 .7 .2 .7-.3 .7 .2 .7 .3 .8 .3 .7 .1 .7 .6 .7 .1 .7 .1 .8 0 .7 .1 .7-.3 .7-.4 .7 0 .8 0 .7 .4 .7-.1 .7 .6 .7-.2 .8 .1 .7-.4 .7 .5 .7-.1 .7 .4 .8 .1 .7 .3 .7 .2 .7 .1 .7-.1 .8 .3 .7-.1 .7-.1 .7-.1 .7 0 .8-.7 .7 .2 .7-.2 .7 .2 .7 .4 .8 .3 .7 .1 .7 .2 .7 0 .7-.5 .8 .3 .7-.1 .7 .3 .7 .3 .7 .3 .8-.1 .7 .4 .7-.3 .7-.3 .7-.1 .8 .2 .7-.3 .7 0 .7 0 .7 .2 .8 .2 .7 0 .7 .1 .7 0 .7-.1 .8-.4 .7 0 .7-.1 .7-.1 .7-.1 .8 .1 .7-.2 .7 .1 .7 .1 .7-.1 .8-.1 .7 .1 .7 .1 .7 .2 .7 .1 .8 .1 .7 0 .7 .2 .7 0 .7-.2 .8 0 .7-.1 .7-.3 .7-.4 .7 .1 .8-.2 .7 0 .7 .3 .7 .5 .7-.2 .8 .1 .7-.1 .7-.5 .7-.3 .7 .1 .8 0 .7 .2 .7 .3 .7 .1 .7 .3 .8 .3 .7-.1 .7 .3 .7 .3 .7-.4 .8 0 .7-.1 .7-.5 .7 .1 .7 .3 .8-.2 .7 .2 .7-.1 .7-.1 .7-.2 .8 .2 .7 .1 .7 .3 .7-.2 .7 .1 .8 0 .7 0 .7 0 .7 .2 .7-.1 .8 .2 .7-.3 .7 .4 .7-.2 .7 .2 .8-.2 .7 .1 .7-.3 .7 .2 .7-.3 .8 .1 .7-.1 .7-.1 .7-.1 .7 .1 .8-.4 .7 .3 .7 0 .7 .3 .7 0 .8 .6 .7 .1 .7 .2 .7-.4 .7 .1 .8-.3 .7-.4 .7 .1 .7-.1 .7 0 .8-.6 .7 .3 .7-.1 .7 .2 .7 0 .8 .3 .7-.1 .7 0 .7-.2 .7 0 .8 .1 .7-.2 .7-.2 .7 0 .7-.2 .8 .2 .7-.1 .7 .2 .7 0 .7-.3 .8-.4 .7 .2 .7-.3 .7-.4 .7 .3 .8-.3 .7-.4 .7-.2 .7 .1 .7 .1 .8 .2 .7 .3 .7-.2 .7-.3 .7-.4 .8 .1 .7-.4 .7-.2 .7 .1 .7 .2 .8-.6 .7 .1 .7 0 .7 .1 .7-.1 .8 .2 .7 0 .7 .1 .7-.3 .7-.3 .8-.2 .7-.3 .7 0 .7-.2 .7 .1 .8-.2 .7 .2 .7 0 .7 .2 .7-.2 .8 0 .7-.3 .7 0 .7-.3 .7-.2 .8 .1 .7 .1 .7-.4 .7-.2 .7-.2 .8 .2 .7 .2 .7-.1 .7 .1 .7 .2 .8-.3 .7-.5 .7-.1 .7 .1 .7 0 .8-.1 .7 .1 .7-.1 .7 0 .7-.3 .8 .1 .7-.3 .7-.1 .7-.3 .7-.7 .8 .1 .7 .1 0 9.6-.7 .1-.8 .1-.7-.1-.7 0-.7-.1-.7 .1-.8 .2-.7 .2-.7 .1-.7 .1-.7-.2-.8-.2-.7 .1-.7 .1-.7-.2-.7 .1-.8 .2-.7 0-.7-.1-.7 .1-.7-.1-.8-.1-.7-.1-.7-.1-.7 .2-.7 .6-.8 .4-.7 .1-.7 0-.7 .4-.7-.4-.8-.5-.7 .4-.7 .2-.7-.2-.7-.1-.8 .5-.7-.1-.7 0-.7 .2-.7 .1-.8 0-.7 0-.7 .4-.7 0-.7 .2-.8 .1-.7-.3-.7-.4-.7 0-.7 .1-.8 0-.7 .4-.7 0-.7-.3-.7 .3-.8 .1-.7 .2-.7 .5-.7 0-.7 .1-.8-.2-.7-.3-.7 .2-.7 0-.7-.4-.8 .4-.7 .3-.7-.1-.7 .3-.7 .2-.8-.1-.7 0-.7 0-.7-.2-.7 .3-.8 0-.7-.1-.7-.2-.7 .2-.7-.1-.8 .5-.7 .1-.7 .3-.7 .1-.7 .1-.8-.3-.7 .1-.7 0-.7-.1-.7 0-.8 .3-.7 .3-.7 .1-.7 .4-.7 .1-.8-.1-.7-.4-.7-.5-.7-.4-.7 .1-.8 .1-.7 .3-.7 .2-.7 .1-.7-.2-.8-.2-.7-.1-.7 .1-.7 .2-.7 .1-.8 .3-.7-.1-.7 .3-.7-.3-.7 .3-.8 .1-.7 .2-.7 0-.7 .2-.7-.5-.8-.6-.7 .2-.7 0-.7-.1-.7 .2-.8 .5-.7-.2-.7 0-.7-.1-.7 0-.8 0-.7-.3-.7-.2-.7 .1-.7 0-.8 .2-.7 .6-.7 .2-.7 .2-.7-.3-.8-.2-.7-.3-.7-.2-.7 0-.7 .3-.8-.3-.7-.2-.7 .2-.7 0-.7-.1-.8 .1-.7 0-.7 .1-.7-.6-.7 .4-.8 .1-.7-.3-.7-.1-.7 .2-.7-.4-.8 .1-.7 .1-.7 0-.7 .4-.7 .2-.8-.2-.7 .5-.7 .2-.7-.4-.7 .1-.8 .3-.7-.2-.7 .1-.7 .3-.7-.5-.8 .1-.7-.1-.7-.2-.7-.1-.7 .2-.8-.1-.7 .2-.7 0-.7 .1-.7 0-.8 .1-.7-.1-.7 0-.7-.1-.7 .1-.8 0-.7-.2-.7 .6-.7 .1-.7-.2-.8 .3-.7 .4-.7-.5-.7 .1-.7 0-.8-.7-.7-.4-.7 0-.7-.1-.7 .4-.8 .5-.7 0-.7 0-.7-.2-.7 .1-.8-.3-.7-.1-.7-.1-.7-.1-.7-.3-.8-.2-.7 0-.7 .3-.7 .1-.7-.1-.8 .3-.7 0-.7-.4-.7-.1-.7 .2-.8-.2-.7 0-.7 .2-.7-.2-.7-.1-.8-.1-.7-.1-.7-.2-.7-.1-.7 .1-.8-.1-.7 0-.7 .3-.7 0-.7-.1-.8 .3-.7 .1-.7-.4-.7 .2-.7 0-.8 0-.7 0-.7 .1-.7-.1-.7-.1-.8-.4-.7-.1-.7-.1-.7-.3-.7-.2-.8 .2-.7-.4-.7-.2-.7 .3-.7 .1-.8-.5-.7 0-.7 0-.7-.4-.7-.4-.8 .1-.7-.4-.7-.4-.7 .1-.7 0-.8-.3-.7 .1-.7-.2-.7-.3-.7 0-.8 .2-.7 0-.7 .4-.7 0-.7 .3-.8 .1-.7 0-.7-.3-.7-.1-.7-.6-.8-.4-.7-.2-.7 .1-.7-.3-.7 .1-.8-.2-.7-.2-.7 0z" clip-path="url(#p17516c19e8)" style="fill: #0000ff"/>
</g>
<g id="patch_185">
<path d="M 69.7 623.52 71.5 623.52 71.5 650.02 69.7 650.02 z" clip-path="url(#p17516c19e8)" style="fill: #0000ff"/>
</g>
<g id="patch_186">
<path d="M 69.55 623.52 71.86 623.52 71.86 633.6 69.55 633.6 z" clip-path="url(#p17516c19e8)" style="fill: #0000ff"/>
</g>
<g id="patch_187">
<path d="M 245.52 634.32 245.39 635.47 245.05 636.32 244.58 636.62 244.12 636.32 243.77 635.47 243.65 634.32 243.77 633.17 244.12 632.32 244.58 632.02 245.05 632.32 245.39 633.17 z" clip-path="url(#p17516c19e8)" style="fill: #0000ff"/>
</g>
<g id="patch_188">
<path d="M 282.31 625.68 282.15 628.02 281.7 629.73 281.09 630.36 280.48 629.73 280.03 628.02 279.86 625.68 280.03 623.34 280.48 621.63 281.09 621 281.7 621.63 282.15 623.34 z" clip-path="url(#p17516c19e8)" style="fill: #0000ff"/>
</g>
<g id="patch_189">
<path d="M 71.21 649.44 71.08 649.98 70.74 650.38 70.27 650.52 69.8 650.38 69.46 649.98 69.34 649.44 69.46 648.9 69.8 648.5 70.27 648.36 70.74 648.5 71.08 648.9 z" clip-path="url(#p17516c19e8)" style="fill: #0000ff"/>
</g>
<g id="text_109">
<text style="font-size: 12px; font-family: 'DejaVu Sans', 'Liberation Sans', sans-serif; text-anchor: middle" x="176.4" y="603.37">NoRP 35GHz Stokes-I</text>
</g>
</g>
<g id="axes_12">
<g id="patch_190">
<path d="M 340.2 683.53 577.08 683.53 577.08 609.37 340.2 609.37 z" style="fill: #ffffff"/>
</g>
<g id="matplotlib.axis_23">
<g id="xtick_67">
<g id="line2d_127">
<g>
<use href="#m1504cfccaf" x="369.69" y="683.53" class="u0"/>
</g>
</g>
<g id="text_110">
<text style="font-size: 10px; font-family: 'DejaVu Sans', 'Liberation Sans', sans-serif; text-anchor: middle" x="369.69" y="698.13">22:00</text>
</g>
</g>
<g id="xtick_68">
<g id="line2d_128">
<g>
<use href="#m1504cfccaf" x="407.14" y="683.53" class="u0"/>
</g>
</g>
<g id="text_111">
<text style="font-size: 10px; font-family: 'DejaVu Sans', 'Liberation Sans', sans-serif; text-anchor: middle" x="407.14" y="698.13">00:00</text>
</g>
</g>
<g id="xtick_69">
<g id="line2d_129">
<g>
<use href="#m1504cfccaf" x="444.6" y="683.53" class="u0"/>
</g>
</g>
<g id="text_112">
<text style="font-size: 10px; font-family: 'DejaVu Sans', 'Liberation Sans', sans-serif; text-anchor: middle" x="444.6" y="698.13">02:00</text>
</g>
</g>
<g id="xtick_70">
<g id="line2d_130">
<g>
<use href="#m1504cfccaf" x="482.05" y="683.53" class="u0"/>
</g>
</g>
<g id="text_113">
<text style="font-size: 10px; font-family: 'DejaVu Sans', 'Liberation Sans', sans-serif; text-anchor: middle" x="482.05" y="698.13">04:00</text>
</g>
</g>
<g id="xtick_71">
<g id="line2d_131">
<g>
<use href="#m1504cfccaf" x="519.5" y="683.53" class="u0"/>
</g>
</g>
<g id="text_114">
<text style="font-size: 10px; font-family: 'DejaVu Sans', 'Liberation Sans', sans-serif; text-anchor: middle" x="519.5" y="698.13">06:00</text>
</g>
</g>
<g id="xtick_72">
<g id="line2d_132">
<g>
<use href="#m1504cfccaf" x="556.95" y="683.53" class="u0"/>
</g>
</g>
<g id="text_115">
<text style="font-size: 10px; font-family: 'DejaVu Sans', 'Liberation Sans', sans-serif; text-anchor: middle" x="556.95" y="698.13">08:00</text>
</g>
</g>
</g>
<g id="matplotlib.axis_24">
<g id="ytick_27">
<g id="line2d_133">
<g>
<use href="#m5d545ce8f8" x="340.2" y="681.6" class="u0"/>
</g>
</g>
<g id="text_116">
<text style="font-size: 10px; font-family: 'DejaVu Sans', 'Liberation Sans', sans-serif; text-anchor: end" x="333.2" y="685.4">−50</text>
</g>
</g>
<g id="ytick_28">
<g id="line2d_134">
<g>
<use href="#m5d545ce8f8" x="340.2" y="646.68" class="u0"/>
</g>
</g>
<g id="text_117">
<text style="font-size: 10px; font-family: 'DejaVu Sans', 'Liberation Sans', sans-serif; text-anchor: end" x="333.2" y="650.48">0</text>
</g>
</g>
<g id="ytick_29">
<g id="line2d_135">
<g>
<use href="#m5d545ce8f8" x="340.2" y="611.76" class="u0"/>
</g>
</g>
<g id="text_118">
<text style="font-size: 10px; font-family: 'DejaVu Sans', 'Liberation Sans', sans-serif; text-anchor: end" x="333.2" y="615.56">50</text>
</g>
</g>
</g>
<g id="line2d_136">
<g clip-path="url(#p1a9d60e98b)">
<use href="#mcfa5bfee2b" x="364.92" y="609.53" class="u3"/>
<use href="#mcfa5bfee2b" x="385.62" y="609.67" class="u3"/>
<use href="#mcfa5bfee2b" x="392.73" y="609.47" class="u3"/>
<use href="#mcfa5bfee2b" x="437.86" y="609.6" class="u3"/>
<use href="#mcfa5bfee2b" x="502.03" y="609.42" class="u3"/>
<use href="#mcfa5bfee2b" x="512.11" y="609.57" class="u3"/>
<use href="#mcfa5bfee2b" x="515.96" y="609.56" class="u3"/>
</g>
</g>
<g id="patch_191">
<path d="M 353.74 616.39 564.05 616.39 564.05 618.12 353.74 618.12 z" clip-path="url(#p1a9d60e98b)" style="fill: #ffa500; opacity: 0.35"/>
</g>
<g id="line2d_137">
<g clip-path="url(#p1a9d60e98b)">
<use href="#m1590b065b2" x="354.96" y="617.26" class="u4"/>
<use href="#m1590b065b2" x="355.78" y="617.26" class="u4"/>
<use href="#m1590b065b2" x="358.27" y="617.26" class="u4"/>
<use href="#m1590b065b2" x="359.05" y="617.26" class="u4"/>
<use href="#m1590b065b2" x="360.79" y="617.26" class="u4"/>
<use href="#m1590b065b2" x="361.14" y="617.26" class="u4"/>
<use href="#m1590b065b2" x="364.64" y="617.26" class="u4"/>
<use href="#m1590b065b2" x="364.71" y="617.26" class="u4"/>
<use href="#m1590b065b2" x="369.79" y="617.26" class="u4"/>
<use href="#m1590b065b2" x="370.56" y="617.26" class="u4"/>
<use href="#m1590b065b2" x="372.47" y="617.26" class="u4"/>
<use href="#m1590b065b2" x="372.77" y="617.26" class="u4"/>
<use href="#m1590b065b2" x="373.1" y="617.26" class="u4"/>
<use href="#m1590b065b2" x="374.53" y="617.26" class="u4"/>
<use href="#m1590b065b2" x="375.2" y="617.26" class="u4"/>
<use href="#m1590b065b2" x="376.54" y="617.26" class="u4"/>
<use href="#m1590b065b2" x="378.46" y="617.26" class="u4"/>
<use href="#m1590b065b2" x="380.39" y="617.26" class="u4"/>
<use href="#m1590b065b2" x="380.48" y="617.26" class="u4"/>
<use href="#m1590b065b2" x="381.27" y="617.26" class="u4"/>
<use href="#m1590b065b2" x="381.85" y="617.26" class="u4"/>
<use href="#m1590b065b2" x="383.03" y="617.26" class="u4"/>
<use href="#m1590b065b2" x="385.35" y="617.26" class="u4"/>
<use href="#m1590b065b2" x="385.96" y="617.26" class="u4"/>
<use href="#m1590b065b2" x="388.83" y="617.26" class="u4"/>
<use href="#m1590b065b2" x="389.15" y="617.26" class="u4"/>
<use href="#m1590b065b2" x="397.79" y="617.26" class="u4"/>
<use href="#m1590b065b2" x="401.67" y="617.26" class="u4"/>
<use href="#m1590b065b2" x="404.06" y="617.26" class="u4"/>
<use href="#m1590b065b2" x="404.36" y="617.26" class="u4"/>
<use href="#m1590b065b2" x="407.75" y="617.26" class="u4"/>
<use href="#m1590b065b2" x="408.11" y="617.26" class="u4"/>
<use href="#m1590b065b2" x="409.26" y="617.26" class="u4"/>
<use href="#m1590b065b2" x="409.47" y="617.26" class="u4"/>
<use href="#m1590b065b2" x="409.8" y="617.26" class="u4"/>
<use href="#m1590b065b2" x="416.25" y="617.26" class="u4"/>
<use href="#m1590b065b2" x="423.5" y="617.26" class="u4"/>
<use href="#m1590b065b2" x="424.38" y="617.26" class="u4"/>
<use href="#m1590b065b2" x="427.88" y="617.26" class="u4"/>
<use href="#m1590b065b2" x="428.08" y="617.26" class="u4"/>
<use href="#m1590b065b2" x="428.65" y="617.26" class="u4"/>
<use href="#m1590b065b2" x="430.21" y="617.26" class="u4"/>
<use href="#m1590b065b2" x="434.11" y="617.26" class="u4"/>
<use href="#m1590b065b2" x="435.52" y="617.26" class="u4"/>
<use href="#m1590b065b2" x="436.86" y="617.26" class="u4"/>
<use href="#m1590b065b2" x="437.83" y="617.26" class="u4"/>
<use href="#m1590b065b2" x="438.42" y="617.26" class="u4"/>
<use href="#m1590b065b2" x="439.36" y="617.26" class="u4"/>
<use href="#m1590b065b2" x="439.83" y="617.26" class="u4"/>
<use href="#m1590b065b2" x="442.39" y="617.26" class="u4"/>
<use href="#m1590b065b2" x="442.4" y="617.26" class="u4"/>
<use href="#m1590b065b2" x="444.03" y="617.26" class="u4"/>
<use href="#m1590b065b2" x="444.91" y="617.26" class="u4"/>
<use href="#m1590b065b2" x="447.69" y="617.26" class="u4"/>
<use href="#m1590b065b2" x="451" y="617.26" class="u4"/>
<use href="#m1590b065b2" x="451.66" y="617.26" class="u4"/>
<use href="#m1590b065b2" x="452.33" y="617.26" class="u4"/>
<use href="#m1590b065b2" x="452.54" y="617.26" class="u4"/>
<use href="#m1590b065b2" x="456.04" y="617.26" class="u4"/>
<use href="#m1590b065b2" x="458.01" y="617.26" class="u4"/>
<use href="#m1590b065b2" x="461.75" y="617.26" class="u4"/>
<use href="#m1590b065b2" x="464.53" y="617.26" class="u4"/>
<use href="#m1590b065b2" x="464.66" y="617.26" class="u4"/>
<use href="#m1590b065b2" x="467.82" y="617.26" class="u4"/>
<use href="#m1590b065b2" x="468.49" y="617.26" class="u4"/>
<use href="#m1590b065b2" x="469.79" y="617.26" class="u4"/>
<use href="#m1590b065b2" x="471.7" y="617.26" class="u4"/>
<use href="#m1590b065b2" x="472.32" y="617.26" class="u4"/>
<use href="#m1590b065b2" x="473.49" y="617.26" class="u4"/>
<use href="#m1590b065b2" x="474.7" y="617.26" class="u4"/>
<use href="#m1590b065b2" x="477.76" y="617.26" class="u4"/>
<use href="#m1590b065b2" x="479.4" y="617.26" class="u4"/>
<use href="#m1590b065b2" x="482.16" y="617.26" class="u4"/>
<use href="#m1590b065b2" x="484.11" y="617.26" class="u4"/>
<use href="#m1590b065b2" x="484.45" y="617.26" class="u4"/>
<use href="#m1590b065b2" x="485.47" y="617.26" class="u4"/>
<use href="#m1590b065b2" x="487.17" y="617.26" class="u4"/>
<use href="#m1590b065b2" x="489.31" y="617.26" class="u4"/>
<use href="#m1590b065b2" x="489.84" y="617.26" class="u4"/>
<use href="#m1590b065b2" x="490.19" y="617.26" class="u4"/>
<use href="#m1590b065b2" x="496.7" y="617.26" class="u4"/>
<use href="#m1590b065b2" x="497" y="617.26" class="u4"/>
<use href="#m1590b065b2" x="497.62" y="617.26" class="u4"/>
<use href="#m1590b065b2" x="500.05" y="617.26" class="u4"/>
<use href="#m1590b065b2" x="500.27" y="617.26" class="u4"/>
<use href="#m1590b065b2" x="506.28" y="617.26" class="u4"/>
<use href="#m1590b065b2" x="507.06" y="617.26" class="u4"/>
<use href="#m1590b065b2" x="508.86" y="617.26" class="u4"/>
<use href="#m1590b065b2" x="509.55" y="617.26" class="u4"/>
<use href="#m1590b065b2" x="510.33" y="617.26" class="u4"/>
<use href="#m1590b065b2" x="510.45" y="617.26" class="u4"/>
<use href="#m1590b065b2" x="512.12" y="617.26" class="u4"/>
<use href="#m1590b065b2" x="514.27" y="617.26" class="u4"/>
<use href="#m1590b065b2" x="515.01" y="617.26" class="u4"/>
<use href="#m1590b065b2" x="515.21" y="617.26" class="u4"/>
<use href="#m1590b065b2" x="515.33" y="617.26" class="u4"/>
<use href="#m1590b065b2" x="515.64" y="617.26" class="u4"/>
<use href="#m1590b065b2" x="520.33" y="617.26" class="u4"/>
<use href="#m1590b065b2" x="522.67" y="617.26" class="u4"/>
<use href="#m1590b065b2" x="522.81" y="617.26" class="u4"/>
<use href="#m1590b065b2" x="525.54" y="617.26" class="u4"/>
<use href="#m1590b065b2" x="526.01" y="617.26" class="u4"/>
<use href="#m1590b065b2" x="527.15" y="617.26" class="u4"/>
<use href="#m1590b065b2" x="527.32" y="617.26" class="u4"/>
<use href="#m1590b065b2" x="528.36" y="617.26" class="u4"/>
<use href="#m1590b065b2" x="528.97" y="617.26" class="u4"/>
<use href="#m1590b065b2" x="529.36" y="617.26" class="u4"/>
<use href="#m1590b065b2" x="529.53" y="617.26" class="u4"/>
<use href="#m1590b065b2" x="531.1" y="617.26" class="u4"/>
<use href="#m1590b065b2" x="531.89" y="617.26" class="u4"/>
<use href="#m1590b065b2" x="532.16" y="617.26" class="u4"/>
<use href="#m1590b065b2" x="533.1" y="617.26" class="u4"/>
<use href="#m1590b065b2" x="534.12" y="617.26" class="u4"/>
<use href="#m1590b065b2" x="534.32" y="617.26" class="u4"/>
<use href="#m1590b065b2" x="536.17" y="617.26" class="u4"/>
<use href="#m1590b065b2" x="540.78" y="617.26" class="u4"/>
<use href="#m1590b065b2" x="545.34" y="617.26" class="u4"/>
<use href="#m1590b065b2" x="545.65" y="617.26" class="u4"/>
<use href="#m1590b065b2" x="545.73" y="617.26" class="u4"/>
<use href="#m1590b065b2" x="547.04" y="617.26" class="u4"/>
<use href="#m1590b065b2" x="547.3" y="617.26" class="u4"/>
<use href="#m1590b065b2" x="547.91" y="617.26" class="u4"/>
<use href="#m1590b065b2" x="549.52" y="617.26" class="u4"/>
<use href="#m1590b065b2" x="551.06" y="617.26" class="u4"/>
<use href="#m1590b065b2" x="553.81" y="617.26" class="u4"/>
<use href="#m1590b065b2" x="555.8" y="617.26" class="u4"/>
<use href="#m1590b065b2" x="556.1" y="617.26" class="u4"/>
</g>
</g>
<g id="patch_192">
<path d="M 353.74 673.85 564.05 673.85 564.05 675.58 353.74 675.58 z" clip-path="url(#p1a9d60e98b)" style="fill: #ffa500; opacity: 0.4"/>
</g>
<g id="line2d_138">
<g clip-path="url(#p1a9d60e98b)">
<use href="#m1590b065b2" x="354.93" y="674.71" class="u4"/>
<use href="#m1590b065b2" x="357.71" y="674.71" class="u4"/>
<use href="#m1590b065b2" x="359.46" y="674.71" class="u4"/>
<use href="#m1590b065b2" x="359.8" y="674.71" class="u4"/>
<use href="#m1590b065b2" x="359.82" y="674.71" class="u4"/>
<use href="#m1590b065b2" x="365.96" y="674.71" class="u4"/>
<use href="#m1590b065b2" x="366.84" y="674.71" class="u4"/>
<use href="#m1590b065b2" x="369.58" y="674.71" class="u4"/>
<use href="#m1590b065b2" x="370.48" y="674.71" class="u4"/>
<use href="#m1590b065b2" x="371.91" y="674.71" class="u4"/>
<use href="#m1590b065b2" x="373.39" y="674.71" class="u4"/>
<use href="#m1590b065b2" x="373.68" y="674.71" class="u4"/>
<use href="#m1590b065b2" x="374.3" y="674.71" class="u4"/>
<use href="#m1590b065b2" x="374.93" y="674.71" class="u4"/>
<use href="#m1590b065b2" x="375.01" y="674.71" class="u4"/>
<use href="#m1590b065b2" x="376.75" y="674.71" class="u4"/>
<use href="#m1590b065b2" x="381.51" y="674.71" class="u4"/>
<use href="#m1590b065b2" x="382.23" y="674.71" class="u4"/>
<use href="#m1590b065b2" x="382.94" y="674.71" class="u4"/>
<use href="#m1590b065b2" x="383.11" y="674.71" class="u4"/>
<use href="#m1590b065b2" x="386.64" y="674.71" class="u4"/>
<use href="#m1590b065b2" x="387.62" y="674.71" class="u4"/>
<use href="#m1590b065b2" x="387.64" y="674.71" class="u4"/>
<use href="#m1590b065b2" x="389" y="674.71" class="u4"/>
<use href="#m1590b065b2" x="389.31" y="674.71" class="u4"/>
<use href="#m1590b065b2" x="389.38" y="674.71" class="u4"/>
<use href="#m1590b065b2" x="389.5" y="674.71" class="u4"/>
<use href="#m1590b065b2" x="391.83" y="674.71" class="u4"/>
<use href="#m1590b065b2" x="392.92" y="674.71" class="u4"/>
<use href="#m1590b065b2" x="396.39" y="674.71" class="u4"/>
<use href="#m1590b065b2" x="401.97" y="674.71" class="u4"/>
<use href="#m1590b065b2" x="402.59" y="674.71" class="u4"/>
<use href="#m1590b065b2" x="404.82" y="674.71" class="u4"/>
<use href="#m1590b065b2" x="404.85" y="674.71" class="u4"/>
<use href="#m1590b065b2" x="407.05" y="674.71" class="u4"/>
<use href="#m1590b065b2" x="409.28" y="674.71" class="u4"/>
<use href="#m1590b065b2" x="409.68" y="674.71" class="u4"/>
<use href="#m1590b065b2" x="409.77" y="674.71" class="u4"/>
<use href="#m1590b065b2" x="413.22" y="674.71" class="u4"/>
<use href="#m1590b065b2" x="414.55" y="674.71" class="u4"/>
<use href="#m1590b065b2" x="414.83" y="674.71" class="u4"/>
<use href="#m1590b065b2" x="416.62" y="674.71" class="u4"/>
<use href="#m1590b065b2" x="417.77" y="674.71" class="u4"/>
<use href="#m1590b065b2" x="419.95" y="674.71" class="u4"/>
<use href="#m1590b065b2" x="424.7" y="674.71" class="u4"/>
<use href="#m1590b065b2" x="426.17" y="674.71" class="u4"/>
<use href="#m1590b065b2" x="426.35" y="674.71" class="u4"/>
<use href="#m1590b065b2" x="426.8" y="674.71" class="u4"/>
<use href="#m1590b065b2" x="427.94" y="674.71" class="u4"/>
<use href="#m1590b065b2" x="429.94" y="674.71" class="u4"/>
<use href="#m1590b065b2" x="431.34" y="674.71" class="u4"/>
<use href="#m1590b065b2" x="434.59" y="674.71" class="u4"/>
<use href="#m1590b065b2" x="437.55" y="674.71" class="u4"/>
<use href="#m1590b065b2" x="438.24" y="674.71" class="u4"/>
<use href="#m1590b065b2" x="438.46" y="674.71" class="u4"/>
<use href="#m1590b065b2" x="438.77" y="674.71" class="u4"/>
<use href="#m1590b065b2" x="441.49" y="674.71" class="u4"/>
<use href="#m1590b065b2" x="443.4" y="674.71" class="u4"/>
<use href="#m1590b065b2" x="445.83" y="674.71" class="u4"/>
<use href="#m1590b065b2" x="448.29" y="674.71" class="u4"/>
<use href="#m1590b065b2" x="452.4" y="674.71" class="u4"/>
<use href="#m1590b065b2" x="459.77" y="674.71" class="u4"/>
<use href="#m1590b065b2" x="459.94" y="674.71" class="u4"/>
<use href="#m1590b065b2" x="460.43" y="674.71" class="u4"/>
<use href="#m1590b065b2" x="461.42" y="674.71" class="u4"/>
<use href="#m1590b065b2" x="461.72" y="674.71" class="u4"/>
<use href="#m1590b065b2" x="462" y="674.71" class="u4"/>
<use href="#m1590b065b2" x="463.35" y="674.71" class="u4"/>
<use href="#m1590b065b2" x="465.49" y="674.71" class="u4"/>
<use href="#m1590b065b2" x="467.02" y="674.71" class="u4"/>
<use href="#m1590b065b2" x="469.98" y="674.71" class="u4"/>
<use href="#m1590b065b2" x="472.03" y="674.71" class="u4"/>
<use href="#m1590b065b2" x="473.04" y="674.71" class="u4"/>
<use href="#m1590b065b2" x="473.07" y="674.71" class="u4"/>
<use href="#m1590b065b2" x="473.26" y="674.71" class="u4"/>
<use href="#m1590b065b2" x="473.83" y="674.71" class="u4"/>
<use href="#m1590b065b2" x="474.96" y="674.71" class="u4"/>
<use href="#m1590b065b2" x="475.17" y="674.71" class="u4"/>
<use href="#m1590b065b2" x="476.88" y="674.71" class="u4"/>
<use href="#m1590b065b2" x="480.31" y="674.71" class="u4"/>
<use href="#m1590b065b2" x="480.87" y="674.71" class="u4"/>
<use href="#m1590b065b2" x="484.01" y="674.71" class="u4"/>
<use href="#m1590b065b2" x="484.49" y="674.71" class="u4"/>
<use href="#m1590b065b2" x="488.78" y="674.71" class="u4"/>
<use href="#m1590b065b2" x="489.88" y="674.71" class="u4"/>
<use href="#m1590b065b2" x="490.89" y="674.71" class="u4"/>
<use href="#m1590b065b2" x="497.44" y="674.71" class="u4"/>
<use href="#m1590b065b2" x="501.48" y="674.71" class="u4"/>
<use href="#m1590b065b2" x="505.34" y="674.71" class="u4"/>
<use href="#m1590b065b2" x="505.76" y="674.71" class="u4"/>
<use href="#m1590b065b2" x="507.43" y="674.71" class="u4"/>
<use href="#m1590b065b2" x="507.9" y="674.71" class="u4"/>
<use href="#m1590b065b2" x="509.9" y="674.71" class="u4"/>
<use href="#m1590b065b2" x="510.68" y="674.71" class="u4"/>
<use href="#m1590b065b2" x="512.8" y="674.71" class="u4"/>
<use href="#m1590b065b2" x="514.8" y="674.71" class="u4"/>
<use href="#m1590b065b2" x="515.22" y="674.71" class="u4"/>
<use href="#m1590b065b2" x="516.79" y="674.71" class="u4"/>
<use href="#m1590b065b2" x="517.9" y="674.71" class="u4"/>
<use href="#m1590b065b2" x="521.74" y="674.71" class="u4"/>
<use href="#m1590b065b2" x="522.25" y="674.71" class="u4"/>
<use href="#m1590b065b2" x="523.06" y="674.71" class="u4"/>
<use href="#m1590b065b2" x="523.6" y="674.71" class="u4"/>
<use href="#m1590b065b2" x="525.61" y="674.71" class="u4"/>
<use href="#m1590b065b2" x="528.7" y="674.71" class="u4"/>
<use href="#m1590b065b2" x="531.22" y="674.71" class="u4"/>
<use href="#m1590b065b2" x="531.86" y="674.71" class="u4"/>
<use href="#m1590b065b2" x="534.06" y="674.71" class="u4"/>
<use href="#m1590b065b2" x="534.88" y="674.71" class="u4"/>
<use href="#m1590b065b2" x="536.94" y="674.71" class="u4"/>
<use href="#m1590b065b2" x="538.8" y="674.71" class="u4"/>
<use href="#m1590b065b2" x="539.85" y="674.71" class="u4"/>
<use href="#m1590b065b2" x="540.25" y="674.71" class="u4"/>
<use href="#m1590b065b2" x="542.81" y="674.71" class="u4"/>
<use href="#m1590b065b2" x="544.55" y="674.71" class="u4"/>
<use href="#m1590b065b2" x="545.86" y="674.71" class="u4"/>
<use href="#m1590b065b2" x="546.26" y="674.71" class="u4"/>
<use href="#m1590b065b2" x="548.72" y="674.71" class="u4"/>
<use href="#m1590b065b2" x="549.23" y="674.71" class="u4"/>
<use href="#m1590b065b2" x="550.69" y="674.71" class="u4"/>
<use href="#m1590b065b2" x="551.86" y="674.71" class="u4"/>
<use href="#m1590b065b2" x="552.63" y="674.71" class="u4"/>
<use href="#m1590b065b2" x="553.86" y="674.71" class="u4"/>
<use href="#m1590b065b2" x="555.25" y="674.71" class="u4"/>
<use href="#m1590b065b2" x="556.47" y="674.71" class="u4"/>
<use href="#m1590b065b2" x="557.12" y="674.71" class="u4"/>
<use href="#m1590b065b2" x="562.76" y="674.71" class="u4"/>
</g>
</g>
<g id="patch_193">
<path d="M 340.2 683.53 340.2 609.37" style="fill: none; stroke: #000000; stroke-width: 0.8; stroke-linejoin: miter; stroke-linecap: square"/>
</g>
<g id="patch_194">
<path d="M 577.08 683.53 577.08 609.37" style="fill: none; stroke: #000000; stroke-width: 0.8; stroke-linejoin: miter; stroke-linecap: square"/>
</g>
<g id="patch_195">
<path d="M 340.2 683.53 577.08 683.53" style="fill: none; stroke: #000000; stroke-width: 0.8; stroke-linejoin: miter; stroke-linecap: square"/>
</g>
<g id="patch_196">
<path d="M 340.2 609.37 577.08 609.37" style="fill: none; stroke: #000000; stroke-width: 0.8; stroke-linejoin: miter; stroke-linecap: square"/>
</g>
<g id="patch_197">
<path d="M 352.3 624.85 564.05 624.85 564.05 626.8 352.3 626.8 z" clip-path="url(#p1a9d60e98b)" style="fill: #ffa500"/>
</g>
<g id="patch_198">
<path d="M 352.3 632.84 564.05 632.84 564.05 634.79 352.3 634.79 z" clip-path="url(#p1a9d60e98b)" style="fill: #ffa500"/>
</g>
<g id="patch_199">
<path d="M 352.3 640.69 564.05 640.69 564.05 642.64 352.3 642.64 z" clip-path="url(#p1a9d60e98b)" style="fill: #ffa500"/>
</g>
<g id="patch_200">
<path d="M 352.3 649.4 564.05 649.4 564.05 651.35 352.3 651.35 z" clip-path="url(#p1a9d60e98b)" style="fill: #ffa500"/>
</g>
<g id="patch_201">
<path d="M 352.3 657.25 564.05 657.25 564.05 659.2 352.3 659.2 z" clip-path="url(#p1a9d60e98b)" style="fill: #ffa500"/>
</g>
<g id="patch_202">
<path d="M 352.3 665.89 564.05 665.89 564.05 667.84 352.3 667.84 z" clip-path="url(#p1a9d60e98b)" style="fill: #ffa500"/>
</g>
<g id="patch_203">
<path d="M 349.78 645.84 354.17 645.84 354.17 647.71 349.78 647.71 z" clip-path="url(#p1a9d60e98b)" style="fill: #ffa500"/>
</g>
<g id="patch_204">
<path d="M 357.84 645.84 359.86 645.84 359.86 647.71 357.84 647.71 z" clip-path="url(#p1a9d60e98b)" style="fill: #ffa500"/>
</g>
<g id="patch_205">
<path d="M 387.36 645.84 389.52 645.84 389.52 647.71 387.36 647.71 z" clip-path="url(#p1a9d60e98b)" style="fill: #ffa500"/>
</g>
<g id="patch_206">
<path d="M 424.66 645.84 426.89 645.84 426.89 647.71 424.66 647.71 z" clip-path="url(#p1a9d60e98b)" style="fill: #ffa500"/>
</g>
<g id="patch_207">
<path d="M 462.38 645.84 464.33 645.84 464.33 647.71 462.38 647.71 z" clip-path="url(#p1a9d60e98b)" style="fill: #ffa500"/>
</g>
<g id="patch_208">
<path d="M 499.82 645.84 501.62 645.84 501.62 647.71 499.82 647.71 z" clip-path="url(#p1a9d60e98b)" style="fill: #ffa500"/>
</g>
<g id="patch_209">
<path d="M 537.12 645.84 539.28 645.84 539.28 647.71 537.12 647.71 z" clip-path="url(#p1a9d60e98b)" style="fill: #ffa500"/>
</g>
<g id="patch_210">
<path d="M 557.57 645.84 559.58 645.84 559.58 647.71 557.57 647.71 z" clip-path="url(#p1a9d60e98b)" style="fill: #ffa500"/>
</g>
<g id="patch_211">
<path d="M 562.32 645.84 567.36 645.84 567.36 647.71 562.32 647.71 z" clip-path="url(#p1a9d60e98b)" style="fill: #ffa500"/>
</g>
<g id="text_119">
<text style="font-size: 12px; font-family: 'DejaVu Sans', 'Liberation Sans', sans-serif; text-anchor: middle" x="458.64" y="603.37">NoRP 35GHz Stokes-V</text>
</g>
</g>
<g id="axes_13">
<g id="patch_212">
<path d="M 57.96 800.29 294.84 800.29 294.84 726.13 57.96 726.13 z" style="fill: #ffffff"/>
</g>
<g id="matplotlib.axis_25">
<g id="xtick_73">
<g id="line2d_139">
<g>
<use href="#m1504cfccaf" x="57.96" y="800.29" class="u0"/>
</g>
</g>
<g id="text_120">
<text style="font-size: 10px; font-family: 'DejaVu Sans', 'Liberation Sans', sans-serif; text-anchor: middle" x="57.96" y="814.89">0.0</text>
</g>
</g>
<g id="xtick_74">
<g id="line2d_140">
<g>
<use href="#m1504cfccaf" x="105.34" y="800.29" class="u0"/>
</g>
</g>
<g id="text_121">
<text style="font-size: 10px; font-family: 'DejaVu Sans', 'Liberation Sans', sans-serif; text-anchor: middle" x="105.34" y="814.89">0.2</text>
</g>
</g>
<g id="xtick_75">
<g id="line2d_141">
<g>
<use href="#m1504cfccaf" x="152.71" y="800.29" class="u0"/>
</g>
</g>
<g id="text_122">
<text style="font-size: 10px; font-family: 'DejaVu Sans', 'Liberation Sans', sans-serif; text-anchor: middle" x="152.71" y="814.89">0.4</text>
</g>
</g>
<g id="xtick_76">
<g id="line2d_142">
<g>
<use href="#m1504cfccaf" x="200.09" y="800.29" class="u0"/>
</g>
</g>
<g id="text_123">
<text style="font-size: 10px; font-family: 'DejaVu Sans', 'Liberation Sans', sans-serif; text-anchor: middle" x="200.09" y="814.89">0.6</text>
</g>
</g>
<g id="xtick_77">
<g id="line2d_143">
<g>
<use href="#m1504cfccaf" x="247.46" y="800.29" class="u0"/>
</g>
</g>
<g id="text_124">
<text style="font-size: 10px; font-family: 'DejaVu Sans', 'Liberation Sans', sans-serif; text-anchor: middle" x="247.46" y="814.89">0.8</text>
</g>
</g>
<g id="xtick_78">
<g id="line2d_144">
<g>
<use href="#m1504cfccaf" x="294.84" y="800.29" class="u0"/>
</g>
</g>
<g id="text_125">
<text style="font-size: 10px; font-family: 'DejaVu Sans', 'Liberation Sans', sans-serif; text-anchor: middle" x="294.84" y="814.89">1.0</text>
</g>
</g>
<g id="text_126">
<text style="font-size: 10px; font-family: 'DejaVu Sans', 'Liberation Sans', sans-serif; text-anchor: middle" x="176.4" y="828.57">Time[UT]</text>
</g>
</g>
<g id="matplotlib.axis_26">
<g id="ytick_30">
<g id="line2d_145">
<g>
<use href="#m5d545ce8f8" x="57.96" y="800.29" class="u0"/>
</g>
</g>
<g id="text_127">
<text style="font-size: 10px; font-family: 'DejaVu Sans', 'Liberation Sans', sans-serif; text-anchor: end" x="50.96" y="804.09">0.0</text>
</g>
</g>
<g id="ytick_31">
<g id="line2d_146">
<g>
<use href="#m5d545ce8f8" x="57.96" y="763.21" class="u0"/>
</g>
</g>
<g id="text_128">
<text style="font-size: 10px; font-family: 'DejaVu Sans', 'Liberation Sans', sans-serif; text-anchor: end" x="50.96" y="767.01">0.5</text>
</g>
</g>
<g id="ytick_32">
<g id="line2d_147">
<g>
<use href="#m5d545ce8f8" x="57.96" y="726.13" class="u0"/>
</g>
</g>
<g id="text_129">
<text style="font-size: 10px; font-family: 'DejaVu Sans', 'Liberation Sans', sans-serif; text-anchor: end" x="50.96" y="729.93">1.0</text>
</g>
</g>
<g id="text_130">
<text style="font-size: 10px; font-family: 'DejaVu Sans', 'Liberation Sans', sans-serif; text-anchor: middle" x="28.47" y="763.57" transform="rotate(-90 28.473 763.574)">Flux [SFU]</text>
</g>
</g>
<g id="patch_213">
<path d="M 57.96 800.29 57.96 726.13" style="fill: none; stroke: #000000; stroke-width: 0.8; stroke-linejoin: miter; stroke-linecap: square"/>
</g>
<g id="patch_214">
<path d="M 294.84 800.29 294.84 726.13" style="fill: none; stroke: #000000; stroke-width: 0.8; stroke-linejoin: miter; stroke-linecap: square"/>
</g>
<g id="patch_215">
<path d="M 57.96 800.29 294.84 800.29" style="fill: none; stroke: #000000; stroke-width: 0.8; stroke-linejoin: miter; stroke-linecap: square"/>
</g>
<g id="patch_216">
<path d="M 57.96 726.13 294.84 726.13" style="fill: none; stroke: #000000; stroke-width: 0.8; stroke-linejoin: miter; stroke-linecap: square"/>
</g>
<g id="text_131">
<text style="font-size: 20px; font-family: 'DejaVu Sans', 'Liberation Sans', sans-serif; text-anchor: start" x="140.87" y="770.63">No Data</text>
</g>
<g id="text_132">
<text style="font-size: 12px; font-family: 'DejaVu Sans', 'Liberation Sans', sans-serif; text-anchor: middle" x="176.4" y="720.13">NoRP 80GHz Stokes-I</text>
</g>
</g>
<g id="axes_14">
<g id="patch_217">
<path d="M 340.2 800.29 577.08 800.29 577.08 726.13 340.2 726.13 z" style="fill: #ffffff"/>
</g>
<g id="matplotlib.axis_27">
<g id="xtick_79">
<g id="line2d_148">
<g>
<use href="#m1504cfccaf" x="340.2" y="800.29" class="u0"/>
</g>
</g>
<g id="text_133">
<text style="font-size: 10px; font-family: 'DejaVu Sans', 'Liberation Sans', sans-serif; text-anchor: middle" x="340.2" y="814.89">0.0</text>
</g>
</g>
<g id="xtick_80">
<g id="line2d_149">
<g>
<use href="#m1504cfccaf" x="387.58" y="800.29" class="u0"/>
</g>
</g>
<g id="text_134">
<text style="font-size: 10px; font-family: 'DejaVu Sans', 'Liberation Sans', sans-serif; text-anchor: middle" x="387.58" y="814.89">0.2</text>
</g>
</g>
<g id="xtick_81">
<g id="line2d_150">
<g>
<use href="#m1504cfccaf" x="434.95" y="800.29" class="u0"/>
</g>
</g>
<g id="text_135">
<text style="font-size: 10px; font-family: 'DejaVu Sans', 'Liberation Sans', sans-serif; text-anchor: middle" x="434.95" y="814.89">0.4</text>
</g>
</g>
<g id="xtick_82">
<g id="line2d_151">
<g>
<use href="#m1504cfccaf" x="482.33" y="800.29" class="u0"/>
</g>
</g>
<g id="text_136">
<text style="font-size: 10px; font-family: 'DejaVu Sans', 'Liberation Sans', sans-serif; text-anchor: middle" x="482.33" y="814.89">0.6</text>
</g>
</g>
<g id="xtick_83">
<g id="line2d_152">
<g>
<use href="#m1504cfccaf" x="529.7" y="800.29" class="u0"/>
</g>
</g>
<g id="text_137">
<text style="font-size: 10px; font-family: 'DejaVu Sans', 'Liberation Sans', sans-serif; text-anchor: middle" x="529.7" y="814.89">0.8</text>
</g>
</g>
<g id="xtick_84">
<g id="line2d_153">
<g>
<use href="#m1504cfccaf" x="577.08" y="800.29" class="u0"/>
</g>
</g>
<g id="text_138">
<text style="font-size: 10px; font-family: 'DejaVu Sans', 'Liberation Sans', sans-serif; text-anchor: middle" x="577.08" y="814.89">1.0</text>
</g>
</g>
<g id="text_139">
<text style="font-size: 10px; font-family: 'DejaVu Sans', 'Liberation Sans', sans-serif; text-anchor: middle" x="458.64" y="828.57">Time[UT]</text>
</g>
</g>
<g id="matplotlib.axis_28">
<g id="ytick_33">
<g id="line2d_154">
<g>
<use href="#m5d545ce8f8" x="340.2" y="800.29" class="u0"/>
</g>
</g>
<g id="text_140">
<text style="font-size: 10px; font-family: 'DejaVu Sans', 'Liberation Sans', sans-serif; text-anchor: end" x="333.2" y="804.09">0.0</text>
</g>
</g>
<g id="ytick_34">
<g id="line2d_155">
<g>
<use href="#m5d545ce8f8" x="340.2" y="763.21" class="u0"/>
</g>
</g>
<g id="text_141">
<text style="font-size: 10px; font-family: 'DejaVu Sans', 'Liberation Sans', sans-serif; text-anchor: end" x="333.2" y="767.01">0.5</text>
</g>
</g>
<g id="ytick_35">
<g id="line2d_156">
<g>
<use href="#m5d545ce8f8" x="340.2" y="726.13" class="u0"/>
</g>
</g>
<g id="text_142">
<text style="font-size: 10px; font-family: 'DejaVu Sans', 'Liberation Sans', sans-serif; text-anchor: end" x="333.2" y="729.93">1.0</text>
</g>
</g>
</g>
<g id="patch_218">
<path d="M 340.2 800.29 340.2 726.13" style="fill: none; stroke: #000000; stroke-width: 0.8; stroke-linejoin: miter; stroke-linecap: square"/>
</g>
<g id="patch_219">
<path d="M 577.08 800.29 577.08 726.13" style="fill: none; stroke: #000000; stroke-width: 0.8; stroke-linejoin: miter; stroke-linecap: square"/>
</g>
<g id="patch_220">
<path d="M 340.2 800.29 577.08 800.29" style="fill: none; stroke: #000000; stroke-width: 0.8; stroke-linejoin: miter; stroke-linecap: square"/>
</g>
<g id="patch_221">
<path d="M 340.2 726.13 577.08 726.13" style="fill: none; stroke: #000000; stroke-width: 0.8; stroke-linejoin: miter; stroke-linecap: square"/>
</g>
<g id="text_143">
<text style="font-size: 20px; font-family: 'DejaVu Sans', 'Liberation Sans', sans-serif; text-anchor: start" x="423.11" y="770.63">No Data</text>
</g>
<g id="text_144">
<text style="font-size: 12px; font-family: 'DejaVu Sans', 'Liberation Sans', sans-serif; text-anchor: middle" x="458.64" y="720.13">NoRP 80GHz Stokes-V</text>
</g>
</g>
</g>
<defs>
<clipPath id="pdfc930a6b6">
<rect x="57.96" y="25.56" width="236.88" height="74.16"/>
</clipPath>
<clipPath id="p4c60e85356">
<rect x="340.2" y="25.56" width="236.88" height="74.16"/>
</clipPath>
<clipPath id="p3b2bc74e3e">
<rect x="57.96" y="142.32" width="236.88" height="74.16"/>
</clipPath>
<clipPath id="pdf2b5f52ae">
<rect x="340.2" y="142.32" width="236.88" height="74.16"/>
</clipPath>
<clipPath id="pb6f1a7a88f">
<rect x="57.96" y="259.08" width="236.88" height="74.16"/>
</clipPath>
<clipPath id="p0045b7914a">
<rect x="340.2" y="259.08" width="236.88" height="74.16"/>
</clipPath>
<clipPath id="pe800006190">
<rect x="57.96" y="375.85" width="236.88" height="74.16"/>
</clipPath>
<clipPath id="p80e1c239cc">
<rect x="340.2" y="375.85" width="236.88" height="74.16"/>
</clipPath>
<clipPath id="pf8c37d10ed">
<rect x="57.96" y="492.61" width="236.88" height="74.16"/>
</clipPath>
<clipPath id="p73ddfb0e2d">
<rect x="340.2" y="492.61" width="236.88" height="74.16"/>
</clipPath>
<clipPath id="p17516c19e8">
<rect x="57.96" y="609.37" width="236.88" height="74.16"/>
</clipPath>
<clipPath id="p1a9d60e98b">
<rect x="340.2" y="609.37" width="236.88" height="74.16"/>
</clipPath>
</defs>
</svg>

</body></html>
